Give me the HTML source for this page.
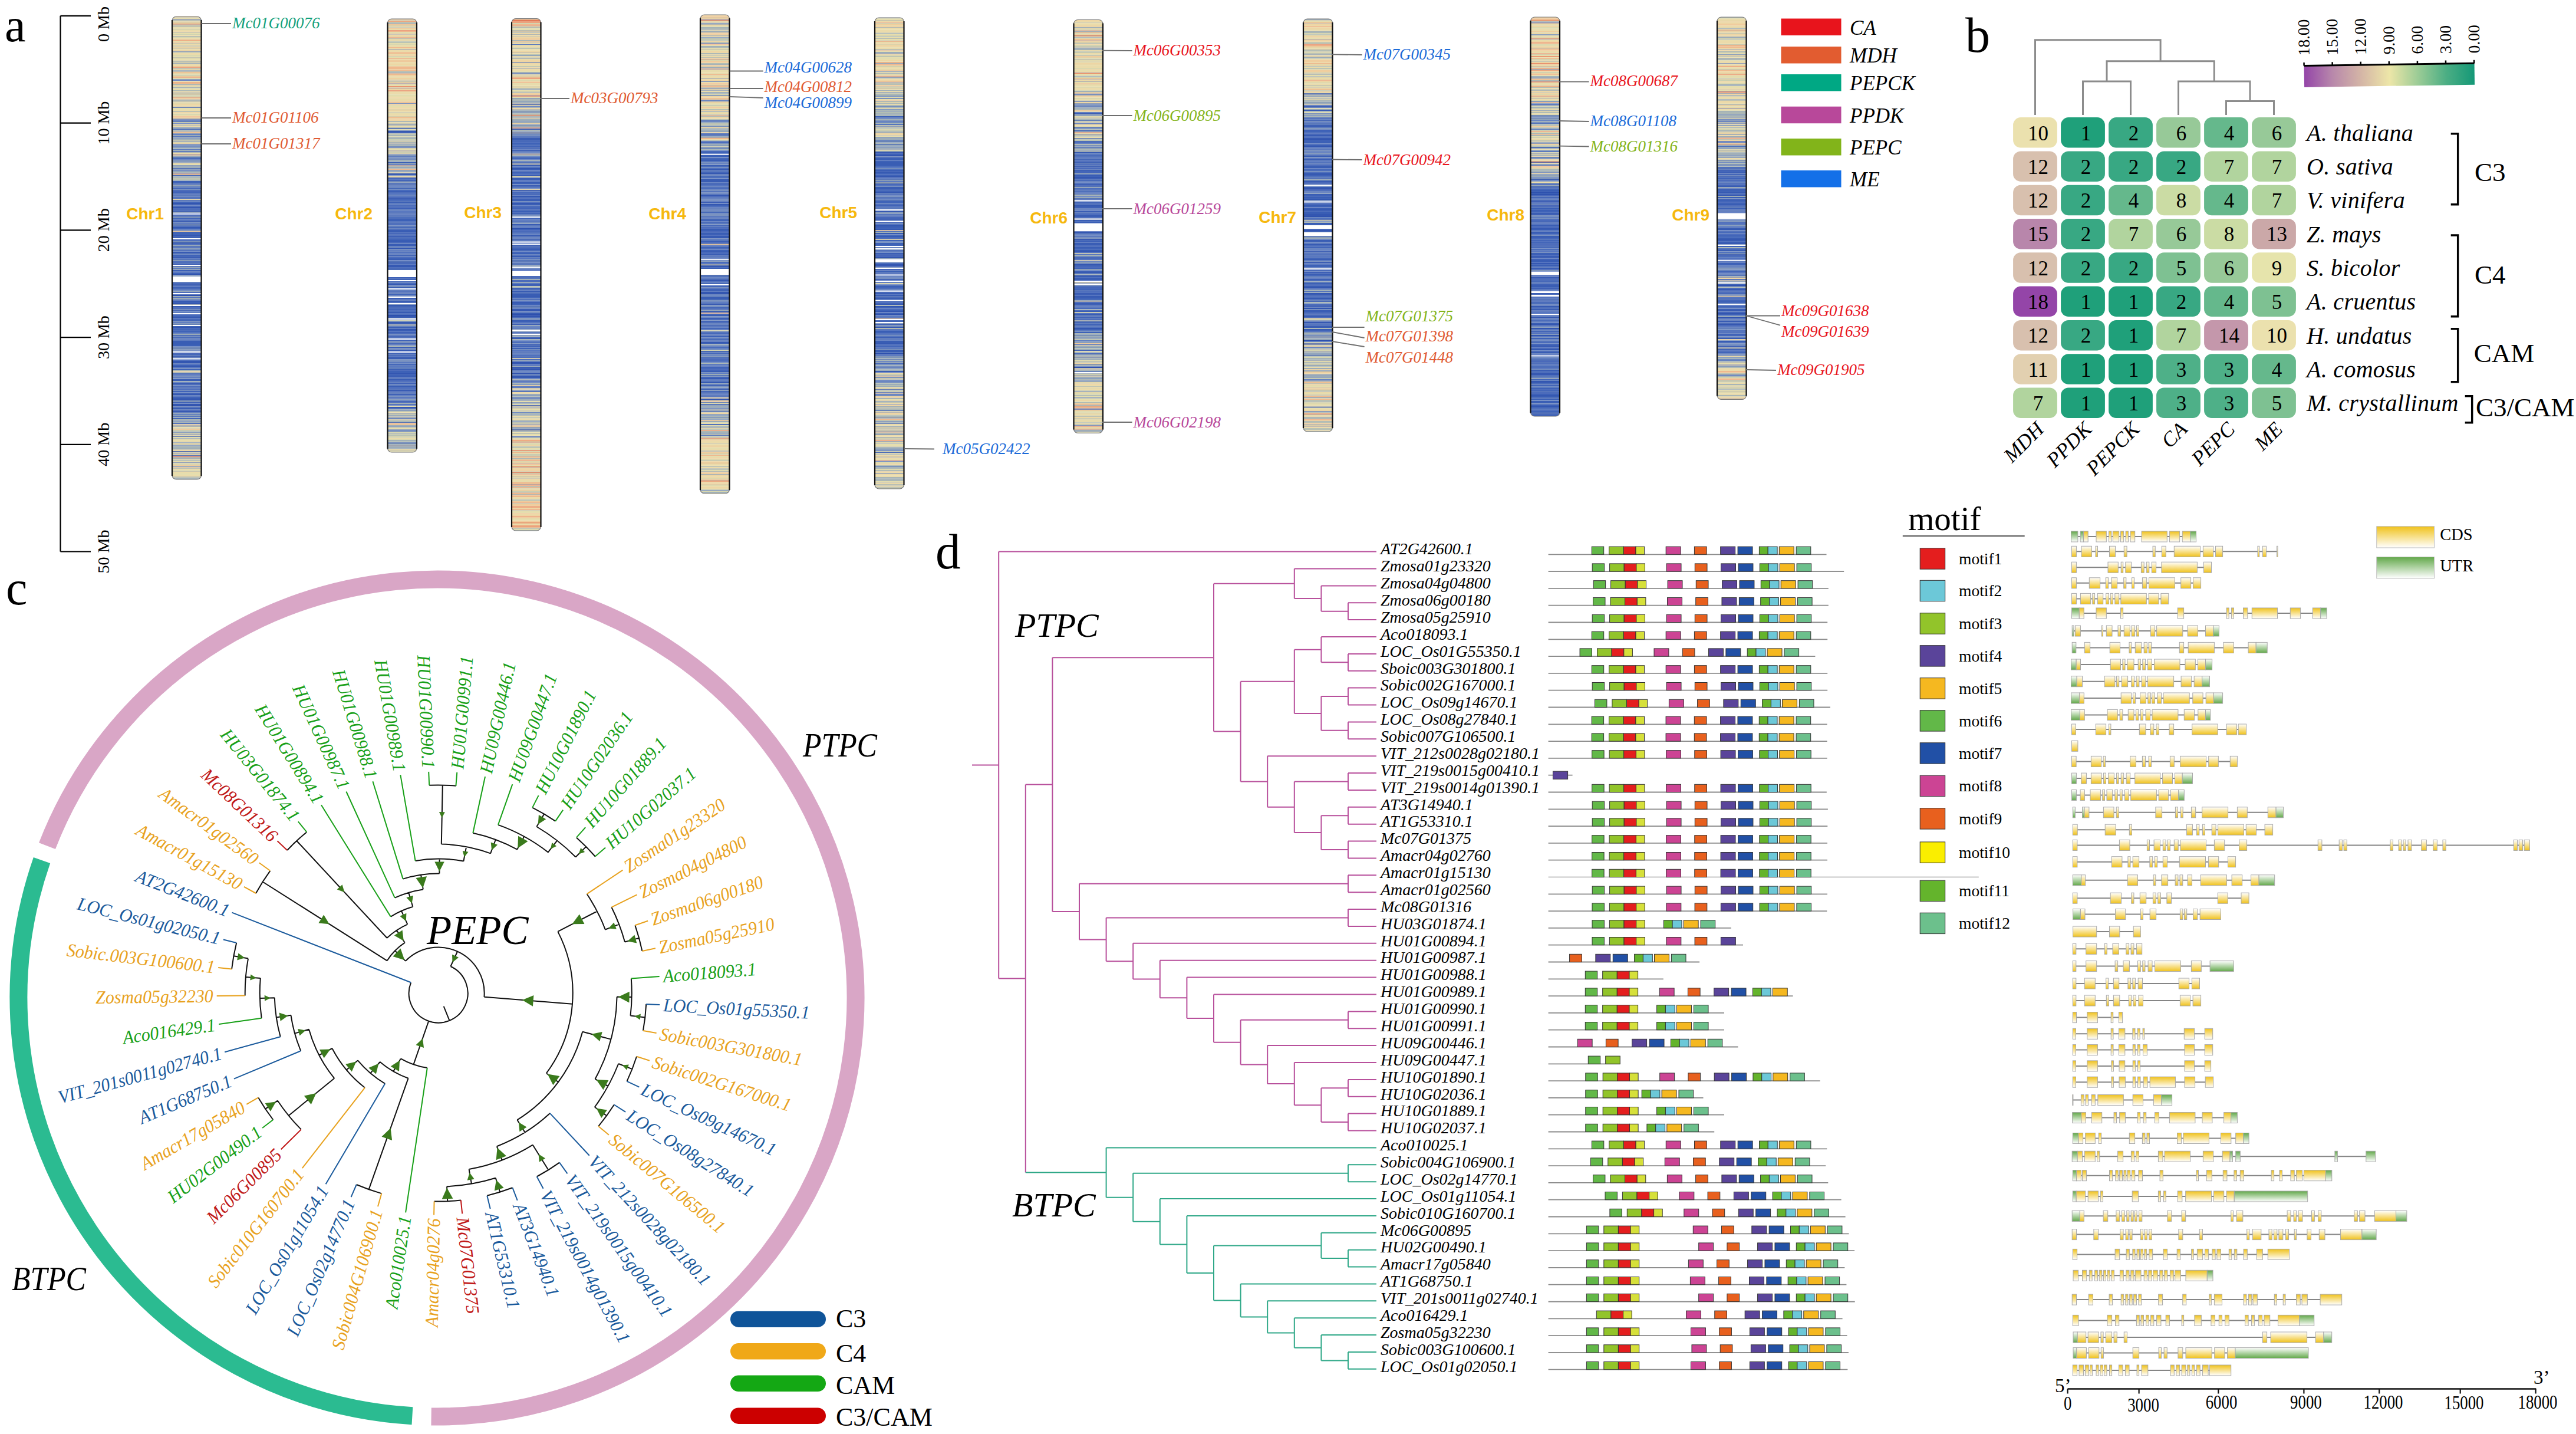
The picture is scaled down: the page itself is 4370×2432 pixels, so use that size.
<!DOCTYPE html>
<html><head><meta charset="utf-8"><title>figure</title>
<style>html,body{margin:0;padding:0;background:#fff;overflow:hidden} svg{display:block}</style></head>
<body><svg width="4370" height="2432" viewBox="0 0 4370 2432">
<defs><clipPath id="chrclip0"><rect x="0" y="0" width="49.5" height="785.0" rx="7"/></clipPath>
<clipPath id="chrclip1"><rect x="0" y="0" width="49.5" height="735.0" rx="7"/></clipPath>
<clipPath id="chrclip2"><rect x="0" y="0" width="49.5" height="868.5" rx="7"/></clipPath>
<clipPath id="chrclip3"><rect x="0" y="0" width="49.5" height="812.0" rx="7"/></clipPath>
<clipPath id="chrclip4"><rect x="0" y="0" width="49.5" height="799.0" rx="7"/></clipPath>
<clipPath id="chrclip5"><rect x="0" y="0" width="49.5" height="701.0" rx="7"/></clipPath>
<clipPath id="chrclip6"><rect x="0" y="0" width="49.5" height="700.0" rx="7"/></clipPath>
<clipPath id="chrclip7"><rect x="0" y="0" width="49.5" height="677.0" rx="7"/></clipPath>
<clipPath id="chrclip8"><rect x="0" y="0" width="49.5" height="648.5" rx="7"/></clipPath></defs>
<rect width="4370" height="2432" fill="#fff"/>
<text x="8" y="70" font-family="'Liberation Serif', serif" font-size="80">a</text>
<g stroke="#000" stroke-width="2.2" fill="none">
<path d="M102.5,26.8 V935.5"/>
<path d="M102.5,26.8 H154"/>
<path d="M102.5,208.6 H154"/>
<path d="M102.5,390.3 H154"/>
<path d="M102.5,572.1 H154"/>
<path d="M102.5,753.8 H154"/>
<path d="M102.5,935.5 H154"/>
</g>
<text transform="translate(184.5,41.0) rotate(-90)" text-anchor="middle" font-family="'Liberation Serif', serif" font-size="28">0 Mb</text>
<text transform="translate(184.5,208.6) rotate(-90)" text-anchor="middle" font-family="'Liberation Serif', serif" font-size="28">10 Mb</text>
<text transform="translate(184.5,390.3) rotate(-90)" text-anchor="middle" font-family="'Liberation Serif', serif" font-size="28">20 Mb</text>
<text transform="translate(184.5,572.1) rotate(-90)" text-anchor="middle" font-family="'Liberation Serif', serif" font-size="28">30 Mb</text>
<text transform="translate(184.5,753.8) rotate(-90)" text-anchor="middle" font-family="'Liberation Serif', serif" font-size="28">40 Mb</text>
<text transform="translate(184.5,935.5) rotate(-90)" text-anchor="middle" font-family="'Liberation Serif', serif" font-size="28">50 Mb</text>
<g transform="translate(292,28)"><g clip-path="url(#chrclip0)">
<path d="M0 296.4h49.5v1.5H0zM0 316.8h49.5v1.5H0zM0 330.0h49.5v1.5H0zM0 332.4h49.5v2.7H0zM0 356.4h49.5v1.5H0zM0 382.8h49.5v1.5H0zM0 385.2h49.5v1.5H0zM0 390.0h49.5v1.5H0zM0 408.0h49.5v1.5H0zM0 436.8h49.5v1.5H0zM0 452.4h49.5v1.5H0zM0 459.6h49.5v1.5H0zM0 471.6h49.5v2.7H0zM0 492.0h49.5v1.5H0zM0 510.0h49.5v1.5H0zM0 570.0h49.5v1.5H0zM0 576.0h49.5v1.5H0zM0 660.0h49.5v1.5H0zM0 667.2h49.5v1.5H0z" fill="#2d50ae"/>
<path d="M0 177.6h49.5v1.5H0zM0 284.4h49.5v1.5H0zM0 286.8h49.5v1.5H0zM0 295.2h49.5v1.5H0zM0 322.8h49.5v2.7H0zM0 336.0h49.5v1.5H0zM0 346.8h49.5v1.5H0zM0 351.6h49.5v1.5H0zM0 370.8h49.5v2.7H0zM0 376.8h49.5v2.7H0zM0 399.6h49.5v1.5H0zM0 414.0h49.5v1.5H0zM0 416.4h49.5v1.5H0zM0 420.0h49.5v1.5H0zM0 423.6h49.5v1.5H0zM0 442.8h49.5v1.5H0zM0 453.6h49.5v1.5H0zM0 456.0h49.5v1.5H0zM0 481.2h49.5v2.7H0zM0 486.0h49.5v2.7H0zM0 494.4h49.5v1.5H0zM0 498.0h49.5v1.5H0zM0 505.2h49.5v1.5H0zM0 517.2h49.5v1.5H0zM0 525.6h49.5v3.9H0zM0 540.0h49.5v1.5H0zM0 571.2h49.5v1.5H0zM0 577.2h49.5v1.5H0zM0 583.2h49.5v5.1H0zM0 589.2h49.5v1.5H0zM0 592.8h49.5v1.5H0zM0 606.0h49.5v1.5H0zM0 621.6h49.5v1.5H0zM0 632.4h49.5v1.5H0zM0 640.8h49.5v1.5H0zM0 648.0h49.5v2.7H0zM0 656.4h49.5v3.9H0zM0 668.4h49.5v2.7H0zM0 736.8h49.5v1.5H0zM0 746.4h49.5v1.5H0z" fill="#3356b1"/>
<path d="M0 153.6h49.5v1.5H0zM0 199.2h49.5v1.5H0zM0 211.2h49.5v1.5H0zM0 229.2h49.5v1.5H0zM0 238.8h49.5v2.7H0zM0 256.8h49.5v1.5H0zM0 279.6h49.5v1.5H0zM0 290.4h49.5v1.5H0zM0 294.0h49.5v1.5H0zM0 298.8h49.5v1.5H0zM0 302.4h49.5v1.5H0zM0 310.8h49.5v1.5H0zM0 313.2h49.5v1.5H0zM0 315.6h49.5v1.5H0zM0 318.0h49.5v1.5H0zM0 325.2h49.5v2.7H0zM0 328.8h49.5v1.5H0zM0 337.2h49.5v1.5H0zM0 340.8h49.5v1.5H0zM0 355.2h49.5v1.5H0zM0 357.6h49.5v1.5H0zM0 360.0h49.5v1.5H0zM0 373.2h49.5v2.7H0zM0 379.2h49.5v1.5H0zM0 384.0h49.5v1.5H0zM0 396.0h49.5v1.5H0zM0 400.8h49.5v1.5H0zM0 405.6h49.5v1.5H0zM0 411.6h49.5v1.5H0zM0 415.2h49.5v1.5H0zM0 418.8h49.5v1.5H0zM0 427.2h49.5v1.5H0zM0 429.6h49.5v1.5H0zM0 433.2h49.5v1.5H0zM0 435.6h49.5v1.5H0zM0 440.4h49.5v1.5H0zM0 447.6h49.5v1.5H0zM0 464.4h49.5v1.5H0zM0 468.0h49.5v1.5H0zM0 475.2h49.5v1.5H0zM0 484.8h49.5v1.5H0zM0 490.8h49.5v1.5H0zM0 493.2h49.5v1.5H0zM0 507.6h49.5v1.5H0zM0 513.6h49.5v1.5H0zM0 523.2h49.5v1.5H0zM0 537.6h49.5v1.5H0zM0 541.2h49.5v1.5H0zM0 543.6h49.5v1.5H0zM0 549.6h49.5v7.5H0zM0 558.0h49.5v1.5H0zM0 560.4h49.5v1.5H0zM0 562.8h49.5v1.5H0zM0 573.6h49.5v1.5H0zM0 580.8h49.5v1.5H0zM0 591.6h49.5v1.5H0zM0 608.4h49.5v1.5H0zM0 614.4h49.5v1.5H0zM0 616.8h49.5v1.5H0zM0 622.8h49.5v1.5H0zM0 627.6h49.5v1.5H0zM0 631.2h49.5v1.5H0zM0 638.4h49.5v2.7H0zM0 643.2h49.5v1.5H0zM0 645.6h49.5v2.7H0zM0 650.4h49.5v1.5H0zM0 652.8h49.5v2.7H0zM0 662.4h49.5v3.9H0zM0 680.4h49.5v1.5H0zM0 711.6h49.5v1.5H0z" fill="#395db4"/>
<path d="M0 208.8h49.5v1.5H0zM0 224.4h49.5v1.5H0zM0 242.4h49.5v1.5H0zM0 259.2h49.5v1.5H0zM0 268.8h49.5v1.5H0zM0 278.4h49.5v1.5H0zM0 280.8h49.5v1.5H0zM0 289.2h49.5v1.5H0zM0 297.6h49.5v1.5H0zM0 301.2h49.5v1.5H0zM0 306.0h49.5v1.5H0zM0 314.4h49.5v1.5H0zM0 321.6h49.5v1.5H0zM0 338.4h49.5v1.5H0zM0 342.0h49.5v1.5H0zM0 349.2h49.5v1.5H0zM0 354.0h49.5v1.5H0zM0 358.8h49.5v1.5H0zM0 362.4h49.5v1.5H0zM0 364.8h49.5v6.3H0zM0 380.4h49.5v1.5H0zM0 386.4h49.5v1.5H0zM0 391.2h49.5v1.5H0zM0 398.4h49.5v1.5H0zM0 403.2h49.5v2.7H0zM0 409.2h49.5v1.5H0zM0 421.2h49.5v1.5H0zM0 430.8h49.5v1.5H0zM0 434.4h49.5v1.5H0zM0 445.2h49.5v2.7H0zM0 451.2h49.5v1.5H0zM0 458.4h49.5v1.5H0zM0 462.0h49.5v1.5H0zM0 476.4h49.5v1.5H0zM0 483.6h49.5v1.5H0zM0 500.4h49.5v1.5H0zM0 502.8h49.5v2.7H0zM0 506.4h49.5v1.5H0zM0 511.2h49.5v1.5H0zM0 514.8h49.5v1.5H0zM0 522.0h49.5v1.5H0zM0 524.4h49.5v1.5H0zM0 529.2h49.5v2.7H0zM0 532.8h49.5v3.9H0zM0 547.2h49.5v1.5H0zM0 556.8h49.5v1.5H0zM0 568.8h49.5v1.5H0zM0 572.4h49.5v1.5H0zM0 579.6h49.5v1.5H0zM0 582.0h49.5v1.5H0zM0 590.4h49.5v1.5H0zM0 594.0h49.5v1.5H0zM0 597.6h49.5v2.7H0zM0 615.6h49.5v1.5H0zM0 634.8h49.5v2.7H0zM0 673.2h49.5v1.5H0zM0 676.8h49.5v1.5H0zM0 681.6h49.5v1.5H0zM0 744.0h49.5v1.5H0z" fill="#3f63b8"/>
<path d="M0 190.8h49.5v1.5H0zM0 206.4h49.5v1.5H0zM0 228.0h49.5v1.5H0zM0 291.6h49.5v1.5H0zM0 307.2h49.5v2.7H0zM0 319.2h49.5v1.5H0zM0 334.8h49.5v1.5H0zM0 343.2h49.5v1.5H0zM0 345.6h49.5v1.5H0zM0 406.8h49.5v1.5H0zM0 426.0h49.5v1.5H0zM0 441.6h49.5v1.5H0zM0 450.0h49.5v1.5H0zM0 457.2h49.5v1.5H0zM0 460.8h49.5v1.5H0zM0 508.8h49.5v1.5H0zM0 512.4h49.5v1.5H0zM0 531.6h49.5v1.5H0zM0 565.2h49.5v1.5H0zM0 567.6h49.5v1.5H0zM0 595.2h49.5v1.5H0zM0 604.8h49.5v1.5H0zM0 610.8h49.5v1.5H0zM0 626.4h49.5v1.5H0zM0 644.4h49.5v1.5H0zM0 674.4h49.5v1.5H0zM0 690.0h49.5v1.5H0z" fill="#4d6ebb"/>
<path d="M0 33.6h49.5v1.5H0zM0 174.0h49.5v1.5H0zM0 181.2h49.5v1.5H0zM0 187.2h49.5v1.5H0zM0 189.6h49.5v1.5H0zM0 200.4h49.5v1.5H0zM0 202.8h49.5v1.5H0zM0 241.2h49.5v1.5H0zM0 247.2h49.5v1.5H0zM0 265.2h49.5v1.5H0zM0 282.0h49.5v2.7H0zM0 344.4h49.5v1.5H0zM0 350.4h49.5v1.5H0zM0 375.6h49.5v1.5H0zM0 394.8h49.5v1.5H0zM0 410.4h49.5v1.5H0zM0 444.0h49.5v1.5H0zM0 466.8h49.5v1.5H0zM0 470.4h49.5v1.5H0zM0 518.4h49.5v1.5H0zM0 548.4h49.5v1.5H0zM0 624.0h49.5v1.5H0zM0 630.0h49.5v1.5H0zM0 670.8h49.5v1.5H0zM0 678.0h49.5v1.5H0zM0 685.2h49.5v1.5H0zM0 688.8h49.5v1.5H0zM0 715.2h49.5v1.5H0z" fill="#5c7abe"/>
<path d="M0 4.8h49.5v1.5H0zM0 106.8h49.5v2.7H0zM0 135.6h49.5v1.5H0zM0 175.2h49.5v2.7H0zM0 180.0h49.5v1.5H0zM0 198.0h49.5v1.5H0zM0 218.4h49.5v2.7H0zM0 244.8h49.5v1.5H0zM0 252.0h49.5v1.5H0zM0 260.4h49.5v1.5H0zM0 300.0h49.5v1.5H0zM0 304.8h49.5v1.5H0zM0 320.4h49.5v1.5H0zM0 327.6h49.5v1.5H0zM0 361.2h49.5v1.5H0zM0 397.2h49.5v1.5H0zM0 417.6h49.5v1.5H0zM0 422.4h49.5v1.5H0zM0 432.0h49.5v1.5H0zM0 454.8h49.5v1.5H0zM0 463.2h49.5v1.5H0zM0 469.2h49.5v1.5H0zM0 480.0h49.5v1.5H0zM0 495.6h49.5v1.5H0zM0 499.2h49.5v1.5H0zM0 501.6h49.5v1.5H0zM0 519.6h49.5v1.5H0zM0 536.4h49.5v1.5H0zM0 544.8h49.5v2.7H0zM0 559.2h49.5v1.5H0zM0 588.0h49.5v1.5H0zM0 602.4h49.5v1.5H0zM0 607.2h49.5v1.5H0zM0 612.0h49.5v1.5H0zM0 619.2h49.5v2.7H0zM0 625.2h49.5v1.5H0zM0 628.8h49.5v1.5H0zM0 637.2h49.5v1.5H0zM0 642.0h49.5v1.5H0zM0 655.2h49.5v1.5H0zM0 666.0h49.5v1.5H0zM0 692.4h49.5v1.5H0zM0 705.6h49.5v1.5H0zM0 708.0h49.5v1.5H0zM0 756.0h49.5v1.5H0z" fill="#6b86c1"/>
<path d="M0 91.2h49.5v1.5H0zM0 184.8h49.5v1.5H0zM0 204.0h49.5v1.5H0zM0 216.0h49.5v2.7H0zM0 222.0h49.5v1.5H0zM0 225.6h49.5v1.5H0zM0 288.0h49.5v1.5H0zM0 292.8h49.5v1.5H0zM0 303.6h49.5v1.5H0zM0 312.0h49.5v1.5H0zM0 348.0h49.5v1.5H0zM0 388.8h49.5v1.5H0zM0 392.4h49.5v1.5H0zM0 402.0h49.5v1.5H0zM0 438.0h49.5v1.5H0zM0 478.8h49.5v1.5H0zM0 489.6h49.5v1.5H0zM0 496.8h49.5v1.5H0zM0 542.4h49.5v1.5H0zM0 566.4h49.5v1.5H0zM0 574.8h49.5v1.5H0zM0 578.4h49.5v1.5H0zM0 596.4h49.5v1.5H0zM0 609.6h49.5v1.5H0zM0 613.2h49.5v1.5H0zM0 633.6h49.5v1.5H0zM0 661.2h49.5v1.5H0zM0 722.4h49.5v1.5H0zM0 727.2h49.5v1.5H0zM0 762.0h49.5v1.5H0z" fill="#7b93c0"/>
<path d="M0 16.8h49.5v1.5H0zM0 52.8h49.5v1.5H0zM0 58.8h49.5v1.5H0zM0 120.0h49.5v1.5H0zM0 140.4h49.5v1.5H0zM0 171.6h49.5v1.5H0zM0 232.8h49.5v1.5H0zM0 236.4h49.5v1.5H0zM0 243.6h49.5v1.5H0zM0 261.6h49.5v1.5H0zM0 270.0h49.5v1.5H0zM0 439.2h49.5v1.5H0zM0 516.0h49.5v1.5H0zM0 564.0h49.5v1.5H0zM0 686.4h49.5v1.5H0zM0 704.4h49.5v1.5H0zM0 726.0h49.5v1.5H0zM0 740.4h49.5v1.5H0z" fill="#8ca0bd"/>
<path d="M0 8.4h49.5v1.5H0zM0 26.4h49.5v1.5H0zM0 44.4h49.5v1.5H0zM0 50.4h49.5v1.5H0zM0 68.4h49.5v1.5H0zM0 78.0h49.5v2.7H0zM0 87.6h49.5v1.5H0zM0 92.4h49.5v1.5H0zM0 105.6h49.5v1.5H0zM0 128.4h49.5v1.5H0zM0 141.6h49.5v1.5H0zM0 144.0h49.5v1.5H0zM0 160.8h49.5v1.5H0zM0 192.0h49.5v1.5H0zM0 194.4h49.5v1.5H0zM0 205.2h49.5v1.5H0zM0 213.6h49.5v1.5H0zM0 220.8h49.5v1.5H0zM0 237.6h49.5v1.5H0zM0 253.2h49.5v3.9H0zM0 262.8h49.5v1.5H0zM0 272.4h49.5v1.5H0zM0 277.2h49.5v1.5H0zM0 285.6h49.5v1.5H0zM0 331.2h49.5v1.5H0zM0 339.6h49.5v1.5H0zM0 387.6h49.5v1.5H0zM0 393.6h49.5v1.5H0zM0 412.8h49.5v1.5H0zM0 424.8h49.5v1.5H0zM0 428.4h49.5v1.5H0zM0 465.6h49.5v1.5H0zM0 675.6h49.5v1.5H0zM0 679.2h49.5v1.5H0zM0 694.8h49.5v1.5H0zM0 698.4h49.5v1.5H0zM0 703.2h49.5v1.5H0zM0 721.2h49.5v1.5H0zM0 729.6h49.5v1.5H0zM0 732.0h49.5v2.7H0zM0 739.2h49.5v1.5H0zM0 748.8h49.5v1.5H0zM0 752.4h49.5v1.5H0zM0 763.2h49.5v1.5H0zM0 770.4h49.5v1.5H0zM0 781.2h49.5v2.7H0z" fill="#9cacb9"/>
<path d="M0 1.2h49.5v1.5H0zM0 6.0h49.5v1.5H0zM0 13.2h49.5v2.7H0zM0 20.4h49.5v1.5H0zM0 48.0h49.5v1.5H0zM0 60.0h49.5v1.5H0zM0 74.4h49.5v2.7H0zM0 98.4h49.5v1.5H0zM0 114.0h49.5v2.7H0zM0 124.8h49.5v1.5H0zM0 152.4h49.5v1.5H0zM0 188.4h49.5v1.5H0zM0 193.2h49.5v1.5H0zM0 207.6h49.5v1.5H0zM0 223.2h49.5v1.5H0zM0 226.8h49.5v1.5H0zM0 235.2h49.5v1.5H0zM0 246.0h49.5v1.5H0zM0 258.0h49.5v1.5H0zM0 264.0h49.5v1.5H0zM0 271.2h49.5v1.5H0zM0 273.6h49.5v1.5H0zM0 276.0h49.5v1.5H0zM0 352.8h49.5v1.5H0zM0 381.6h49.5v1.5H0zM0 474.0h49.5v1.5H0zM0 477.6h49.5v1.5H0zM0 520.8h49.5v1.5H0zM0 538.8h49.5v1.5H0zM0 561.6h49.5v1.5H0zM0 618.0h49.5v1.5H0zM0 651.6h49.5v1.5H0zM0 672.0h49.5v1.5H0zM0 682.8h49.5v2.7H0zM0 687.6h49.5v1.5H0zM0 700.8h49.5v1.5H0zM0 710.4h49.5v1.5H0zM0 728.4h49.5v1.5H0zM0 730.8h49.5v1.5H0zM0 742.8h49.5v1.5H0zM0 751.2h49.5v1.5H0zM0 759.6h49.5v1.5H0zM0 765.6h49.5v1.5H0zM0 778.8h49.5v1.5H0zM0 783.6h49.5v2.7H0z" fill="#acb8b6"/>
<path d="M0 90.0h49.5v1.5H0zM0 129.6h49.5v1.5H0zM0 132.0h49.5v1.5H0zM0 201.6h49.5v1.5H0zM0 267.6h49.5v1.5H0zM0 448.8h49.5v1.5H0zM0 600.0h49.5v1.5H0z" fill="#bbc4b3"/>
<path d="M0 30.0h49.5v1.5H0zM0 64.8h49.5v1.5H0zM0 126.0h49.5v1.5H0zM0 133.2h49.5v1.5H0zM0 164.4h49.5v1.5H0z" fill="#cad0b1"/>
<path d="M0 34.8h49.5v1.5H0zM0 38.4h49.5v1.5H0zM0 70.8h49.5v1.5H0zM0 99.6h49.5v1.5H0zM0 104.4h49.5v1.5H0zM0 117.6h49.5v1.5H0zM0 121.2h49.5v1.5H0zM0 146.4h49.5v1.5H0zM0 165.6h49.5v1.5H0zM0 178.8h49.5v1.5H0zM0 274.8h49.5v1.5H0zM0 702.0h49.5v1.5H0zM0 714.0h49.5v1.5H0zM0 757.2h49.5v1.5H0zM0 769.2h49.5v1.5H0z" fill="#d8d7af"/>
<path d="M0 2.4h49.5v1.5H0zM0 10.8h49.5v1.5H0zM0 18.0h49.5v1.5H0zM0 21.6h49.5v1.5H0zM0 24.0h49.5v1.5H0zM0 27.6h49.5v2.7H0zM0 32.4h49.5v1.5H0zM0 36.0h49.5v1.5H0zM0 42.0h49.5v1.5H0zM0 56.4h49.5v1.5H0zM0 66.0h49.5v2.7H0zM0 72.0h49.5v1.5H0zM0 86.4h49.5v1.5H0zM0 96.0h49.5v2.7H0zM0 122.4h49.5v1.5H0zM0 134.4h49.5v1.5H0zM0 150.0h49.5v1.5H0zM0 154.8h49.5v3.9H0zM0 159.6h49.5v1.5H0zM0 168.0h49.5v1.5H0zM0 210.0h49.5v1.5H0zM0 212.4h49.5v1.5H0zM0 230.4h49.5v1.5H0zM0 249.6h49.5v2.7H0zM0 488.4h49.5v1.5H0zM0 603.6h49.5v1.5H0zM0 696.0h49.5v1.5H0zM0 706.8h49.5v1.5H0zM0 712.8h49.5v1.5H0zM0 716.4h49.5v1.5H0zM0 718.8h49.5v1.5H0zM0 753.6h49.5v1.5H0zM0 758.4h49.5v1.5H0zM0 766.8h49.5v1.5H0zM0 774.0h49.5v3.9H0z" fill="#e5deae"/>
<path d="M0 3.6h49.5v1.5H0zM0 7.2h49.5v1.5H0zM0 15.6h49.5v1.5H0zM0 19.2h49.5v1.5H0zM0 22.8h49.5v1.5H0zM0 31.2h49.5v1.5H0zM0 40.8h49.5v1.5H0zM0 45.6h49.5v2.7H0zM0 49.2h49.5v1.5H0zM0 54.0h49.5v2.7H0zM0 61.2h49.5v3.9H0zM0 69.6h49.5v1.5H0zM0 73.2h49.5v1.5H0zM0 76.8h49.5v1.5H0zM0 80.4h49.5v3.9H0zM0 88.8h49.5v1.5H0zM0 100.8h49.5v1.5H0zM0 103.2h49.5v1.5H0zM0 109.2h49.5v1.5H0zM0 118.8h49.5v1.5H0zM0 123.6h49.5v1.5H0zM0 142.8h49.5v1.5H0zM0 145.2h49.5v1.5H0zM0 147.6h49.5v1.5H0zM0 158.4h49.5v1.5H0zM0 163.2h49.5v1.5H0zM0 166.8h49.5v1.5H0zM0 182.4h49.5v2.7H0zM0 186.0h49.5v1.5H0zM0 196.8h49.5v1.5H0zM0 231.6h49.5v1.5H0zM0 248.4h49.5v1.5H0zM0 309.6h49.5v1.5H0zM0 697.2h49.5v1.5H0zM0 709.2h49.5v1.5H0zM0 717.6h49.5v1.5H0zM0 720.0h49.5v1.5H0zM0 723.6h49.5v2.7H0zM0 735.6h49.5v1.5H0zM0 738.0h49.5v1.5H0zM0 747.6h49.5v1.5H0zM0 750.0h49.5v1.5H0zM0 754.8h49.5v1.5H0zM0 768.0h49.5v1.5H0zM0 771.6h49.5v2.7H0zM0 777.6h49.5v1.5H0zM0 780.0h49.5v1.5H0z" fill="#ebdbaa"/>
<path d="M0 0.0h49.5v1.5H0zM0 9.6h49.5v1.5H0zM0 25.2h49.5v1.5H0zM0 37.2h49.5v1.5H0zM0 51.6h49.5v1.5H0zM0 84.0h49.5v1.5H0zM0 93.6h49.5v1.5H0zM0 110.4h49.5v1.5H0zM0 116.4h49.5v1.5H0zM0 127.2h49.5v1.5H0zM0 139.2h49.5v1.5H0zM0 148.8h49.5v1.5H0zM0 151.2h49.5v1.5H0zM0 162.0h49.5v1.5H0zM0 170.4h49.5v1.5H0zM0 214.8h49.5v1.5H0zM0 601.2h49.5v1.5H0zM0 691.2h49.5v1.5H0zM0 693.6h49.5v1.5H0zM0 734.4h49.5v1.5H0zM0 741.6h49.5v1.5H0z" fill="#eed5a4"/>
<path d="M0 43.2h49.5v1.5H0zM0 57.6h49.5v1.5H0zM0 130.8h49.5v1.5H0zM0 138.0h49.5v1.5H0zM0 172.8h49.5v1.5H0zM0 363.6h49.5v1.5H0zM0 699.6h49.5v1.5H0zM0 760.8h49.5v1.5H0zM0 764.4h49.5v1.5H0z" fill="#f0cc9d"/>
<path d="M0 94.8h49.5v1.5H0zM0 112.8h49.5v1.5H0zM0 136.8h49.5v1.5H0zM0 169.2h49.5v1.5H0zM0 195.6h49.5v1.5H0zM0 234.0h49.5v1.5H0z" fill="#efb98e"/>
<path d="M0 39.6h49.5v1.5H0zM0 111.6h49.5v1.5H0zM0 266.4h49.5v1.5H0z" fill="#eda57e"/>
<path d="M0 12.0h49.5v1.5H0zM0 85.2h49.5v1.5H0zM0 102.0h49.5v1.5H0zM0 745.2h49.5v1.5H0z" fill="#e78b67"/>
<rect x="0" y="441.0" width="49.5" height="9" fill="#fff"/>
<rect x="0" y="333.8" width="49.5" height="2" fill="#fff"/>
<rect x="0" y="376.0" width="49.5" height="2" fill="#fff"/>
<rect x="0" y="421.0" width="49.5" height="2" fill="#fff"/>
<rect x="0" y="469.0" width="49.5" height="2" fill="#fff"/>
<rect x="0" y="489.0" width="49.5" height="2" fill="#fff"/>
<rect x="0" y="503.0" width="49.5" height="2" fill="#fff"/>
<rect x="0" y="523.0" width="49.5" height="2" fill="#fff"/>
<rect x="0" y="568.0" width="49.5" height="2" fill="#fff"/>
<rect x="0" y="579.6" width="49.5" height="2" fill="#fff"/>
</g>
<rect x="0" y="0" width="49.5" height="785.0" rx="7" fill="none" stroke="#777" stroke-width="1.2"/>
<path d="M0,6 V779.0 M49.5,6 V779.0" stroke="#111" stroke-width="2.2"/></g>
<text x="278" y="372" text-anchor="end" font-family="'Liberation Sans', sans-serif" font-weight="bold" font-size="28" fill="#f6b80e">Chr1</text>
<g transform="translate(657.5,32)"><g clip-path="url(#chrclip1)">
<path d="M0 338.4h49.5v1.5H0zM0 367.2h49.5v1.5H0zM0 378.0h49.5v1.5H0zM0 410.4h49.5v1.5H0zM0 418.8h49.5v1.5H0zM0 430.8h49.5v1.5H0zM0 460.8h49.5v1.5H0zM0 463.2h49.5v1.5H0zM0 471.6h49.5v1.5H0zM0 484.8h49.5v1.5H0zM0 488.4h49.5v1.5H0zM0 501.6h49.5v3.9H0z" fill="#2d50ae"/>
<path d="M0 184.8h49.5v1.5H0zM0 190.8h49.5v2.7H0zM0 280.8h49.5v1.5H0zM0 302.4h49.5v2.7H0zM0 319.2h49.5v1.5H0zM0 358.8h49.5v1.5H0zM0 368.4h49.5v1.5H0zM0 382.8h49.5v1.5H0zM0 387.6h49.5v2.7H0zM0 404.4h49.5v1.5H0zM0 412.8h49.5v1.5H0zM0 417.6h49.5v1.5H0zM0 428.4h49.5v1.5H0zM0 435.6h49.5v1.5H0zM0 450.0h49.5v1.5H0zM0 458.4h49.5v1.5H0zM0 470.4h49.5v1.5H0zM0 474.0h49.5v1.5H0zM0 477.6h49.5v1.5H0zM0 493.2h49.5v1.5H0zM0 498.0h49.5v1.5H0zM0 508.8h49.5v1.5H0zM0 514.8h49.5v1.5H0zM0 517.2h49.5v1.5H0zM0 525.6h49.5v2.7H0zM0 543.6h49.5v1.5H0zM0 561.6h49.5v1.5H0zM0 595.2h49.5v1.5H0zM0 600.0h49.5v2.7H0zM0 607.2h49.5v1.5H0zM0 613.2h49.5v1.5H0zM0 628.8h49.5v1.5H0zM0 631.2h49.5v1.5H0zM0 633.6h49.5v1.5H0zM0 643.2h49.5v1.5H0zM0 648.0h49.5v1.5H0zM0 650.4h49.5v1.5H0zM0 657.6h49.5v2.7H0z" fill="#3356b1"/>
<path d="M0 189.6h49.5v1.5H0zM0 217.2h49.5v1.5H0zM0 242.4h49.5v2.7H0zM0 247.2h49.5v1.5H0zM0 261.6h49.5v3.9H0zM0 271.2h49.5v1.5H0zM0 273.6h49.5v1.5H0zM0 278.4h49.5v1.5H0zM0 286.8h49.5v1.5H0zM0 289.2h49.5v1.5H0zM0 291.6h49.5v1.5H0zM0 295.2h49.5v1.5H0zM0 300.0h49.5v1.5H0zM0 308.4h49.5v1.5H0zM0 310.8h49.5v2.7H0zM0 320.4h49.5v1.5H0zM0 325.2h49.5v1.5H0zM0 333.6h49.5v1.5H0zM0 337.2h49.5v1.5H0zM0 342.0h49.5v1.5H0zM0 345.6h49.5v1.5H0zM0 352.8h49.5v1.5H0zM0 360.0h49.5v2.7H0zM0 363.6h49.5v1.5H0zM0 369.6h49.5v1.5H0zM0 373.2h49.5v5.1H0zM0 379.2h49.5v1.5H0zM0 381.6h49.5v1.5H0zM0 384.0h49.5v1.5H0zM0 391.2h49.5v1.5H0zM0 400.8h49.5v1.5H0zM0 403.2h49.5v1.5H0zM0 406.8h49.5v2.7H0zM0 414.0h49.5v1.5H0zM0 421.2h49.5v2.7H0zM0 424.8h49.5v2.7H0zM0 432.0h49.5v2.7H0zM0 436.8h49.5v2.7H0zM0 440.4h49.5v2.7H0zM0 454.8h49.5v1.5H0zM0 465.6h49.5v1.5H0zM0 468.0h49.5v1.5H0zM0 475.2h49.5v1.5H0zM0 478.8h49.5v1.5H0zM0 486.0h49.5v2.7H0zM0 492.0h49.5v1.5H0zM0 496.8h49.5v1.5H0zM0 505.2h49.5v2.7H0zM0 513.6h49.5v1.5H0zM0 516.0h49.5v1.5H0zM0 522.0h49.5v2.7H0zM0 528.0h49.5v1.5H0zM0 530.4h49.5v1.5H0zM0 536.4h49.5v2.7H0zM0 541.2h49.5v1.5H0zM0 548.4h49.5v2.7H0zM0 556.8h49.5v1.5H0zM0 560.4h49.5v1.5H0zM0 570.0h49.5v1.5H0zM0 573.6h49.5v3.9H0zM0 584.4h49.5v1.5H0zM0 589.2h49.5v1.5H0zM0 594.0h49.5v1.5H0zM0 596.4h49.5v1.5H0zM0 602.4h49.5v1.5H0zM0 604.8h49.5v2.7H0zM0 610.8h49.5v2.7H0zM0 618.0h49.5v1.5H0zM0 621.6h49.5v2.7H0zM0 625.2h49.5v1.5H0zM0 630.0h49.5v1.5H0zM0 636.0h49.5v2.7H0zM0 649.2h49.5v1.5H0zM0 678.0h49.5v1.5H0zM0 684.0h49.5v1.5H0zM0 697.2h49.5v1.5H0zM0 720.0h49.5v1.5H0z" fill="#395db4"/>
<path d="M0 236.4h49.5v1.5H0zM0 268.8h49.5v2.7H0zM0 277.2h49.5v1.5H0zM0 284.4h49.5v1.5H0zM0 290.4h49.5v1.5H0zM0 292.8h49.5v1.5H0zM0 296.4h49.5v1.5H0zM0 306.0h49.5v2.7H0zM0 314.4h49.5v2.7H0zM0 318.0h49.5v1.5H0zM0 321.6h49.5v1.5H0zM0 331.2h49.5v1.5H0zM0 336.0h49.5v1.5H0zM0 339.6h49.5v2.7H0zM0 343.2h49.5v1.5H0zM0 348.0h49.5v1.5H0zM0 356.4h49.5v2.7H0zM0 372.0h49.5v1.5H0zM0 385.2h49.5v1.5H0zM0 396.0h49.5v1.5H0zM0 405.6h49.5v1.5H0zM0 416.4h49.5v1.5H0zM0 420.0h49.5v1.5H0zM0 427.2h49.5v1.5H0zM0 429.6h49.5v1.5H0zM0 439.2h49.5v1.5H0zM0 444.0h49.5v2.7H0zM0 448.8h49.5v1.5H0zM0 452.4h49.5v1.5H0zM0 456.0h49.5v2.7H0zM0 466.8h49.5v1.5H0zM0 472.8h49.5v1.5H0zM0 480.0h49.5v1.5H0zM0 482.4h49.5v1.5H0zM0 490.8h49.5v1.5H0zM0 494.4h49.5v1.5H0zM0 499.2h49.5v1.5H0zM0 519.6h49.5v1.5H0zM0 529.2h49.5v1.5H0zM0 531.6h49.5v1.5H0zM0 534.0h49.5v1.5H0zM0 544.8h49.5v2.7H0zM0 555.6h49.5v1.5H0zM0 562.8h49.5v1.5H0zM0 565.2h49.5v3.9H0zM0 571.2h49.5v1.5H0zM0 582.0h49.5v1.5H0zM0 585.6h49.5v1.5H0zM0 592.8h49.5v1.5H0zM0 597.6h49.5v2.7H0zM0 603.6h49.5v1.5H0zM0 614.4h49.5v1.5H0zM0 624.0h49.5v1.5H0zM0 626.4h49.5v1.5H0zM0 640.8h49.5v1.5H0zM0 652.8h49.5v1.5H0zM0 660.0h49.5v1.5H0zM0 691.2h49.5v1.5H0z" fill="#3f63b8"/>
<path d="M0 230.4h49.5v1.5H0zM0 272.4h49.5v1.5H0zM0 274.8h49.5v1.5H0zM0 294.0h49.5v1.5H0zM0 301.2h49.5v1.5H0zM0 304.8h49.5v1.5H0zM0 326.4h49.5v1.5H0zM0 351.6h49.5v1.5H0zM0 362.4h49.5v1.5H0zM0 366.0h49.5v1.5H0zM0 397.2h49.5v1.5H0zM0 415.2h49.5v1.5H0zM0 447.6h49.5v1.5H0zM0 481.2h49.5v1.5H0zM0 495.6h49.5v1.5H0zM0 500.4h49.5v1.5H0zM0 532.8h49.5v1.5H0zM0 540.0h49.5v1.5H0zM0 572.4h49.5v1.5H0zM0 588.0h49.5v1.5H0zM0 590.4h49.5v1.5H0zM0 609.6h49.5v1.5H0zM0 616.8h49.5v1.5H0zM0 722.4h49.5v1.5H0z" fill="#4d6ebb"/>
<path d="M0 51.6h49.5v1.5H0zM0 116.4h49.5v1.5H0zM0 211.2h49.5v1.5H0zM0 216.0h49.5v1.5H0zM0 223.2h49.5v1.5H0zM0 232.8h49.5v1.5H0zM0 237.6h49.5v1.5H0zM0 246.0h49.5v1.5H0zM0 283.2h49.5v1.5H0zM0 327.6h49.5v2.7H0zM0 332.4h49.5v1.5H0zM0 344.4h49.5v1.5H0zM0 346.8h49.5v1.5H0zM0 349.2h49.5v1.5H0zM0 364.8h49.5v1.5H0zM0 392.4h49.5v1.5H0zM0 423.6h49.5v1.5H0zM0 434.4h49.5v1.5H0zM0 462.0h49.5v1.5H0zM0 510.0h49.5v1.5H0zM0 512.4h49.5v1.5H0zM0 524.4h49.5v1.5H0zM0 538.8h49.5v1.5H0zM0 552.0h49.5v1.5H0zM0 564.0h49.5v1.5H0zM0 627.6h49.5v1.5H0zM0 638.4h49.5v1.5H0zM0 655.2h49.5v1.5H0zM0 668.4h49.5v1.5H0zM0 699.6h49.5v1.5H0z" fill="#5c7abe"/>
<path d="M0 109.2h49.5v1.5H0zM0 193.2h49.5v1.5H0zM0 229.2h49.5v1.5H0zM0 234.0h49.5v1.5H0zM0 256.8h49.5v1.5H0zM0 282.0h49.5v1.5H0zM0 297.6h49.5v2.7H0zM0 309.6h49.5v1.5H0zM0 313.2h49.5v1.5H0zM0 316.8h49.5v1.5H0zM0 322.8h49.5v2.7H0zM0 330.0h49.5v1.5H0zM0 334.8h49.5v1.5H0zM0 354.0h49.5v2.7H0zM0 370.8h49.5v1.5H0zM0 380.4h49.5v1.5H0zM0 393.6h49.5v2.7H0zM0 398.4h49.5v2.7H0zM0 402.0h49.5v1.5H0zM0 409.2h49.5v1.5H0zM0 442.8h49.5v1.5H0zM0 446.4h49.5v1.5H0zM0 451.2h49.5v1.5H0zM0 459.6h49.5v1.5H0zM0 476.4h49.5v1.5H0zM0 489.6h49.5v1.5H0zM0 520.8h49.5v1.5H0zM0 542.4h49.5v1.5H0zM0 550.8h49.5v1.5H0zM0 553.2h49.5v1.5H0zM0 558.0h49.5v1.5H0zM0 568.8h49.5v1.5H0zM0 579.6h49.5v1.5H0zM0 583.2h49.5v1.5H0zM0 586.8h49.5v1.5H0zM0 608.4h49.5v1.5H0zM0 615.6h49.5v1.5H0zM0 619.2h49.5v2.7H0zM0 632.4h49.5v1.5H0zM0 634.8h49.5v1.5H0zM0 642.0h49.5v1.5H0zM0 646.8h49.5v1.5H0zM0 654.0h49.5v1.5H0zM0 663.6h49.5v1.5H0zM0 675.6h49.5v1.5H0zM0 702.0h49.5v1.5H0zM0 717.6h49.5v1.5H0zM0 734.4h49.5v1.5H0z" fill="#6b86c1"/>
<path d="M0 142.8h49.5v1.5H0zM0 178.8h49.5v1.5H0zM0 188.4h49.5v1.5H0zM0 226.8h49.5v1.5H0zM0 252.0h49.5v1.5H0zM0 265.2h49.5v1.5H0zM0 279.6h49.5v1.5H0zM0 285.6h49.5v1.5H0zM0 288.0h49.5v1.5H0zM0 350.4h49.5v1.5H0zM0 386.4h49.5v1.5H0zM0 390.0h49.5v1.5H0zM0 411.6h49.5v1.5H0zM0 464.4h49.5v1.5H0zM0 469.2h49.5v1.5H0zM0 483.6h49.5v1.5H0zM0 535.2h49.5v1.5H0zM0 559.2h49.5v1.5H0zM0 577.2h49.5v2.7H0zM0 580.8h49.5v1.5H0zM0 591.6h49.5v1.5H0zM0 639.6h49.5v1.5H0zM0 645.6h49.5v1.5H0zM0 661.2h49.5v1.5H0zM0 676.8h49.5v1.5H0zM0 696.0h49.5v1.5H0z" fill="#7b93c0"/>
<path d="M0 25.2h49.5v1.5H0zM0 158.4h49.5v1.5H0zM0 235.2h49.5v1.5H0zM0 240.0h49.5v1.5H0zM0 258.0h49.5v1.5H0zM0 453.6h49.5v1.5H0zM0 644.4h49.5v1.5H0zM0 673.2h49.5v1.5H0zM0 698.4h49.5v1.5H0zM0 724.8h49.5v1.5H0zM0 728.4h49.5v1.5H0z" fill="#8ca0bd"/>
<path d="M0 6.0h49.5v2.7H0zM0 13.2h49.5v1.5H0zM0 32.4h49.5v1.5H0zM0 39.6h49.5v1.5H0zM0 91.2h49.5v1.5H0zM0 186.0h49.5v1.5H0zM0 198.0h49.5v1.5H0zM0 200.4h49.5v2.7H0zM0 205.2h49.5v1.5H0zM0 208.8h49.5v1.5H0zM0 213.6h49.5v1.5H0zM0 231.6h49.5v1.5H0zM0 241.2h49.5v1.5H0zM0 244.8h49.5v1.5H0zM0 547.2h49.5v1.5H0zM0 670.8h49.5v2.7H0zM0 688.8h49.5v1.5H0zM0 706.8h49.5v1.5H0zM0 714.0h49.5v2.7H0zM0 726.0h49.5v2.7H0z" fill="#9cacb9"/>
<path d="M0 1.2h49.5v1.5H0zM0 37.2h49.5v1.5H0zM0 63.6h49.5v1.5H0zM0 88.8h49.5v2.7H0zM0 103.2h49.5v1.5H0zM0 105.6h49.5v1.5H0zM0 153.6h49.5v1.5H0zM0 172.8h49.5v2.7H0zM0 176.4h49.5v1.5H0zM0 180.0h49.5v1.5H0zM0 183.6h49.5v1.5H0zM0 195.6h49.5v2.7H0zM0 202.8h49.5v1.5H0zM0 207.6h49.5v1.5H0zM0 212.4h49.5v1.5H0zM0 218.4h49.5v1.5H0zM0 249.6h49.5v2.7H0zM0 253.2h49.5v1.5H0zM0 259.2h49.5v1.5H0zM0 507.6h49.5v1.5H0zM0 651.6h49.5v1.5H0zM0 662.4h49.5v1.5H0zM0 664.8h49.5v1.5H0zM0 680.4h49.5v3.9H0zM0 690.0h49.5v1.5H0zM0 704.4h49.5v1.5H0zM0 718.8h49.5v1.5H0zM0 721.2h49.5v1.5H0zM0 732.0h49.5v1.5H0z" fill="#acb8b6"/>
<path d="M0 164.4h49.5v1.5H0zM0 214.8h49.5v1.5H0zM0 238.8h49.5v1.5H0zM0 276.0h49.5v1.5H0zM0 554.4h49.5v1.5H0zM0 705.6h49.5v1.5H0zM0 709.2h49.5v1.5H0zM0 716.4h49.5v1.5H0z" fill="#bbc4b3"/>
<path d="M0 38.4h49.5v1.5H0zM0 146.4h49.5v1.5H0zM0 204.0h49.5v1.5H0z" fill="#cad0b1"/>
<path d="M0 4.8h49.5v1.5H0zM0 10.8h49.5v1.5H0zM0 21.6h49.5v1.5H0zM0 30.0h49.5v1.5H0zM0 33.6h49.5v1.5H0zM0 42.0h49.5v2.7H0zM0 106.8h49.5v1.5H0zM0 128.4h49.5v1.5H0zM0 225.6h49.5v1.5H0zM0 255.6h49.5v1.5H0zM0 511.2h49.5v1.5H0zM0 700.8h49.5v1.5H0zM0 703.2h49.5v1.5H0zM0 712.8h49.5v1.5H0z" fill="#d8d7af"/>
<path d="M0 14.4h49.5v1.5H0zM0 22.8h49.5v1.5H0zM0 40.8h49.5v1.5H0zM0 45.6h49.5v1.5H0zM0 62.4h49.5v1.5H0zM0 64.8h49.5v1.5H0zM0 67.2h49.5v1.5H0zM0 78.0h49.5v2.7H0zM0 98.4h49.5v1.5H0zM0 110.4h49.5v1.5H0zM0 112.8h49.5v1.5H0zM0 124.8h49.5v1.5H0zM0 127.2h49.5v1.5H0zM0 129.6h49.5v2.7H0zM0 134.4h49.5v2.7H0zM0 139.2h49.5v1.5H0zM0 147.6h49.5v2.7H0zM0 156.0h49.5v1.5H0zM0 159.6h49.5v1.5H0zM0 170.4h49.5v1.5H0zM0 187.2h49.5v1.5H0zM0 194.4h49.5v1.5H0zM0 199.2h49.5v1.5H0zM0 220.8h49.5v1.5H0zM0 266.4h49.5v1.5H0zM0 518.4h49.5v1.5H0zM0 656.4h49.5v1.5H0zM0 666.0h49.5v1.5H0zM0 669.6h49.5v1.5H0zM0 686.4h49.5v1.5H0zM0 692.4h49.5v2.7H0zM0 708.0h49.5v1.5H0zM0 711.6h49.5v1.5H0zM0 733.2h49.5v1.5H0z" fill="#e5deae"/>
<path d="M0 2.4h49.5v1.5H0zM0 12.0h49.5v1.5H0zM0 16.8h49.5v2.7H0zM0 24.0h49.5v1.5H0zM0 27.6h49.5v1.5H0zM0 34.8h49.5v2.7H0zM0 44.4h49.5v1.5H0zM0 46.8h49.5v1.5H0zM0 49.2h49.5v2.7H0zM0 52.8h49.5v3.9H0zM0 58.8h49.5v2.7H0zM0 73.2h49.5v3.9H0zM0 85.2h49.5v1.5H0zM0 87.6h49.5v1.5H0zM0 94.8h49.5v1.5H0zM0 97.2h49.5v1.5H0zM0 99.6h49.5v1.5H0zM0 102.0h49.5v1.5H0zM0 111.6h49.5v1.5H0zM0 115.2h49.5v1.5H0zM0 120.0h49.5v1.5H0zM0 122.4h49.5v2.7H0zM0 126.0h49.5v1.5H0zM0 132.0h49.5v1.5H0zM0 138.0h49.5v1.5H0zM0 141.6h49.5v1.5H0zM0 145.2h49.5v1.5H0zM0 150.0h49.5v1.5H0zM0 152.4h49.5v1.5H0zM0 157.2h49.5v1.5H0zM0 160.8h49.5v3.9H0zM0 168.0h49.5v1.5H0zM0 175.2h49.5v1.5H0zM0 177.6h49.5v1.5H0zM0 181.2h49.5v2.7H0zM0 206.4h49.5v1.5H0zM0 210.0h49.5v1.5H0zM0 219.6h49.5v1.5H0zM0 224.4h49.5v1.5H0zM0 228.0h49.5v1.5H0zM0 260.4h49.5v1.5H0zM0 667.2h49.5v1.5H0zM0 674.4h49.5v1.5H0zM0 679.2h49.5v1.5H0zM0 694.8h49.5v1.5H0zM0 710.4h49.5v1.5H0zM0 729.6h49.5v2.7H0z" fill="#ebdbaa"/>
<path d="M0 8.4h49.5v1.5H0zM0 26.4h49.5v1.5H0zM0 28.8h49.5v1.5H0zM0 68.4h49.5v2.7H0zM0 72.0h49.5v1.5H0zM0 76.8h49.5v1.5H0zM0 104.4h49.5v1.5H0zM0 118.8h49.5v1.5H0zM0 133.2h49.5v1.5H0zM0 136.8h49.5v1.5H0zM0 151.2h49.5v1.5H0zM0 154.8h49.5v1.5H0zM0 165.6h49.5v1.5H0zM0 171.6h49.5v1.5H0zM0 222.0h49.5v1.5H0zM0 267.6h49.5v1.5H0zM0 723.6h49.5v1.5H0z" fill="#eed5a4"/>
<path d="M0 0.0h49.5v1.5H0zM0 15.6h49.5v1.5H0zM0 61.2h49.5v1.5H0zM0 96.0h49.5v1.5H0zM0 100.8h49.5v1.5H0zM0 117.6h49.5v1.5H0zM0 144.0h49.5v1.5H0zM0 169.2h49.5v1.5H0z" fill="#f0cc9d"/>
<path d="M0 9.6h49.5v1.5H0zM0 20.4h49.5v1.5H0zM0 48.0h49.5v1.5H0zM0 56.4h49.5v2.7H0zM0 70.8h49.5v1.5H0zM0 80.4h49.5v5.1H0zM0 86.4h49.5v1.5H0zM0 92.4h49.5v2.7H0zM0 108.0h49.5v1.5H0zM0 140.4h49.5v1.5H0zM0 166.8h49.5v1.5H0zM0 248.4h49.5v1.5H0zM0 254.4h49.5v1.5H0zM0 685.2h49.5v1.5H0zM0 687.6h49.5v1.5H0z" fill="#efb98e"/>
<path d="M0 3.6h49.5v1.5H0zM0 31.2h49.5v1.5H0zM0 66.0h49.5v1.5H0z" fill="#eda57e"/>
<path d="M0 19.2h49.5v1.5H0zM0 114.0h49.5v1.5H0zM0 121.2h49.5v1.5H0z" fill="#e78b67"/>
<rect x="0" y="426.0" width="49.5" height="12" fill="#fff"/>
<rect x="0" y="443.0" width="49.5" height="2" fill="#fff"/>
<rect x="0" y="457.0" width="49.5" height="2" fill="#fff"/>
<rect x="0" y="471.0" width="49.5" height="2" fill="#fff"/>
<rect x="0" y="482.0" width="49.5" height="2" fill="#fff"/>
<rect x="0" y="508.0" width="49.5" height="2" fill="#fff"/>
<rect x="0" y="542.0" width="49.5" height="2" fill="#fff"/>
<rect x="0" y="564.0" width="49.5" height="2" fill="#fff"/>
</g>
<rect x="0" y="0" width="49.5" height="735.0" rx="7" fill="none" stroke="#777" stroke-width="1.2"/>
<path d="M0,6 V729.0 M49.5,6 V729.0" stroke="#111" stroke-width="2.2"/></g>
<text x="632" y="372" text-anchor="end" font-family="'Liberation Sans', sans-serif" font-weight="bold" font-size="28" fill="#f6b80e">Chr2</text>
<g transform="translate(868,31.5)"><g clip-path="url(#chrclip2)">
<path d="M0 217.2h49.5v1.5H0zM0 254.4h49.5v1.5H0zM0 282.0h49.5v1.5H0zM0 304.8h49.5v1.5H0zM0 313.2h49.5v1.5H0zM0 322.8h49.5v1.5H0zM0 336.0h49.5v1.5H0zM0 355.2h49.5v1.5H0zM0 374.4h49.5v1.5H0zM0 387.6h49.5v1.5H0zM0 402.0h49.5v1.5H0zM0 436.8h49.5v1.5H0zM0 500.4h49.5v3.9H0zM0 505.2h49.5v1.5H0zM0 518.4h49.5v1.5H0zM0 532.8h49.5v1.5H0zM0 552.0h49.5v1.5H0zM0 573.6h49.5v1.5H0zM0 583.2h49.5v1.5H0zM0 594.0h49.5v1.5H0zM0 601.2h49.5v1.5H0z" fill="#2d50ae"/>
<path d="M0 207.6h49.5v1.5H0zM0 219.6h49.5v1.5H0zM0 223.2h49.5v1.5H0zM0 253.2h49.5v1.5H0zM0 261.6h49.5v1.5H0zM0 266.4h49.5v1.5H0zM0 270.0h49.5v1.5H0zM0 290.4h49.5v2.7H0zM0 297.6h49.5v1.5H0zM0 301.2h49.5v1.5H0zM0 308.4h49.5v1.5H0zM0 310.8h49.5v1.5H0zM0 349.2h49.5v1.5H0zM0 358.8h49.5v1.5H0zM0 391.2h49.5v1.5H0zM0 405.6h49.5v1.5H0zM0 411.6h49.5v1.5H0zM0 414.0h49.5v1.5H0zM0 426.0h49.5v1.5H0zM0 444.0h49.5v1.5H0zM0 452.4h49.5v1.5H0zM0 458.4h49.5v1.5H0zM0 462.0h49.5v1.5H0zM0 470.4h49.5v1.5H0zM0 480.0h49.5v1.5H0zM0 493.2h49.5v2.7H0zM0 504.0h49.5v1.5H0zM0 512.4h49.5v1.5H0zM0 541.2h49.5v1.5H0zM0 582.0h49.5v1.5H0zM0 584.4h49.5v1.5H0zM0 588.0h49.5v1.5H0zM0 590.4h49.5v3.9H0zM0 604.8h49.5v2.7H0zM0 608.4h49.5v1.5H0zM0 696.0h49.5v1.5H0z" fill="#3356b1"/>
<path d="M0 145.2h49.5v1.5H0zM0 156.0h49.5v1.5H0zM0 181.2h49.5v1.5H0zM0 187.2h49.5v1.5H0zM0 195.6h49.5v1.5H0zM0 198.0h49.5v1.5H0zM0 201.6h49.5v5.1H0zM0 208.8h49.5v1.5H0zM0 214.8h49.5v1.5H0zM0 243.6h49.5v2.7H0zM0 247.2h49.5v3.9H0zM0 252.0h49.5v1.5H0zM0 255.6h49.5v1.5H0zM0 259.2h49.5v1.5H0zM0 262.8h49.5v1.5H0zM0 265.2h49.5v1.5H0zM0 272.4h49.5v1.5H0zM0 277.2h49.5v2.7H0zM0 285.6h49.5v1.5H0zM0 300.0h49.5v1.5H0zM0 306.0h49.5v1.5H0zM0 314.4h49.5v1.5H0zM0 318.0h49.5v1.5H0zM0 320.4h49.5v1.5H0zM0 326.4h49.5v1.5H0zM0 328.8h49.5v2.7H0zM0 339.6h49.5v1.5H0zM0 348.0h49.5v1.5H0zM0 354.0h49.5v1.5H0zM0 363.6h49.5v1.5H0zM0 366.0h49.5v3.9H0zM0 380.4h49.5v2.7H0zM0 384.0h49.5v2.7H0zM0 392.4h49.5v1.5H0zM0 396.0h49.5v1.5H0zM0 398.4h49.5v1.5H0zM0 400.8h49.5v1.5H0zM0 420.0h49.5v1.5H0zM0 427.2h49.5v1.5H0zM0 433.2h49.5v3.9H0zM0 438.0h49.5v1.5H0zM0 442.8h49.5v1.5H0zM0 448.8h49.5v2.7H0zM0 457.2h49.5v1.5H0zM0 460.8h49.5v1.5H0zM0 465.6h49.5v5.1H0zM0 476.4h49.5v1.5H0zM0 481.2h49.5v2.7H0zM0 487.2h49.5v1.5H0zM0 489.6h49.5v1.5H0zM0 492.0h49.5v1.5H0zM0 499.2h49.5v1.5H0zM0 511.2h49.5v1.5H0zM0 522.0h49.5v1.5H0zM0 542.4h49.5v1.5H0zM0 554.4h49.5v2.7H0zM0 559.2h49.5v1.5H0zM0 561.6h49.5v1.5H0zM0 566.4h49.5v1.5H0zM0 568.8h49.5v1.5H0zM0 574.8h49.5v1.5H0zM0 580.8h49.5v1.5H0zM0 595.2h49.5v1.5H0zM0 607.2h49.5v1.5H0zM0 631.2h49.5v1.5H0zM0 655.2h49.5v1.5H0zM0 693.6h49.5v1.5H0zM0 698.4h49.5v1.5H0z" fill="#395db4"/>
<path d="M0 192.0h49.5v1.5H0zM0 210.0h49.5v2.7H0zM0 213.6h49.5v1.5H0zM0 216.0h49.5v1.5H0zM0 220.8h49.5v1.5H0zM0 225.6h49.5v1.5H0zM0 230.4h49.5v1.5H0zM0 232.8h49.5v1.5H0zM0 235.2h49.5v2.7H0zM0 260.4h49.5v1.5H0zM0 271.2h49.5v1.5H0zM0 276.0h49.5v1.5H0zM0 279.6h49.5v1.5H0zM0 284.4h49.5v1.5H0zM0 294.0h49.5v1.5H0zM0 296.4h49.5v1.5H0zM0 307.2h49.5v1.5H0zM0 312.0h49.5v1.5H0zM0 315.6h49.5v1.5H0zM0 321.6h49.5v1.5H0zM0 325.2h49.5v1.5H0zM0 327.6h49.5v1.5H0zM0 332.4h49.5v1.5H0zM0 337.2h49.5v2.7H0zM0 342.0h49.5v1.5H0zM0 344.4h49.5v1.5H0zM0 351.6h49.5v1.5H0zM0 356.4h49.5v2.7H0zM0 360.0h49.5v1.5H0zM0 378.0h49.5v2.7H0zM0 388.8h49.5v2.7H0zM0 397.2h49.5v1.5H0zM0 403.2h49.5v1.5H0zM0 406.8h49.5v1.5H0zM0 409.2h49.5v1.5H0zM0 424.8h49.5v1.5H0zM0 428.4h49.5v1.5H0zM0 440.4h49.5v1.5H0zM0 463.2h49.5v1.5H0zM0 471.6h49.5v2.7H0zM0 478.8h49.5v1.5H0zM0 483.6h49.5v2.7H0zM0 495.6h49.5v1.5H0zM0 498.0h49.5v1.5H0zM0 507.6h49.5v1.5H0zM0 510.0h49.5v1.5H0zM0 513.6h49.5v2.7H0zM0 540.0h49.5v1.5H0zM0 549.6h49.5v1.5H0zM0 558.0h49.5v1.5H0zM0 562.8h49.5v1.5H0zM0 571.2h49.5v1.5H0zM0 578.4h49.5v1.5H0zM0 610.8h49.5v1.5H0zM0 616.8h49.5v1.5H0zM0 624.0h49.5v1.5H0z" fill="#3f63b8"/>
<path d="M0 73.2h49.5v1.5H0zM0 134.4h49.5v1.5H0zM0 148.8h49.5v1.5H0zM0 176.4h49.5v1.5H0zM0 186.0h49.5v1.5H0zM0 194.4h49.5v1.5H0zM0 206.4h49.5v1.5H0zM0 212.4h49.5v1.5H0zM0 237.6h49.5v1.5H0zM0 256.8h49.5v1.5H0zM0 264.0h49.5v1.5H0zM0 273.6h49.5v1.5H0zM0 302.4h49.5v2.7H0zM0 319.2h49.5v1.5H0zM0 362.4h49.5v1.5H0zM0 375.6h49.5v1.5H0zM0 382.8h49.5v1.5H0zM0 394.8h49.5v1.5H0zM0 416.4h49.5v2.7H0zM0 430.8h49.5v1.5H0zM0 445.2h49.5v1.5H0zM0 451.2h49.5v1.5H0zM0 456.0h49.5v1.5H0zM0 506.4h49.5v1.5H0zM0 525.6h49.5v1.5H0zM0 531.6h49.5v1.5H0zM0 548.4h49.5v1.5H0zM0 577.2h49.5v1.5H0zM0 585.6h49.5v1.5H0zM0 602.4h49.5v1.5H0zM0 614.4h49.5v1.5H0zM0 622.8h49.5v1.5H0zM0 646.8h49.5v1.5H0z" fill="#4d6ebb"/>
<path d="M0 43.2h49.5v1.5H0zM0 91.2h49.5v1.5H0zM0 142.8h49.5v1.5H0zM0 147.6h49.5v1.5H0zM0 183.6h49.5v1.5H0zM0 199.2h49.5v1.5H0zM0 226.8h49.5v1.5H0zM0 238.8h49.5v1.5H0zM0 274.8h49.5v1.5H0zM0 283.2h49.5v1.5H0zM0 288.0h49.5v1.5H0zM0 292.8h49.5v1.5H0zM0 295.2h49.5v1.5H0zM0 298.8h49.5v1.5H0zM0 316.8h49.5v1.5H0zM0 324.0h49.5v1.5H0zM0 343.2h49.5v1.5H0zM0 350.4h49.5v1.5H0zM0 361.2h49.5v1.5H0zM0 421.2h49.5v1.5H0zM0 429.6h49.5v1.5H0zM0 475.2h49.5v1.5H0zM0 490.8h49.5v1.5H0zM0 517.2h49.5v1.5H0zM0 535.2h49.5v2.7H0zM0 546.0h49.5v2.7H0zM0 553.2h49.5v1.5H0zM0 556.8h49.5v1.5H0zM0 564.0h49.5v1.5H0zM0 570.0h49.5v1.5H0zM0 572.4h49.5v1.5H0zM0 586.8h49.5v1.5H0zM0 597.6h49.5v1.5H0zM0 613.2h49.5v1.5H0zM0 642.0h49.5v1.5H0zM0 644.4h49.5v1.5H0zM0 708.0h49.5v1.5H0z" fill="#5c7abe"/>
<path d="M0 92.4h49.5v1.5H0zM0 129.6h49.5v1.5H0zM0 159.6h49.5v1.5H0zM0 166.8h49.5v1.5H0zM0 178.8h49.5v1.5H0zM0 200.4h49.5v1.5H0zM0 218.4h49.5v1.5H0zM0 222.0h49.5v1.5H0zM0 224.4h49.5v1.5H0zM0 234.0h49.5v1.5H0zM0 241.2h49.5v1.5H0zM0 250.8h49.5v1.5H0zM0 258.0h49.5v1.5H0zM0 268.8h49.5v1.5H0zM0 280.8h49.5v1.5H0zM0 286.8h49.5v1.5H0zM0 331.2h49.5v1.5H0zM0 340.8h49.5v1.5H0zM0 352.8h49.5v1.5H0zM0 364.8h49.5v1.5H0zM0 369.6h49.5v5.1H0zM0 376.8h49.5v1.5H0zM0 386.4h49.5v1.5H0zM0 393.6h49.5v1.5H0zM0 399.6h49.5v1.5H0zM0 404.4h49.5v1.5H0zM0 412.8h49.5v1.5H0zM0 422.4h49.5v2.7H0zM0 447.6h49.5v1.5H0zM0 459.6h49.5v1.5H0zM0 464.4h49.5v1.5H0zM0 474.0h49.5v1.5H0zM0 486.0h49.5v1.5H0zM0 516.0h49.5v1.5H0zM0 520.8h49.5v1.5H0zM0 523.2h49.5v2.7H0zM0 530.4h49.5v1.5H0zM0 544.8h49.5v1.5H0zM0 565.2h49.5v1.5H0zM0 567.6h49.5v1.5H0zM0 596.4h49.5v1.5H0zM0 598.8h49.5v2.7H0zM0 609.6h49.5v1.5H0zM0 615.6h49.5v1.5H0zM0 620.4h49.5v1.5H0zM0 625.2h49.5v1.5H0zM0 627.6h49.5v1.5H0zM0 650.4h49.5v1.5H0zM0 667.2h49.5v1.5H0zM0 681.6h49.5v1.5H0zM0 687.6h49.5v1.5H0zM0 709.2h49.5v1.5H0z" fill="#6b86c1"/>
<path d="M0 120.0h49.5v1.5H0zM0 140.4h49.5v1.5H0zM0 174.0h49.5v1.5H0zM0 228.0h49.5v1.5H0zM0 242.4h49.5v1.5H0zM0 309.6h49.5v1.5H0zM0 333.6h49.5v2.7H0zM0 345.6h49.5v1.5H0zM0 408.0h49.5v1.5H0zM0 415.2h49.5v1.5H0zM0 432.0h49.5v1.5H0zM0 439.2h49.5v1.5H0zM0 477.6h49.5v1.5H0zM0 496.8h49.5v1.5H0zM0 528.0h49.5v1.5H0zM0 534.0h49.5v1.5H0zM0 538.8h49.5v1.5H0zM0 550.8h49.5v1.5H0zM0 560.4h49.5v1.5H0zM0 603.6h49.5v1.5H0zM0 630.0h49.5v1.5H0zM0 632.4h49.5v1.5H0zM0 638.4h49.5v1.5H0zM0 643.2h49.5v1.5H0zM0 817.2h49.5v1.5H0z" fill="#7b93c0"/>
<path d="M0 62.4h49.5v1.5H0zM0 153.6h49.5v1.5H0zM0 158.4h49.5v1.5H0zM0 190.8h49.5v1.5H0zM0 196.8h49.5v1.5H0zM0 346.8h49.5v1.5H0zM0 410.4h49.5v1.5H0zM0 526.8h49.5v1.5H0zM0 637.2h49.5v1.5H0zM0 658.8h49.5v1.5H0zM0 664.8h49.5v1.5H0zM0 670.8h49.5v1.5H0zM0 682.8h49.5v1.5H0zM0 739.2h49.5v1.5H0zM0 789.6h49.5v1.5H0z" fill="#8ca0bd"/>
<path d="M0 14.4h49.5v1.5H0zM0 22.8h49.5v1.5H0zM0 26.4h49.5v1.5H0zM0 37.2h49.5v1.5H0zM0 39.6h49.5v1.5H0zM0 50.4h49.5v1.5H0zM0 56.4h49.5v1.5H0zM0 61.2h49.5v1.5H0zM0 67.2h49.5v1.5H0zM0 84.0h49.5v1.5H0zM0 94.8h49.5v1.5H0zM0 98.4h49.5v1.5H0zM0 124.8h49.5v1.5H0zM0 150.0h49.5v1.5H0zM0 170.4h49.5v3.9H0zM0 182.4h49.5v1.5H0zM0 488.4h49.5v1.5H0zM0 508.8h49.5v1.5H0zM0 519.6h49.5v1.5H0zM0 579.6h49.5v1.5H0zM0 589.2h49.5v1.5H0zM0 619.2h49.5v1.5H0zM0 640.8h49.5v1.5H0zM0 645.6h49.5v1.5H0zM0 652.8h49.5v1.5H0zM0 657.6h49.5v1.5H0zM0 661.2h49.5v1.5H0zM0 672.0h49.5v1.5H0zM0 675.6h49.5v1.5H0zM0 690.0h49.5v1.5H0zM0 694.8h49.5v1.5H0zM0 699.6h49.5v1.5H0zM0 724.8h49.5v1.5H0zM0 727.2h49.5v1.5H0zM0 734.4h49.5v1.5H0zM0 753.6h49.5v1.5H0zM0 768.0h49.5v1.5H0zM0 771.6h49.5v1.5H0zM0 778.8h49.5v1.5H0zM0 793.2h49.5v1.5H0zM0 795.6h49.5v1.5H0zM0 806.4h49.5v1.5H0zM0 814.8h49.5v1.5H0zM0 834.0h49.5v1.5H0zM0 867.6h49.5v1.5H0z" fill="#9cacb9"/>
<path d="M0 12.0h49.5v1.5H0zM0 19.2h49.5v1.5H0zM0 21.6h49.5v1.5H0zM0 30.0h49.5v1.5H0zM0 36.0h49.5v1.5H0zM0 64.8h49.5v1.5H0zM0 80.4h49.5v1.5H0zM0 115.2h49.5v1.5H0zM0 117.6h49.5v2.7H0zM0 123.6h49.5v1.5H0zM0 132.0h49.5v1.5H0zM0 135.6h49.5v5.1H0zM0 141.6h49.5v1.5H0zM0 154.8h49.5v1.5H0zM0 157.2h49.5v1.5H0zM0 162.0h49.5v1.5H0zM0 164.4h49.5v2.7H0zM0 169.2h49.5v1.5H0zM0 175.2h49.5v1.5H0zM0 180.0h49.5v1.5H0zM0 188.4h49.5v2.7H0zM0 231.6h49.5v1.5H0zM0 240.0h49.5v1.5H0zM0 418.8h49.5v1.5H0zM0 446.4h49.5v1.5H0zM0 454.8h49.5v1.5H0zM0 543.6h49.5v1.5H0zM0 618.0h49.5v1.5H0zM0 636.0h49.5v1.5H0zM0 651.6h49.5v1.5H0zM0 668.4h49.5v2.7H0zM0 684.0h49.5v1.5H0zM0 686.4h49.5v1.5H0zM0 692.4h49.5v1.5H0zM0 703.2h49.5v1.5H0zM0 718.8h49.5v1.5H0zM0 741.6h49.5v1.5H0zM0 745.2h49.5v2.7H0zM0 751.2h49.5v1.5H0zM0 760.8h49.5v1.5H0zM0 775.2h49.5v1.5H0zM0 802.8h49.5v1.5H0zM0 822.0h49.5v1.5H0zM0 864.0h49.5v1.5H0z" fill="#acb8b6"/>
<path d="M0 60.0h49.5v1.5H0zM0 160.8h49.5v1.5H0zM0 441.6h49.5v1.5H0zM0 453.6h49.5v1.5H0zM0 529.2h49.5v1.5H0zM0 537.6h49.5v1.5H0zM0 639.6h49.5v1.5H0zM0 801.6h49.5v1.5H0z" fill="#bbc4b3"/>
<path d="M0 0.0h49.5v1.5H0zM0 7.2h49.5v1.5H0zM0 676.8h49.5v1.5H0zM0 716.4h49.5v1.5H0zM0 730.8h49.5v1.5H0zM0 740.4h49.5v1.5H0zM0 866.4h49.5v1.5H0z" fill="#cad0b1"/>
<path d="M0 16.8h49.5v1.5H0zM0 45.6h49.5v1.5H0zM0 48.0h49.5v1.5H0zM0 81.6h49.5v1.5H0zM0 104.4h49.5v1.5H0zM0 110.4h49.5v1.5H0zM0 680.4h49.5v1.5H0zM0 711.6h49.5v1.5H0zM0 721.2h49.5v1.5H0zM0 726.0h49.5v1.5H0zM0 758.4h49.5v1.5H0zM0 800.4h49.5v1.5H0z" fill="#d8d7af"/>
<path d="M0 8.4h49.5v1.5H0zM0 15.6h49.5v1.5H0zM0 18.0h49.5v1.5H0zM0 27.6h49.5v1.5H0zM0 32.4h49.5v1.5H0zM0 44.4h49.5v1.5H0zM0 49.2h49.5v1.5H0zM0 51.6h49.5v1.5H0zM0 54.0h49.5v1.5H0zM0 68.4h49.5v1.5H0zM0 79.2h49.5v1.5H0zM0 88.8h49.5v2.7H0zM0 105.6h49.5v1.5H0zM0 109.2h49.5v1.5H0zM0 112.8h49.5v1.5H0zM0 121.2h49.5v2.7H0zM0 133.2h49.5v1.5H0zM0 267.6h49.5v1.5H0zM0 612.0h49.5v1.5H0zM0 648.0h49.5v2.7H0zM0 654.0h49.5v1.5H0zM0 662.4h49.5v1.5H0zM0 666.0h49.5v1.5H0zM0 673.2h49.5v1.5H0zM0 700.8h49.5v1.5H0zM0 704.4h49.5v2.7H0zM0 710.4h49.5v1.5H0zM0 712.8h49.5v1.5H0zM0 720.0h49.5v1.5H0zM0 728.4h49.5v2.7H0zM0 733.2h49.5v1.5H0zM0 736.8h49.5v2.7H0zM0 744.0h49.5v1.5H0zM0 750.0h49.5v1.5H0zM0 757.2h49.5v1.5H0zM0 770.4h49.5v1.5H0zM0 777.6h49.5v1.5H0zM0 783.6h49.5v2.7H0zM0 798.0h49.5v1.5H0zM0 812.4h49.5v1.5H0zM0 816.0h49.5v1.5H0zM0 835.2h49.5v3.9H0zM0 847.2h49.5v3.9H0zM0 862.8h49.5v1.5H0zM0 865.2h49.5v1.5H0z" fill="#e5deae"/>
<path d="M0 24.0h49.5v1.5H0zM0 40.8h49.5v2.7H0zM0 52.8h49.5v1.5H0zM0 58.8h49.5v1.5H0zM0 63.6h49.5v1.5H0zM0 66.0h49.5v1.5H0zM0 74.4h49.5v1.5H0zM0 76.8h49.5v2.7H0zM0 85.2h49.5v3.9H0zM0 93.6h49.5v1.5H0zM0 96.0h49.5v1.5H0zM0 102.0h49.5v2.7H0zM0 111.6h49.5v1.5H0zM0 114.0h49.5v1.5H0zM0 116.4h49.5v1.5H0zM0 146.4h49.5v1.5H0zM0 151.2h49.5v1.5H0zM0 246.0h49.5v1.5H0zM0 289.2h49.5v1.5H0zM0 576.0h49.5v1.5H0zM0 626.4h49.5v1.5H0zM0 628.8h49.5v1.5H0zM0 633.6h49.5v2.7H0zM0 660.0h49.5v1.5H0zM0 663.6h49.5v1.5H0zM0 674.4h49.5v1.5H0zM0 678.0h49.5v2.7H0zM0 685.2h49.5v1.5H0zM0 697.2h49.5v1.5H0zM0 702.0h49.5v1.5H0zM0 706.8h49.5v1.5H0zM0 722.4h49.5v1.5H0zM0 762.0h49.5v1.5H0zM0 764.4h49.5v1.5H0zM0 766.8h49.5v1.5H0zM0 774.0h49.5v1.5H0zM0 781.2h49.5v2.7H0zM0 787.2h49.5v1.5H0zM0 792.0h49.5v1.5H0zM0 796.8h49.5v1.5H0zM0 807.6h49.5v1.5H0zM0 811.2h49.5v1.5H0zM0 813.6h49.5v1.5H0zM0 829.2h49.5v1.5H0zM0 832.8h49.5v1.5H0zM0 840.0h49.5v1.5H0zM0 844.8h49.5v1.5H0zM0 850.8h49.5v1.5H0zM0 855.6h49.5v3.9H0z" fill="#ebdbaa"/>
<path d="M0 13.2h49.5v1.5H0zM0 25.2h49.5v1.5H0zM0 28.8h49.5v1.5H0zM0 31.2h49.5v1.5H0zM0 46.8h49.5v1.5H0zM0 55.2h49.5v1.5H0zM0 57.6h49.5v1.5H0zM0 69.6h49.5v3.9H0zM0 75.6h49.5v1.5H0zM0 82.8h49.5v1.5H0zM0 97.2h49.5v1.5H0zM0 126.0h49.5v1.5H0zM0 144.0h49.5v1.5H0zM0 152.4h49.5v1.5H0zM0 168.0h49.5v1.5H0zM0 177.6h49.5v1.5H0zM0 193.2h49.5v1.5H0zM0 621.6h49.5v1.5H0zM0 656.4h49.5v1.5H0zM0 723.6h49.5v1.5H0zM0 752.4h49.5v1.5H0zM0 776.4h49.5v1.5H0zM0 780.0h49.5v1.5H0zM0 820.8h49.5v1.5H0zM0 825.6h49.5v1.5H0zM0 830.4h49.5v1.5H0zM0 841.2h49.5v2.7H0zM0 853.2h49.5v1.5H0z" fill="#eed5a4"/>
<path d="M0 20.4h49.5v1.5H0zM0 33.6h49.5v2.7H0zM0 38.4h49.5v1.5H0zM0 106.8h49.5v1.5H0zM0 127.2h49.5v2.7H0zM0 229.2h49.5v1.5H0zM0 688.8h49.5v1.5H0zM0 691.2h49.5v1.5H0zM0 747.6h49.5v1.5H0zM0 756.0h49.5v1.5H0zM0 763.2h49.5v1.5H0zM0 765.6h49.5v1.5H0zM0 799.2h49.5v1.5H0zM0 818.4h49.5v1.5H0zM0 823.2h49.5v2.7H0zM0 838.8h49.5v1.5H0zM0 852.0h49.5v1.5H0z" fill="#f0cc9d"/>
<path d="M0 3.6h49.5v1.5H0zM0 9.6h49.5v1.5H0zM0 99.6h49.5v1.5H0zM0 108.0h49.5v1.5H0zM0 714.0h49.5v1.5H0zM0 735.6h49.5v1.5H0zM0 754.8h49.5v1.5H0zM0 772.8h49.5v1.5H0zM0 786.0h49.5v1.5H0zM0 794.4h49.5v1.5H0zM0 804.0h49.5v2.7H0zM0 808.8h49.5v2.7H0zM0 846.0h49.5v1.5H0zM0 860.4h49.5v1.5H0z" fill="#efb98e"/>
<path d="M0 1.2h49.5v1.5H0zM0 6.0h49.5v1.5H0zM0 10.8h49.5v1.5H0zM0 184.8h49.5v1.5H0zM0 715.2h49.5v1.5H0zM0 717.6h49.5v1.5H0zM0 742.8h49.5v1.5H0zM0 748.8h49.5v1.5H0zM0 788.4h49.5v1.5H0zM0 790.8h49.5v1.5H0zM0 819.6h49.5v1.5H0zM0 826.8h49.5v2.7H0zM0 831.6h49.5v1.5H0zM0 843.6h49.5v1.5H0zM0 859.2h49.5v1.5H0z" fill="#eda57e"/>
<path d="M0 4.8h49.5v1.5H0zM0 100.8h49.5v1.5H0zM0 130.8h49.5v1.5H0zM0 163.2h49.5v1.5H0zM0 732.0h49.5v1.5H0zM0 759.6h49.5v1.5H0zM0 769.2h49.5v1.5H0zM0 854.4h49.5v1.5H0zM0 861.6h49.5v1.5H0z" fill="#e78b67"/>
<path d="M0 2.4h49.5v1.5H0z" fill="#e07050"/>
<rect x="0" y="427.5" width="49.5" height="9" fill="#fff"/>
<rect x="0" y="335.9" width="49.5" height="2" fill="#fff"/>
<rect x="0" y="378.1" width="49.5" height="2" fill="#fff"/>
<rect x="0" y="381.5" width="49.5" height="2" fill="#fff"/>
<rect x="0" y="420.9" width="49.5" height="2" fill="#fff"/>
<rect x="0" y="528.2" width="49.5" height="2" fill="#fff"/>
<rect x="0" y="534.5" width="49.5" height="2" fill="#fff"/>
</g>
<rect x="0" y="0" width="49.5" height="868.5" rx="7" fill="none" stroke="#777" stroke-width="1.2"/>
<path d="M0,6 V862.5 M49.5,6 V862.5" stroke="#111" stroke-width="2.2"/></g>
<text x="851" y="370" text-anchor="end" font-family="'Liberation Sans', sans-serif" font-weight="bold" font-size="28" fill="#f6b80e">Chr3</text>
<g transform="translate(1188,25)"><g clip-path="url(#chrclip3)">
<path d="M0 201.6h49.5v1.5H0zM0 268.8h49.5v1.5H0zM0 271.2h49.5v1.5H0zM0 282.0h49.5v1.5H0zM0 307.2h49.5v1.5H0zM0 367.2h49.5v1.5H0zM0 375.6h49.5v1.5H0zM0 378.0h49.5v1.5H0zM0 448.8h49.5v2.7H0zM0 513.6h49.5v1.5H0zM0 516.0h49.5v1.5H0zM0 554.4h49.5v1.5H0zM0 616.8h49.5v1.5H0z" fill="#2d50ae"/>
<path d="M0 127.2h49.5v1.5H0zM0 261.6h49.5v1.5H0zM0 278.4h49.5v1.5H0zM0 306.0h49.5v1.5H0zM0 318.0h49.5v1.5H0zM0 320.4h49.5v2.7H0zM0 343.2h49.5v1.5H0zM0 361.2h49.5v1.5H0zM0 363.6h49.5v1.5H0zM0 366.0h49.5v1.5H0zM0 373.2h49.5v1.5H0zM0 385.2h49.5v1.5H0zM0 390.0h49.5v1.5H0zM0 402.0h49.5v1.5H0zM0 409.2h49.5v1.5H0zM0 412.8h49.5v1.5H0zM0 422.4h49.5v1.5H0zM0 426.0h49.5v2.7H0zM0 432.0h49.5v1.5H0zM0 441.6h49.5v1.5H0zM0 457.2h49.5v1.5H0zM0 469.2h49.5v5.1H0zM0 490.8h49.5v1.5H0zM0 499.2h49.5v1.5H0zM0 525.6h49.5v1.5H0zM0 546.0h49.5v1.5H0zM0 583.2h49.5v1.5H0zM0 591.6h49.5v1.5H0zM0 596.4h49.5v1.5H0zM0 601.2h49.5v1.5H0zM0 604.8h49.5v1.5H0zM0 622.8h49.5v1.5H0zM0 645.6h49.5v1.5H0zM0 651.6h49.5v2.7H0zM0 656.4h49.5v1.5H0zM0 672.0h49.5v1.5H0zM0 693.6h49.5v1.5H0z" fill="#3356b1"/>
<path d="M0 206.4h49.5v1.5H0zM0 217.2h49.5v1.5H0zM0 224.4h49.5v1.5H0zM0 230.4h49.5v1.5H0zM0 237.6h49.5v1.5H0zM0 240.0h49.5v1.5H0zM0 242.4h49.5v1.5H0zM0 246.0h49.5v2.7H0zM0 254.4h49.5v2.7H0zM0 259.2h49.5v1.5H0zM0 265.2h49.5v2.7H0zM0 279.6h49.5v2.7H0zM0 283.2h49.5v1.5H0zM0 285.6h49.5v1.5H0zM0 289.2h49.5v1.5H0zM0 292.8h49.5v1.5H0zM0 300.0h49.5v1.5H0zM0 304.8h49.5v1.5H0zM0 325.2h49.5v1.5H0zM0 340.8h49.5v1.5H0zM0 346.8h49.5v1.5H0zM0 351.6h49.5v1.5H0zM0 356.4h49.5v1.5H0zM0 369.6h49.5v3.9H0zM0 376.8h49.5v1.5H0zM0 380.4h49.5v1.5H0zM0 382.8h49.5v2.7H0zM0 386.4h49.5v1.5H0zM0 394.8h49.5v1.5H0zM0 399.6h49.5v2.7H0zM0 403.2h49.5v1.5H0zM0 405.6h49.5v2.7H0zM0 424.8h49.5v1.5H0zM0 429.6h49.5v1.5H0zM0 433.2h49.5v1.5H0zM0 451.2h49.5v1.5H0zM0 454.8h49.5v1.5H0zM0 459.6h49.5v1.5H0zM0 463.2h49.5v1.5H0zM0 466.8h49.5v1.5H0zM0 475.2h49.5v1.5H0zM0 477.6h49.5v6.3H0zM0 488.4h49.5v1.5H0zM0 495.6h49.5v1.5H0zM0 498.0h49.5v1.5H0zM0 502.8h49.5v2.7H0zM0 508.8h49.5v2.7H0zM0 519.6h49.5v2.7H0zM0 530.4h49.5v1.5H0zM0 537.6h49.5v1.5H0zM0 540.0h49.5v1.5H0zM0 555.6h49.5v2.7H0zM0 560.4h49.5v1.5H0zM0 565.2h49.5v1.5H0zM0 570.0h49.5v2.7H0zM0 573.6h49.5v1.5H0zM0 577.2h49.5v1.5H0zM0 584.4h49.5v1.5H0zM0 586.8h49.5v1.5H0zM0 600.0h49.5v1.5H0zM0 610.8h49.5v1.5H0zM0 614.4h49.5v1.5H0zM0 620.4h49.5v1.5H0zM0 627.6h49.5v1.5H0zM0 634.8h49.5v1.5H0zM0 640.8h49.5v1.5H0zM0 650.4h49.5v1.5H0zM0 660.0h49.5v1.5H0z" fill="#395db4"/>
<path d="M0 188.4h49.5v1.5H0zM0 204.0h49.5v1.5H0zM0 216.0h49.5v1.5H0zM0 222.0h49.5v1.5H0zM0 226.8h49.5v1.5H0zM0 232.8h49.5v5.1H0zM0 238.8h49.5v1.5H0zM0 244.8h49.5v1.5H0zM0 248.4h49.5v1.5H0zM0 260.4h49.5v1.5H0zM0 262.8h49.5v1.5H0zM0 273.6h49.5v2.7H0zM0 288.0h49.5v1.5H0zM0 294.0h49.5v1.5H0zM0 308.4h49.5v1.5H0zM0 312.0h49.5v1.5H0zM0 322.8h49.5v2.7H0zM0 334.8h49.5v1.5H0zM0 348.0h49.5v2.7H0zM0 354.0h49.5v1.5H0zM0 360.0h49.5v1.5H0zM0 362.4h49.5v1.5H0zM0 364.8h49.5v1.5H0zM0 374.4h49.5v1.5H0zM0 393.6h49.5v1.5H0zM0 398.4h49.5v1.5H0zM0 404.4h49.5v1.5H0zM0 410.4h49.5v1.5H0zM0 418.8h49.5v1.5H0zM0 421.2h49.5v1.5H0zM0 428.4h49.5v1.5H0zM0 430.8h49.5v1.5H0zM0 434.4h49.5v1.5H0zM0 436.8h49.5v2.7H0zM0 442.8h49.5v1.5H0zM0 452.4h49.5v1.5H0zM0 458.4h49.5v1.5H0zM0 464.4h49.5v2.7H0zM0 487.2h49.5v1.5H0zM0 494.4h49.5v1.5H0zM0 501.6h49.5v1.5H0zM0 507.6h49.5v1.5H0zM0 514.8h49.5v1.5H0zM0 531.6h49.5v1.5H0zM0 544.8h49.5v1.5H0zM0 548.4h49.5v1.5H0zM0 550.8h49.5v1.5H0zM0 564.0h49.5v1.5H0zM0 567.6h49.5v1.5H0zM0 580.8h49.5v1.5H0zM0 597.6h49.5v1.5H0zM0 602.4h49.5v2.7H0zM0 607.2h49.5v1.5H0zM0 613.2h49.5v1.5H0zM0 615.6h49.5v1.5H0zM0 624.0h49.5v1.5H0zM0 626.4h49.5v1.5H0zM0 637.2h49.5v2.7H0zM0 643.2h49.5v1.5H0zM0 661.2h49.5v1.5H0zM0 667.2h49.5v1.5H0zM0 710.4h49.5v1.5H0z" fill="#3f63b8"/>
<path d="M0 231.6h49.5v1.5H0zM0 243.6h49.5v1.5H0zM0 256.8h49.5v1.5H0zM0 267.6h49.5v1.5H0zM0 286.8h49.5v1.5H0zM0 316.8h49.5v1.5H0zM0 332.4h49.5v1.5H0zM0 357.6h49.5v1.5H0zM0 368.4h49.5v1.5H0zM0 396.0h49.5v1.5H0zM0 420.0h49.5v1.5H0zM0 439.2h49.5v1.5H0zM0 446.4h49.5v1.5H0zM0 460.8h49.5v1.5H0zM0 534.0h49.5v1.5H0zM0 541.2h49.5v1.5H0zM0 549.6h49.5v1.5H0zM0 553.2h49.5v1.5H0zM0 582.0h49.5v1.5H0zM0 585.6h49.5v1.5H0zM0 589.2h49.5v1.5H0zM0 598.8h49.5v1.5H0zM0 608.4h49.5v1.5H0zM0 619.2h49.5v1.5H0zM0 628.8h49.5v1.5H0z" fill="#4d6ebb"/>
<path d="M0 135.6h49.5v1.5H0zM0 178.8h49.5v1.5H0zM0 200.4h49.5v1.5H0zM0 213.6h49.5v1.5H0zM0 250.8h49.5v1.5H0zM0 276.0h49.5v1.5H0zM0 298.8h49.5v1.5H0zM0 327.6h49.5v1.5H0zM0 336.0h49.5v1.5H0zM0 387.6h49.5v1.5H0zM0 391.2h49.5v2.7H0zM0 397.2h49.5v1.5H0zM0 414.0h49.5v1.5H0zM0 416.4h49.5v1.5H0zM0 468.0h49.5v1.5H0zM0 518.4h49.5v1.5H0zM0 526.8h49.5v3.9H0zM0 536.4h49.5v1.5H0zM0 543.6h49.5v1.5H0zM0 562.8h49.5v1.5H0zM0 595.2h49.5v1.5H0zM0 618.0h49.5v1.5H0zM0 621.6h49.5v1.5H0zM0 632.4h49.5v1.5H0zM0 639.6h49.5v1.5H0zM0 646.8h49.5v1.5H0zM0 681.6h49.5v1.5H0zM0 697.2h49.5v1.5H0zM0 712.8h49.5v1.5H0zM0 806.4h49.5v1.5H0z" fill="#5c7abe"/>
<path d="M0 7.2h49.5v1.5H0zM0 14.4h49.5v1.5H0zM0 48.0h49.5v1.5H0zM0 92.4h49.5v1.5H0zM0 106.8h49.5v1.5H0zM0 112.8h49.5v1.5H0zM0 124.8h49.5v1.5H0zM0 144.0h49.5v2.7H0zM0 163.2h49.5v1.5H0zM0 180.0h49.5v2.7H0zM0 196.8h49.5v1.5H0zM0 202.8h49.5v1.5H0zM0 214.8h49.5v1.5H0zM0 229.2h49.5v1.5H0zM0 241.2h49.5v1.5H0zM0 252.0h49.5v1.5H0zM0 264.0h49.5v1.5H0zM0 270.0h49.5v1.5H0zM0 277.2h49.5v1.5H0zM0 284.4h49.5v1.5H0zM0 290.4h49.5v2.7H0zM0 295.2h49.5v2.7H0zM0 302.4h49.5v2.7H0zM0 309.6h49.5v2.7H0zM0 314.4h49.5v2.7H0zM0 319.2h49.5v1.5H0zM0 326.4h49.5v1.5H0zM0 330.0h49.5v2.7H0zM0 342.0h49.5v1.5H0zM0 344.4h49.5v2.7H0zM0 350.4h49.5v1.5H0zM0 352.8h49.5v1.5H0zM0 358.8h49.5v1.5H0zM0 381.6h49.5v1.5H0zM0 408.0h49.5v1.5H0zM0 415.2h49.5v1.5H0zM0 435.6h49.5v1.5H0zM0 444.0h49.5v2.7H0zM0 447.6h49.5v1.5H0zM0 453.6h49.5v1.5H0zM0 456.0h49.5v1.5H0zM0 474.0h49.5v1.5H0zM0 486.0h49.5v1.5H0zM0 489.6h49.5v1.5H0zM0 492.0h49.5v1.5H0zM0 496.8h49.5v1.5H0zM0 506.4h49.5v1.5H0zM0 512.4h49.5v1.5H0zM0 522.0h49.5v3.9H0zM0 532.8h49.5v1.5H0zM0 538.8h49.5v1.5H0zM0 542.4h49.5v1.5H0zM0 552.0h49.5v1.5H0zM0 561.6h49.5v1.5H0zM0 572.4h49.5v1.5H0zM0 574.8h49.5v1.5H0zM0 578.4h49.5v1.5H0zM0 588.0h49.5v1.5H0zM0 592.8h49.5v2.7H0zM0 633.6h49.5v1.5H0zM0 642.0h49.5v1.5H0zM0 644.4h49.5v1.5H0zM0 668.4h49.5v1.5H0zM0 679.2h49.5v1.5H0zM0 685.2h49.5v1.5H0zM0 690.0h49.5v1.5H0zM0 694.8h49.5v1.5H0zM0 699.6h49.5v1.5H0z" fill="#6b86c1"/>
<path d="M0 24.0h49.5v1.5H0zM0 38.4h49.5v1.5H0zM0 249.6h49.5v1.5H0zM0 253.2h49.5v1.5H0zM0 258.0h49.5v1.5H0zM0 272.4h49.5v1.5H0zM0 297.6h49.5v1.5H0zM0 301.2h49.5v1.5H0zM0 313.2h49.5v1.5H0zM0 328.8h49.5v1.5H0zM0 333.6h49.5v1.5H0zM0 337.2h49.5v3.9H0zM0 355.2h49.5v1.5H0zM0 379.2h49.5v1.5H0zM0 411.6h49.5v1.5H0zM0 462.0h49.5v1.5H0zM0 476.4h49.5v1.5H0zM0 483.6h49.5v2.7H0zM0 511.2h49.5v1.5H0zM0 517.2h49.5v1.5H0zM0 547.2h49.5v1.5H0zM0 558.0h49.5v1.5H0zM0 566.4h49.5v1.5H0zM0 576.0h49.5v1.5H0zM0 606.0h49.5v1.5H0zM0 630.0h49.5v1.5H0zM0 648.0h49.5v1.5H0zM0 670.8h49.5v1.5H0zM0 739.2h49.5v1.5H0z" fill="#7b93c0"/>
<path d="M0 9.6h49.5v1.5H0zM0 28.8h49.5v1.5H0zM0 37.2h49.5v1.5H0zM0 169.2h49.5v1.5H0zM0 193.2h49.5v1.5H0zM0 225.6h49.5v1.5H0zM0 417.6h49.5v1.5H0zM0 493.2h49.5v1.5H0zM0 631.2h49.5v1.5H0zM0 676.8h49.5v1.5H0zM0 769.2h49.5v1.5H0zM0 805.2h49.5v1.5H0zM0 810.0h49.5v1.5H0z" fill="#8ca0bd"/>
<path d="M0 13.2h49.5v1.5H0zM0 15.6h49.5v1.5H0zM0 20.4h49.5v1.5H0zM0 27.6h49.5v1.5H0zM0 42.0h49.5v1.5H0zM0 46.8h49.5v1.5H0zM0 52.8h49.5v1.5H0zM0 68.4h49.5v1.5H0zM0 75.6h49.5v1.5H0zM0 84.0h49.5v1.5H0zM0 88.8h49.5v2.7H0zM0 122.4h49.5v1.5H0zM0 130.8h49.5v1.5H0zM0 133.2h49.5v1.5H0zM0 146.4h49.5v1.5H0zM0 152.4h49.5v1.5H0zM0 160.8h49.5v1.5H0zM0 171.6h49.5v1.5H0zM0 177.6h49.5v1.5H0zM0 182.4h49.5v1.5H0zM0 186.0h49.5v1.5H0zM0 195.6h49.5v1.5H0zM0 205.2h49.5v1.5H0zM0 218.4h49.5v3.9H0zM0 500.4h49.5v1.5H0zM0 579.6h49.5v1.5H0zM0 612.0h49.5v1.5H0zM0 625.2h49.5v1.5H0zM0 636.0h49.5v1.5H0zM0 657.6h49.5v1.5H0zM0 663.6h49.5v3.9H0zM0 678.0h49.5v1.5H0zM0 682.8h49.5v1.5H0zM0 686.4h49.5v1.5H0zM0 702.0h49.5v1.5H0zM0 705.6h49.5v1.5H0zM0 708.0h49.5v2.7H0zM0 714.0h49.5v1.5H0zM0 716.4h49.5v1.5H0zM0 718.8h49.5v1.5H0zM0 765.6h49.5v1.5H0zM0 774.0h49.5v1.5H0zM0 778.8h49.5v1.5H0z" fill="#9cacb9"/>
<path d="M0 4.8h49.5v1.5H0zM0 21.6h49.5v2.7H0zM0 26.4h49.5v1.5H0zM0 34.8h49.5v1.5H0zM0 54.0h49.5v2.7H0zM0 58.8h49.5v1.5H0zM0 64.8h49.5v2.7H0zM0 72.0h49.5v1.5H0zM0 81.6h49.5v1.5H0zM0 87.6h49.5v1.5H0zM0 132.0h49.5v1.5H0zM0 136.8h49.5v1.5H0zM0 183.6h49.5v1.5H0zM0 187.2h49.5v1.5H0zM0 189.6h49.5v1.5H0zM0 192.0h49.5v1.5H0zM0 194.4h49.5v1.5H0zM0 207.6h49.5v1.5H0zM0 212.4h49.5v1.5H0zM0 228.0h49.5v1.5H0zM0 440.4h49.5v1.5H0zM0 559.2h49.5v1.5H0zM0 590.4h49.5v1.5H0zM0 609.6h49.5v1.5H0zM0 662.4h49.5v1.5H0zM0 673.2h49.5v1.5H0zM0 680.4h49.5v1.5H0zM0 684.0h49.5v1.5H0zM0 688.8h49.5v1.5H0zM0 726.0h49.5v1.5H0zM0 754.8h49.5v1.5H0zM0 770.4h49.5v1.5H0zM0 789.6h49.5v1.5H0zM0 796.8h49.5v1.5H0z" fill="#acb8b6"/>
<path d="M0 39.6h49.5v1.5H0zM0 43.2h49.5v1.5H0zM0 82.8h49.5v1.5H0zM0 118.8h49.5v1.5H0zM0 159.6h49.5v1.5H0zM0 176.4h49.5v1.5H0zM0 198.0h49.5v1.5H0zM0 703.2h49.5v1.5H0zM0 706.8h49.5v1.5H0zM0 808.8h49.5v1.5H0z" fill="#bbc4b3"/>
<path d="M0 744.0h49.5v1.5H0z" fill="#cad0b1"/>
<path d="M0 40.8h49.5v1.5H0zM0 76.8h49.5v1.5H0zM0 102.0h49.5v1.5H0zM0 134.4h49.5v1.5H0zM0 148.8h49.5v1.5H0zM0 153.6h49.5v1.5H0zM0 164.4h49.5v1.5H0zM0 568.8h49.5v1.5H0zM0 698.4h49.5v1.5H0zM0 715.2h49.5v1.5H0zM0 745.2h49.5v1.5H0zM0 753.6h49.5v1.5H0zM0 771.6h49.5v1.5H0zM0 786.0h49.5v1.5H0zM0 807.6h49.5v1.5H0z" fill="#d8d7af"/>
<path d="M0 0.0h49.5v1.5H0zM0 18.0h49.5v2.7H0zM0 45.6h49.5v1.5H0zM0 51.6h49.5v1.5H0zM0 56.4h49.5v1.5H0zM0 60.0h49.5v1.5H0zM0 93.6h49.5v1.5H0zM0 96.0h49.5v1.5H0zM0 98.4h49.5v2.7H0zM0 111.6h49.5v1.5H0zM0 114.0h49.5v1.5H0zM0 128.4h49.5v1.5H0zM0 140.4h49.5v1.5H0zM0 150.0h49.5v2.7H0zM0 154.8h49.5v1.5H0zM0 168.0h49.5v1.5H0zM0 184.8h49.5v1.5H0zM0 223.2h49.5v1.5H0zM0 535.2h49.5v1.5H0zM0 658.8h49.5v1.5H0zM0 691.2h49.5v2.7H0zM0 696.0h49.5v1.5H0zM0 711.6h49.5v1.5H0zM0 728.4h49.5v1.5H0zM0 734.4h49.5v2.7H0zM0 747.6h49.5v2.7H0zM0 756.0h49.5v1.5H0zM0 758.4h49.5v1.5H0zM0 760.8h49.5v1.5H0zM0 764.4h49.5v1.5H0zM0 772.8h49.5v1.5H0zM0 782.4h49.5v1.5H0zM0 787.2h49.5v1.5H0zM0 792.0h49.5v1.5H0zM0 798.0h49.5v1.5H0zM0 804.0h49.5v1.5H0zM0 811.2h49.5v1.5H0z" fill="#e5deae"/>
<path d="M0 10.8h49.5v2.7H0zM0 25.2h49.5v1.5H0zM0 36.0h49.5v1.5H0zM0 50.4h49.5v1.5H0zM0 57.6h49.5v1.5H0zM0 63.6h49.5v1.5H0zM0 67.2h49.5v1.5H0zM0 69.6h49.5v2.7H0zM0 73.2h49.5v1.5H0zM0 94.8h49.5v1.5H0zM0 97.2h49.5v1.5H0zM0 103.2h49.5v3.9H0zM0 108.0h49.5v2.7H0zM0 117.6h49.5v1.5H0zM0 123.6h49.5v1.5H0zM0 126.0h49.5v1.5H0zM0 129.6h49.5v1.5H0zM0 157.2h49.5v2.7H0zM0 165.6h49.5v2.7H0zM0 172.8h49.5v1.5H0zM0 175.2h49.5v1.5H0zM0 210.0h49.5v2.7H0zM0 423.6h49.5v1.5H0zM0 669.6h49.5v1.5H0zM0 674.4h49.5v1.5H0zM0 700.8h49.5v1.5H0zM0 722.4h49.5v3.9H0zM0 727.2h49.5v1.5H0zM0 729.6h49.5v1.5H0zM0 732.0h49.5v2.7H0zM0 736.8h49.5v2.7H0zM0 740.4h49.5v1.5H0zM0 751.2h49.5v1.5H0zM0 762.0h49.5v2.7H0zM0 766.8h49.5v2.7H0zM0 776.4h49.5v1.5H0zM0 783.6h49.5v1.5H0zM0 794.4h49.5v1.5H0zM0 799.2h49.5v2.7H0zM0 802.8h49.5v1.5H0z" fill="#ebdbaa"/>
<path d="M0 2.4h49.5v1.5H0zM0 6.0h49.5v1.5H0zM0 30.0h49.5v1.5H0zM0 32.4h49.5v1.5H0zM0 44.4h49.5v1.5H0zM0 61.2h49.5v2.7H0zM0 80.4h49.5v1.5H0zM0 86.4h49.5v1.5H0zM0 110.4h49.5v1.5H0zM0 115.2h49.5v1.5H0zM0 138.0h49.5v2.7H0zM0 162.0h49.5v1.5H0zM0 174.0h49.5v1.5H0zM0 190.8h49.5v1.5H0zM0 199.2h49.5v1.5H0zM0 649.2h49.5v1.5H0zM0 654.0h49.5v1.5H0zM0 675.6h49.5v1.5H0zM0 720.0h49.5v2.7H0zM0 750.0h49.5v1.5H0zM0 752.4h49.5v1.5H0zM0 757.2h49.5v1.5H0zM0 780.0h49.5v2.7H0zM0 784.8h49.5v1.5H0zM0 793.2h49.5v1.5H0zM0 795.6h49.5v1.5H0zM0 801.6h49.5v1.5H0z" fill="#eed5a4"/>
<path d="M0 1.2h49.5v1.5H0zM0 3.6h49.5v1.5H0zM0 16.8h49.5v1.5H0zM0 31.2h49.5v1.5H0zM0 33.6h49.5v1.5H0zM0 78.0h49.5v2.7H0zM0 85.2h49.5v1.5H0zM0 142.8h49.5v1.5H0zM0 147.6h49.5v1.5H0zM0 388.8h49.5v1.5H0zM0 655.2h49.5v1.5H0zM0 687.6h49.5v1.5H0zM0 730.8h49.5v1.5H0zM0 741.6h49.5v2.7H0zM0 775.2h49.5v1.5H0zM0 777.6h49.5v1.5H0z" fill="#f0cc9d"/>
<path d="M0 49.2h49.5v1.5H0zM0 74.4h49.5v1.5H0zM0 91.2h49.5v1.5H0zM0 100.8h49.5v1.5H0zM0 116.4h49.5v1.5H0zM0 120.0h49.5v2.7H0zM0 141.6h49.5v1.5H0zM0 156.0h49.5v1.5H0zM0 170.4h49.5v1.5H0zM0 505.2h49.5v1.5H0zM0 746.4h49.5v1.5H0zM0 759.6h49.5v1.5H0z" fill="#efb98e"/>
<path d="M0 208.8h49.5v1.5H0zM0 704.4h49.5v1.5H0zM0 717.6h49.5v1.5H0zM0 788.4h49.5v1.5H0zM0 790.8h49.5v1.5H0z" fill="#eda57e"/>
<path d="M0 8.4h49.5v1.5H0z" fill="#e78b67"/>
<rect x="0" y="431.0" width="49.5" height="10" fill="#fff"/>
<rect x="0" y="235.7" width="49.5" height="2" fill="#fff"/>
<rect x="0" y="413.7" width="49.5" height="2" fill="#fff"/>
<rect x="0" y="457.0" width="49.5" height="2" fill="#fff"/>
</g>
<rect x="0" y="0" width="49.5" height="812.0" rx="7" fill="none" stroke="#777" stroke-width="1.2"/>
<path d="M0,6 V806.0 M49.5,6 V806.0" stroke="#111" stroke-width="2.2"/></g>
<text x="1164" y="372" text-anchor="end" font-family="'Liberation Sans', sans-serif" font-weight="bold" font-size="28" fill="#f6b80e">Chr4</text>
<g transform="translate(1484,30)"><g clip-path="url(#chrclip4)">
<path d="M0 168.0h49.5v1.5H0zM0 175.2h49.5v1.5H0zM0 229.2h49.5v1.5H0zM0 234.0h49.5v1.5H0zM0 272.4h49.5v1.5H0zM0 300.0h49.5v1.5H0zM0 304.8h49.5v1.5H0zM0 309.6h49.5v1.5H0zM0 342.0h49.5v1.5H0zM0 351.6h49.5v1.5H0zM0 402.0h49.5v1.5H0zM0 406.8h49.5v1.5H0zM0 421.2h49.5v1.5H0zM0 433.2h49.5v1.5H0zM0 458.4h49.5v1.5H0zM0 486.0h49.5v1.5H0zM0 488.4h49.5v1.5H0zM0 493.2h49.5v1.5H0zM0 496.8h49.5v1.5H0zM0 502.8h49.5v1.5H0zM0 508.8h49.5v1.5H0zM0 568.8h49.5v1.5H0z" fill="#2d50ae"/>
<path d="M0 228.0h49.5v1.5H0zM0 232.8h49.5v1.5H0zM0 236.4h49.5v1.5H0zM0 260.4h49.5v2.7H0zM0 268.8h49.5v2.7H0zM0 278.4h49.5v1.5H0zM0 280.8h49.5v1.5H0zM0 295.2h49.5v2.7H0zM0 327.6h49.5v1.5H0zM0 337.2h49.5v1.5H0zM0 344.4h49.5v1.5H0zM0 346.8h49.5v1.5H0zM0 349.2h49.5v1.5H0zM0 354.0h49.5v2.7H0zM0 358.8h49.5v1.5H0zM0 362.4h49.5v1.5H0zM0 366.0h49.5v1.5H0zM0 369.6h49.5v1.5H0zM0 373.2h49.5v1.5H0zM0 403.2h49.5v1.5H0zM0 405.6h49.5v1.5H0zM0 409.2h49.5v1.5H0zM0 417.6h49.5v1.5H0zM0 420.0h49.5v1.5H0zM0 427.2h49.5v1.5H0zM0 434.4h49.5v1.5H0zM0 444.0h49.5v1.5H0zM0 446.4h49.5v1.5H0zM0 452.4h49.5v1.5H0zM0 466.8h49.5v1.5H0zM0 489.6h49.5v1.5H0zM0 498.0h49.5v1.5H0zM0 519.6h49.5v1.5H0zM0 523.2h49.5v2.7H0zM0 552.0h49.5v1.5H0zM0 559.2h49.5v1.5H0zM0 583.2h49.5v1.5H0zM0 676.8h49.5v1.5H0z" fill="#3356b1"/>
<path d="M0 128.4h49.5v1.5H0zM0 133.2h49.5v1.5H0zM0 177.6h49.5v1.5H0zM0 181.2h49.5v1.5H0zM0 208.8h49.5v1.5H0zM0 214.8h49.5v1.5H0zM0 226.8h49.5v1.5H0zM0 231.6h49.5v1.5H0zM0 237.6h49.5v1.5H0zM0 240.0h49.5v1.5H0zM0 243.6h49.5v7.5H0zM0 253.2h49.5v1.5H0zM0 258.0h49.5v2.7H0zM0 265.2h49.5v1.5H0zM0 267.6h49.5v1.5H0zM0 283.2h49.5v1.5H0zM0 286.8h49.5v5.1H0zM0 294.0h49.5v1.5H0zM0 307.2h49.5v1.5H0zM0 318.0h49.5v1.5H0zM0 320.4h49.5v1.5H0zM0 324.0h49.5v1.5H0zM0 328.8h49.5v1.5H0zM0 332.4h49.5v1.5H0zM0 338.4h49.5v2.7H0zM0 357.6h49.5v1.5H0zM0 361.2h49.5v1.5H0zM0 364.8h49.5v1.5H0zM0 370.8h49.5v1.5H0zM0 374.4h49.5v1.5H0zM0 381.6h49.5v1.5H0zM0 384.0h49.5v1.5H0zM0 387.6h49.5v1.5H0zM0 391.2h49.5v1.5H0zM0 393.6h49.5v1.5H0zM0 398.4h49.5v2.7H0zM0 410.4h49.5v1.5H0zM0 412.8h49.5v1.5H0zM0 416.4h49.5v1.5H0zM0 418.8h49.5v1.5H0zM0 426.0h49.5v1.5H0zM0 429.6h49.5v1.5H0zM0 435.6h49.5v1.5H0zM0 454.8h49.5v1.5H0zM0 469.2h49.5v3.9H0zM0 474.0h49.5v3.9H0zM0 478.8h49.5v3.9H0zM0 483.6h49.5v1.5H0zM0 500.4h49.5v1.5H0zM0 506.4h49.5v1.5H0zM0 512.4h49.5v1.5H0zM0 514.8h49.5v1.5H0zM0 525.6h49.5v1.5H0zM0 530.4h49.5v2.7H0zM0 535.2h49.5v1.5H0zM0 541.2h49.5v2.7H0zM0 547.2h49.5v5.1H0zM0 553.2h49.5v1.5H0zM0 562.8h49.5v5.1H0zM0 570.0h49.5v1.5H0zM0 572.4h49.5v1.5H0zM0 578.4h49.5v1.5H0zM0 598.8h49.5v2.7H0zM0 608.4h49.5v1.5H0zM0 630.0h49.5v1.5H0zM0 666.0h49.5v1.5H0zM0 733.2h49.5v1.5H0z" fill="#395db4"/>
<path d="M0 166.8h49.5v1.5H0zM0 170.4h49.5v1.5H0zM0 180.0h49.5v1.5H0zM0 223.2h49.5v1.5H0zM0 230.4h49.5v1.5H0zM0 238.8h49.5v1.5H0zM0 242.4h49.5v1.5H0zM0 250.8h49.5v1.5H0zM0 262.8h49.5v2.7H0zM0 266.4h49.5v1.5H0zM0 273.6h49.5v1.5H0zM0 277.2h49.5v1.5H0zM0 282.0h49.5v1.5H0zM0 284.4h49.5v1.5H0zM0 292.8h49.5v1.5H0zM0 310.8h49.5v3.9H0zM0 315.6h49.5v1.5H0zM0 319.2h49.5v1.5H0zM0 325.2h49.5v1.5H0zM0 352.8h49.5v1.5H0zM0 356.4h49.5v1.5H0zM0 368.4h49.5v1.5H0zM0 372.0h49.5v1.5H0zM0 376.8h49.5v2.7H0zM0 382.8h49.5v1.5H0zM0 385.2h49.5v2.7H0zM0 404.4h49.5v1.5H0zM0 415.2h49.5v1.5H0zM0 424.8h49.5v1.5H0zM0 430.8h49.5v1.5H0zM0 436.8h49.5v1.5H0zM0 440.4h49.5v1.5H0zM0 445.2h49.5v1.5H0zM0 456.0h49.5v2.7H0zM0 463.2h49.5v1.5H0zM0 465.6h49.5v1.5H0zM0 490.8h49.5v1.5H0zM0 494.4h49.5v2.7H0zM0 501.6h49.5v1.5H0zM0 528.0h49.5v2.7H0zM0 532.8h49.5v2.7H0zM0 536.4h49.5v1.5H0zM0 554.4h49.5v1.5H0zM0 556.8h49.5v1.5H0zM0 560.4h49.5v1.5H0zM0 585.6h49.5v1.5H0zM0 661.2h49.5v1.5H0zM0 687.6h49.5v1.5H0zM0 705.6h49.5v1.5H0zM0 736.8h49.5v1.5H0z" fill="#3f63b8"/>
<path d="M0 241.2h49.5v1.5H0zM0 252.0h49.5v1.5H0zM0 254.4h49.5v1.5H0zM0 256.8h49.5v1.5H0zM0 276.0h49.5v1.5H0zM0 345.6h49.5v1.5H0zM0 350.4h49.5v1.5H0zM0 400.8h49.5v1.5H0zM0 442.8h49.5v1.5H0zM0 464.4h49.5v1.5H0zM0 468.0h49.5v1.5H0zM0 482.4h49.5v1.5H0zM0 484.8h49.5v1.5H0zM0 505.2h49.5v1.5H0zM0 518.4h49.5v1.5H0zM0 540.0h49.5v1.5H0zM0 576.0h49.5v1.5H0z" fill="#4d6ebb"/>
<path d="M0 136.8h49.5v1.5H0zM0 150.0h49.5v1.5H0zM0 207.6h49.5v1.5H0zM0 291.6h49.5v1.5H0zM0 306.0h49.5v1.5H0zM0 316.8h49.5v1.5H0zM0 322.8h49.5v1.5H0zM0 336.0h49.5v1.5H0zM0 340.8h49.5v1.5H0zM0 343.2h49.5v1.5H0zM0 396.0h49.5v1.5H0zM0 422.4h49.5v1.5H0zM0 448.8h49.5v1.5H0zM0 453.6h49.5v1.5H0zM0 477.6h49.5v1.5H0zM0 499.2h49.5v1.5H0zM0 507.6h49.5v1.5H0zM0 513.6h49.5v1.5H0zM0 544.8h49.5v1.5H0zM0 555.6h49.5v1.5H0zM0 558.0h49.5v1.5H0zM0 571.2h49.5v1.5H0zM0 573.6h49.5v1.5H0zM0 586.8h49.5v1.5H0zM0 590.4h49.5v1.5H0zM0 592.8h49.5v1.5H0zM0 601.2h49.5v1.5H0zM0 634.8h49.5v1.5H0zM0 655.2h49.5v1.5H0zM0 681.6h49.5v1.5H0zM0 684.0h49.5v1.5H0zM0 711.6h49.5v1.5H0zM0 714.0h49.5v1.5H0zM0 751.2h49.5v1.5H0zM0 760.8h49.5v1.5H0z" fill="#5c7abe"/>
<path d="M0 54.0h49.5v1.5H0zM0 90.0h49.5v1.5H0zM0 116.4h49.5v1.5H0zM0 122.4h49.5v1.5H0zM0 126.0h49.5v1.5H0zM0 169.2h49.5v1.5H0zM0 174.0h49.5v1.5H0zM0 183.6h49.5v1.5H0zM0 189.6h49.5v1.5H0zM0 201.6h49.5v1.5H0zM0 217.2h49.5v1.5H0zM0 271.2h49.5v1.5H0zM0 297.6h49.5v2.7H0zM0 301.2h49.5v1.5H0zM0 314.4h49.5v1.5H0zM0 321.6h49.5v1.5H0zM0 326.4h49.5v1.5H0zM0 333.6h49.5v2.7H0zM0 367.2h49.5v1.5H0zM0 379.2h49.5v1.5H0zM0 388.8h49.5v2.7H0zM0 394.8h49.5v1.5H0zM0 397.2h49.5v1.5H0zM0 411.6h49.5v1.5H0zM0 428.4h49.5v1.5H0zM0 432.0h49.5v1.5H0zM0 438.0h49.5v2.7H0zM0 447.6h49.5v1.5H0zM0 459.6h49.5v3.9H0zM0 492.0h49.5v1.5H0zM0 504.0h49.5v1.5H0zM0 511.2h49.5v1.5H0zM0 516.0h49.5v1.5H0zM0 520.8h49.5v1.5H0zM0 538.8h49.5v1.5H0zM0 543.6h49.5v1.5H0zM0 546.0h49.5v1.5H0zM0 567.6h49.5v1.5H0zM0 582.0h49.5v1.5H0zM0 594.0h49.5v1.5H0zM0 614.4h49.5v5.1H0zM0 637.2h49.5v3.9H0zM0 644.4h49.5v1.5H0zM0 650.4h49.5v1.5H0zM0 679.2h49.5v1.5H0zM0 717.6h49.5v1.5H0zM0 752.4h49.5v1.5H0zM0 772.8h49.5v1.5H0z" fill="#6b86c1"/>
<path d="M0 154.8h49.5v1.5H0zM0 158.4h49.5v1.5H0zM0 176.4h49.5v1.5H0zM0 211.2h49.5v1.5H0zM0 219.6h49.5v2.7H0zM0 235.2h49.5v1.5H0zM0 285.6h49.5v1.5H0zM0 302.4h49.5v2.7H0zM0 308.4h49.5v1.5H0zM0 348.0h49.5v1.5H0zM0 380.4h49.5v1.5H0zM0 392.4h49.5v1.5H0zM0 414.0h49.5v1.5H0zM0 441.6h49.5v1.5H0zM0 451.2h49.5v1.5H0zM0 472.8h49.5v1.5H0zM0 537.6h49.5v1.5H0zM0 609.6h49.5v1.5H0zM0 640.8h49.5v1.5H0zM0 668.4h49.5v1.5H0z" fill="#7b93c0"/>
<path d="M0 60.0h49.5v1.5H0zM0 76.8h49.5v1.5H0zM0 100.8h49.5v1.5H0zM0 110.4h49.5v1.5H0zM0 255.6h49.5v1.5H0zM0 330.0h49.5v2.7H0zM0 517.2h49.5v1.5H0zM0 561.6h49.5v1.5H0zM0 588.0h49.5v1.5H0zM0 591.6h49.5v1.5H0zM0 613.2h49.5v1.5H0zM0 620.4h49.5v1.5H0zM0 721.2h49.5v1.5H0zM0 730.8h49.5v2.7H0z" fill="#8ca0bd"/>
<path d="M0 0.0h49.5v1.5H0zM0 15.6h49.5v1.5H0zM0 26.4h49.5v1.5H0zM0 31.2h49.5v1.5H0zM0 38.4h49.5v1.5H0zM0 57.6h49.5v2.7H0zM0 109.2h49.5v1.5H0zM0 130.8h49.5v2.7H0zM0 135.6h49.5v1.5H0zM0 141.6h49.5v1.5H0zM0 162.0h49.5v2.7H0zM0 171.6h49.5v1.5H0zM0 186.0h49.5v1.5H0zM0 193.2h49.5v2.7H0zM0 202.8h49.5v5.1H0zM0 210.0h49.5v1.5H0zM0 213.6h49.5v1.5H0zM0 216.0h49.5v1.5H0zM0 408.0h49.5v1.5H0zM0 423.6h49.5v1.5H0zM0 522.0h49.5v1.5H0zM0 579.6h49.5v1.5H0zM0 589.2h49.5v1.5H0zM0 596.4h49.5v2.7H0zM0 606.0h49.5v1.5H0zM0 621.6h49.5v1.5H0zM0 624.0h49.5v2.7H0zM0 631.2h49.5v1.5H0zM0 658.8h49.5v1.5H0zM0 664.8h49.5v1.5H0zM0 686.4h49.5v1.5H0zM0 692.4h49.5v2.7H0zM0 700.8h49.5v1.5H0zM0 728.4h49.5v2.7H0zM0 734.4h49.5v1.5H0zM0 739.2h49.5v1.5H0zM0 742.8h49.5v1.5H0zM0 745.2h49.5v1.5H0zM0 762.0h49.5v1.5H0zM0 768.0h49.5v1.5H0zM0 780.0h49.5v1.5H0zM0 782.4h49.5v1.5H0zM0 793.2h49.5v1.5H0zM0 795.6h49.5v1.5H0z" fill="#9cacb9"/>
<path d="M0 3.6h49.5v1.5H0zM0 8.4h49.5v1.5H0zM0 25.2h49.5v1.5H0zM0 34.8h49.5v1.5H0zM0 62.4h49.5v1.5H0zM0 64.8h49.5v1.5H0zM0 91.2h49.5v1.5H0zM0 93.6h49.5v1.5H0zM0 98.4h49.5v1.5H0zM0 102.0h49.5v1.5H0zM0 112.8h49.5v1.5H0zM0 118.8h49.5v1.5H0zM0 140.4h49.5v1.5H0zM0 144.0h49.5v2.7H0zM0 147.6h49.5v2.7H0zM0 151.2h49.5v2.7H0zM0 156.0h49.5v2.7H0zM0 159.6h49.5v1.5H0zM0 164.4h49.5v2.7H0zM0 172.8h49.5v1.5H0zM0 178.8h49.5v1.5H0zM0 187.2h49.5v1.5H0zM0 192.0h49.5v1.5H0zM0 199.2h49.5v1.5H0zM0 212.4h49.5v1.5H0zM0 218.4h49.5v1.5H0zM0 363.6h49.5v1.5H0zM0 577.2h49.5v1.5H0zM0 580.8h49.5v1.5H0zM0 584.4h49.5v1.5H0zM0 595.2h49.5v1.5H0zM0 610.8h49.5v1.5H0zM0 633.6h49.5v1.5H0zM0 651.6h49.5v1.5H0zM0 663.6h49.5v1.5H0zM0 674.4h49.5v2.7H0zM0 685.2h49.5v1.5H0zM0 697.2h49.5v1.5H0zM0 699.6h49.5v1.5H0zM0 703.2h49.5v2.7H0zM0 727.2h49.5v1.5H0zM0 758.4h49.5v1.5H0zM0 763.2h49.5v2.7H0zM0 778.8h49.5v1.5H0zM0 781.2h49.5v1.5H0zM0 783.6h49.5v2.7H0zM0 787.2h49.5v1.5H0zM0 790.8h49.5v1.5H0zM0 798.0h49.5v1.5H0z" fill="#acb8b6"/>
<path d="M0 81.6h49.5v1.5H0zM0 94.8h49.5v1.5H0zM0 129.6h49.5v1.5H0zM0 160.8h49.5v1.5H0zM0 225.6h49.5v1.5H0zM0 274.8h49.5v1.5H0zM0 487.2h49.5v1.5H0zM0 604.8h49.5v1.5H0zM0 619.2h49.5v1.5H0zM0 622.8h49.5v1.5H0zM0 627.6h49.5v1.5H0zM0 645.6h49.5v1.5H0zM0 649.2h49.5v1.5H0zM0 673.2h49.5v1.5H0zM0 696.0h49.5v1.5H0zM0 740.4h49.5v1.5H0zM0 759.6h49.5v1.5H0zM0 766.8h49.5v1.5H0z" fill="#bbc4b3"/>
<path d="M0 30.0h49.5v1.5H0zM0 44.4h49.5v1.5H0zM0 574.8h49.5v1.5H0z" fill="#cad0b1"/>
<path d="M0 68.4h49.5v1.5H0zM0 86.4h49.5v1.5H0zM0 117.6h49.5v1.5H0zM0 123.6h49.5v1.5H0zM0 190.8h49.5v1.5H0zM0 706.8h49.5v1.5H0zM0 720.0h49.5v1.5H0zM0 754.8h49.5v1.5H0z" fill="#d8d7af"/>
<path d="M0 1.2h49.5v2.7H0zM0 9.6h49.5v1.5H0zM0 19.2h49.5v1.5H0zM0 27.6h49.5v1.5H0zM0 32.4h49.5v1.5H0zM0 36.0h49.5v2.7H0zM0 42.0h49.5v1.5H0zM0 49.2h49.5v1.5H0zM0 52.8h49.5v1.5H0zM0 56.4h49.5v1.5H0zM0 63.6h49.5v1.5H0zM0 66.0h49.5v2.7H0zM0 69.6h49.5v1.5H0zM0 74.4h49.5v1.5H0zM0 80.4h49.5v1.5H0zM0 96.0h49.5v1.5H0zM0 103.2h49.5v1.5H0zM0 106.8h49.5v1.5H0zM0 111.6h49.5v1.5H0zM0 121.2h49.5v1.5H0zM0 127.2h49.5v1.5H0zM0 134.4h49.5v1.5H0zM0 138.0h49.5v1.5H0zM0 182.4h49.5v1.5H0zM0 188.4h49.5v1.5H0zM0 200.4h49.5v1.5H0zM0 222.0h49.5v1.5H0zM0 224.4h49.5v1.5H0zM0 279.6h49.5v1.5H0zM0 450.0h49.5v1.5H0zM0 526.8h49.5v1.5H0zM0 603.6h49.5v1.5H0zM0 632.4h49.5v1.5H0zM0 646.8h49.5v1.5H0zM0 660.0h49.5v1.5H0zM0 662.4h49.5v1.5H0zM0 682.8h49.5v1.5H0zM0 691.2h49.5v1.5H0zM0 710.4h49.5v1.5H0zM0 712.8h49.5v1.5H0zM0 722.4h49.5v3.9H0zM0 735.6h49.5v1.5H0zM0 748.8h49.5v1.5H0zM0 753.6h49.5v1.5H0zM0 765.6h49.5v1.5H0zM0 776.4h49.5v1.5H0zM0 786.0h49.5v1.5H0zM0 789.6h49.5v1.5H0zM0 796.8h49.5v1.5H0z" fill="#e5deae"/>
<path d="M0 6.0h49.5v1.5H0zM0 12.0h49.5v2.7H0zM0 16.8h49.5v2.7H0zM0 20.4h49.5v5.1H0zM0 28.8h49.5v1.5H0zM0 33.6h49.5v1.5H0zM0 40.8h49.5v1.5H0zM0 50.4h49.5v2.7H0zM0 70.8h49.5v1.5H0zM0 73.2h49.5v1.5H0zM0 82.8h49.5v3.9H0zM0 87.6h49.5v1.5H0zM0 92.4h49.5v1.5H0zM0 124.8h49.5v1.5H0zM0 142.8h49.5v1.5H0zM0 146.4h49.5v1.5H0zM0 153.6h49.5v1.5H0zM0 184.8h49.5v1.5H0zM0 196.8h49.5v1.5H0zM0 375.6h49.5v1.5H0zM0 602.4h49.5v1.5H0zM0 612.0h49.5v1.5H0zM0 626.4h49.5v1.5H0zM0 652.8h49.5v2.7H0zM0 667.2h49.5v1.5H0zM0 678.0h49.5v1.5H0zM0 688.8h49.5v2.7H0zM0 708.0h49.5v2.7H0zM0 718.8h49.5v1.5H0zM0 726.0h49.5v1.5H0zM0 738.0h49.5v1.5H0zM0 741.6h49.5v1.5H0zM0 746.4h49.5v2.7H0zM0 756.0h49.5v1.5H0zM0 770.4h49.5v2.7H0zM0 774.0h49.5v2.7H0zM0 777.6h49.5v1.5H0zM0 792.0h49.5v1.5H0zM0 794.4h49.5v1.5H0z" fill="#ebdbaa"/>
<path d="M0 4.8h49.5v1.5H0zM0 43.2h49.5v1.5H0zM0 45.6h49.5v3.9H0zM0 61.2h49.5v1.5H0zM0 72.0h49.5v1.5H0zM0 104.4h49.5v2.7H0zM0 115.2h49.5v1.5H0zM0 120.0h49.5v1.5H0zM0 195.6h49.5v1.5H0zM0 198.0h49.5v1.5H0zM0 628.8h49.5v1.5H0zM0 642.0h49.5v2.7H0zM0 648.0h49.5v1.5H0zM0 656.4h49.5v2.7H0zM0 669.6h49.5v3.9H0zM0 694.8h49.5v1.5H0zM0 698.4h49.5v1.5H0zM0 715.2h49.5v1.5H0zM0 744.0h49.5v1.5H0zM0 757.2h49.5v1.5H0zM0 769.2h49.5v1.5H0zM0 788.4h49.5v1.5H0z" fill="#eed5a4"/>
<path d="M0 10.8h49.5v1.5H0zM0 14.4h49.5v1.5H0zM0 55.2h49.5v1.5H0zM0 78.0h49.5v1.5H0zM0 88.8h49.5v1.5H0zM0 97.2h49.5v1.5H0zM0 114.0h49.5v1.5H0zM0 139.2h49.5v1.5H0zM0 360.0h49.5v1.5H0zM0 510.0h49.5v1.5H0zM0 607.2h49.5v1.5H0zM0 636.0h49.5v1.5H0z" fill="#f0cc9d"/>
<path d="M0 7.2h49.5v1.5H0zM0 39.6h49.5v1.5H0zM0 108.0h49.5v1.5H0zM0 680.4h49.5v1.5H0zM0 702.0h49.5v1.5H0zM0 750.0h49.5v1.5H0z" fill="#efb98e"/>
<path d="M0 75.6h49.5v1.5H0zM0 79.2h49.5v1.5H0zM0 99.6h49.5v1.5H0zM0 716.4h49.5v1.5H0z" fill="#eda57e"/>
<rect x="0" y="409.4" width="49.5" height="5" fill="#fff"/>
<rect x="0" y="325.0" width="49.5" height="2" fill="#fff"/>
<rect x="0" y="344.8" width="49.5" height="2" fill="#fff"/>
<rect x="0" y="387.0" width="49.5" height="2" fill="#fff"/>
<rect x="0" y="391.0" width="49.5" height="2" fill="#fff"/>
<rect x="0" y="424.0" width="49.5" height="2" fill="#fff"/>
<rect x="0" y="435.4" width="49.5" height="2" fill="#fff"/>
<rect x="0" y="446.0" width="49.5" height="2" fill="#fff"/>
<rect x="0" y="462.7" width="49.5" height="2" fill="#fff"/>
<rect x="0" y="478.8" width="49.5" height="2" fill="#fff"/>
<rect x="0" y="511.0" width="49.5" height="2" fill="#fff"/>
<rect x="0" y="516.0" width="49.5" height="2" fill="#fff"/>
</g>
<rect x="0" y="0" width="49.5" height="799.0" rx="7" fill="none" stroke="#777" stroke-width="1.2"/>
<path d="M0,6 V793.0 M49.5,6 V793.0" stroke="#111" stroke-width="2.2"/></g>
<text x="1454" y="370" text-anchor="end" font-family="'Liberation Sans', sans-serif" font-weight="bold" font-size="28" fill="#f6b80e">Chr5</text>
<g transform="translate(1821.5,33.5)"><g clip-path="url(#chrclip5)">
<path d="M0 158.4h49.5v1.5H0zM0 181.2h49.5v1.5H0zM0 240.0h49.5v1.5H0zM0 244.8h49.5v1.5H0zM0 248.4h49.5v1.5H0zM0 250.8h49.5v1.5H0zM0 303.6h49.5v1.5H0zM0 355.2h49.5v1.5H0zM0 394.8h49.5v1.5H0zM0 433.2h49.5v1.5H0zM0 465.6h49.5v1.5H0zM0 480.0h49.5v1.5H0zM0 508.8h49.5v1.5H0zM0 584.4h49.5v1.5H0zM0 589.2h49.5v1.5H0z" fill="#2d50ae"/>
<path d="M0 205.2h49.5v1.5H0zM0 224.4h49.5v1.5H0zM0 243.6h49.5v1.5H0zM0 266.4h49.5v3.9H0zM0 278.4h49.5v1.5H0zM0 280.8h49.5v1.5H0zM0 292.8h49.5v1.5H0zM0 314.4h49.5v1.5H0zM0 333.6h49.5v1.5H0zM0 336.0h49.5v1.5H0zM0 346.8h49.5v1.5H0zM0 350.4h49.5v1.5H0zM0 358.8h49.5v2.7H0zM0 370.8h49.5v2.7H0zM0 379.2h49.5v1.5H0zM0 382.8h49.5v1.5H0zM0 391.2h49.5v2.7H0zM0 402.0h49.5v1.5H0zM0 405.6h49.5v1.5H0zM0 414.0h49.5v1.5H0zM0 418.8h49.5v1.5H0zM0 428.4h49.5v1.5H0zM0 434.4h49.5v1.5H0zM0 439.2h49.5v1.5H0zM0 447.6h49.5v1.5H0zM0 459.6h49.5v1.5H0zM0 463.2h49.5v1.5H0zM0 469.2h49.5v1.5H0zM0 483.6h49.5v1.5H0zM0 500.4h49.5v1.5H0zM0 512.4h49.5v1.5H0zM0 522.0h49.5v2.7H0zM0 538.8h49.5v1.5H0zM0 560.4h49.5v1.5H0zM0 588.0h49.5v1.5H0z" fill="#3356b1"/>
<path d="M0 159.6h49.5v1.5H0zM0 170.4h49.5v1.5H0zM0 200.4h49.5v1.5H0zM0 216.0h49.5v1.5H0zM0 218.4h49.5v1.5H0zM0 231.6h49.5v1.5H0zM0 236.4h49.5v2.7H0zM0 241.2h49.5v1.5H0zM0 252.0h49.5v1.5H0zM0 254.4h49.5v3.9H0zM0 262.8h49.5v2.7H0zM0 276.0h49.5v1.5H0zM0 282.0h49.5v1.5H0zM0 285.6h49.5v2.7H0zM0 290.4h49.5v1.5H0zM0 309.6h49.5v2.7H0zM0 315.6h49.5v3.9H0zM0 324.0h49.5v2.7H0zM0 328.8h49.5v1.5H0zM0 331.2h49.5v1.5H0zM0 334.8h49.5v1.5H0zM0 338.4h49.5v3.9H0zM0 343.2h49.5v1.5H0zM0 345.6h49.5v1.5H0zM0 351.6h49.5v1.5H0zM0 356.4h49.5v2.7H0zM0 361.2h49.5v1.5H0zM0 366.0h49.5v1.5H0zM0 375.6h49.5v1.5H0zM0 380.4h49.5v1.5H0zM0 385.2h49.5v1.5H0zM0 390.0h49.5v1.5H0zM0 398.4h49.5v1.5H0zM0 400.8h49.5v1.5H0zM0 404.4h49.5v1.5H0zM0 412.8h49.5v1.5H0zM0 415.2h49.5v1.5H0zM0 417.6h49.5v1.5H0zM0 420.0h49.5v1.5H0zM0 423.6h49.5v1.5H0zM0 426.0h49.5v2.7H0zM0 436.8h49.5v2.7H0zM0 441.6h49.5v1.5H0zM0 453.6h49.5v1.5H0zM0 460.8h49.5v1.5H0zM0 468.0h49.5v1.5H0zM0 470.4h49.5v1.5H0zM0 478.8h49.5v1.5H0zM0 482.4h49.5v1.5H0zM0 486.0h49.5v1.5H0zM0 493.2h49.5v2.7H0zM0 498.0h49.5v2.7H0zM0 502.8h49.5v2.7H0zM0 511.2h49.5v1.5H0zM0 516.0h49.5v2.7H0zM0 520.8h49.5v1.5H0zM0 524.4h49.5v1.5H0zM0 526.8h49.5v1.5H0zM0 530.4h49.5v1.5H0zM0 535.2h49.5v1.5H0zM0 550.8h49.5v1.5H0zM0 567.6h49.5v1.5H0z" fill="#395db4"/>
<path d="M0 141.6h49.5v1.5H0zM0 162.0h49.5v1.5H0zM0 187.2h49.5v1.5H0zM0 189.6h49.5v1.5H0zM0 207.6h49.5v2.7H0zM0 220.8h49.5v1.5H0zM0 223.2h49.5v1.5H0zM0 225.6h49.5v1.5H0zM0 228.0h49.5v2.7H0zM0 232.8h49.5v1.5H0zM0 258.0h49.5v1.5H0zM0 261.6h49.5v1.5H0zM0 265.2h49.5v1.5H0zM0 271.2h49.5v1.5H0zM0 279.6h49.5v1.5H0zM0 295.2h49.5v1.5H0zM0 302.4h49.5v1.5H0zM0 313.2h49.5v1.5H0zM0 327.6h49.5v1.5H0zM0 330.0h49.5v1.5H0zM0 332.4h49.5v1.5H0zM0 342.0h49.5v1.5H0zM0 344.4h49.5v1.5H0zM0 348.0h49.5v2.7H0zM0 354.0h49.5v1.5H0zM0 374.4h49.5v1.5H0zM0 378.0h49.5v1.5H0zM0 381.6h49.5v1.5H0zM0 386.4h49.5v3.9H0zM0 416.4h49.5v1.5H0zM0 421.2h49.5v1.5H0zM0 429.6h49.5v1.5H0zM0 435.6h49.5v1.5H0zM0 440.4h49.5v1.5H0zM0 444.0h49.5v1.5H0zM0 454.8h49.5v3.9H0zM0 466.8h49.5v1.5H0zM0 471.6h49.5v3.9H0zM0 477.6h49.5v1.5H0zM0 489.6h49.5v1.5H0zM0 496.8h49.5v1.5H0zM0 507.6h49.5v1.5H0zM0 529.2h49.5v1.5H0zM0 595.2h49.5v1.5H0zM0 598.8h49.5v1.5H0z" fill="#3f63b8"/>
<path d="M0 138.0h49.5v1.5H0zM0 212.4h49.5v1.5H0zM0 259.2h49.5v1.5H0zM0 272.4h49.5v1.5H0zM0 288.0h49.5v1.5H0zM0 298.8h49.5v1.5H0zM0 308.4h49.5v1.5H0zM0 352.8h49.5v1.5H0zM0 373.2h49.5v1.5H0zM0 376.8h49.5v1.5H0zM0 384.0h49.5v1.5H0zM0 393.6h49.5v1.5H0zM0 410.4h49.5v1.5H0zM0 451.2h49.5v2.7H0zM0 462.0h49.5v1.5H0zM0 464.4h49.5v1.5H0zM0 481.2h49.5v1.5H0zM0 488.4h49.5v1.5H0zM0 492.0h49.5v1.5H0zM0 525.6h49.5v1.5H0zM0 565.2h49.5v1.5H0zM0 572.4h49.5v1.5H0z" fill="#4d6ebb"/>
<path d="M0 126.0h49.5v1.5H0zM0 146.4h49.5v1.5H0zM0 156.0h49.5v1.5H0zM0 183.6h49.5v1.5H0zM0 194.4h49.5v1.5H0zM0 234.0h49.5v1.5H0zM0 238.8h49.5v1.5H0zM0 246.0h49.5v1.5H0zM0 249.6h49.5v1.5H0zM0 270.0h49.5v1.5H0zM0 277.2h49.5v1.5H0zM0 304.8h49.5v3.9H0zM0 312.0h49.5v1.5H0zM0 320.4h49.5v1.5H0zM0 322.8h49.5v1.5H0zM0 397.2h49.5v1.5H0zM0 406.8h49.5v1.5H0zM0 458.4h49.5v1.5H0zM0 487.2h49.5v1.5H0zM0 505.2h49.5v2.7H0zM0 513.6h49.5v2.7H0zM0 519.6h49.5v1.5H0zM0 532.8h49.5v1.5H0zM0 543.6h49.5v1.5H0zM0 549.6h49.5v1.5H0zM0 555.6h49.5v1.5H0zM0 660.0h49.5v1.5H0z" fill="#5c7abe"/>
<path d="M0 144.0h49.5v1.5H0zM0 157.2h49.5v1.5H0zM0 164.4h49.5v1.5H0zM0 175.2h49.5v1.5H0zM0 206.4h49.5v1.5H0zM0 210.0h49.5v1.5H0zM0 226.8h49.5v1.5H0zM0 230.4h49.5v1.5H0zM0 235.2h49.5v1.5H0zM0 247.2h49.5v1.5H0zM0 253.2h49.5v1.5H0zM0 273.6h49.5v2.7H0zM0 284.4h49.5v1.5H0zM0 289.2h49.5v1.5H0zM0 291.6h49.5v1.5H0zM0 294.0h49.5v1.5H0zM0 300.0h49.5v1.5H0zM0 319.2h49.5v1.5H0zM0 321.6h49.5v1.5H0zM0 326.4h49.5v1.5H0zM0 362.4h49.5v3.9H0zM0 367.2h49.5v2.7H0zM0 403.2h49.5v1.5H0zM0 409.2h49.5v1.5H0zM0 424.8h49.5v1.5H0zM0 442.8h49.5v1.5H0zM0 446.4h49.5v1.5H0zM0 484.8h49.5v1.5H0zM0 518.4h49.5v1.5H0zM0 542.4h49.5v1.5H0zM0 544.8h49.5v1.5H0zM0 547.2h49.5v1.5H0zM0 559.2h49.5v1.5H0zM0 578.4h49.5v1.5H0zM0 612.0h49.5v1.5H0zM0 640.8h49.5v1.5H0zM0 687.6h49.5v1.5H0z" fill="#6b86c1"/>
<path d="M0 142.8h49.5v1.5H0zM0 182.4h49.5v1.5H0zM0 214.8h49.5v1.5H0zM0 242.4h49.5v1.5H0zM0 297.6h49.5v1.5H0zM0 448.8h49.5v2.7H0zM0 501.6h49.5v1.5H0zM0 528.0h49.5v1.5H0zM0 586.8h49.5v1.5H0zM0 592.8h49.5v1.5H0zM0 602.4h49.5v1.5H0zM0 658.8h49.5v1.5H0z" fill="#7b93c0"/>
<path d="M0 46.8h49.5v1.5H0zM0 50.4h49.5v1.5H0zM0 104.4h49.5v1.5H0zM0 145.2h49.5v1.5H0zM0 148.8h49.5v1.5H0zM0 174.0h49.5v1.5H0zM0 430.8h49.5v1.5H0zM0 475.2h49.5v1.5H0zM0 570.0h49.5v1.5H0zM0 596.4h49.5v1.5H0zM0 607.2h49.5v2.7H0zM0 610.8h49.5v1.5H0zM0 630.0h49.5v1.5H0zM0 686.4h49.5v1.5H0zM0 697.2h49.5v1.5H0z" fill="#8ca0bd"/>
<path d="M0 3.6h49.5v1.5H0zM0 12.0h49.5v1.5H0zM0 16.8h49.5v1.5H0zM0 19.2h49.5v1.5H0zM0 28.8h49.5v1.5H0zM0 48.0h49.5v1.5H0zM0 52.8h49.5v1.5H0zM0 66.0h49.5v1.5H0zM0 96.0h49.5v1.5H0zM0 100.8h49.5v1.5H0zM0 121.2h49.5v1.5H0zM0 124.8h49.5v1.5H0zM0 127.2h49.5v1.5H0zM0 147.6h49.5v1.5H0zM0 150.0h49.5v1.5H0zM0 168.0h49.5v1.5H0zM0 176.4h49.5v1.5H0zM0 184.8h49.5v1.5H0zM0 188.4h49.5v1.5H0zM0 196.8h49.5v1.5H0zM0 201.6h49.5v1.5H0zM0 213.6h49.5v1.5H0zM0 260.4h49.5v1.5H0zM0 369.6h49.5v1.5H0zM0 411.6h49.5v1.5H0zM0 536.4h49.5v1.5H0zM0 540.0h49.5v1.5H0zM0 546.0h49.5v1.5H0zM0 553.2h49.5v1.5H0zM0 564.0h49.5v1.5H0zM0 574.8h49.5v2.7H0zM0 580.8h49.5v1.5H0zM0 590.4h49.5v1.5H0zM0 604.8h49.5v2.7H0zM0 621.6h49.5v1.5H0zM0 628.8h49.5v1.5H0zM0 636.0h49.5v1.5H0zM0 639.6h49.5v1.5H0zM0 648.0h49.5v1.5H0zM0 682.8h49.5v1.5H0zM0 694.8h49.5v2.7H0z" fill="#9cacb9"/>
<path d="M0 13.2h49.5v1.5H0zM0 25.2h49.5v1.5H0zM0 30.0h49.5v1.5H0zM0 34.8h49.5v1.5H0zM0 39.6h49.5v1.5H0zM0 44.4h49.5v1.5H0zM0 49.2h49.5v1.5H0zM0 55.2h49.5v1.5H0zM0 60.0h49.5v1.5H0zM0 69.6h49.5v1.5H0zM0 88.8h49.5v1.5H0zM0 94.8h49.5v1.5H0zM0 120.0h49.5v1.5H0zM0 136.8h49.5v1.5H0zM0 151.2h49.5v2.7H0zM0 160.8h49.5v1.5H0zM0 166.8h49.5v1.5H0zM0 171.6h49.5v1.5H0zM0 217.2h49.5v1.5H0zM0 219.6h49.5v1.5H0zM0 283.2h49.5v1.5H0zM0 422.4h49.5v1.5H0zM0 432.0h49.5v1.5H0zM0 490.8h49.5v1.5H0zM0 531.6h49.5v1.5H0zM0 537.6h49.5v1.5H0zM0 554.4h49.5v1.5H0zM0 558.0h49.5v1.5H0zM0 562.8h49.5v1.5H0zM0 566.4h49.5v1.5H0zM0 568.8h49.5v1.5H0zM0 573.6h49.5v1.5H0zM0 585.6h49.5v1.5H0zM0 594.0h49.5v1.5H0zM0 609.6h49.5v1.5H0zM0 613.2h49.5v1.5H0zM0 615.6h49.5v1.5H0zM0 632.4h49.5v1.5H0zM0 652.8h49.5v2.7H0zM0 672.0h49.5v1.5H0zM0 675.6h49.5v1.5H0zM0 699.6h49.5v1.5H0z" fill="#acb8b6"/>
<path d="M0 21.6h49.5v1.5H0zM0 38.4h49.5v1.5H0zM0 169.2h49.5v1.5H0zM0 186.0h49.5v1.5H0zM0 195.6h49.5v1.5H0zM0 202.8h49.5v2.7H0zM0 301.2h49.5v1.5H0zM0 399.6h49.5v1.5H0zM0 534.0h49.5v1.5H0zM0 556.8h49.5v1.5H0zM0 601.2h49.5v1.5H0zM0 666.0h49.5v1.5H0z" fill="#bbc4b3"/>
<path d="M0 43.2h49.5v1.5H0zM0 133.2h49.5v1.5H0zM0 670.8h49.5v1.5H0zM0 676.8h49.5v1.5H0z" fill="#cad0b1"/>
<path d="M0 22.8h49.5v1.5H0zM0 58.8h49.5v1.5H0zM0 63.6h49.5v1.5H0zM0 72.0h49.5v1.5H0zM0 81.6h49.5v2.7H0zM0 97.2h49.5v2.7H0zM0 114.0h49.5v1.5H0zM0 118.8h49.5v1.5H0zM0 122.4h49.5v1.5H0zM0 211.2h49.5v1.5H0zM0 296.4h49.5v1.5H0zM0 541.2h49.5v1.5H0zM0 597.6h49.5v1.5H0zM0 625.2h49.5v1.5H0zM0 634.8h49.5v1.5H0zM0 637.2h49.5v1.5H0zM0 649.2h49.5v1.5H0zM0 663.6h49.5v1.5H0zM0 681.6h49.5v1.5H0zM0 690.0h49.5v1.5H0z" fill="#d8d7af"/>
<path d="M0 6.0h49.5v1.5H0zM0 8.4h49.5v1.5H0zM0 15.6h49.5v1.5H0zM0 27.6h49.5v1.5H0zM0 42.0h49.5v1.5H0zM0 54.0h49.5v1.5H0zM0 64.8h49.5v1.5H0zM0 68.4h49.5v1.5H0zM0 75.6h49.5v1.5H0zM0 79.2h49.5v1.5H0zM0 85.2h49.5v1.5H0zM0 92.4h49.5v2.7H0zM0 105.6h49.5v2.7H0zM0 109.2h49.5v2.7H0zM0 112.8h49.5v1.5H0zM0 130.8h49.5v1.5H0zM0 134.4h49.5v1.5H0zM0 163.2h49.5v1.5H0zM0 180.0h49.5v1.5H0zM0 192.0h49.5v1.5H0zM0 198.0h49.5v1.5H0zM0 222.0h49.5v1.5H0zM0 396.0h49.5v1.5H0zM0 495.6h49.5v1.5H0zM0 510.0h49.5v1.5H0zM0 561.6h49.5v1.5H0zM0 577.2h49.5v1.5H0zM0 579.6h49.5v1.5H0zM0 583.2h49.5v1.5H0zM0 600.0h49.5v1.5H0zM0 620.4h49.5v1.5H0zM0 627.6h49.5v1.5H0zM0 633.6h49.5v1.5H0zM0 638.4h49.5v1.5H0zM0 642.0h49.5v2.7H0zM0 646.8h49.5v1.5H0zM0 656.4h49.5v1.5H0zM0 662.4h49.5v1.5H0zM0 664.8h49.5v1.5H0zM0 679.2h49.5v1.5H0zM0 685.2h49.5v1.5H0zM0 692.4h49.5v1.5H0zM0 700.8h49.5v1.5H0z" fill="#e5deae"/>
<path d="M0 2.4h49.5v1.5H0zM0 4.8h49.5v1.5H0zM0 7.2h49.5v1.5H0zM0 14.4h49.5v1.5H0zM0 31.2h49.5v2.7H0zM0 45.6h49.5v1.5H0zM0 51.6h49.5v1.5H0zM0 56.4h49.5v2.7H0zM0 67.2h49.5v1.5H0zM0 70.8h49.5v1.5H0zM0 76.8h49.5v2.7H0zM0 80.4h49.5v1.5H0zM0 86.4h49.5v2.7H0zM0 91.2h49.5v1.5H0zM0 102.0h49.5v1.5H0zM0 111.6h49.5v1.5H0zM0 115.2h49.5v3.9H0zM0 132.0h49.5v1.5H0zM0 135.6h49.5v1.5H0zM0 140.4h49.5v1.5H0zM0 154.8h49.5v1.5H0zM0 165.6h49.5v1.5H0zM0 172.8h49.5v1.5H0zM0 178.8h49.5v1.5H0zM0 199.2h49.5v1.5H0zM0 337.2h49.5v1.5H0zM0 408.0h49.5v1.5H0zM0 445.2h49.5v1.5H0zM0 552.0h49.5v1.5H0zM0 571.2h49.5v1.5H0zM0 614.4h49.5v1.5H0zM0 616.8h49.5v1.5H0zM0 619.2h49.5v1.5H0zM0 622.8h49.5v2.7H0zM0 626.4h49.5v1.5H0zM0 631.2h49.5v1.5H0zM0 645.6h49.5v1.5H0zM0 667.2h49.5v3.9H0zM0 674.4h49.5v1.5H0zM0 680.4h49.5v1.5H0zM0 684.0h49.5v1.5H0zM0 698.4h49.5v1.5H0z" fill="#ebdbaa"/>
<path d="M0 0.0h49.5v2.7H0zM0 9.6h49.5v2.7H0zM0 24.0h49.5v1.5H0zM0 36.0h49.5v2.7H0zM0 40.8h49.5v1.5H0zM0 73.2h49.5v2.7H0zM0 84.0h49.5v1.5H0zM0 103.2h49.5v1.5H0zM0 129.6h49.5v1.5H0zM0 139.2h49.5v1.5H0zM0 177.6h49.5v1.5H0zM0 193.2h49.5v1.5H0zM0 476.4h49.5v1.5H0zM0 582.0h49.5v1.5H0zM0 591.6h49.5v1.5H0zM0 603.6h49.5v1.5H0zM0 618.0h49.5v1.5H0zM0 644.4h49.5v1.5H0zM0 673.2h49.5v1.5H0zM0 678.0h49.5v1.5H0zM0 691.2h49.5v1.5H0z" fill="#eed5a4"/>
<path d="M0 61.2h49.5v2.7H0zM0 128.4h49.5v1.5H0zM0 153.6h49.5v1.5H0zM0 548.4h49.5v1.5H0zM0 650.4h49.5v1.5H0z" fill="#f0cc9d"/>
<path d="M0 18.0h49.5v1.5H0zM0 20.4h49.5v1.5H0zM0 99.6h49.5v1.5H0zM0 108.0h49.5v1.5H0zM0 123.6h49.5v1.5H0zM0 651.6h49.5v1.5H0zM0 661.2h49.5v1.5H0z" fill="#efb98e"/>
<path d="M0 33.6h49.5v1.5H0zM0 190.8h49.5v1.5H0zM0 655.2h49.5v1.5H0zM0 657.6h49.5v1.5H0zM0 688.8h49.5v1.5H0zM0 693.6h49.5v1.5H0z" fill="#eda57e"/>
<path d="M0 26.4h49.5v1.5H0zM0 90.0h49.5v1.5H0z" fill="#e78b67"/>
<rect x="0" y="345.1" width="49.5" height="13.6" fill="#fff"/>
<rect x="0" y="306.0" width="49.5" height="2" fill="#fff"/>
<rect x="0" y="337.0" width="49.5" height="2" fill="#fff"/>
<rect x="0" y="442.5" width="49.5" height="2" fill="#fff"/>
<rect x="0" y="447.5" width="49.5" height="2" fill="#fff"/>
<rect x="0" y="597.5" width="49.5" height="2" fill="#fff"/>
</g>
<rect x="0" y="0" width="49.5" height="701.0" rx="7" fill="none" stroke="#777" stroke-width="1.2"/>
<path d="M0,6 V695.0 M49.5,6 V695.0" stroke="#111" stroke-width="2.2"/></g>
<text x="1811" y="379" text-anchor="end" font-family="'Liberation Sans', sans-serif" font-weight="bold" font-size="28" fill="#f6b80e">Chr6</text>
<g transform="translate(2211,32)"><g clip-path="url(#chrclip6)">
<path d="M0 127.2h49.5v1.5H0zM0 204.0h49.5v1.5H0zM0 247.2h49.5v1.5H0zM0 277.2h49.5v1.5H0zM0 288.0h49.5v1.5H0zM0 306.0h49.5v1.5H0zM0 324.0h49.5v1.5H0zM0 334.8h49.5v1.5H0zM0 412.8h49.5v1.5H0zM0 456.0h49.5v1.5H0zM0 468.0h49.5v1.5H0zM0 489.6h49.5v1.5H0zM0 514.8h49.5v1.5H0zM0 544.8h49.5v1.5H0zM0 570.0h49.5v1.5H0z" fill="#2d50ae"/>
<path d="M0 147.6h49.5v1.5H0zM0 153.6h49.5v1.5H0zM0 168.0h49.5v1.5H0zM0 187.2h49.5v1.5H0zM0 193.2h49.5v1.5H0zM0 196.8h49.5v1.5H0zM0 201.6h49.5v1.5H0zM0 212.4h49.5v1.5H0zM0 214.8h49.5v2.7H0zM0 231.6h49.5v1.5H0zM0 236.4h49.5v1.5H0zM0 260.4h49.5v1.5H0zM0 262.8h49.5v1.5H0zM0 270.0h49.5v1.5H0zM0 276.0h49.5v1.5H0zM0 285.6h49.5v2.7H0zM0 289.2h49.5v1.5H0zM0 300.0h49.5v1.5H0zM0 308.4h49.5v1.5H0zM0 313.2h49.5v1.5H0zM0 320.4h49.5v1.5H0zM0 322.8h49.5v1.5H0zM0 326.4h49.5v1.5H0zM0 330.0h49.5v5.1H0zM0 338.4h49.5v1.5H0zM0 346.8h49.5v1.5H0zM0 349.2h49.5v1.5H0zM0 357.6h49.5v2.7H0zM0 363.6h49.5v1.5H0zM0 381.6h49.5v1.5H0zM0 393.6h49.5v1.5H0zM0 397.2h49.5v1.5H0zM0 428.4h49.5v1.5H0zM0 440.4h49.5v1.5H0zM0 451.2h49.5v1.5H0zM0 454.8h49.5v1.5H0zM0 464.4h49.5v2.7H0zM0 474.0h49.5v1.5H0zM0 486.0h49.5v2.7H0zM0 490.8h49.5v1.5H0zM0 506.4h49.5v1.5H0zM0 511.2h49.5v1.5H0zM0 526.8h49.5v1.5H0zM0 534.0h49.5v1.5H0zM0 552.0h49.5v1.5H0zM0 596.4h49.5v1.5H0zM0 607.2h49.5v1.5H0zM0 612.0h49.5v1.5H0zM0 690.0h49.5v1.5H0z" fill="#3356b1"/>
<path d="M0 126.0h49.5v1.5H0zM0 154.8h49.5v1.5H0zM0 170.4h49.5v2.7H0zM0 176.4h49.5v1.5H0zM0 180.0h49.5v3.9H0zM0 188.4h49.5v1.5H0zM0 195.6h49.5v1.5H0zM0 199.2h49.5v1.5H0zM0 202.8h49.5v1.5H0zM0 205.2h49.5v2.7H0zM0 208.8h49.5v1.5H0zM0 217.2h49.5v1.5H0zM0 229.2h49.5v1.5H0zM0 232.8h49.5v1.5H0zM0 237.6h49.5v2.7H0zM0 242.4h49.5v1.5H0zM0 249.6h49.5v3.9H0zM0 259.2h49.5v1.5H0zM0 261.6h49.5v1.5H0zM0 264.0h49.5v2.7H0zM0 274.8h49.5v1.5H0zM0 279.6h49.5v1.5H0zM0 284.4h49.5v1.5H0zM0 290.4h49.5v1.5H0zM0 296.4h49.5v2.7H0zM0 301.2h49.5v2.7H0zM0 314.4h49.5v3.9H0zM0 325.2h49.5v1.5H0zM0 327.6h49.5v1.5H0zM0 337.2h49.5v1.5H0zM0 348.0h49.5v1.5H0zM0 350.4h49.5v1.5H0zM0 355.2h49.5v1.5H0zM0 360.0h49.5v1.5H0zM0 368.4h49.5v1.5H0zM0 374.4h49.5v3.9H0zM0 385.2h49.5v1.5H0zM0 398.4h49.5v1.5H0zM0 406.8h49.5v2.7H0zM0 417.6h49.5v1.5H0zM0 422.4h49.5v1.5H0zM0 424.8h49.5v2.7H0zM0 429.6h49.5v1.5H0zM0 432.0h49.5v2.7H0zM0 446.4h49.5v2.7H0zM0 452.4h49.5v2.7H0zM0 466.8h49.5v1.5H0zM0 470.4h49.5v1.5H0zM0 472.8h49.5v1.5H0zM0 475.2h49.5v1.5H0zM0 478.8h49.5v1.5H0zM0 493.2h49.5v3.9H0zM0 502.8h49.5v3.9H0zM0 513.6h49.5v1.5H0zM0 517.2h49.5v1.5H0zM0 520.8h49.5v3.9H0zM0 525.6h49.5v1.5H0zM0 529.2h49.5v1.5H0zM0 549.6h49.5v1.5H0zM0 584.4h49.5v1.5H0z" fill="#395db4"/>
<path d="M0 141.6h49.5v1.5H0zM0 175.2h49.5v1.5H0zM0 189.6h49.5v2.7H0zM0 198.0h49.5v1.5H0zM0 207.6h49.5v1.5H0zM0 213.6h49.5v1.5H0zM0 224.4h49.5v1.5H0zM0 241.2h49.5v1.5H0zM0 248.4h49.5v1.5H0zM0 254.4h49.5v1.5H0zM0 273.6h49.5v1.5H0zM0 298.8h49.5v1.5H0zM0 303.6h49.5v2.7H0zM0 318.0h49.5v1.5H0zM0 321.6h49.5v1.5H0zM0 328.8h49.5v1.5H0zM0 339.6h49.5v1.5H0zM0 345.6h49.5v1.5H0zM0 354.0h49.5v1.5H0zM0 356.4h49.5v1.5H0zM0 367.2h49.5v1.5H0zM0 370.8h49.5v1.5H0zM0 382.8h49.5v1.5H0zM0 386.4h49.5v2.7H0zM0 390.0h49.5v1.5H0zM0 402.0h49.5v1.5H0zM0 405.6h49.5v1.5H0zM0 409.2h49.5v1.5H0zM0 415.2h49.5v1.5H0zM0 418.8h49.5v2.7H0zM0 434.4h49.5v2.7H0zM0 441.6h49.5v2.7H0zM0 448.8h49.5v1.5H0zM0 458.4h49.5v1.5H0zM0 462.0h49.5v1.5H0zM0 476.4h49.5v1.5H0zM0 483.6h49.5v1.5H0zM0 496.8h49.5v1.5H0zM0 518.4h49.5v1.5H0zM0 528.0h49.5v1.5H0zM0 530.4h49.5v1.5H0zM0 536.4h49.5v1.5H0zM0 546.0h49.5v1.5H0z" fill="#3f63b8"/>
<path d="M0 163.2h49.5v1.5H0zM0 178.8h49.5v1.5H0zM0 192.0h49.5v1.5H0zM0 200.4h49.5v1.5H0zM0 210.0h49.5v1.5H0zM0 255.6h49.5v2.7H0zM0 266.4h49.5v2.7H0zM0 278.4h49.5v1.5H0zM0 312.0h49.5v1.5H0zM0 351.6h49.5v1.5H0zM0 366.0h49.5v1.5H0zM0 373.2h49.5v1.5H0zM0 384.0h49.5v1.5H0zM0 416.4h49.5v1.5H0zM0 439.2h49.5v1.5H0zM0 450.0h49.5v1.5H0zM0 469.2h49.5v1.5H0zM0 471.6h49.5v1.5H0zM0 498.0h49.5v2.7H0zM0 537.6h49.5v1.5H0zM0 543.6h49.5v1.5H0zM0 658.8h49.5v1.5H0z" fill="#4d6ebb"/>
<path d="M0 148.8h49.5v1.5H0zM0 166.8h49.5v1.5H0zM0 183.6h49.5v1.5H0zM0 194.4h49.5v1.5H0zM0 220.8h49.5v1.5H0zM0 226.8h49.5v1.5H0zM0 230.4h49.5v1.5H0zM0 235.2h49.5v1.5H0zM0 246.0h49.5v1.5H0zM0 253.2h49.5v1.5H0zM0 319.2h49.5v1.5H0zM0 342.0h49.5v1.5H0zM0 379.2h49.5v2.7H0zM0 392.4h49.5v1.5H0zM0 400.8h49.5v1.5H0zM0 403.2h49.5v2.7H0zM0 411.6h49.5v1.5H0zM0 421.2h49.5v1.5H0zM0 430.8h49.5v1.5H0zM0 457.2h49.5v1.5H0zM0 484.8h49.5v1.5H0zM0 500.4h49.5v2.7H0zM0 516.0h49.5v1.5H0zM0 519.6h49.5v1.5H0zM0 540.0h49.5v1.5H0zM0 628.8h49.5v1.5H0zM0 642.0h49.5v1.5H0z" fill="#5c7abe"/>
<path d="M0 129.6h49.5v1.5H0zM0 145.2h49.5v2.7H0zM0 150.0h49.5v1.5H0zM0 159.6h49.5v1.5H0zM0 169.2h49.5v1.5H0zM0 174.0h49.5v1.5H0zM0 211.2h49.5v1.5H0zM0 218.4h49.5v2.7H0zM0 225.6h49.5v1.5H0zM0 240.0h49.5v1.5H0zM0 243.6h49.5v2.7H0zM0 268.8h49.5v1.5H0zM0 283.2h49.5v1.5H0zM0 291.6h49.5v3.9H0zM0 309.6h49.5v2.7H0zM0 336.0h49.5v1.5H0zM0 352.8h49.5v1.5H0zM0 361.2h49.5v2.7H0zM0 378.0h49.5v1.5H0zM0 388.8h49.5v1.5H0zM0 391.2h49.5v1.5H0zM0 394.8h49.5v2.7H0zM0 399.6h49.5v1.5H0zM0 414.0h49.5v1.5H0zM0 427.2h49.5v1.5H0zM0 438.0h49.5v1.5H0zM0 481.2h49.5v1.5H0zM0 488.4h49.5v1.5H0zM0 512.4h49.5v1.5H0zM0 547.2h49.5v1.5H0zM0 555.6h49.5v2.7H0zM0 559.2h49.5v1.5H0zM0 564.0h49.5v1.5H0zM0 578.4h49.5v1.5H0zM0 588.0h49.5v1.5H0zM0 610.8h49.5v1.5H0zM0 664.8h49.5v1.5H0zM0 687.6h49.5v1.5H0z" fill="#6b86c1"/>
<path d="M0 97.2h49.5v1.5H0zM0 172.8h49.5v1.5H0zM0 177.6h49.5v1.5H0zM0 184.8h49.5v1.5H0zM0 222.0h49.5v2.7H0zM0 234.0h49.5v1.5H0zM0 258.0h49.5v1.5H0zM0 280.8h49.5v2.7H0zM0 307.2h49.5v1.5H0zM0 343.2h49.5v1.5H0zM0 364.8h49.5v1.5H0zM0 410.4h49.5v1.5H0zM0 436.8h49.5v1.5H0zM0 444.0h49.5v1.5H0zM0 460.8h49.5v1.5H0zM0 492.0h49.5v1.5H0zM0 602.4h49.5v1.5H0zM0 656.4h49.5v1.5H0z" fill="#7b93c0"/>
<path d="M0 33.6h49.5v1.5H0zM0 60.0h49.5v1.5H0zM0 130.8h49.5v1.5H0zM0 186.0h49.5v1.5H0zM0 228.0h49.5v1.5H0zM0 295.2h49.5v1.5H0zM0 477.6h49.5v1.5H0zM0 482.4h49.5v1.5H0zM0 566.4h49.5v1.5H0zM0 568.8h49.5v1.5H0zM0 574.8h49.5v1.5H0zM0 582.0h49.5v1.5H0zM0 604.8h49.5v1.5H0zM0 631.2h49.5v1.5H0zM0 650.4h49.5v1.5H0zM0 681.6h49.5v1.5H0z" fill="#8ca0bd"/>
<path d="M0 0.0h49.5v2.7H0zM0 20.4h49.5v1.5H0zM0 55.2h49.5v1.5H0zM0 57.6h49.5v1.5H0zM0 64.8h49.5v2.7H0zM0 82.8h49.5v1.5H0zM0 91.2h49.5v1.5H0zM0 93.6h49.5v1.5H0zM0 121.2h49.5v1.5H0zM0 134.4h49.5v1.5H0zM0 136.8h49.5v1.5H0zM0 139.2h49.5v1.5H0zM0 142.8h49.5v1.5H0zM0 156.0h49.5v1.5H0zM0 162.0h49.5v1.5H0zM0 271.2h49.5v2.7H0zM0 372.0h49.5v1.5H0zM0 445.2h49.5v1.5H0zM0 463.2h49.5v1.5H0zM0 531.6h49.5v1.5H0zM0 541.2h49.5v1.5H0zM0 567.6h49.5v1.5H0zM0 577.2h49.5v1.5H0zM0 591.6h49.5v2.7H0zM0 595.2h49.5v1.5H0zM0 603.6h49.5v1.5H0zM0 606.0h49.5v1.5H0zM0 613.2h49.5v1.5H0zM0 637.2h49.5v1.5H0zM0 648.0h49.5v1.5H0zM0 667.2h49.5v1.5H0zM0 676.8h49.5v1.5H0zM0 698.4h49.5v1.5H0z" fill="#9cacb9"/>
<path d="M0 7.2h49.5v1.5H0zM0 21.6h49.5v2.7H0zM0 26.4h49.5v1.5H0zM0 39.6h49.5v2.7H0zM0 51.6h49.5v2.7H0zM0 62.4h49.5v1.5H0zM0 80.4h49.5v1.5H0zM0 112.8h49.5v1.5H0zM0 115.2h49.5v1.5H0zM0 133.2h49.5v1.5H0zM0 138.0h49.5v1.5H0zM0 140.4h49.5v1.5H0zM0 152.4h49.5v1.5H0zM0 160.8h49.5v1.5H0zM0 164.4h49.5v2.7H0zM0 344.4h49.5v1.5H0zM0 369.6h49.5v1.5H0zM0 459.6h49.5v1.5H0zM0 532.8h49.5v1.5H0zM0 535.2h49.5v1.5H0zM0 542.4h49.5v1.5H0zM0 565.2h49.5v1.5H0zM0 571.2h49.5v1.5H0zM0 586.8h49.5v1.5H0zM0 609.6h49.5v1.5H0zM0 614.4h49.5v1.5H0zM0 618.0h49.5v1.5H0zM0 646.8h49.5v1.5H0zM0 670.8h49.5v1.5H0zM0 674.4h49.5v2.7H0zM0 684.0h49.5v1.5H0zM0 693.6h49.5v1.5H0zM0 696.0h49.5v1.5H0z" fill="#acb8b6"/>
<path d="M0 25.2h49.5v1.5H0zM0 79.2h49.5v1.5H0zM0 157.2h49.5v1.5H0zM0 480.0h49.5v1.5H0zM0 510.0h49.5v1.5H0zM0 524.4h49.5v1.5H0zM0 558.0h49.5v1.5H0zM0 572.4h49.5v1.5H0zM0 576.0h49.5v1.5H0zM0 589.2h49.5v1.5H0zM0 624.0h49.5v1.5H0zM0 666.0h49.5v1.5H0z" fill="#bbc4b3"/>
<path d="M0 84.0h49.5v1.5H0zM0 561.6h49.5v1.5H0zM0 694.8h49.5v1.5H0zM0 699.6h49.5v1.5H0z" fill="#cad0b1"/>
<path d="M0 24.0h49.5v1.5H0zM0 85.2h49.5v1.5H0zM0 98.4h49.5v1.5H0zM0 106.8h49.5v1.5H0zM0 109.2h49.5v1.5H0zM0 508.8h49.5v1.5H0zM0 553.2h49.5v1.5H0zM0 573.6h49.5v1.5H0zM0 580.8h49.5v1.5H0zM0 608.4h49.5v1.5H0zM0 620.4h49.5v1.5H0zM0 682.8h49.5v1.5H0z" fill="#d8d7af"/>
<path d="M0 3.6h49.5v2.7H0zM0 14.4h49.5v1.5H0zM0 16.8h49.5v1.5H0zM0 19.2h49.5v1.5H0zM0 31.2h49.5v2.7H0zM0 38.4h49.5v1.5H0zM0 48.0h49.5v2.7H0zM0 54.0h49.5v1.5H0zM0 56.4h49.5v1.5H0zM0 58.8h49.5v1.5H0zM0 67.2h49.5v1.5H0zM0 76.8h49.5v1.5H0zM0 94.8h49.5v2.7H0zM0 100.8h49.5v2.7H0zM0 104.4h49.5v1.5H0zM0 114.0h49.5v1.5H0zM0 117.6h49.5v1.5H0zM0 120.0h49.5v1.5H0zM0 124.8h49.5v1.5H0zM0 128.4h49.5v1.5H0zM0 151.2h49.5v1.5H0zM0 158.4h49.5v1.5H0zM0 423.6h49.5v1.5H0zM0 548.4h49.5v1.5H0zM0 583.2h49.5v1.5H0zM0 585.6h49.5v1.5H0zM0 600.0h49.5v1.5H0zM0 622.8h49.5v1.5H0zM0 626.4h49.5v1.5H0zM0 630.0h49.5v1.5H0zM0 632.4h49.5v1.5H0zM0 634.8h49.5v1.5H0zM0 638.4h49.5v1.5H0zM0 643.2h49.5v1.5H0zM0 645.6h49.5v1.5H0zM0 649.2h49.5v1.5H0zM0 651.6h49.5v3.9H0zM0 660.0h49.5v1.5H0zM0 672.0h49.5v1.5H0z" fill="#e5deae"/>
<path d="M0 2.4h49.5v1.5H0zM0 10.8h49.5v1.5H0zM0 27.6h49.5v2.7H0zM0 45.6h49.5v1.5H0zM0 61.2h49.5v1.5H0zM0 68.4h49.5v1.5H0zM0 73.2h49.5v2.7H0zM0 81.6h49.5v1.5H0zM0 87.6h49.5v1.5H0zM0 90.0h49.5v1.5H0zM0 92.4h49.5v1.5H0zM0 108.0h49.5v1.5H0zM0 110.4h49.5v2.7H0zM0 132.0h49.5v1.5H0zM0 135.6h49.5v1.5H0zM0 144.0h49.5v1.5H0zM0 340.8h49.5v1.5H0zM0 507.6h49.5v1.5H0zM0 538.8h49.5v1.5H0zM0 560.4h49.5v1.5H0zM0 562.8h49.5v1.5H0zM0 579.6h49.5v1.5H0zM0 590.4h49.5v1.5H0zM0 597.6h49.5v1.5H0zM0 621.6h49.5v1.5H0zM0 636.0h49.5v1.5H0zM0 640.8h49.5v1.5H0zM0 655.2h49.5v1.5H0zM0 657.6h49.5v1.5H0zM0 661.2h49.5v2.7H0zM0 678.0h49.5v1.5H0zM0 680.4h49.5v1.5H0zM0 688.8h49.5v1.5H0zM0 692.4h49.5v1.5H0zM0 697.2h49.5v1.5H0z" fill="#ebdbaa"/>
<path d="M0 8.4h49.5v2.7H0zM0 13.2h49.5v1.5H0zM0 15.6h49.5v1.5H0zM0 18.0h49.5v1.5H0zM0 36.0h49.5v2.7H0zM0 42.0h49.5v1.5H0zM0 50.4h49.5v1.5H0zM0 63.6h49.5v1.5H0zM0 70.8h49.5v1.5H0zM0 78.0h49.5v1.5H0zM0 99.6h49.5v1.5H0zM0 105.6h49.5v1.5H0zM0 116.4h49.5v1.5H0zM0 122.4h49.5v2.7H0zM0 550.8h49.5v1.5H0zM0 554.4h49.5v1.5H0zM0 594.0h49.5v1.5H0zM0 601.2h49.5v1.5H0zM0 616.8h49.5v1.5H0zM0 619.2h49.5v1.5H0zM0 627.6h49.5v1.5H0zM0 633.6h49.5v1.5H0zM0 663.6h49.5v1.5H0zM0 673.2h49.5v1.5H0zM0 686.4h49.5v1.5H0zM0 691.2h49.5v1.5H0z" fill="#eed5a4"/>
<path d="M0 30.0h49.5v1.5H0zM0 34.8h49.5v1.5H0zM0 69.6h49.5v1.5H0zM0 72.0h49.5v1.5H0zM0 86.4h49.5v1.5H0zM0 88.8h49.5v1.5H0zM0 598.8h49.5v1.5H0zM0 625.2h49.5v1.5H0zM0 685.2h49.5v1.5H0z" fill="#f0cc9d"/>
<path d="M0 6.0h49.5v1.5H0zM0 12.0h49.5v1.5H0zM0 44.4h49.5v1.5H0zM0 46.8h49.5v1.5H0zM0 118.8h49.5v1.5H0zM0 615.6h49.5v1.5H0zM0 639.6h49.5v1.5H0zM0 644.4h49.5v1.5H0zM0 668.4h49.5v1.5H0z" fill="#efb98e"/>
<path d="M0 75.6h49.5v1.5H0zM0 103.2h49.5v1.5H0zM0 669.6h49.5v1.5H0zM0 679.2h49.5v1.5H0z" fill="#eda57e"/>
<path d="M0 43.2h49.5v1.5H0z" fill="#e78b67"/>
<rect x="0" y="350.0" width="49.5" height="6" fill="#fff"/>
<rect x="0" y="362.0" width="49.5" height="6" fill="#fff"/>
<rect x="0" y="281.3" width="49.5" height="2" fill="#fff"/>
<rect x="0" y="309.4" width="49.5" height="2" fill="#fff"/>
<rect x="0" y="423.2" width="49.5" height="2" fill="#fff"/>
</g>
<rect x="0" y="0" width="49.5" height="700.0" rx="7" fill="none" stroke="#777" stroke-width="1.2"/>
<path d="M0,6 V694.0 M49.5,6 V694.0" stroke="#111" stroke-width="2.2"/></g>
<text x="2199" y="378" text-anchor="end" font-family="'Liberation Sans', sans-serif" font-weight="bold" font-size="28" fill="#f6b80e">Chr7</text>
<g transform="translate(2596.5,29)"><g clip-path="url(#chrclip7)">
<path d="M0 283.2h49.5v1.5H0zM0 296.4h49.5v2.7H0zM0 300.0h49.5v2.7H0zM0 309.6h49.5v1.5H0zM0 313.2h49.5v1.5H0zM0 319.2h49.5v1.5H0zM0 410.4h49.5v1.5H0zM0 440.4h49.5v1.5H0zM0 470.4h49.5v2.7H0zM0 494.4h49.5v1.5H0zM0 498.0h49.5v1.5H0zM0 526.8h49.5v1.5H0zM0 540.0h49.5v1.5H0zM0 554.4h49.5v1.5H0zM0 566.4h49.5v1.5H0zM0 573.6h49.5v1.5H0zM0 583.2h49.5v1.5H0zM0 637.2h49.5v1.5H0zM0 656.4h49.5v1.5H0z" fill="#2d50ae"/>
<path d="M0 220.8h49.5v1.5H0zM0 246.0h49.5v1.5H0zM0 302.4h49.5v1.5H0zM0 304.8h49.5v1.5H0zM0 312.0h49.5v1.5H0zM0 318.0h49.5v1.5H0zM0 320.4h49.5v1.5H0zM0 326.4h49.5v1.5H0zM0 333.6h49.5v1.5H0zM0 343.2h49.5v1.5H0zM0 345.6h49.5v1.5H0zM0 356.4h49.5v2.7H0zM0 360.0h49.5v1.5H0zM0 372.0h49.5v2.7H0zM0 385.2h49.5v1.5H0zM0 397.2h49.5v1.5H0zM0 403.2h49.5v1.5H0zM0 405.6h49.5v2.7H0zM0 416.4h49.5v2.7H0zM0 424.8h49.5v1.5H0zM0 427.2h49.5v1.5H0zM0 452.4h49.5v1.5H0zM0 454.8h49.5v1.5H0zM0 458.4h49.5v2.7H0zM0 468.0h49.5v1.5H0zM0 481.2h49.5v1.5H0zM0 489.6h49.5v1.5H0zM0 508.8h49.5v1.5H0zM0 520.8h49.5v2.7H0zM0 528.0h49.5v1.5H0zM0 535.2h49.5v1.5H0zM0 538.8h49.5v1.5H0zM0 558.0h49.5v1.5H0zM0 562.8h49.5v1.5H0zM0 584.4h49.5v1.5H0zM0 595.2h49.5v1.5H0zM0 603.6h49.5v1.5H0zM0 606.0h49.5v1.5H0zM0 608.4h49.5v1.5H0zM0 616.8h49.5v3.9H0zM0 631.2h49.5v1.5H0zM0 640.8h49.5v1.5H0zM0 644.4h49.5v1.5H0zM0 651.6h49.5v1.5H0zM0 658.8h49.5v2.7H0zM0 672.0h49.5v1.5H0z" fill="#3356b1"/>
<path d="M0 165.6h49.5v1.5H0zM0 171.6h49.5v1.5H0zM0 237.6h49.5v1.5H0zM0 274.8h49.5v1.5H0zM0 286.8h49.5v2.7H0zM0 292.8h49.5v3.9H0zM0 307.2h49.5v1.5H0zM0 324.0h49.5v2.7H0zM0 331.2h49.5v2.7H0zM0 349.2h49.5v1.5H0zM0 352.8h49.5v2.7H0zM0 361.2h49.5v1.5H0zM0 363.6h49.5v2.7H0zM0 380.4h49.5v1.5H0zM0 384.0h49.5v1.5H0zM0 386.4h49.5v1.5H0zM0 390.0h49.5v1.5H0zM0 399.6h49.5v1.5H0zM0 402.0h49.5v1.5H0zM0 411.6h49.5v3.9H0zM0 420.0h49.5v2.7H0zM0 426.0h49.5v1.5H0zM0 434.4h49.5v1.5H0zM0 438.0h49.5v1.5H0zM0 444.0h49.5v1.5H0zM0 447.6h49.5v1.5H0zM0 456.0h49.5v2.7H0zM0 462.0h49.5v1.5H0zM0 464.4h49.5v1.5H0zM0 466.8h49.5v1.5H0zM0 469.2h49.5v1.5H0zM0 475.2h49.5v1.5H0zM0 478.8h49.5v1.5H0zM0 483.6h49.5v1.5H0zM0 490.8h49.5v1.5H0zM0 493.2h49.5v1.5H0zM0 495.6h49.5v1.5H0zM0 502.8h49.5v1.5H0zM0 512.4h49.5v1.5H0zM0 518.4h49.5v2.7H0zM0 529.2h49.5v1.5H0zM0 532.8h49.5v1.5H0zM0 543.6h49.5v1.5H0zM0 556.8h49.5v1.5H0zM0 561.6h49.5v1.5H0zM0 564.0h49.5v1.5H0zM0 567.6h49.5v2.7H0zM0 572.4h49.5v1.5H0zM0 577.2h49.5v1.5H0zM0 579.6h49.5v1.5H0zM0 582.0h49.5v1.5H0zM0 588.0h49.5v1.5H0zM0 590.4h49.5v1.5H0zM0 594.0h49.5v1.5H0zM0 597.6h49.5v3.9H0zM0 604.8h49.5v1.5H0zM0 607.2h49.5v1.5H0zM0 620.4h49.5v1.5H0zM0 624.0h49.5v2.7H0zM0 630.0h49.5v1.5H0zM0 633.6h49.5v1.5H0zM0 638.4h49.5v1.5H0zM0 642.0h49.5v2.7H0zM0 648.0h49.5v1.5H0zM0 652.8h49.5v1.5H0zM0 661.2h49.5v2.7H0zM0 666.0h49.5v1.5H0zM0 669.6h49.5v1.5H0zM0 673.2h49.5v2.7H0z" fill="#395db4"/>
<path d="M0 174.0h49.5v1.5H0zM0 180.0h49.5v1.5H0zM0 200.4h49.5v1.5H0zM0 282.0h49.5v1.5H0zM0 291.6h49.5v1.5H0zM0 298.8h49.5v1.5H0zM0 322.8h49.5v1.5H0zM0 327.6h49.5v3.9H0zM0 339.6h49.5v1.5H0zM0 342.0h49.5v1.5H0zM0 344.4h49.5v1.5H0zM0 351.6h49.5v1.5H0zM0 355.2h49.5v1.5H0zM0 358.8h49.5v1.5H0zM0 366.0h49.5v2.7H0zM0 370.8h49.5v1.5H0zM0 374.4h49.5v1.5H0zM0 378.0h49.5v2.7H0zM0 381.6h49.5v1.5H0zM0 388.8h49.5v1.5H0zM0 393.6h49.5v1.5H0zM0 400.8h49.5v1.5H0zM0 404.4h49.5v1.5H0zM0 409.2h49.5v1.5H0zM0 415.2h49.5v1.5H0zM0 422.4h49.5v1.5H0zM0 430.8h49.5v1.5H0zM0 433.2h49.5v1.5H0zM0 441.6h49.5v1.5H0zM0 472.8h49.5v2.7H0zM0 484.8h49.5v1.5H0zM0 487.2h49.5v1.5H0zM0 500.4h49.5v2.7H0zM0 504.0h49.5v1.5H0zM0 507.6h49.5v1.5H0zM0 514.8h49.5v1.5H0zM0 536.4h49.5v1.5H0zM0 541.2h49.5v1.5H0zM0 544.8h49.5v1.5H0zM0 547.2h49.5v1.5H0zM0 549.6h49.5v2.7H0zM0 555.6h49.5v1.5H0zM0 559.2h49.5v1.5H0zM0 574.8h49.5v1.5H0zM0 591.6h49.5v1.5H0zM0 613.2h49.5v2.7H0zM0 628.8h49.5v1.5H0zM0 632.4h49.5v1.5H0zM0 636.0h49.5v1.5H0zM0 639.6h49.5v1.5H0zM0 646.8h49.5v1.5H0zM0 650.4h49.5v1.5H0zM0 657.6h49.5v1.5H0zM0 667.2h49.5v2.7H0zM0 675.6h49.5v2.7H0z" fill="#3f63b8"/>
<path d="M0 268.8h49.5v1.5H0zM0 272.4h49.5v1.5H0zM0 334.8h49.5v1.5H0zM0 368.4h49.5v1.5H0zM0 375.6h49.5v1.5H0zM0 392.4h49.5v1.5H0zM0 396.0h49.5v1.5H0zM0 418.8h49.5v1.5H0zM0 428.4h49.5v1.5H0zM0 435.6h49.5v1.5H0zM0 442.8h49.5v1.5H0zM0 445.2h49.5v2.7H0zM0 453.6h49.5v1.5H0zM0 465.6h49.5v1.5H0zM0 492.0h49.5v1.5H0zM0 505.2h49.5v1.5H0zM0 513.6h49.5v1.5H0zM0 571.2h49.5v1.5H0zM0 586.8h49.5v1.5H0zM0 601.2h49.5v2.7H0zM0 627.6h49.5v1.5H0zM0 654.0h49.5v1.5H0z" fill="#4d6ebb"/>
<path d="M0 7.2h49.5v1.5H0zM0 87.6h49.5v1.5H0zM0 146.4h49.5v2.7H0zM0 175.2h49.5v1.5H0zM0 226.8h49.5v2.7H0zM0 230.4h49.5v1.5H0zM0 250.8h49.5v1.5H0zM0 266.4h49.5v1.5H0zM0 271.2h49.5v1.5H0zM0 277.2h49.5v1.5H0zM0 289.2h49.5v2.7H0zM0 306.0h49.5v1.5H0zM0 310.8h49.5v1.5H0zM0 314.4h49.5v2.7H0zM0 348.0h49.5v1.5H0zM0 350.4h49.5v1.5H0zM0 376.8h49.5v1.5H0zM0 382.8h49.5v1.5H0zM0 432.0h49.5v1.5H0zM0 436.8h49.5v1.5H0zM0 439.2h49.5v1.5H0zM0 450.0h49.5v2.7H0zM0 463.2h49.5v1.5H0zM0 476.4h49.5v1.5H0zM0 480.0h49.5v1.5H0zM0 482.4h49.5v1.5H0zM0 499.2h49.5v1.5H0zM0 517.2h49.5v1.5H0zM0 531.6h49.5v1.5H0zM0 534.0h49.5v1.5H0zM0 552.0h49.5v1.5H0zM0 560.4h49.5v1.5H0zM0 578.4h49.5v1.5H0zM0 610.8h49.5v1.5H0zM0 621.6h49.5v1.5H0zM0 663.6h49.5v2.7H0z" fill="#5c7abe"/>
<path d="M0 8.4h49.5v1.5H0zM0 51.6h49.5v1.5H0zM0 148.8h49.5v1.5H0zM0 168.0h49.5v2.7H0zM0 177.6h49.5v1.5H0zM0 183.6h49.5v1.5H0zM0 189.6h49.5v2.7H0zM0 211.2h49.5v1.5H0zM0 213.6h49.5v1.5H0zM0 249.6h49.5v1.5H0zM0 276.0h49.5v1.5H0zM0 284.4h49.5v1.5H0zM0 303.6h49.5v1.5H0zM0 308.4h49.5v1.5H0zM0 321.6h49.5v1.5H0zM0 337.2h49.5v2.7H0zM0 346.8h49.5v1.5H0zM0 362.4h49.5v1.5H0zM0 387.6h49.5v1.5H0zM0 391.2h49.5v1.5H0zM0 394.8h49.5v1.5H0zM0 408.0h49.5v1.5H0zM0 423.6h49.5v1.5H0zM0 448.8h49.5v1.5H0zM0 460.8h49.5v1.5H0zM0 477.6h49.5v1.5H0zM0 488.4h49.5v1.5H0zM0 496.8h49.5v1.5H0zM0 506.4h49.5v1.5H0zM0 510.0h49.5v2.7H0zM0 516.0h49.5v1.5H0zM0 523.2h49.5v2.7H0zM0 530.4h49.5v1.5H0zM0 546.0h49.5v1.5H0zM0 553.2h49.5v1.5H0zM0 565.2h49.5v1.5H0zM0 570.0h49.5v1.5H0zM0 585.6h49.5v1.5H0zM0 589.2h49.5v1.5H0zM0 592.8h49.5v1.5H0zM0 615.6h49.5v1.5H0zM0 622.8h49.5v1.5H0zM0 634.8h49.5v1.5H0zM0 645.6h49.5v1.5H0zM0 649.2h49.5v1.5H0z" fill="#6b86c1"/>
<path d="M0 84.0h49.5v1.5H0zM0 142.8h49.5v1.5H0zM0 225.6h49.5v1.5H0zM0 238.8h49.5v1.5H0zM0 260.4h49.5v1.5H0zM0 262.8h49.5v1.5H0zM0 316.8h49.5v1.5H0zM0 336.0h49.5v1.5H0zM0 340.8h49.5v1.5H0zM0 369.6h49.5v1.5H0zM0 398.4h49.5v1.5H0zM0 486.0h49.5v1.5H0zM0 542.4h49.5v1.5H0zM0 548.4h49.5v1.5H0zM0 576.0h49.5v1.5H0zM0 580.8h49.5v1.5H0zM0 596.4h49.5v1.5H0zM0 609.6h49.5v1.5H0zM0 626.4h49.5v1.5H0zM0 655.2h49.5v1.5H0zM0 670.8h49.5v1.5H0z" fill="#7b93c0"/>
<path d="M0 10.8h49.5v1.5H0zM0 28.8h49.5v1.5H0zM0 100.8h49.5v1.5H0zM0 108.0h49.5v1.5H0zM0 122.4h49.5v1.5H0zM0 145.2h49.5v1.5H0zM0 178.8h49.5v1.5H0zM0 187.2h49.5v1.5H0zM0 219.6h49.5v1.5H0zM0 222.0h49.5v1.5H0zM0 525.6h49.5v1.5H0zM0 537.6h49.5v1.5H0z" fill="#8ca0bd"/>
<path d="M0 30.0h49.5v1.5H0zM0 34.8h49.5v1.5H0zM0 37.2h49.5v1.5H0zM0 74.4h49.5v1.5H0zM0 102.0h49.5v2.7H0zM0 123.6h49.5v1.5H0zM0 134.4h49.5v1.5H0zM0 136.8h49.5v1.5H0zM0 141.6h49.5v1.5H0zM0 152.4h49.5v2.7H0zM0 157.2h49.5v2.7H0zM0 170.4h49.5v1.5H0zM0 172.8h49.5v1.5H0zM0 181.2h49.5v1.5H0zM0 188.4h49.5v1.5H0zM0 234.0h49.5v1.5H0zM0 236.4h49.5v1.5H0zM0 240.0h49.5v1.5H0zM0 243.6h49.5v1.5H0zM0 267.6h49.5v1.5H0zM0 273.6h49.5v1.5H0zM0 429.6h49.5v1.5H0zM0 612.0h49.5v1.5H0z" fill="#9cacb9"/>
<path d="M0 72.0h49.5v1.5H0zM0 93.6h49.5v1.5H0zM0 99.6h49.5v1.5H0zM0 106.8h49.5v1.5H0zM0 118.8h49.5v1.5H0zM0 127.2h49.5v1.5H0zM0 160.8h49.5v1.5H0zM0 166.8h49.5v1.5H0zM0 176.4h49.5v1.5H0zM0 195.6h49.5v2.7H0zM0 212.4h49.5v1.5H0zM0 217.2h49.5v1.5H0zM0 232.8h49.5v1.5H0zM0 248.4h49.5v1.5H0zM0 256.8h49.5v3.9H0zM0 265.2h49.5v1.5H0zM0 270.0h49.5v1.5H0zM0 278.4h49.5v1.5H0zM0 280.8h49.5v1.5H0z" fill="#acb8b6"/>
<path d="M0 62.4h49.5v1.5H0zM0 151.2h49.5v1.5H0zM0 162.0h49.5v1.5H0zM0 199.2h49.5v1.5H0zM0 204.0h49.5v1.5H0zM0 208.8h49.5v1.5H0zM0 218.4h49.5v1.5H0zM0 261.6h49.5v1.5H0zM0 285.6h49.5v1.5H0z" fill="#bbc4b3"/>
<path d="M0 13.2h49.5v1.5H0zM0 16.8h49.5v1.5H0zM0 19.2h49.5v1.5H0zM0 25.2h49.5v1.5H0zM0 32.4h49.5v1.5H0zM0 45.6h49.5v1.5H0zM0 48.0h49.5v1.5H0zM0 115.2h49.5v1.5H0zM0 130.8h49.5v1.5H0zM0 140.4h49.5v1.5H0zM0 164.4h49.5v1.5H0zM0 182.4h49.5v1.5H0zM0 186.0h49.5v1.5H0zM0 224.4h49.5v1.5H0zM0 254.4h49.5v1.5H0z" fill="#d8d7af"/>
<path d="M0 6.0h49.5v1.5H0zM0 18.0h49.5v1.5H0zM0 22.8h49.5v1.5H0zM0 26.4h49.5v1.5H0zM0 38.4h49.5v1.5H0zM0 46.8h49.5v1.5H0zM0 58.8h49.5v2.7H0zM0 64.8h49.5v1.5H0zM0 67.2h49.5v1.5H0zM0 70.8h49.5v1.5H0zM0 75.6h49.5v1.5H0zM0 81.6h49.5v1.5H0zM0 85.2h49.5v1.5H0zM0 92.4h49.5v1.5H0zM0 98.4h49.5v1.5H0zM0 110.4h49.5v3.9H0zM0 117.6h49.5v1.5H0zM0 121.2h49.5v1.5H0zM0 150.0h49.5v1.5H0zM0 154.8h49.5v1.5H0zM0 192.0h49.5v1.5H0zM0 194.4h49.5v1.5H0zM0 201.6h49.5v2.7H0zM0 206.4h49.5v1.5H0zM0 216.0h49.5v1.5H0zM0 229.2h49.5v1.5H0z" fill="#e5deae"/>
<path d="M0 1.2h49.5v1.5H0zM0 12.0h49.5v1.5H0zM0 20.4h49.5v2.7H0zM0 31.2h49.5v1.5H0zM0 33.6h49.5v1.5H0zM0 39.6h49.5v1.5H0zM0 57.6h49.5v1.5H0zM0 63.6h49.5v1.5H0zM0 68.4h49.5v1.5H0zM0 73.2h49.5v1.5H0zM0 80.4h49.5v1.5H0zM0 91.2h49.5v1.5H0zM0 94.8h49.5v1.5H0zM0 97.2h49.5v1.5H0zM0 105.6h49.5v1.5H0zM0 114.0h49.5v1.5H0zM0 120.0h49.5v1.5H0zM0 124.8h49.5v1.5H0zM0 132.0h49.5v1.5H0zM0 135.6h49.5v1.5H0zM0 138.0h49.5v2.7H0zM0 156.0h49.5v1.5H0zM0 159.6h49.5v1.5H0zM0 163.2h49.5v1.5H0zM0 205.2h49.5v1.5H0zM0 210.0h49.5v1.5H0zM0 223.2h49.5v1.5H0zM0 231.6h49.5v1.5H0zM0 242.4h49.5v1.5H0zM0 247.2h49.5v1.5H0zM0 255.6h49.5v1.5H0zM0 279.6h49.5v1.5H0z" fill="#ebdbaa"/>
<path d="M0 14.4h49.5v2.7H0zM0 27.6h49.5v1.5H0zM0 40.8h49.5v1.5H0zM0 44.4h49.5v1.5H0zM0 49.2h49.5v2.7H0zM0 55.2h49.5v1.5H0zM0 126.0h49.5v1.5H0zM0 128.4h49.5v2.7H0zM0 207.6h49.5v1.5H0zM0 235.2h49.5v1.5H0zM0 241.2h49.5v1.5H0zM0 252.0h49.5v1.5H0zM0 264.0h49.5v1.5H0z" fill="#eed5a4"/>
<path d="M0 0.0h49.5v1.5H0zM0 3.6h49.5v1.5H0zM0 9.6h49.5v1.5H0zM0 24.0h49.5v1.5H0zM0 52.8h49.5v1.5H0zM0 56.4h49.5v1.5H0zM0 76.8h49.5v1.5H0zM0 79.2h49.5v1.5H0zM0 82.8h49.5v1.5H0zM0 88.8h49.5v1.5H0zM0 184.8h49.5v1.5H0zM0 214.8h49.5v1.5H0z" fill="#f0cc9d"/>
<path d="M0 2.4h49.5v1.5H0zM0 42.0h49.5v1.5H0zM0 54.0h49.5v1.5H0zM0 69.6h49.5v1.5H0zM0 104.4h49.5v1.5H0zM0 144.0h49.5v1.5H0zM0 198.0h49.5v1.5H0zM0 253.2h49.5v1.5H0z" fill="#efb98e"/>
<path d="M0 36.0h49.5v1.5H0zM0 43.2h49.5v1.5H0zM0 61.2h49.5v1.5H0zM0 86.4h49.5v1.5H0zM0 90.0h49.5v1.5H0zM0 96.0h49.5v1.5H0zM0 116.4h49.5v1.5H0zM0 133.2h49.5v1.5H0zM0 193.2h49.5v1.5H0z" fill="#eda57e"/>
<path d="M0 4.8h49.5v1.5H0zM0 66.0h49.5v1.5H0zM0 78.0h49.5v1.5H0zM0 109.2h49.5v1.5H0zM0 244.8h49.5v1.5H0z" fill="#e78b67"/>
<rect x="0" y="431.6" width="49.5" height="6" fill="#fff"/>
<rect x="0" y="465.0" width="49.5" height="3" fill="#fff"/>
<rect x="0" y="471.0" width="49.5" height="3" fill="#fff"/>
<rect x="0" y="503.0" width="49.5" height="2" fill="#fff"/>
<rect x="0" y="573.5" width="49.5" height="2" fill="#fff"/>
</g>
<rect x="0" y="0" width="49.5" height="677.0" rx="7" fill="none" stroke="#777" stroke-width="1.2"/>
<path d="M0,6 V671.0 M49.5,6 V671.0" stroke="#111" stroke-width="2.2"/></g>
<text x="2586" y="374" text-anchor="end" font-family="'Liberation Sans', sans-serif" font-weight="bold" font-size="28" fill="#f6b80e">Chr8</text>
<g transform="translate(2913,29)"><g clip-path="url(#chrclip8)">
<path d="M0 242.4h49.5v1.5H0zM0 289.2h49.5v1.5H0zM0 386.4h49.5v1.5H0zM0 454.8h49.5v1.5H0zM0 502.8h49.5v1.5H0zM0 508.8h49.5v1.5H0zM0 520.8h49.5v1.5H0zM0 543.6h49.5v1.5H0z" fill="#2d50ae"/>
<path d="M0 175.2h49.5v1.5H0zM0 255.6h49.5v1.5H0zM0 259.2h49.5v2.7H0zM0 270.0h49.5v1.5H0zM0 276.0h49.5v1.5H0zM0 283.2h49.5v1.5H0zM0 286.8h49.5v1.5H0zM0 291.6h49.5v1.5H0zM0 296.4h49.5v1.5H0zM0 301.2h49.5v2.7H0zM0 308.4h49.5v1.5H0zM0 313.2h49.5v1.5H0zM0 319.2h49.5v1.5H0zM0 322.8h49.5v1.5H0zM0 349.2h49.5v1.5H0zM0 356.4h49.5v1.5H0zM0 360.0h49.5v1.5H0zM0 367.2h49.5v1.5H0zM0 376.8h49.5v1.5H0zM0 382.8h49.5v1.5H0zM0 402.0h49.5v2.7H0zM0 422.4h49.5v1.5H0zM0 432.0h49.5v1.5H0zM0 453.6h49.5v1.5H0zM0 460.8h49.5v1.5H0zM0 463.2h49.5v1.5H0zM0 465.6h49.5v1.5H0zM0 494.4h49.5v1.5H0zM0 496.8h49.5v1.5H0zM0 500.4h49.5v2.7H0zM0 514.8h49.5v1.5H0zM0 518.4h49.5v1.5H0zM0 523.2h49.5v1.5H0zM0 536.4h49.5v1.5H0zM0 549.6h49.5v1.5H0zM0 558.0h49.5v1.5H0zM0 565.2h49.5v1.5H0z" fill="#3356b1"/>
<path d="M0 198.0h49.5v1.5H0zM0 248.4h49.5v1.5H0zM0 254.4h49.5v1.5H0zM0 262.8h49.5v1.5H0zM0 265.2h49.5v2.7H0zM0 271.2h49.5v1.5H0zM0 273.6h49.5v1.5H0zM0 284.4h49.5v1.5H0zM0 294.0h49.5v2.7H0zM0 297.6h49.5v1.5H0zM0 304.8h49.5v2.7H0zM0 310.8h49.5v1.5H0zM0 314.4h49.5v1.5H0zM0 316.8h49.5v2.7H0zM0 320.4h49.5v1.5H0zM0 324.0h49.5v1.5H0zM0 330.0h49.5v1.5H0zM0 336.0h49.5v1.5H0zM0 339.6h49.5v1.5H0zM0 354.0h49.5v1.5H0zM0 357.6h49.5v2.7H0zM0 362.4h49.5v1.5H0zM0 373.2h49.5v3.9H0zM0 378.0h49.5v2.7H0zM0 381.6h49.5v1.5H0zM0 384.0h49.5v1.5H0zM0 387.6h49.5v1.5H0zM0 392.4h49.5v1.5H0zM0 394.8h49.5v2.7H0zM0 404.4h49.5v1.5H0zM0 409.2h49.5v2.7H0zM0 416.4h49.5v1.5H0zM0 420.0h49.5v1.5H0zM0 438.0h49.5v1.5H0zM0 440.4h49.5v1.5H0zM0 444.0h49.5v1.5H0zM0 456.0h49.5v1.5H0zM0 458.4h49.5v1.5H0zM0 462.0h49.5v1.5H0zM0 468.0h49.5v1.5H0zM0 474.0h49.5v1.5H0zM0 476.4h49.5v1.5H0zM0 478.8h49.5v1.5H0zM0 481.2h49.5v2.7H0zM0 489.6h49.5v1.5H0zM0 505.2h49.5v1.5H0zM0 510.0h49.5v1.5H0zM0 516.0h49.5v1.5H0zM0 526.8h49.5v1.5H0zM0 534.0h49.5v1.5H0zM0 540.0h49.5v1.5H0zM0 544.8h49.5v1.5H0zM0 559.2h49.5v1.5H0zM0 561.6h49.5v2.7H0zM0 567.6h49.5v1.5H0z" fill="#395db4"/>
<path d="M0 169.2h49.5v1.5H0zM0 211.2h49.5v1.5H0zM0 218.4h49.5v1.5H0zM0 272.4h49.5v1.5H0zM0 277.2h49.5v1.5H0zM0 280.8h49.5v1.5H0zM0 292.8h49.5v1.5H0zM0 300.0h49.5v1.5H0zM0 309.6h49.5v1.5H0zM0 312.0h49.5v1.5H0zM0 315.6h49.5v1.5H0zM0 325.2h49.5v1.5H0zM0 333.6h49.5v1.5H0zM0 338.4h49.5v1.5H0zM0 340.8h49.5v1.5H0zM0 350.4h49.5v1.5H0zM0 364.8h49.5v1.5H0zM0 368.4h49.5v2.7H0zM0 372.0h49.5v1.5H0zM0 380.4h49.5v1.5H0zM0 388.8h49.5v1.5H0zM0 391.2h49.5v1.5H0zM0 398.4h49.5v2.7H0zM0 408.0h49.5v1.5H0zM0 411.6h49.5v1.5H0zM0 417.6h49.5v2.7H0zM0 424.8h49.5v1.5H0zM0 428.4h49.5v1.5H0zM0 430.8h49.5v1.5H0zM0 445.2h49.5v1.5H0zM0 450.0h49.5v1.5H0zM0 452.4h49.5v1.5H0zM0 469.2h49.5v1.5H0zM0 475.2h49.5v1.5H0zM0 480.0h49.5v1.5H0zM0 483.6h49.5v1.5H0zM0 486.0h49.5v3.9H0zM0 495.6h49.5v1.5H0zM0 499.2h49.5v1.5H0zM0 504.0h49.5v1.5H0zM0 522.0h49.5v1.5H0zM0 530.4h49.5v1.5H0zM0 537.6h49.5v1.5H0zM0 548.4h49.5v1.5H0zM0 550.8h49.5v1.5H0zM0 577.2h49.5v1.5H0zM0 580.8h49.5v1.5H0zM0 606.0h49.5v1.5H0z" fill="#3f63b8"/>
<path d="M0 261.6h49.5v1.5H0zM0 278.4h49.5v1.5H0zM0 285.6h49.5v1.5H0zM0 332.4h49.5v1.5H0zM0 334.8h49.5v1.5H0zM0 344.4h49.5v1.5H0zM0 348.0h49.5v1.5H0zM0 370.8h49.5v1.5H0zM0 393.6h49.5v1.5H0zM0 405.6h49.5v1.5H0zM0 412.8h49.5v1.5H0zM0 459.6h49.5v1.5H0zM0 490.8h49.5v2.7H0zM0 524.4h49.5v1.5H0zM0 532.8h49.5v1.5H0zM0 538.8h49.5v1.5H0zM0 566.4h49.5v1.5H0zM0 568.8h49.5v1.5H0zM0 607.2h49.5v1.5H0z" fill="#4d6ebb"/>
<path d="M0 128.4h49.5v1.5H0zM0 176.4h49.5v1.5H0zM0 202.8h49.5v1.5H0zM0 210.0h49.5v1.5H0zM0 219.6h49.5v1.5H0zM0 253.2h49.5v1.5H0zM0 258.0h49.5v1.5H0zM0 274.8h49.5v1.5H0zM0 282.0h49.5v1.5H0zM0 298.8h49.5v1.5H0zM0 326.4h49.5v1.5H0zM0 331.2h49.5v1.5H0zM0 337.2h49.5v1.5H0zM0 342.0h49.5v1.5H0zM0 346.8h49.5v1.5H0zM0 414.0h49.5v2.7H0zM0 433.2h49.5v1.5H0zM0 464.4h49.5v1.5H0zM0 466.8h49.5v1.5H0zM0 511.2h49.5v1.5H0zM0 517.2h49.5v1.5H0zM0 519.6h49.5v1.5H0zM0 542.4h49.5v1.5H0zM0 556.8h49.5v1.5H0zM0 564.0h49.5v1.5H0zM0 571.2h49.5v1.5H0zM0 588.0h49.5v1.5H0zM0 590.4h49.5v1.5H0z" fill="#5c7abe"/>
<path d="M0 62.4h49.5v1.5H0zM0 78.0h49.5v1.5H0zM0 115.2h49.5v1.5H0zM0 124.8h49.5v1.5H0zM0 139.2h49.5v1.5H0zM0 164.4h49.5v1.5H0zM0 172.8h49.5v1.5H0zM0 180.0h49.5v1.5H0zM0 182.4h49.5v1.5H0zM0 212.4h49.5v1.5H0zM0 222.0h49.5v1.5H0zM0 236.4h49.5v1.5H0zM0 246.0h49.5v1.5H0zM0 250.8h49.5v1.5H0zM0 264.0h49.5v1.5H0zM0 267.6h49.5v1.5H0zM0 279.6h49.5v1.5H0zM0 327.6h49.5v2.7H0zM0 351.6h49.5v1.5H0zM0 355.2h49.5v1.5H0zM0 361.2h49.5v1.5H0zM0 363.6h49.5v1.5H0zM0 366.0h49.5v1.5H0zM0 406.8h49.5v1.5H0zM0 421.2h49.5v1.5H0zM0 434.4h49.5v2.7H0zM0 471.6h49.5v1.5H0zM0 477.6h49.5v1.5H0zM0 484.8h49.5v1.5H0zM0 493.2h49.5v1.5H0zM0 498.0h49.5v1.5H0zM0 512.4h49.5v2.7H0zM0 525.6h49.5v1.5H0zM0 529.2h49.5v1.5H0zM0 531.6h49.5v1.5H0zM0 535.2h49.5v1.5H0zM0 552.0h49.5v1.5H0zM0 554.4h49.5v1.5H0zM0 570.0h49.5v1.5H0zM0 573.6h49.5v1.5H0zM0 582.0h49.5v1.5H0zM0 591.6h49.5v1.5H0z" fill="#6b86c1"/>
<path d="M0 154.8h49.5v1.5H0zM0 234.0h49.5v1.5H0zM0 244.8h49.5v1.5H0zM0 256.8h49.5v1.5H0zM0 268.8h49.5v1.5H0zM0 290.4h49.5v1.5H0zM0 307.2h49.5v1.5H0zM0 321.6h49.5v1.5H0zM0 343.2h49.5v1.5H0zM0 385.2h49.5v1.5H0zM0 397.2h49.5v1.5H0zM0 423.6h49.5v1.5H0zM0 427.2h49.5v1.5H0zM0 429.6h49.5v1.5H0zM0 436.8h49.5v1.5H0zM0 448.8h49.5v1.5H0zM0 528.0h49.5v1.5H0zM0 541.2h49.5v1.5H0zM0 553.2h49.5v1.5H0zM0 555.6h49.5v1.5H0zM0 579.6h49.5v1.5H0zM0 584.4h49.5v1.5H0zM0 626.4h49.5v1.5H0z" fill="#7b93c0"/>
<path d="M0 54.0h49.5v1.5H0zM0 69.6h49.5v1.5H0zM0 166.8h49.5v1.5H0zM0 177.6h49.5v1.5H0zM0 231.6h49.5v1.5H0zM0 237.6h49.5v1.5H0zM0 345.6h49.5v1.5H0zM0 352.8h49.5v1.5H0zM0 426.0h49.5v1.5H0zM0 447.6h49.5v1.5H0zM0 470.4h49.5v1.5H0zM0 506.4h49.5v1.5H0zM0 547.2h49.5v1.5H0zM0 572.4h49.5v1.5H0zM0 630.0h49.5v1.5H0z" fill="#8ca0bd"/>
<path d="M0 19.2h49.5v1.5H0zM0 26.4h49.5v1.5H0zM0 33.6h49.5v2.7H0zM0 37.2h49.5v1.5H0zM0 112.8h49.5v1.5H0zM0 132.0h49.5v1.5H0zM0 140.4h49.5v1.5H0zM0 147.6h49.5v1.5H0zM0 159.6h49.5v1.5H0zM0 171.6h49.5v1.5H0zM0 183.6h49.5v1.5H0zM0 186.0h49.5v1.5H0zM0 195.6h49.5v1.5H0zM0 201.6h49.5v1.5H0zM0 206.4h49.5v1.5H0zM0 216.0h49.5v2.7H0zM0 225.6h49.5v1.5H0zM0 228.0h49.5v1.5H0zM0 230.4h49.5v1.5H0zM0 249.6h49.5v1.5H0zM0 400.8h49.5v1.5H0zM0 451.2h49.5v1.5H0zM0 507.6h49.5v1.5H0zM0 576.0h49.5v1.5H0zM0 594.0h49.5v1.5H0zM0 618.0h49.5v1.5H0zM0 621.6h49.5v1.5H0zM0 642.0h49.5v1.5H0zM0 646.8h49.5v2.7H0z" fill="#9cacb9"/>
<path d="M0 0.0h49.5v1.5H0zM0 18.0h49.5v1.5H0zM0 22.8h49.5v1.5H0zM0 32.4h49.5v1.5H0zM0 57.6h49.5v2.7H0zM0 63.6h49.5v1.5H0zM0 66.0h49.5v1.5H0zM0 70.8h49.5v2.7H0zM0 87.6h49.5v1.5H0zM0 103.2h49.5v1.5H0zM0 105.6h49.5v1.5H0zM0 114.0h49.5v1.5H0zM0 122.4h49.5v1.5H0zM0 133.2h49.5v1.5H0zM0 158.4h49.5v1.5H0zM0 160.8h49.5v3.9H0zM0 165.6h49.5v1.5H0zM0 168.0h49.5v1.5H0zM0 174.0h49.5v1.5H0zM0 187.2h49.5v1.5H0zM0 190.8h49.5v3.9H0zM0 220.8h49.5v1.5H0zM0 229.2h49.5v1.5H0zM0 232.8h49.5v1.5H0zM0 235.2h49.5v1.5H0zM0 241.2h49.5v1.5H0zM0 288.0h49.5v1.5H0zM0 303.6h49.5v1.5H0zM0 439.2h49.5v1.5H0zM0 583.2h49.5v1.5H0zM0 603.6h49.5v1.5H0zM0 608.4h49.5v2.7H0zM0 615.6h49.5v1.5H0zM0 622.8h49.5v1.5H0zM0 631.2h49.5v1.5H0zM0 633.6h49.5v1.5H0zM0 640.8h49.5v1.5H0z" fill="#acb8b6"/>
<path d="M0 45.6h49.5v1.5H0zM0 223.2h49.5v1.5H0zM0 243.6h49.5v1.5H0zM0 247.2h49.5v1.5H0zM0 390.0h49.5v1.5H0zM0 578.4h49.5v1.5H0z" fill="#bbc4b3"/>
<path d="M0 106.8h49.5v1.5H0zM0 457.2h49.5v1.5H0zM0 592.8h49.5v1.5H0z" fill="#cad0b1"/>
<path d="M0 1.2h49.5v1.5H0zM0 36.0h49.5v1.5H0zM0 100.8h49.5v1.5H0zM0 146.4h49.5v1.5H0zM0 150.0h49.5v1.5H0zM0 189.6h49.5v1.5H0zM0 207.6h49.5v1.5H0zM0 252.0h49.5v1.5H0zM0 610.8h49.5v1.5H0zM0 624.0h49.5v1.5H0zM0 636.0h49.5v1.5H0zM0 638.4h49.5v1.5H0z" fill="#d8d7af"/>
<path d="M0 2.4h49.5v1.5H0zM0 4.8h49.5v1.5H0zM0 7.2h49.5v1.5H0zM0 27.6h49.5v1.5H0zM0 30.0h49.5v1.5H0zM0 38.4h49.5v1.5H0zM0 44.4h49.5v1.5H0zM0 51.6h49.5v1.5H0zM0 56.4h49.5v1.5H0zM0 60.0h49.5v2.7H0zM0 67.2h49.5v1.5H0zM0 73.2h49.5v1.5H0zM0 80.4h49.5v1.5H0zM0 85.2h49.5v2.7H0zM0 94.8h49.5v1.5H0zM0 98.4h49.5v2.7H0zM0 102.0h49.5v1.5H0zM0 109.2h49.5v1.5H0zM0 111.6h49.5v1.5H0zM0 116.4h49.5v5.1H0zM0 123.6h49.5v1.5H0zM0 138.0h49.5v1.5H0zM0 141.6h49.5v1.5H0zM0 151.2h49.5v2.7H0zM0 157.2h49.5v1.5H0zM0 188.4h49.5v1.5H0zM0 199.2h49.5v1.5H0zM0 586.8h49.5v1.5H0zM0 604.8h49.5v1.5H0zM0 616.8h49.5v1.5H0zM0 619.2h49.5v1.5H0zM0 627.6h49.5v2.7H0zM0 632.4h49.5v1.5H0zM0 644.4h49.5v1.5H0z" fill="#e5deae"/>
<path d="M0 3.6h49.5v1.5H0zM0 8.4h49.5v1.5H0zM0 14.4h49.5v3.9H0zM0 20.4h49.5v1.5H0zM0 25.2h49.5v1.5H0zM0 39.6h49.5v5.1H0zM0 68.4h49.5v1.5H0zM0 74.4h49.5v3.9H0zM0 79.2h49.5v1.5H0zM0 81.6h49.5v1.5H0zM0 91.2h49.5v1.5H0zM0 93.6h49.5v1.5H0zM0 104.4h49.5v1.5H0zM0 110.4h49.5v1.5H0zM0 129.6h49.5v1.5H0zM0 134.4h49.5v3.9H0zM0 144.0h49.5v2.7H0zM0 156.0h49.5v1.5H0zM0 170.4h49.5v1.5H0zM0 178.8h49.5v1.5H0zM0 181.2h49.5v1.5H0zM0 184.8h49.5v1.5H0zM0 194.4h49.5v1.5H0zM0 213.6h49.5v1.5H0zM0 224.4h49.5v1.5H0zM0 226.8h49.5v1.5H0zM0 238.8h49.5v2.7H0zM0 560.4h49.5v1.5H0zM0 574.8h49.5v1.5H0zM0 585.6h49.5v1.5H0zM0 595.2h49.5v5.1H0zM0 602.4h49.5v1.5H0zM0 612.0h49.5v1.5H0zM0 620.4h49.5v1.5H0zM0 625.2h49.5v1.5H0zM0 634.8h49.5v1.5H0zM0 637.2h49.5v1.5H0zM0 639.6h49.5v1.5H0zM0 643.2h49.5v1.5H0z" fill="#ebdbaa"/>
<path d="M0 9.6h49.5v2.7H0zM0 13.2h49.5v1.5H0zM0 24.0h49.5v1.5H0zM0 28.8h49.5v1.5H0zM0 31.2h49.5v1.5H0zM0 46.8h49.5v1.5H0zM0 49.2h49.5v1.5H0zM0 52.8h49.5v1.5H0zM0 55.2h49.5v1.5H0zM0 64.8h49.5v1.5H0zM0 84.0h49.5v1.5H0zM0 88.8h49.5v1.5H0zM0 92.4h49.5v1.5H0zM0 108.0h49.5v1.5H0zM0 121.2h49.5v1.5H0zM0 130.8h49.5v1.5H0zM0 142.8h49.5v1.5H0zM0 196.8h49.5v1.5H0zM0 200.4h49.5v1.5H0zM0 208.8h49.5v1.5H0zM0 441.6h49.5v2.7H0zM0 446.4h49.5v1.5H0zM0 472.8h49.5v1.5H0zM0 546.0h49.5v1.5H0zM0 589.2h49.5v1.5H0zM0 614.4h49.5v1.5H0z" fill="#eed5a4"/>
<path d="M0 6.0h49.5v1.5H0zM0 12.0h49.5v1.5H0zM0 97.2h49.5v1.5H0zM0 148.8h49.5v1.5H0zM0 153.6h49.5v1.5H0zM0 204.0h49.5v1.5H0zM0 645.6h49.5v1.5H0z" fill="#f0cc9d"/>
<path d="M0 21.6h49.5v1.5H0zM0 50.4h49.5v1.5H0zM0 90.0h49.5v1.5H0zM0 600.0h49.5v2.7H0z" fill="#efb98e"/>
<path d="M0 48.0h49.5v1.5H0zM0 82.8h49.5v1.5H0zM0 126.0h49.5v2.7H0zM0 205.2h49.5v1.5H0zM0 214.8h49.5v1.5H0zM0 613.2h49.5v1.5H0z" fill="#eda57e"/>
<path d="M0 96.0h49.5v1.5H0z" fill="#e78b67"/>
<rect x="0" y="332.5" width="49.5" height="10" fill="#fff"/>
<rect x="0" y="386.0" width="49.5" height="2" fill="#fff"/>
<rect x="0" y="411.5" width="49.5" height="2" fill="#fff"/>
<rect x="0" y="449.6" width="49.5" height="2" fill="#fff"/>
<rect x="0" y="486.5" width="49.5" height="2" fill="#fff"/>
</g>
<rect x="0" y="0" width="49.5" height="648.5" rx="7" fill="none" stroke="#777" stroke-width="1.2"/>
<path d="M0,6 V642.5 M49.5,6 V642.5" stroke="#111" stroke-width="2.2"/></g>
<text x="2900" y="374" text-anchor="end" font-family="'Liberation Sans', sans-serif" font-weight="bold" font-size="28" fill="#f6b80e">Chr9</text>
<path d="M341.5,40 L392,40" stroke="#6e6e6e" stroke-width="1.8" fill="none"/>
<text x="394" y="48.0" font-family="'Liberation Serif', serif" font-style="italic" font-size="27" fill="#12a07c">Mc01G00076</text>
<path d="M341.5,200 L392,200" stroke="#6e6e6e" stroke-width="1.8" fill="none"/>
<text x="394" y="208.0" font-family="'Liberation Serif', serif" font-style="italic" font-size="27" fill="#e05a32">Mc01G01106</text>
<path d="M341.5,244 L392,244" stroke="#6e6e6e" stroke-width="1.8" fill="none"/>
<text x="394" y="252.0" font-family="'Liberation Serif', serif" font-style="italic" font-size="27" fill="#e05a32">Mc01G01317</text>
<path d="M916,167 L966,167" stroke="#6e6e6e" stroke-width="1.8" fill="none"/>
<text x="968" y="175.0" font-family="'Liberation Serif', serif" font-style="italic" font-size="27" fill="#e05a32">Mc03G00793</text>
<path d="M1237.7,120.5 L1294.6,120.5" stroke="#6e6e6e" stroke-width="1.8" fill="none"/>
<text x="1296.6" y="123.0" font-family="'Liberation Serif', serif" font-style="italic" font-size="27" fill="#1a6ad8">Mc04G00628</text>
<path d="M1237.7,150 L1294.6,150" stroke="#6e6e6e" stroke-width="1.8" fill="none"/>
<text x="1296.6" y="156.0" font-family="'Liberation Serif', serif" font-style="italic" font-size="27" fill="#e05a32">Mc04G00812</text>
<path d="M1237.7,164 L1294.6,166" stroke="#6e6e6e" stroke-width="1.8" fill="none"/>
<text x="1296.6" y="183.0" font-family="'Liberation Serif', serif" font-style="italic" font-size="27" fill="#1a6ad8">Mc04G00899</text>
<path d="M1533.6,761 L1585,761.5" stroke="#6e6e6e" stroke-width="1.8" fill="none"/>
<text x="1599" y="770.0" font-family="'Liberation Serif', serif" font-style="italic" font-size="27" fill="#1a6ad8">Mc05G02422</text>
<path d="M1870,85.7 L1920.6,86" stroke="#6e6e6e" stroke-width="1.8" fill="none"/>
<text x="1922.6" y="94.0" font-family="'Liberation Serif', serif" font-style="italic" font-size="27" fill="#e8141c">Mc06G00353</text>
<path d="M1870,196 L1920.6,196" stroke="#6e6e6e" stroke-width="1.8" fill="none"/>
<text x="1922.6" y="204.5" font-family="'Liberation Serif', serif" font-style="italic" font-size="27" fill="#84b41a">Mc06G00895</text>
<path d="M1870,354 L1920.6,354" stroke="#6e6e6e" stroke-width="1.8" fill="none"/>
<text x="1922.6" y="363.0" font-family="'Liberation Serif', serif" font-style="italic" font-size="27" fill="#b8489a">Mc06G01259</text>
<path d="M1870,716 L1920.6,716" stroke="#6e6e6e" stroke-width="1.8" fill="none"/>
<text x="1922.6" y="725.0" font-family="'Liberation Serif', serif" font-style="italic" font-size="27" fill="#b8489a">Mc06G02198</text>
<path d="M2260,92.4 L2310.6,93" stroke="#6e6e6e" stroke-width="1.8" fill="none"/>
<text x="2312.6" y="101.4" font-family="'Liberation Serif', serif" font-style="italic" font-size="27" fill="#1a6ad8">Mc07G00345</text>
<path d="M2260,270.5 L2310.6,271" stroke="#6e6e6e" stroke-width="1.8" fill="none"/>
<text x="2312.6" y="279.5" font-family="'Liberation Serif', serif" font-style="italic" font-size="27" fill="#e8141c">Mc07G00942</text>
<path d="M2260,555 L2314.6,555" stroke="#6e6e6e" stroke-width="1.8" fill="none"/>
<text x="2316.6" y="544.6" font-family="'Liberation Serif', serif" font-style="italic" font-size="27" fill="#84b41a">Mc07G01375</text>
<path d="M2260,563 L2314.6,573" stroke="#6e6e6e" stroke-width="1.8" fill="none"/>
<text x="2316.6" y="579.0" font-family="'Liberation Serif', serif" font-style="italic" font-size="27" fill="#e05a32">Mc07G01398</text>
<path d="M2260,579 L2314.6,588" stroke="#6e6e6e" stroke-width="1.8" fill="none"/>
<text x="2316.6" y="615.0" font-family="'Liberation Serif', serif" font-style="italic" font-size="27" fill="#e05a32">Mc07G01448</text>
<path d="M2645,138.6 L2695.6,138.6" stroke="#6e6e6e" stroke-width="1.8" fill="none"/>
<text x="2697.6" y="146.0" font-family="'Liberation Serif', serif" font-style="italic" font-size="27" fill="#e8141c">Mc08G00687</text>
<path d="M2645,205 L2695.6,206" stroke="#6e6e6e" stroke-width="1.8" fill="none"/>
<text x="2697.6" y="214.0" font-family="'Liberation Serif', serif" font-style="italic" font-size="27" fill="#1a6ad8">Mc08G01108</text>
<path d="M2645,247.7 L2695.6,248.5" stroke="#6e6e6e" stroke-width="1.8" fill="none"/>
<text x="2697.6" y="256.7" font-family="'Liberation Serif', serif" font-style="italic" font-size="27" fill="#84b41a">Mc08G01316</text>
<path d="M2962,535.5 L3020,535.5" stroke="#6e6e6e" stroke-width="1.8" fill="none"/>
<text x="3022" y="536.0" font-family="'Liberation Serif', serif" font-style="italic" font-size="27" fill="#e8141c">Mc09G01638</text>
<path d="M2962,535.5 L3020,551.6" stroke="#6e6e6e" stroke-width="1.8" fill="none"/>
<text x="3022" y="571.0" font-family="'Liberation Serif', serif" font-style="italic" font-size="27" fill="#e8141c">Mc09G01639</text>
<path d="M2962,627 L3013,628" stroke="#6e6e6e" stroke-width="1.8" fill="none"/>
<text x="3015" y="636.0" font-family="'Liberation Serif', serif" font-style="italic" font-size="27" fill="#e8141c">Mc09G01905</text>
<rect x="3021.5" y="31.5" width="102" height="28.5" fill="#e8141c"/>
<text x="3138" y="58.5" font-family="'Liberation Serif', serif" font-style="italic" font-size="35">CA</text>
<rect x="3021.5" y="79" width="102" height="28.5" fill="#e25c30"/>
<text x="3138" y="106.0" font-family="'Liberation Serif', serif" font-style="italic" font-size="35">MDH</text>
<rect x="3021.5" y="126" width="102" height="28.5" fill="#00a884"/>
<text x="3138" y="153.0" font-family="'Liberation Serif', serif" font-style="italic" font-size="35">PEPCK</text>
<rect x="3021.5" y="180.7" width="102" height="28.5" fill="#b8489a"/>
<text x="3138" y="207.7" font-family="'Liberation Serif', serif" font-style="italic" font-size="35">PPDK</text>
<rect x="3021.5" y="235" width="102" height="28.5" fill="#82b41a"/>
<text x="3138" y="262.0" font-family="'Liberation Serif', serif" font-style="italic" font-size="35">PEPC</text>
<rect x="3021.5" y="289" width="102" height="28.5" fill="#1470e8"/>
<text x="3138" y="316.0" font-family="'Liberation Serif', serif" font-style="italic" font-size="35">ME</text>
<text x="3334" y="88" font-family="'Liberation Serif', serif" font-size="84">b</text>
<g stroke="#8c8c8c" stroke-width="3" fill="none">
<path d="M3776.5,195 V171.5 H3857.5 V195"/>
<path d="M3695.5,195 V138 H3817.0 V171.5"/>
<path d="M3533.5,195 V138 H3614.5 V195"/>
<path d="M3574.0,138 V103.8 H3756.25 V138"/>
<path d="M3452.5,195 V67.8 H3665.125 V103.8"/>
</g>
<rect x="3415.1" y="199.1" width="74.8" height="51.5" rx="13" fill="#ebe1ae"/>
<text x="3457.5" y="237.5" text-anchor="middle" font-family="'Liberation Serif', serif" font-size="35">10</text>
<rect x="3496.1" y="199.1" width="74.8" height="51.5" rx="13" fill="#1fa07a"/>
<text x="3538.5" y="237.5" text-anchor="middle" font-family="'Liberation Serif', serif" font-size="35">1</text>
<rect x="3577.1" y="199.1" width="74.8" height="51.5" rx="13" fill="#38a883"/>
<text x="3619.5" y="237.5" text-anchor="middle" font-family="'Liberation Serif', serif" font-size="35">2</text>
<rect x="3658.1" y="199.1" width="74.8" height="51.5" rx="13" fill="#97c998"/>
<text x="3700.5" y="237.5" text-anchor="middle" font-family="'Liberation Serif', serif" font-size="35">6</text>
<rect x="3739.1" y="199.1" width="74.8" height="51.5" rx="13" fill="#65b88c"/>
<text x="3781.5" y="237.5" text-anchor="middle" font-family="'Liberation Serif', serif" font-size="35">4</text>
<rect x="3820.1" y="199.1" width="74.8" height="51.5" rx="13" fill="#97c998"/>
<text x="3862.5" y="237.5" text-anchor="middle" font-family="'Liberation Serif', serif" font-size="35">6</text>
<rect x="3415.1" y="256.4" width="74.8" height="51.5" rx="13" fill="#d8c0ae"/>
<text x="3457.5" y="294.8" text-anchor="middle" font-family="'Liberation Serif', serif" font-size="35">12</text>
<rect x="3496.1" y="256.4" width="74.8" height="51.5" rx="13" fill="#38a883"/>
<text x="3538.5" y="294.8" text-anchor="middle" font-family="'Liberation Serif', serif" font-size="35">2</text>
<rect x="3577.1" y="256.4" width="74.8" height="51.5" rx="13" fill="#38a883"/>
<text x="3619.5" y="294.8" text-anchor="middle" font-family="'Liberation Serif', serif" font-size="35">2</text>
<rect x="3658.1" y="256.4" width="74.8" height="51.5" rx="13" fill="#38a883"/>
<text x="3700.5" y="294.8" text-anchor="middle" font-family="'Liberation Serif', serif" font-size="35">2</text>
<rect x="3739.1" y="256.4" width="74.8" height="51.5" rx="13" fill="#b1d49e"/>
<text x="3781.5" y="294.8" text-anchor="middle" font-family="'Liberation Serif', serif" font-size="35">7</text>
<rect x="3820.1" y="256.4" width="74.8" height="51.5" rx="13" fill="#b1d49e"/>
<text x="3862.5" y="294.8" text-anchor="middle" font-family="'Liberation Serif', serif" font-size="35">7</text>
<rect x="3415.1" y="313.7" width="74.8" height="51.5" rx="13" fill="#d8c0ae"/>
<text x="3457.5" y="352.1" text-anchor="middle" font-family="'Liberation Serif', serif" font-size="35">12</text>
<rect x="3496.1" y="313.7" width="74.8" height="51.5" rx="13" fill="#38a883"/>
<text x="3538.5" y="352.1" text-anchor="middle" font-family="'Liberation Serif', serif" font-size="35">2</text>
<rect x="3577.1" y="313.7" width="74.8" height="51.5" rx="13" fill="#65b88c"/>
<text x="3619.5" y="352.1" text-anchor="middle" font-family="'Liberation Serif', serif" font-size="35">4</text>
<rect x="3658.1" y="313.7" width="74.8" height="51.5" rx="13" fill="#cbdca4"/>
<text x="3700.5" y="352.1" text-anchor="middle" font-family="'Liberation Serif', serif" font-size="35">8</text>
<rect x="3739.1" y="313.7" width="74.8" height="51.5" rx="13" fill="#65b88c"/>
<text x="3781.5" y="352.1" text-anchor="middle" font-family="'Liberation Serif', serif" font-size="35">4</text>
<rect x="3820.1" y="313.7" width="74.8" height="51.5" rx="13" fill="#b1d49e"/>
<text x="3862.5" y="352.1" text-anchor="middle" font-family="'Liberation Serif', serif" font-size="35">7</text>
<rect x="3415.1" y="371.0" width="74.8" height="51.5" rx="13" fill="#b886ab"/>
<text x="3457.5" y="409.4" text-anchor="middle" font-family="'Liberation Serif', serif" font-size="35">15</text>
<rect x="3496.1" y="371.0" width="74.8" height="51.5" rx="13" fill="#38a883"/>
<text x="3538.5" y="409.4" text-anchor="middle" font-family="'Liberation Serif', serif" font-size="35">2</text>
<rect x="3577.1" y="371.0" width="74.8" height="51.5" rx="13" fill="#b1d49e"/>
<text x="3619.5" y="409.4" text-anchor="middle" font-family="'Liberation Serif', serif" font-size="35">7</text>
<rect x="3658.1" y="371.0" width="74.8" height="51.5" rx="13" fill="#97c998"/>
<text x="3700.5" y="409.4" text-anchor="middle" font-family="'Liberation Serif', serif" font-size="35">6</text>
<rect x="3739.1" y="371.0" width="74.8" height="51.5" rx="13" fill="#cbdca4"/>
<text x="3781.5" y="409.4" text-anchor="middle" font-family="'Liberation Serif', serif" font-size="35">8</text>
<rect x="3820.1" y="371.0" width="74.8" height="51.5" rx="13" fill="#cba8a8"/>
<text x="3862.5" y="409.4" text-anchor="middle" font-family="'Liberation Serif', serif" font-size="35">13</text>
<rect x="3415.1" y="428.3" width="74.8" height="51.5" rx="13" fill="#d8c0ae"/>
<text x="3457.5" y="466.7" text-anchor="middle" font-family="'Liberation Serif', serif" font-size="35">12</text>
<rect x="3496.1" y="428.3" width="74.8" height="51.5" rx="13" fill="#38a883"/>
<text x="3538.5" y="466.7" text-anchor="middle" font-family="'Liberation Serif', serif" font-size="35">2</text>
<rect x="3577.1" y="428.3" width="74.8" height="51.5" rx="13" fill="#38a883"/>
<text x="3619.5" y="466.7" text-anchor="middle" font-family="'Liberation Serif', serif" font-size="35">2</text>
<rect x="3658.1" y="428.3" width="74.8" height="51.5" rx="13" fill="#7ec192"/>
<text x="3700.5" y="466.7" text-anchor="middle" font-family="'Liberation Serif', serif" font-size="35">5</text>
<rect x="3739.1" y="428.3" width="74.8" height="51.5" rx="13" fill="#97c998"/>
<text x="3781.5" y="466.7" text-anchor="middle" font-family="'Liberation Serif', serif" font-size="35">6</text>
<rect x="3820.1" y="428.3" width="74.8" height="51.5" rx="13" fill="#e6e4ac"/>
<text x="3862.5" y="466.7" text-anchor="middle" font-family="'Liberation Serif', serif" font-size="35">9</text>
<rect x="3415.1" y="485.6" width="74.8" height="51.5" rx="13" fill="#9445a8"/>
<text x="3457.5" y="524.1" text-anchor="middle" font-family="'Liberation Serif', serif" font-size="35">18</text>
<rect x="3496.1" y="485.6" width="74.8" height="51.5" rx="13" fill="#1fa07a"/>
<text x="3538.5" y="524.1" text-anchor="middle" font-family="'Liberation Serif', serif" font-size="35">1</text>
<rect x="3577.1" y="485.6" width="74.8" height="51.5" rx="13" fill="#1fa07a"/>
<text x="3619.5" y="524.1" text-anchor="middle" font-family="'Liberation Serif', serif" font-size="35">1</text>
<rect x="3658.1" y="485.6" width="74.8" height="51.5" rx="13" fill="#38a883"/>
<text x="3700.5" y="524.1" text-anchor="middle" font-family="'Liberation Serif', serif" font-size="35">2</text>
<rect x="3739.1" y="485.6" width="74.8" height="51.5" rx="13" fill="#65b88c"/>
<text x="3781.5" y="524.1" text-anchor="middle" font-family="'Liberation Serif', serif" font-size="35">4</text>
<rect x="3820.1" y="485.6" width="74.8" height="51.5" rx="13" fill="#7ec192"/>
<text x="3862.5" y="524.1" text-anchor="middle" font-family="'Liberation Serif', serif" font-size="35">5</text>
<rect x="3415.1" y="542.9" width="74.8" height="51.5" rx="13" fill="#d8c0ae"/>
<text x="3457.5" y="581.4" text-anchor="middle" font-family="'Liberation Serif', serif" font-size="35">12</text>
<rect x="3496.1" y="542.9" width="74.8" height="51.5" rx="13" fill="#38a883"/>
<text x="3538.5" y="581.4" text-anchor="middle" font-family="'Liberation Serif', serif" font-size="35">2</text>
<rect x="3577.1" y="542.9" width="74.8" height="51.5" rx="13" fill="#1fa07a"/>
<text x="3619.5" y="581.4" text-anchor="middle" font-family="'Liberation Serif', serif" font-size="35">1</text>
<rect x="3658.1" y="542.9" width="74.8" height="51.5" rx="13" fill="#b1d49e"/>
<text x="3700.5" y="581.4" text-anchor="middle" font-family="'Liberation Serif', serif" font-size="35">7</text>
<rect x="3739.1" y="542.9" width="74.8" height="51.5" rx="13" fill="#c497ab"/>
<text x="3781.5" y="581.4" text-anchor="middle" font-family="'Liberation Serif', serif" font-size="35">14</text>
<rect x="3820.1" y="542.9" width="74.8" height="51.5" rx="13" fill="#ebe1ae"/>
<text x="3862.5" y="581.4" text-anchor="middle" font-family="'Liberation Serif', serif" font-size="35">10</text>
<rect x="3415.1" y="600.2" width="74.8" height="51.5" rx="13" fill="#e2d0b0"/>
<text x="3457.5" y="638.6" text-anchor="middle" font-family="'Liberation Serif', serif" font-size="35">11</text>
<rect x="3496.1" y="600.2" width="74.8" height="51.5" rx="13" fill="#1fa07a"/>
<text x="3538.5" y="638.6" text-anchor="middle" font-family="'Liberation Serif', serif" font-size="35">1</text>
<rect x="3577.1" y="600.2" width="74.8" height="51.5" rx="13" fill="#1fa07a"/>
<text x="3619.5" y="638.6" text-anchor="middle" font-family="'Liberation Serif', serif" font-size="35">1</text>
<rect x="3658.1" y="600.2" width="74.8" height="51.5" rx="13" fill="#4eb088"/>
<text x="3700.5" y="638.6" text-anchor="middle" font-family="'Liberation Serif', serif" font-size="35">3</text>
<rect x="3739.1" y="600.2" width="74.8" height="51.5" rx="13" fill="#4eb088"/>
<text x="3781.5" y="638.6" text-anchor="middle" font-family="'Liberation Serif', serif" font-size="35">3</text>
<rect x="3820.1" y="600.2" width="74.8" height="51.5" rx="13" fill="#65b88c"/>
<text x="3862.5" y="638.6" text-anchor="middle" font-family="'Liberation Serif', serif" font-size="35">4</text>
<rect x="3415.1" y="657.5" width="74.8" height="51.5" rx="13" fill="#b1d49e"/>
<text x="3457.5" y="696.0" text-anchor="middle" font-family="'Liberation Serif', serif" font-size="35">7</text>
<rect x="3496.1" y="657.5" width="74.8" height="51.5" rx="13" fill="#1fa07a"/>
<text x="3538.5" y="696.0" text-anchor="middle" font-family="'Liberation Serif', serif" font-size="35">1</text>
<rect x="3577.1" y="657.5" width="74.8" height="51.5" rx="13" fill="#1fa07a"/>
<text x="3619.5" y="696.0" text-anchor="middle" font-family="'Liberation Serif', serif" font-size="35">1</text>
<rect x="3658.1" y="657.5" width="74.8" height="51.5" rx="13" fill="#4eb088"/>
<text x="3700.5" y="696.0" text-anchor="middle" font-family="'Liberation Serif', serif" font-size="35">3</text>
<rect x="3739.1" y="657.5" width="74.8" height="51.5" rx="13" fill="#4eb088"/>
<text x="3781.5" y="696.0" text-anchor="middle" font-family="'Liberation Serif', serif" font-size="35">3</text>
<rect x="3820.1" y="657.5" width="74.8" height="51.5" rx="13" fill="#7ec192"/>
<text x="3862.5" y="696.0" text-anchor="middle" font-family="'Liberation Serif', serif" font-size="35">5</text>
<text x="3913" y="238.8" font-family="'Liberation Serif', serif" font-style="italic" font-size="40" letter-spacing="0.3">A. thaliana</text>
<text x="3913" y="296.1" font-family="'Liberation Serif', serif" font-style="italic" font-size="40" letter-spacing="0.3">O. sativa</text>
<text x="3913" y="353.4" font-family="'Liberation Serif', serif" font-style="italic" font-size="40" letter-spacing="0.3">V. vinifera</text>
<text x="3913" y="410.8" font-family="'Liberation Serif', serif" font-style="italic" font-size="40" letter-spacing="0.3">Z. mays</text>
<text x="3913" y="468.0" font-family="'Liberation Serif', serif" font-style="italic" font-size="40" letter-spacing="0.3">S. bicolor</text>
<text x="3913" y="525.4" font-family="'Liberation Serif', serif" font-style="italic" font-size="40" letter-spacing="0.3">A. cruentus</text>
<text x="3913" y="582.6" font-family="'Liberation Serif', serif" font-style="italic" font-size="40" letter-spacing="0.3">H. undatus</text>
<text x="3913" y="639.9" font-family="'Liberation Serif', serif" font-style="italic" font-size="40" letter-spacing="0.3">A. comosus</text>
<text x="3913" y="697.2" font-family="'Liberation Serif', serif" font-style="italic" font-size="40" letter-spacing="0.3">M. crystallinum</text>
<g stroke="#000" stroke-width="3.5" fill="none">
<path d="M4157.7,226.7 H4169.7 V346.7 H4157.7"/>
<path d="M4157.7,398.9 H4169.7 V536.8 H4157.7"/>
<path d="M4157.7,557.8 H4169.7 V647.8 H4157.7"/>
<path d="M4181.7,671.7 H4193.7 V716.7 H4181.7"/>
</g>
<text x="4198" y="307" font-family="'Liberation Serif', serif" font-size="45">C3</text>
<text x="4198" y="481" font-family="'Liberation Serif', serif" font-size="45">C4</text>
<text x="4196.7" y="614" font-family="'Liberation Serif', serif" font-size="45">CAM</text>
<text x="4200" y="706" font-family="'Liberation Serif', serif" font-size="45">C3/CAM</text>
<text transform="translate(3469.5,730) rotate(-45)" text-anchor="end" font-family="'Liberation Serif', serif" font-style="italic" font-size="35">MDH</text>
<text transform="translate(3550.5,730) rotate(-45)" text-anchor="end" font-family="'Liberation Serif', serif" font-style="italic" font-size="35">PPDK</text>
<text transform="translate(3631.5,730) rotate(-45)" text-anchor="end" font-family="'Liberation Serif', serif" font-style="italic" font-size="35">PEPCK</text>
<text transform="translate(3712.5,730) rotate(-45)" text-anchor="end" font-family="'Liberation Serif', serif" font-style="italic" font-size="35">CA</text>
<text transform="translate(3793.5,730) rotate(-45)" text-anchor="end" font-family="'Liberation Serif', serif" font-style="italic" font-size="35">PEPC</text>
<text transform="translate(3874.5,730) rotate(-45)" text-anchor="end" font-family="'Liberation Serif', serif" font-style="italic" font-size="35">ME</text>
<defs><linearGradient id="cbar" x1="0" x2="1" y1="0" y2="0"><stop offset="0" stop-color="#9445a8"/><stop offset="0.1667" stop-color="#b888ab"/><stop offset="0.3333" stop-color="#d4b5a6"/><stop offset="0.5" stop-color="#ede6a8"/><stop offset="0.6667" stop-color="#9ccc96"/><stop offset="0.8333" stop-color="#4cae84"/><stop offset="1" stop-color="#149877"/></linearGradient></defs>
<g transform="rotate(-0.83 3908.6 111.5)">
<rect x="3908.6" y="111.5" width="289" height="36.4" fill="url(#cbar)"/>
<path d="M3908.6,111.5 H4197.6" stroke="#000" stroke-width="3"/>
<path d="M3908.6,111.5 V106" stroke="#000" stroke-width="2.5"/>
<text transform="translate(3918.1,94.5) rotate(-90)" font-family="'Liberation Serif', serif" font-size="27.5">18.00</text>
<path d="M3956.7,111.5 V106" stroke="#000" stroke-width="2.5"/>
<text transform="translate(3966.2,94.5) rotate(-90)" font-family="'Liberation Serif', serif" font-size="27.5">15.00</text>
<path d="M4004.8,111.5 V106" stroke="#000" stroke-width="2.5"/>
<text transform="translate(4014.3,94.5) rotate(-90)" font-family="'Liberation Serif', serif" font-size="27.5">12.00</text>
<path d="M4052.9,111.5 V106" stroke="#000" stroke-width="2.5"/>
<text transform="translate(4062.4,94.5) rotate(-90)" font-family="'Liberation Serif', serif" font-size="27.5">9.00</text>
<path d="M4101.0,111.5 V106" stroke="#000" stroke-width="2.5"/>
<text transform="translate(4110.5,94.5) rotate(-90)" font-family="'Liberation Serif', serif" font-size="27.5">6.00</text>
<path d="M4149.1,111.5 V106" stroke="#000" stroke-width="2.5"/>
<text transform="translate(4158.6,94.5) rotate(-90)" font-family="'Liberation Serif', serif" font-size="27.5">3.00</text>
<path d="M4197.2,111.5 V106" stroke="#000" stroke-width="2.5"/>
<text transform="translate(4206.7,94.5) rotate(-90)" font-family="'Liberation Serif', serif" font-size="27.5">0.00</text>
</g>
<text x="10" y="1025" font-family="'Liberation Serif', serif" font-size="82">c</text>
<path d="M80.0,1434.6 A710,710 0 1 1 731.6,2402.4" stroke="#d9a6c6" stroke-width="30" fill="none"/>
<path d="M699.4,2401.3 A710,710 0 0 1 71.0,1459.0" stroke="#2bbb91" stroke-width="30" fill="none"/>
<text x="1362" y="1283" font-family="'Liberation Serif', serif" font-style="italic" font-size="56" textLength="126" lengthAdjust="spacingAndGlyphs">PTPC</text>
<text x="20" y="2188" font-family="'Liberation Serif', serif" font-style="italic" font-size="56" textLength="126" lengthAdjust="spacingAndGlyphs">BTPC</text>
<text x="724" y="1601" font-family="'Liberation Serif', serif" font-style="italic" font-size="69">PEPC</text>
<g stroke="#111" stroke-width="2" fill="none"><path d="M764.4,1639.0 A50,50 0 1 1 697.1,1666.3 M752.7,1706.7 L762.5,1730.8 M764.4,1639.0 L776.1,1613.5 M688.0,1629.9 A78,78 0 0 1 821.4,1690.8 M821.4,1690.8 L971.0,1702.8 M946.3,1579.9 A228,228 0 0 1 926.9,1820.2 M946.3,1579.9 L1012.9,1545.5 M995.7,1516.2 A303,303 0 0 1 1026.8,1576.5 M1026.8,1576.5 L1050.1,1567.6 M1037.5,1538.7 A328,328 0 0 1 1060.0,1597.5 M1060.0,1597.5 L1084.1,1590.9 M1077.4,1569.3 A353,353 0 0 1 1089.4,1612.9 M926.9,1820.2 L947.0,1835.0 M988.2,1749.7 A253,253 0 0 1 877.4,1899.3 M988.2,1749.7 L1036.5,1762.6 M1046.6,1690.6 A303,303 0 0 1 1009.5,1830.0 M1046.6,1690.6 L1071.6,1691.1 M1070.8,1659.6 A328,328 0 0 1 1069.5,1722.6 M1069.5,1722.6 L1094.3,1725.5 M1096.2,1702.9 A353,353 0 0 1 1091.0,1747.9 M1009.5,1830.0 L1031.4,1842.0 M1049.2,1804.0 A328,328 0 0 1 1008.9,1877.5 M1049.2,1804.0 L1072.5,1813.1 M1080.0,1791.7 A353,353 0 0 1 1063.5,1833.9 M1008.9,1877.5 L1029.1,1892.3 M1041.8,1873.5 A353,353 0 0 1 1015.2,1910.1 M877.4,1899.3 L890.6,1920.5 M933.0,1888.1 A278,278 0 0 1 842.8,1944.2 M842.8,1944.2 L851.7,1967.6 M903.8,1941.7 A303,303 0 0 1 795.6,1983.0 M903.8,1941.7 L930.3,1984.2 M949.1,1971.6 A353,353 0 0 1 910.7,1995.5 M795.6,1983.0 L799.9,2007.7 M840.8,1997.8 A328,328 0 0 1 758.1,2012.2 M840.8,1997.8 L848.2,2021.7 M869.5,2014.3 A353,353 0 0 1 826.3,2027.7 M758.1,2012.2 L759.2,2037.2 M781.8,2035.4 A353,353 0 0 1 736.6,2037.4 M688.0,1629.9 L670.1,1612.4 M656.7,1629.3 A103,103 0 0 1 686.8,1598.7 M656.7,1629.3 L445.6,1495.5 M434.1,1515.0 A353,353 0 0 1 458.3,1476.8 M686.8,1598.7 L672.9,1577.8 M656.5,1590.8 A128,128 0 0 1 691.3,1567.7 M656.5,1590.8 L503.3,1426.0 M487.2,1442.0 A353,353 0 0 1 520.3,1411.2 M691.3,1567.7 L681.0,1544.9 M662.8,1554.6 A153,153 0 0 1 700.3,1537.8 M700.3,1537.8 L693.2,1513.8 M669.7,1522.6 A178,178 0 0 1 717.8,1508.4 M717.8,1508.4 L714.1,1483.7 M683.6,1490.6 A203,203 0 0 1 745.4,1481.5 M745.4,1481.5 L745.6,1456.5 M704.6,1459.9 A228,228 0 0 1 786.4,1460.5 M786.4,1460.5 L791.1,1436.0 M748.8,1431.6 A253,253 0 0 1 832.1,1447.4 M748.8,1431.6 L750.8,1331.6 M728.2,1331.8 A353,353 0 0 1 773.4,1332.8 M832.1,1447.4 L840.8,1424.0 M802.3,1412.8 A278,278 0 0 1 877.2,1440.7 M877.2,1440.7 L889.2,1418.7 M845.0,1398.9 A303,303 0 0 1 929.8,1445.4 M929.8,1445.4 L945.1,1425.6 M910.4,1402.0 A328,328 0 0 1 976.6,1453.5 M910.4,1402.0 L923.1,1380.5 M903.2,1369.6 A353,353 0 0 1 942.2,1392.6 M976.6,1453.5 L994.3,1435.9 M977.9,1420.4 A353,353 0 0 1 1009.7,1452.5 M727.2,1731.7 L701.5,1805.4 M724.8,1811.1 A128,128 0 0 1 679.8,1795.4 M679.8,1795.4 L667.3,1817.1 M692.6,1828.7 A153,153 0 0 1 644.6,1801.0 M692.6,1828.7 L625.7,2017.2 M647.3,2024.1 A353,353 0 0 1 604.7,2009.0 M644.6,1801.0 L628.4,1820.1 M653.2,1837.8 A178,178 0 0 1 606.9,1798.4 M606.9,1798.4 L587.7,1814.4 M619.0,1844.7 A203,203 0 0 1 563.5,1778.0 M563.5,1778.0 L541.3,1789.5 M567.2,1828.8 A228,228 0 0 1 524.1,1745.8 M567.2,1828.8 L489.7,1892.0 M510.8,1915.5 A328,328 0 0 1 471.0,1866.7 M471.0,1866.7 L450.2,1880.6 M463.3,1899.0 A353,353 0 0 1 438.2,1861.4 M524.1,1745.8 L500.0,1752.6 M510.3,1782.2 A253,253 0 0 1 493.5,1721.8 M493.5,1721.8 L468.7,1725.5 M475.7,1758.2 A278,278 0 0 1 465.8,1692.3 M465.8,1692.3 L440.8,1693.0 M443.7,1726.8 A303,303 0 0 1 441.8,1659.0 M441.8,1659.0 L416.9,1656.9 M415.7,1688.4 A328,328 0 0 1 421.0,1625.6 M421.0,1625.6 L396.4,1621.2 M393.1,1643.5 A353,353 0 0 1 401.2,1599.0"/></g>
<g stroke-width="2" fill="none"><path d="M995.7,1516.2 L1056.4,1475.6" stroke="#e8a21e"/><path d="M1037.5,1538.7 L1080.5,1517.3" stroke="#e8a21e"/><path d="M1077.4,1569.3 L1099.1,1561.8" stroke="#e8a21e"/><path d="M1089.4,1612.9 L1111.9,1608.2" stroke="#e8a21e"/><path d="M1070.8,1659.6 L1118.6,1655.9" stroke="#18a018"/><path d="M1096.2,1702.9 L1119.2,1704.1" stroke="#1a5a9c"/><path d="M1091.0,1747.9 L1113.6,1752.0" stroke="#e8a21e"/><path d="M1080.0,1791.7 L1101.9,1798.7" stroke="#e8a21e"/><path d="M1063.5,1833.9 L1084.4,1843.6" stroke="#1a5a9c"/><path d="M1041.8,1873.5 L1061.2,1885.9" stroke="#1a5a9c"/><path d="M1015.2,1910.1 L1032.9,1924.8" stroke="#e8a21e"/><path d="M933.0,1888.1 L999.8,1959.8" stroke="#1a5a9c"/><path d="M949.1,1971.6 L962.5,1990.3" stroke="#1a5a9c"/><path d="M910.7,1995.5 L921.6,2015.8" stroke="#1a5a9c"/><path d="M869.5,2014.3 L877.7,2035.8" stroke="#1a5a9c"/><path d="M826.3,2027.7 L831.7,2050.1" stroke="#1a5a9c"/><path d="M781.8,2035.4 L784.2,2058.3" stroke="#c01818"/><path d="M736.6,2037.4 L736.1,2060.4" stroke="#e8a21e"/><path d="M434.1,1515.0 L413.9,1503.9" stroke="#e8a21e"/><path d="M458.3,1476.8 L439.7,1463.2" stroke="#e8a21e"/><path d="M487.2,1442.0 L470.5,1426.2" stroke="#c01818"/><path d="M520.3,1411.2 L505.8,1393.3" stroke="#18a018"/><path d="M662.8,1554.6 L545.0,1365.3" stroke="#18a018"/><path d="M669.7,1522.6 L587.4,1342.5" stroke="#18a018"/><path d="M683.6,1490.6 L632.4,1325.3" stroke="#18a018"/><path d="M704.6,1459.9 L679.3,1314.1" stroke="#18a018"/><path d="M728.2,1331.8 L727.2,1308.9" stroke="#18a018"/><path d="M773.4,1332.8 L775.3,1309.8" stroke="#18a018"/><path d="M802.3,1412.8 L823.0,1317.0" stroke="#18a018"/><path d="M845.0,1398.9 L869.3,1330.1" stroke="#18a018"/><path d="M903.2,1369.6 L913.6,1349.1" stroke="#18a018"/><path d="M942.2,1392.6 L955.1,1373.6" stroke="#18a018"/><path d="M977.9,1420.4 L993.2,1403.2" stroke="#18a018"/><path d="M1009.7,1452.5 L1027.1,1437.4" stroke="#18a018"/><path d="M724.8,1811.1 L688.1,2056.4" stroke="#18a018"/><path d="M647.3,2024.1 L641.0,2046.2" stroke="#e8a21e"/><path d="M604.7,2009.0 L595.6,2030.1" stroke="#1a5a9c"/><path d="M653.2,1837.8 L552.6,2008.3" stroke="#1a5a9c"/><path d="M619.0,1844.7 L512.8,1981.2" stroke="#e8a21e"/><path d="M510.8,1915.5 L476.7,1949.3" stroke="#c01818"/><path d="M463.3,1899.0 L445.1,1913.0" stroke="#18a018"/><path d="M438.2,1861.4 L418.3,1872.9" stroke="#e8a21e"/><path d="M510.3,1782.2 L396.9,1829.7" stroke="#1a5a9c"/><path d="M475.7,1758.2 L381.2,1784.2" stroke="#1a5a9c"/><path d="M443.7,1726.8 L371.4,1737.0" stroke="#18a018"/><path d="M415.7,1688.4 L367.7,1689.0" stroke="#e8a21e"/><path d="M393.1,1643.5 L370.2,1640.9" stroke="#e8a21e"/><path d="M401.2,1599.0 L378.9,1593.5" stroke="#1a5a9c"/><path d="M697.1,1666.3 L393.5,1547.6" stroke="#1a5a9c"/></g>
<path d="M767.5,1632.3 L767.0,1618.8 L778.0,1623.8Z" fill="#3a7a1c"/>
<path d="M886.0,1696.0 L905.4,1688.1 L903.9,1706.8Z" fill="#3a7a1c"/>
<path d="M970.5,1567.3 L982.9,1550.5 L991.4,1567.1Z" fill="#3a7a1c"/>
<path d="M1032.3,1574.4 L1041.5,1564.4 L1045.8,1575.7Z" fill="#3a7a1c"/>
<path d="M1064.5,1596.3 L1076.4,1585.6 L1080.2,1599.4Z" fill="#3a7a1c"/>
<path d="M928.8,1821.5 L949.4,1825.1 L938.3,1840.2Z" fill="#3a7a1c"/>
<path d="M1003.6,1753.8 L1021.7,1750.1 L1017.4,1766.0Z" fill="#3a7a1c"/>
<path d="M1048.9,1690.7 L1067.8,1681.7 L1067.4,1700.4Z" fill="#3a7a1c"/>
<path d="M1076.5,1723.4 L1086.9,1719.6 L1085.8,1729.5Z" fill="#3a7a1c"/>
<path d="M1011.5,1831.1 L1032.4,1831.9 L1023.4,1848.3Z" fill="#3a7a1c"/>
<path d="M1055.8,1806.5 L1066.8,1805.5 L1063.2,1814.8Z" fill="#3a7a1c"/>
<path d="M1011.7,1879.6 L1029.9,1882.6 L1020.2,1896.0Z" fill="#3a7a1c"/>
<path d="M879.9,1903.3 L893.5,1911.6 L881.4,1919.2Z" fill="#3a7a1c"/>
<path d="M843.6,1946.4 L859.0,1960.5 L841.6,1967.2Z" fill="#3a7a1c"/>
<path d="M913.6,1957.3 L925.1,1964.4 L914.8,1970.8Z" fill="#3a7a1c"/>
<path d="M796.6,1988.8 L804.7,1999.7 L792.7,2001.8Z" fill="#3a7a1c"/>
<path d="M841.8,2001.2 L854.6,2014.5 L838.8,2019.4Z" fill="#3a7a1c"/>
<path d="M758.2,2014.5 L768.4,2032.8 L749.7,2033.6Z" fill="#3a7a1c"/>
<path d="M686.3,1628.3 L666.4,1621.9 L679.5,1608.5Z" fill="#3a7a1c"/>
<path d="M558.7,1567.2 L540.4,1565.4 L549.2,1551.4Z" fill="#3a7a1c"/>
<path d="M684.8,1595.7 L668.8,1586.6 L682.6,1577.4Z" fill="#3a7a1c"/>
<path d="M584.4,1513.2 L571.7,1508.5 L580.6,1500.3Z" fill="#3a7a1c"/>
<path d="M688.8,1562.4 L678.4,1553.8 L689.4,1548.8Z" fill="#3a7a1c"/>
<path d="M698.7,1532.1 L689.4,1522.2 L701.0,1518.8Z" fill="#3a7a1c"/>
<path d="M717.4,1506.1 L705.5,1489.0 L724.0,1486.3Z" fill="#3a7a1c"/>
<path d="M745.4,1478.0 L737.3,1461.4 L753.8,1461.6Z" fill="#3a7a1c"/>
<path d="M787.7,1453.6 L784.7,1442.9 L794.5,1444.8Z" fill="#3a7a1c"/>
<path d="M749.7,1387.0 L744.9,1377.0 L754.8,1377.2Z" fill="#3a7a1c"/>
<path d="M834.1,1441.9 L832.7,1428.5 L844.0,1432.7Z" fill="#3a7a1c"/>
<path d="M878.3,1438.6 L879.1,1417.8 L895.5,1426.7Z" fill="#3a7a1c"/>
<path d="M934.1,1439.8 L936.3,1428.9 L944.1,1435.0Z" fill="#3a7a1c"/>
<path d="M912.8,1398.0 L913.9,1382.0 L926.2,1389.3Z" fill="#3a7a1c"/>
<path d="M981.6,1448.5 L985.2,1438.0 L992.1,1445.1Z" fill="#3a7a1c"/>
<path d="M717.0,1761.2 L719.0,1777.0 L705.5,1772.3Z" fill="#3a7a1c"/>
<path d="M678.0,1798.4 L677.0,1816.9 L662.7,1808.6Z" fill="#3a7a1c"/>
<path d="M662.6,1913.3 L665.1,1934.1 L647.5,1927.8Z" fill="#3a7a1c"/>
<path d="M642.3,1803.7 L637.9,1821.6 L625.3,1810.9Z" fill="#3a7a1c"/>
<path d="M604.2,1800.6 L596.8,1817.5 L586.2,1804.8Z" fill="#3a7a1c"/>
<path d="M560.4,1779.6 L549.6,1794.6 L542.0,1779.9Z" fill="#3a7a1c"/>
<path d="M536.3,1854.0 L527.8,1873.0 L515.9,1858.5Z" fill="#3a7a1c"/>
<path d="M468.1,1868.6 L458.9,1884.7 L449.7,1871.0Z" fill="#3a7a1c"/>
<path d="M518.4,1747.4 L508.4,1756.5 L505.1,1744.9Z" fill="#3a7a1c"/>
<path d="M488.8,1722.5 L475.7,1731.7 L473.6,1717.6Z" fill="#3a7a1c"/>
<path d="M458.7,1692.5 L449.0,1697.7 L448.7,1687.8Z" fill="#3a7a1c"/>
<path d="M434.7,1658.4 L424.4,1662.5 L425.3,1652.6Z" fill="#3a7a1c"/>
<path d="M415.2,1624.6 L402.2,1628.4 L404.4,1616.5Z" fill="#3a7a1c"/>
<text transform="translate(387.9,1545.4) rotate(381.36) scale(0.95,1)" dy="10.5" text-anchor="end" font-family="'Liberation Serif', serif" font-style="italic" font-size="31.5" fill="#1a5a9c">AT2G42600.1</text>
<text transform="translate(1061.3,1472.3) rotate(326.26) scale(0.95,1)" dy="10.5" text-anchor="start" font-family="'Liberation Serif', serif" font-style="italic" font-size="31.5" fill="#e8a21e">Zosma01g23320</text>
<text transform="translate(1085.9,1514.7) rotate(333.60) scale(0.95,1)" dy="10.5" text-anchor="start" font-family="'Liberation Serif', serif" font-style="italic" font-size="31.5" fill="#e8a21e">Zosma04g04800</text>
<text transform="translate(1104.8,1559.8) rotate(340.95) scale(0.95,1)" dy="10.5" text-anchor="start" font-family="'Liberation Serif', serif" font-style="italic" font-size="31.5" fill="#e8a21e">Zosma06g00180</text>
<text transform="translate(1117.8,1607.0) rotate(348.30) scale(0.95,1)" dy="10.5" text-anchor="start" font-family="'Liberation Serif', serif" font-style="italic" font-size="31.5" fill="#e8a21e">Zosma05g25910</text>
<text transform="translate(1124.6,1655.5) rotate(355.65) scale(0.95,1)" dy="10.5" text-anchor="start" font-family="'Liberation Serif', serif" font-style="italic" font-size="31.5" fill="#18a018">Aco018093.1</text>
<text transform="translate(1125.2,1704.4) rotate(2.99) scale(0.95,1)" dy="10.5" text-anchor="start" font-family="'Liberation Serif', serif" font-style="italic" font-size="31.5" fill="#1a5a9c">LOC_Os01g55350.1</text>
<text transform="translate(1119.5,1753.1) rotate(10.34) scale(0.95,1)" dy="10.5" text-anchor="start" font-family="'Liberation Serif', serif" font-style="italic" font-size="31.5" fill="#e8a21e">Sobic003G301800.1</text>
<text transform="translate(1107.6,1800.6) rotate(17.69) scale(0.95,1)" dy="10.5" text-anchor="start" font-family="'Liberation Serif', serif" font-style="italic" font-size="31.5" fill="#e8a21e">Sobic002G167000.1</text>
<text transform="translate(1089.8,1846.1) rotate(25.03) scale(0.95,1)" dy="10.5" text-anchor="start" font-family="'Liberation Serif', serif" font-style="italic" font-size="31.5" fill="#1a5a9c">LOC_Os09g14670.1</text>
<text transform="translate(1066.3,1889.1) rotate(32.38) scale(0.95,1)" dy="10.5" text-anchor="start" font-family="'Liberation Serif', serif" font-style="italic" font-size="31.5" fill="#1a5a9c">LOC_Os08g27840.1</text>
<text transform="translate(1037.5,1928.6) rotate(39.73) scale(0.95,1)" dy="10.5" text-anchor="start" font-family="'Liberation Serif', serif" font-style="italic" font-size="31.5" fill="#e8a21e">Sobic007G106500.1</text>
<text transform="translate(1003.9,1964.2) rotate(47.07) scale(0.95,1)" dy="10.5" text-anchor="start" font-family="'Liberation Serif', serif" font-style="italic" font-size="31.5" fill="#1a5a9c">VIT_212s0028g02180.1</text>
<text transform="translate(966.0,1995.2) rotate(54.42) scale(0.95,1)" dy="10.5" text-anchor="start" font-family="'Liberation Serif', serif" font-style="italic" font-size="31.5" fill="#1a5a9c">VIT_219s0015g00410.1</text>
<text transform="translate(924.4,2021.1) rotate(61.77) scale(0.95,1)" dy="10.5" text-anchor="start" font-family="'Liberation Serif', serif" font-style="italic" font-size="31.5" fill="#1a5a9c">VIT_219s0014g01390.1</text>
<text transform="translate(879.9,2041.4) rotate(69.12) scale(0.95,1)" dy="10.5" text-anchor="start" font-family="'Liberation Serif', serif" font-style="italic" font-size="31.5" fill="#1a5a9c">AT3G14940.1</text>
<text transform="translate(833.1,2055.9) rotate(76.46) scale(0.95,1)" dy="10.5" text-anchor="start" font-family="'Liberation Serif', serif" font-style="italic" font-size="31.5" fill="#1a5a9c">AT1G53310.1</text>
<text transform="translate(784.9,2064.3) rotate(83.81) scale(0.95,1)" dy="10.5" text-anchor="start" font-family="'Liberation Serif', serif" font-style="italic" font-size="31.5" fill="#c01818">Mc07G01375</text>
<text transform="translate(736.0,2066.4) rotate(271.16) scale(0.95,1)" dy="10.5" text-anchor="end" font-family="'Liberation Serif', serif" font-style="italic" font-size="31.5" fill="#e8a21e">Amacr04g0276</text>
<text transform="translate(408.6,1501.0) rotate(388.71) scale(0.95,1)" dy="10.5" text-anchor="end" font-family="'Liberation Serif', serif" font-style="italic" font-size="31.5" fill="#e8a21e">Amacr01g15130</text>
<text transform="translate(434.9,1459.7) rotate(396.05) scale(0.95,1)" dy="10.5" text-anchor="end" font-family="'Liberation Serif', serif" font-style="italic" font-size="31.5" fill="#e8a21e">Amacr01g02560</text>
<text transform="translate(466.1,1422.0) rotate(403.40) scale(0.95,1)" dy="10.5" text-anchor="end" font-family="'Liberation Serif', serif" font-style="italic" font-size="31.5" fill="#c01818">Mc08G01316</text>
<text transform="translate(502.0,1388.7) rotate(410.75) scale(0.95,1)" dy="10.5" text-anchor="end" font-family="'Liberation Serif', serif" font-style="italic" font-size="31.5" fill="#18a018">HU03G01874.1</text>
<text transform="translate(541.8,1360.2) rotate(418.09) scale(0.95,1)" dy="10.5" text-anchor="end" font-family="'Liberation Serif', serif" font-style="italic" font-size="31.5" fill="#18a018">HU01G00894.1</text>
<text transform="translate(584.9,1337.1) rotate(425.44) scale(0.95,1)" dy="10.5" text-anchor="end" font-family="'Liberation Serif', serif" font-style="italic" font-size="31.5" fill="#18a018">HU01G00987.1</text>
<text transform="translate(630.7,1319.6) rotate(432.79) scale(0.95,1)" dy="10.5" text-anchor="end" font-family="'Liberation Serif', serif" font-style="italic" font-size="31.5" fill="#18a018">HU01G00988.1</text>
<text transform="translate(678.2,1308.1) rotate(440.13) scale(0.95,1)" dy="10.5" text-anchor="end" font-family="'Liberation Serif', serif" font-style="italic" font-size="31.5" fill="#18a018">HU01G00989.1</text>
<text transform="translate(726.9,1302.9) rotate(447.48) scale(0.95,1)" dy="10.5" text-anchor="end" font-family="'Liberation Serif', serif" font-style="italic" font-size="31.5" fill="#18a018">HU01G00990.1</text>
<text transform="translate(775.9,1303.9) rotate(274.83) scale(0.95,1)" dy="10.5" text-anchor="start" font-family="'Liberation Serif', serif" font-style="italic" font-size="31.5" fill="#18a018">HU01G00991.1</text>
<text transform="translate(824.3,1311.1) rotate(282.18) scale(0.95,1)" dy="10.5" text-anchor="start" font-family="'Liberation Serif', serif" font-style="italic" font-size="31.5" fill="#18a018">HU09G00446.1</text>
<text transform="translate(871.4,1324.5) rotate(289.52) scale(0.95,1)" dy="10.5" text-anchor="start" font-family="'Liberation Serif', serif" font-style="italic" font-size="31.5" fill="#18a018">HU09G00447.1</text>
<text transform="translate(916.3,1343.7) rotate(296.87) scale(0.95,1)" dy="10.5" text-anchor="start" font-family="'Liberation Serif', serif" font-style="italic" font-size="31.5" fill="#18a018">HU10G01890.1</text>
<text transform="translate(958.5,1368.6) rotate(304.22) scale(0.95,1)" dy="10.5" text-anchor="start" font-family="'Liberation Serif', serif" font-style="italic" font-size="31.5" fill="#18a018">HU10G02036.1</text>
<text transform="translate(997.1,1398.7) rotate(311.56) scale(0.95,1)" dy="10.5" text-anchor="start" font-family="'Liberation Serif', serif" font-style="italic" font-size="31.5" fill="#18a018">HU10G01889.1</text>
<text transform="translate(1031.6,1433.4) rotate(318.91) scale(0.95,1)" dy="10.5" text-anchor="start" font-family="'Liberation Serif', serif" font-style="italic" font-size="31.5" fill="#18a018">HU10G02037.1</text>
<text transform="translate(687.2,2062.3) rotate(278.50) scale(0.95,1)" dy="10.5" text-anchor="end" font-family="'Liberation Serif', serif" font-style="italic" font-size="31.5" fill="#18a018">Aco010025.1</text>
<text transform="translate(639.4,2052.0) rotate(285.85) scale(0.95,1)" dy="10.5" text-anchor="end" font-family="'Liberation Serif', serif" font-style="italic" font-size="31.5" fill="#e8a21e">Sobic004G106900.1</text>
<text transform="translate(593.3,2035.6) rotate(293.19) scale(0.95,1)" dy="10.5" text-anchor="end" font-family="'Liberation Serif', serif" font-style="italic" font-size="31.5" fill="#1a5a9c">LOC_Os02g14770.1</text>
<text transform="translate(549.6,2013.5) rotate(300.54) scale(0.95,1)" dy="10.5" text-anchor="end" font-family="'Liberation Serif', serif" font-style="italic" font-size="31.5" fill="#1a5a9c">LOC_Os01g11054.1</text>
<text transform="translate(509.1,1986.0) rotate(307.89) scale(0.95,1)" dy="10.5" text-anchor="end" font-family="'Liberation Serif', serif" font-style="italic" font-size="31.5" fill="#e8a21e">Sobic010G160700.1</text>
<text transform="translate(472.5,1953.5) rotate(315.24) scale(0.95,1)" dy="10.5" text-anchor="end" font-family="'Liberation Serif', serif" font-style="italic" font-size="31.5" fill="#c01818">Mc06G00895</text>
<text transform="translate(440.3,1916.6) rotate(322.58) scale(0.95,1)" dy="10.5" text-anchor="end" font-family="'Liberation Serif', serif" font-style="italic" font-size="31.5" fill="#18a018">HU02G00490.1</text>
<text transform="translate(413.1,1875.9) rotate(329.93) scale(0.95,1)" dy="10.5" text-anchor="end" font-family="'Liberation Serif', serif" font-style="italic" font-size="31.5" fill="#e8a21e">Amacr17g05840</text>
<text transform="translate(391.4,1832.1) rotate(337.28) scale(0.95,1)" dy="10.5" text-anchor="end" font-family="'Liberation Serif', serif" font-style="italic" font-size="31.5" fill="#1a5a9c">AT1G68750.1</text>
<text transform="translate(375.4,1785.8) rotate(344.62) scale(0.95,1)" dy="10.5" text-anchor="end" font-family="'Liberation Serif', serif" font-style="italic" font-size="31.5" fill="#1a5a9c">VIT_201s0011g02740.1</text>
<text transform="translate(365.4,1737.9) rotate(351.97) scale(0.95,1)" dy="10.5" text-anchor="end" font-family="'Liberation Serif', serif" font-style="italic" font-size="31.5" fill="#18a018">Aco016429.1</text>
<text transform="translate(361.7,1689.1) rotate(359.32) scale(0.95,1)" dy="10.5" text-anchor="end" font-family="'Liberation Serif', serif" font-style="italic" font-size="31.5" fill="#e8a21e">Zosma05g32230</text>
<text transform="translate(364.3,1640.2) rotate(366.66) scale(0.95,1)" dy="10.5" text-anchor="end" font-family="'Liberation Serif', serif" font-style="italic" font-size="31.5" fill="#e8a21e">Sobic.003G100600.1</text>
<text transform="translate(373.1,1592.0) rotate(374.01) scale(0.95,1)" dy="10.5" text-anchor="end" font-family="'Liberation Serif', serif" font-style="italic" font-size="31.5" fill="#1a5a9c">LOC_Os01g02050.1</text>
<rect x="1239" y="2223.4" width="162" height="27.5" rx="13.75" fill="#0f5499"/>
<text x="1418" y="2251.2" font-family="'Liberation Serif', serif" font-size="44">C3</text>
<rect x="1239" y="2278" width="162" height="27.5" rx="13.75" fill="#f0a818"/>
<text x="1418" y="2310" font-family="'Liberation Serif', serif" font-size="44">C4</text>
<rect x="1239" y="2332.5" width="162" height="27.5" rx="13.75" fill="#14a814"/>
<text x="1418" y="2363.7" font-family="'Liberation Serif', serif" font-size="44">CAM</text>
<rect x="1239" y="2387.4" width="162" height="27.5" rx="13.75" fill="#cc0000"/>
<text x="1418" y="2418" font-family="'Liberation Serif', serif" font-size="44">C3/CAM</text>
<text x="1587" y="964" font-family="'Liberation Serif', serif" font-size="85">d</text>
<text x="1722" y="1080" font-family="'Liberation Serif', serif" font-style="italic" font-size="58">PTPC</text>
<text x="1717" y="2063" font-family="'Liberation Serif', serif" font-style="italic" font-size="58">BTPC</text>
<path d="M1649,1297.6 H1694.2 M1694.2,935.6 V1659.6 M1694.2,935.6 H2335 M1694.2,1659.6 H1739.8 M1739.8,1330.6 V1988.6 M1739.8,1330.6 H1785.4 M1785.4,1115.2 V1546.1 M1785.4,1115.2 H2059.0 M2059.0,989.8 V1240.6 M2059.0,989.8 H2195.8 M2195.8,964.5 V1015.0 M2195.8,964.5 H2335 M2195.8,1015.0 H2241.4 M2241.4,993.4 V1036.7 M2241.4,993.4 H2335 M2241.4,1036.7 H2287.0 M2287.0,1022.2 V1051.1 M2287.0,1022.2 H2335 M2287.0,1051.1 H2335 M2059.0,1240.6 H2104.6 M2104.6,1155.8 V1325.5 M2104.6,1155.8 H2195.8 M2195.8,1101.7 V1210.0 M2195.8,1101.7 H2241.4 M2241.4,1080.0 V1123.3 M2241.4,1080.0 H2335 M2241.4,1123.3 H2287.0 M2287.0,1108.9 V1137.8 M2287.0,1108.9 H2335 M2287.0,1137.8 H2335 M2195.8,1210.0 H2241.4 M2241.4,1181.1 V1238.8 M2241.4,1181.1 H2287.0 M2287.0,1166.6 V1195.5 M2287.0,1166.6 H2335 M2287.0,1195.5 H2335 M2241.4,1238.8 H2287.0 M2287.0,1224.4 V1253.3 M2287.0,1224.4 H2335 M2287.0,1253.3 H2335 M2104.6,1325.5 H2150.2 M2150.2,1282.2 V1368.8 M2150.2,1282.2 H2335 M2150.2,1368.8 H2195.8 M2195.8,1325.5 V1412.1 M2195.8,1325.5 H2287.0 M2287.0,1311.0 V1339.9 M2287.0,1311.0 H2335 M2287.0,1339.9 H2335 M2195.8,1412.1 H2241.4 M2241.4,1383.2 V1441.0 M2241.4,1383.2 H2287.0 M2287.0,1368.8 V1397.7 M2287.0,1368.8 H2335 M2287.0,1397.7 H2335 M2241.4,1441.0 H2287.0 M2287.0,1426.6 V1455.4 M2287.0,1426.6 H2335 M2287.0,1455.4 H2335 M1785.4,1546.1 H1831.0 M1831.0,1498.8 V1593.4 M1831.0,1498.8 H2287.0 M2287.0,1484.3 V1513.2 M2287.0,1484.3 H2335 M2287.0,1513.2 H2335 M1831.0,1593.4 H1876.6 M1876.6,1556.5 V1630.2 M1876.6,1556.5 H2287.0 M2287.0,1542.1 V1571.0 M2287.0,1542.1 H2335 M2287.0,1571.0 H2335 M1876.6,1630.2 H1922.2 M1922.2,1599.8 V1660.5 M1922.2,1599.8 H2335 M1922.2,1660.5 H1967.8 M1967.8,1628.7 V1692.3 M1967.8,1628.7 H2335 M1967.8,1692.3 H2013.4 M2013.4,1657.6 V1727.1 M2013.4,1657.6 H2335 M2013.4,1727.1 H2059.0 M2059.0,1686.5 V1767.7 M2059.0,1686.5 H2335 M2059.0,1767.7 H2104.6 M2104.6,1729.8 V1805.6 M2104.6,1729.8 H2287.0 M2287.0,1715.4 V1744.2 M2287.0,1715.4 H2335 M2287.0,1744.2 H2335 M2104.6,1805.6 H2150.2 M2150.2,1773.1 V1838.1 M2150.2,1773.1 H2335 M2150.2,1838.1 H2195.8 M2195.8,1802.0 V1874.2 M2195.8,1802.0 H2335 M2195.8,1874.2 H2241.4 M2241.4,1845.3 V1903.1 M2241.4,1845.3 H2287.0 M2287.0,1830.9 V1859.8 M2287.0,1830.9 H2335 M2287.0,1859.8 H2335 M2241.4,1903.1 H2287.0 M2287.0,1888.6 V1917.5 M2287.0,1888.6 H2335 M2287.0,1917.5 H2335" stroke="#b8509c" stroke-width="2" fill="none"/>
<path d="M1739.8,1988.6 H1876.6 M1876.6,1946.4 V2030.7 M1876.6,1946.4 H2335 M1876.6,2030.7 H1922.2 M1922.2,1989.7 V2071.7 M1922.2,1989.7 H2287.0 M2287.0,1975.3 V2004.2 M2287.0,1975.3 H2335 M2287.0,2004.2 H2335 M1922.2,2071.7 H1967.8 M1967.8,2033.0 V2110.4 M1967.8,2033.0 H2335 M1967.8,2110.4 H2013.4 M2013.4,2061.9 V2158.9 M2013.4,2061.9 H2335 M2013.4,2158.9 H2059.0 M2059.0,2112.5 V2205.4 M2059.0,2112.5 H2241.4 M2241.4,2090.8 V2134.1 M2241.4,2090.8 H2335 M2241.4,2134.1 H2287.0 M2287.0,2119.7 V2148.6 M2287.0,2119.7 H2335 M2287.0,2148.6 H2335 M2059.0,2205.4 H2104.6 M2104.6,2177.4 V2233.4 M2104.6,2177.4 H2335 M2104.6,2233.4 H2150.2 M2150.2,2206.3 V2260.5 M2150.2,2206.3 H2335 M2150.2,2260.5 H2195.8 M2195.8,2235.2 V2285.7 M2195.8,2235.2 H2335 M2195.8,2285.7 H2241.4 M2241.4,2264.1 V2307.4 M2241.4,2264.1 H2335 M2241.4,2307.4 H2287.0 M2287.0,2293.0 V2321.8 M2287.0,2293.0 H2335 M2287.0,2321.8 H2335" stroke="#2fa888" stroke-width="2" fill="none"/>
<text x="2342" y="940.3" font-family="'Liberation Serif', serif" font-style="italic" font-size="28">AT2G42600.1</text>
<text x="2342" y="969.2" font-family="'Liberation Serif', serif" font-style="italic" font-size="28">Zmosa01g23320</text>
<text x="2342" y="998.1" font-family="'Liberation Serif', serif" font-style="italic" font-size="28">Zmosa04g04800</text>
<text x="2342" y="1026.9" font-family="'Liberation Serif', serif" font-style="italic" font-size="28">Zmosa06g00180</text>
<text x="2342" y="1055.8" font-family="'Liberation Serif', serif" font-style="italic" font-size="28">Zmosa05g25910</text>
<text x="2342" y="1084.7" font-family="'Liberation Serif', serif" font-style="italic" font-size="28">Aco018093.1</text>
<text x="2342" y="1113.6" font-family="'Liberation Serif', serif" font-style="italic" font-size="28">LOC_Os01G55350.1</text>
<text x="2342" y="1142.5" font-family="'Liberation Serif', serif" font-style="italic" font-size="28">Sboic003G301800.1</text>
<text x="2342" y="1171.3" font-family="'Liberation Serif', serif" font-style="italic" font-size="28">Sobic002G167000.1</text>
<text x="2342" y="1200.2" font-family="'Liberation Serif', serif" font-style="italic" font-size="28">LOC_Os09g14670.1</text>
<text x="2342" y="1229.1" font-family="'Liberation Serif', serif" font-style="italic" font-size="28">LOC_Os08g27840.1</text>
<text x="2342" y="1258.0" font-family="'Liberation Serif', serif" font-style="italic" font-size="28">Sobic007G106500.1</text>
<text x="2342" y="1286.9" font-family="'Liberation Serif', serif" font-style="italic" font-size="28">VIT_212s0028g02180.1</text>
<text x="2342" y="1315.7" font-family="'Liberation Serif', serif" font-style="italic" font-size="28">VIT_219s0015g00410.1</text>
<text x="2342" y="1344.6" font-family="'Liberation Serif', serif" font-style="italic" font-size="28">VIT_219s0014g01390.1</text>
<text x="2342" y="1373.5" font-family="'Liberation Serif', serif" font-style="italic" font-size="28">AT3G14940.1</text>
<text x="2342" y="1402.4" font-family="'Liberation Serif', serif" font-style="italic" font-size="28">AT1G53310.1</text>
<text x="2342" y="1431.3" font-family="'Liberation Serif', serif" font-style="italic" font-size="28">Mc07G01375</text>
<text x="2342" y="1460.1" font-family="'Liberation Serif', serif" font-style="italic" font-size="28">Amacr04g02760</text>
<text x="2342" y="1489.0" font-family="'Liberation Serif', serif" font-style="italic" font-size="28">Amacr01g15130</text>
<text x="2342" y="1517.9" font-family="'Liberation Serif', serif" font-style="italic" font-size="28">Amacr01g02560</text>
<text x="2342" y="1546.8" font-family="'Liberation Serif', serif" font-style="italic" font-size="28">Mc08G01316</text>
<text x="2342" y="1575.7" font-family="'Liberation Serif', serif" font-style="italic" font-size="28">HU03G01874.1</text>
<text x="2342" y="1604.5" font-family="'Liberation Serif', serif" font-style="italic" font-size="28">HU01G00894.1</text>
<text x="2342" y="1633.4" font-family="'Liberation Serif', serif" font-style="italic" font-size="28">HU01G00987.1</text>
<text x="2342" y="1662.3" font-family="'Liberation Serif', serif" font-style="italic" font-size="28">HU01G00988.1</text>
<text x="2342" y="1691.2" font-family="'Liberation Serif', serif" font-style="italic" font-size="28">HU01G00989.1</text>
<text x="2342" y="1720.1" font-family="'Liberation Serif', serif" font-style="italic" font-size="28">HU01G00990.1</text>
<text x="2342" y="1748.9" font-family="'Liberation Serif', serif" font-style="italic" font-size="28">HU01G00991.1</text>
<text x="2342" y="1777.8" font-family="'Liberation Serif', serif" font-style="italic" font-size="28">HU09G00446.1</text>
<text x="2342" y="1806.7" font-family="'Liberation Serif', serif" font-style="italic" font-size="28">HU09G00447.1</text>
<text x="2342" y="1835.6" font-family="'Liberation Serif', serif" font-style="italic" font-size="28">HU10G01890.1</text>
<text x="2342" y="1864.5" font-family="'Liberation Serif', serif" font-style="italic" font-size="28">HU10G02036.1</text>
<text x="2342" y="1893.3" font-family="'Liberation Serif', serif" font-style="italic" font-size="28">HU10G01889.1</text>
<text x="2342" y="1922.2" font-family="'Liberation Serif', serif" font-style="italic" font-size="28">HU10G02037.1</text>
<text x="2342" y="1951.1" font-family="'Liberation Serif', serif" font-style="italic" font-size="28">Aco010025.1</text>
<text x="2342" y="1980.0" font-family="'Liberation Serif', serif" font-style="italic" font-size="28">Sobic004G106900.1</text>
<text x="2342" y="2008.9" font-family="'Liberation Serif', serif" font-style="italic" font-size="28">LOC_Os02g14770.1</text>
<text x="2342" y="2037.7" font-family="'Liberation Serif', serif" font-style="italic" font-size="28">LOC_Os01g11054.1</text>
<text x="2342" y="2066.6" font-family="'Liberation Serif', serif" font-style="italic" font-size="28">Sobic010G160700.1</text>
<text x="2342" y="2095.5" font-family="'Liberation Serif', serif" font-style="italic" font-size="28">Mc06G00895</text>
<text x="2342" y="2124.4" font-family="'Liberation Serif', serif" font-style="italic" font-size="28">HU02G00490.1</text>
<text x="2342" y="2153.3" font-family="'Liberation Serif', serif" font-style="italic" font-size="28">Amacr17g05840</text>
<text x="2342" y="2182.1" font-family="'Liberation Serif', serif" font-style="italic" font-size="28">AT1G68750.1</text>
<text x="2342" y="2211.0" font-family="'Liberation Serif', serif" font-style="italic" font-size="28">VIT_201s0011g02740.1</text>
<text x="2342" y="2239.9" font-family="'Liberation Serif', serif" font-style="italic" font-size="28">Aco016429.1</text>
<text x="2342" y="2268.8" font-family="'Liberation Serif', serif" font-style="italic" font-size="28">Zosma05g32230</text>
<text x="2342" y="2297.7" font-family="'Liberation Serif', serif" font-style="italic" font-size="28">Sobic003G100600.1</text>
<text x="2342" y="2326.5" font-family="'Liberation Serif', serif" font-style="italic" font-size="28">LOC_Os01g02050.1</text>
<path d="M2626.6,1487.5 H3356.8" stroke="#c8c8c8" stroke-width="1.8"/>
<path d="M2626.6,940.3 H3098.5 M2626.6,969.1 H3128.2 M2626.6,997.9 H3101.8 M2626.6,1026.7 H3101.8 M2626.6,1055.5 H3100.2 M2626.6,1084.3 H3100.2 M2626.6,1113.1 H3079.4 M2626.6,1141.9 H3100.2 M2626.6,1170.7 H3100.2 M2626.6,1199.5 H3104.9 M2626.6,1228.3 H3099.6 M2626.6,1257.1 H3099.6 M2626.6,1285.9 H3099.6 M2626.5,1314.7 H2667.6 M2626.6,1343.5 H3098.8 M2626.6,1372.3 H3100.9 M2626.6,1401.1 H3100.3 M2626.6,1429.9 H3100 M2626.6,1458.7 H3100 M2626.6,1516.3 H3100 M2626.6,1545.1 H3099.3 M2626.6,1573.9 H2936.7 M2626.6,1602.7 H2957 M2626.6,1631.5 H2883.1 M2626.6,1660.3 H2821.8 M2626.6,1689.1 H3041.6 M2626.6,1717.9 H2925 M2626.6,1746.7 H2925 M2626.6,1775.5 H2948.4 M2626.6,1804.3 H2748.7 M2626.6,1833.1 H3087.6 M2626.6,1861.9 H2889.5 M2626.6,1890.7 H2925 M2626.6,1919.5 H2908.2 M2626.6,1948.3 H3099.3 M2626.6,1977.1 H3097.2 M2626.6,2005.9 H3101.3 M2626.6,2034.7 H3123.6 M2626.6,2063.5 H3130.6 M2626.6,2092.3 H3136.5 M2626.6,2121.1 H3146.1 M2626.6,2149.9 H3129.4 M2626.6,2178.7 H3132.4 M2626.6,2207.5 H3146.7 M2626.6,2236.3 H3125.6 M2626.6,2265.1 H3133.5 M2626.6,2293.9 H3135.9 M2626.6,2322.7 H3134.4" stroke="#8a8a8a" stroke-width="1.8" fill="none"/>
<rect x="2700.3" y="927.1" width="20.4" height="13.2" fill="#62b848" stroke="#333" stroke-width="1"/>
<rect x="2729.7" y="927.1" width="24.6" height="13.2" fill="#92c42a" stroke="#333" stroke-width="1"/>
<rect x="2754.3" y="927.1" width="20.7" height="13.2" fill="#e41e1e" stroke="#333" stroke-width="1"/>
<rect x="2775.0" y="927.1" width="14.6" height="13.2" fill="#d6e03a" stroke="#333" stroke-width="1"/>
<rect x="2826.2" y="927.1" width="24.9" height="13.2" fill="#cc4494" stroke="#333" stroke-width="1"/>
<rect x="2874.4" y="927.1" width="20.7" height="13.2" fill="#e8601e" stroke="#333" stroke-width="1"/>
<rect x="2918.7" y="927.1" width="24.9" height="13.2" fill="#5a449a" stroke="#333" stroke-width="1"/>
<rect x="2948.1" y="927.1" width="24.9" height="13.2" fill="#2150a6" stroke="#333" stroke-width="1"/>
<rect x="2984.4" y="927.1" width="14.8" height="13.2" fill="#64b42c" stroke="#333" stroke-width="1"/>
<rect x="2999.2" y="927.1" width="15.9" height="13.2" fill="#6cc8d8" stroke="#333" stroke-width="1"/>
<rect x="3018.3" y="927.1" width="24.9" height="13.2" fill="#f5b820" stroke="#333" stroke-width="1"/>
<rect x="3047.2" y="927.1" width="24.6" height="13.2" fill="#6cc08c" stroke="#333" stroke-width="1"/>
<rect x="2701.2" y="955.9" width="20.4" height="13.2" fill="#62b848" stroke="#333" stroke-width="1"/>
<rect x="2730.6" y="955.9" width="24.6" height="13.2" fill="#92c42a" stroke="#333" stroke-width="1"/>
<rect x="2755.2" y="955.9" width="20.7" height="13.2" fill="#e41e1e" stroke="#333" stroke-width="1"/>
<rect x="2775.9" y="955.9" width="14.6" height="13.2" fill="#d6e03a" stroke="#333" stroke-width="1"/>
<rect x="2827.1" y="955.9" width="24.9" height="13.2" fill="#cc4494" stroke="#333" stroke-width="1"/>
<rect x="2875.3" y="955.9" width="20.7" height="13.2" fill="#e8601e" stroke="#333" stroke-width="1"/>
<rect x="2919.6" y="955.9" width="24.9" height="13.2" fill="#5a449a" stroke="#333" stroke-width="1"/>
<rect x="2949.0" y="955.9" width="24.9" height="13.2" fill="#2150a6" stroke="#333" stroke-width="1"/>
<rect x="2985.3" y="955.9" width="14.8" height="13.2" fill="#64b42c" stroke="#333" stroke-width="1"/>
<rect x="3000.1" y="955.9" width="15.9" height="13.2" fill="#6cc8d8" stroke="#333" stroke-width="1"/>
<rect x="3019.2" y="955.9" width="24.9" height="13.2" fill="#f5b820" stroke="#333" stroke-width="1"/>
<rect x="3048.1" y="955.9" width="24.6" height="13.2" fill="#6cc08c" stroke="#333" stroke-width="1"/>
<rect x="2703.2" y="984.7" width="20.4" height="13.2" fill="#62b848" stroke="#333" stroke-width="1"/>
<rect x="2732.6" y="984.7" width="24.6" height="13.2" fill="#92c42a" stroke="#333" stroke-width="1"/>
<rect x="2757.2" y="984.7" width="20.7" height="13.2" fill="#e41e1e" stroke="#333" stroke-width="1"/>
<rect x="2777.9" y="984.7" width="14.6" height="13.2" fill="#d6e03a" stroke="#333" stroke-width="1"/>
<rect x="2829.1" y="984.7" width="24.9" height="13.2" fill="#cc4494" stroke="#333" stroke-width="1"/>
<rect x="2877.3" y="984.7" width="20.7" height="13.2" fill="#e8601e" stroke="#333" stroke-width="1"/>
<rect x="2921.6" y="984.7" width="24.9" height="13.2" fill="#5a449a" stroke="#333" stroke-width="1"/>
<rect x="2951.0" y="984.7" width="24.9" height="13.2" fill="#2150a6" stroke="#333" stroke-width="1"/>
<rect x="2987.3" y="984.7" width="14.8" height="13.2" fill="#64b42c" stroke="#333" stroke-width="1"/>
<rect x="3002.1" y="984.7" width="15.9" height="13.2" fill="#6cc8d8" stroke="#333" stroke-width="1"/>
<rect x="3021.2" y="984.7" width="24.9" height="13.2" fill="#f5b820" stroke="#333" stroke-width="1"/>
<rect x="3050.1" y="984.7" width="24.6" height="13.2" fill="#6cc08c" stroke="#333" stroke-width="1"/>
<rect x="2702.6" y="1013.5" width="20.4" height="13.2" fill="#62b848" stroke="#333" stroke-width="1"/>
<rect x="2732.0" y="1013.5" width="24.6" height="13.2" fill="#92c42a" stroke="#333" stroke-width="1"/>
<rect x="2756.6" y="1013.5" width="20.7" height="13.2" fill="#e41e1e" stroke="#333" stroke-width="1"/>
<rect x="2777.3" y="1013.5" width="14.6" height="13.2" fill="#d6e03a" stroke="#333" stroke-width="1"/>
<rect x="2828.5" y="1013.5" width="24.9" height="13.2" fill="#cc4494" stroke="#333" stroke-width="1"/>
<rect x="2876.7" y="1013.5" width="20.7" height="13.2" fill="#e8601e" stroke="#333" stroke-width="1"/>
<rect x="2921.0" y="1013.5" width="24.9" height="13.2" fill="#5a449a" stroke="#333" stroke-width="1"/>
<rect x="2950.4" y="1013.5" width="24.9" height="13.2" fill="#2150a6" stroke="#333" stroke-width="1"/>
<rect x="2986.7" y="1013.5" width="14.8" height="13.2" fill="#64b42c" stroke="#333" stroke-width="1"/>
<rect x="3001.5" y="1013.5" width="15.9" height="13.2" fill="#6cc8d8" stroke="#333" stroke-width="1"/>
<rect x="3020.6" y="1013.5" width="24.9" height="13.2" fill="#f5b820" stroke="#333" stroke-width="1"/>
<rect x="3049.5" y="1013.5" width="24.6" height="13.2" fill="#6cc08c" stroke="#333" stroke-width="1"/>
<rect x="2701.2" y="1042.3" width="20.4" height="13.2" fill="#62b848" stroke="#333" stroke-width="1"/>
<rect x="2730.6" y="1042.3" width="24.6" height="13.2" fill="#92c42a" stroke="#333" stroke-width="1"/>
<rect x="2755.2" y="1042.3" width="20.7" height="13.2" fill="#e41e1e" stroke="#333" stroke-width="1"/>
<rect x="2775.9" y="1042.3" width="14.6" height="13.2" fill="#d6e03a" stroke="#333" stroke-width="1"/>
<rect x="2827.1" y="1042.3" width="24.9" height="13.2" fill="#cc4494" stroke="#333" stroke-width="1"/>
<rect x="2875.3" y="1042.3" width="20.7" height="13.2" fill="#e8601e" stroke="#333" stroke-width="1"/>
<rect x="2919.6" y="1042.3" width="24.9" height="13.2" fill="#5a449a" stroke="#333" stroke-width="1"/>
<rect x="2949.0" y="1042.3" width="24.9" height="13.2" fill="#2150a6" stroke="#333" stroke-width="1"/>
<rect x="2985.3" y="1042.3" width="14.8" height="13.2" fill="#64b42c" stroke="#333" stroke-width="1"/>
<rect x="3000.1" y="1042.3" width="15.9" height="13.2" fill="#6cc8d8" stroke="#333" stroke-width="1"/>
<rect x="3019.2" y="1042.3" width="24.9" height="13.2" fill="#f5b820" stroke="#333" stroke-width="1"/>
<rect x="3048.1" y="1042.3" width="24.6" height="13.2" fill="#6cc08c" stroke="#333" stroke-width="1"/>
<rect x="2700.3" y="1071.1" width="20.4" height="13.2" fill="#62b848" stroke="#333" stroke-width="1"/>
<rect x="2729.7" y="1071.1" width="24.6" height="13.2" fill="#92c42a" stroke="#333" stroke-width="1"/>
<rect x="2754.3" y="1071.1" width="20.7" height="13.2" fill="#e41e1e" stroke="#333" stroke-width="1"/>
<rect x="2775.0" y="1071.1" width="14.6" height="13.2" fill="#d6e03a" stroke="#333" stroke-width="1"/>
<rect x="2826.2" y="1071.1" width="24.9" height="13.2" fill="#cc4494" stroke="#333" stroke-width="1"/>
<rect x="2874.4" y="1071.1" width="20.7" height="13.2" fill="#e8601e" stroke="#333" stroke-width="1"/>
<rect x="2918.7" y="1071.1" width="24.9" height="13.2" fill="#5a449a" stroke="#333" stroke-width="1"/>
<rect x="2948.1" y="1071.1" width="24.9" height="13.2" fill="#2150a6" stroke="#333" stroke-width="1"/>
<rect x="2984.4" y="1071.1" width="14.8" height="13.2" fill="#64b42c" stroke="#333" stroke-width="1"/>
<rect x="2999.2" y="1071.1" width="15.9" height="13.2" fill="#6cc8d8" stroke="#333" stroke-width="1"/>
<rect x="3018.3" y="1071.1" width="24.9" height="13.2" fill="#f5b820" stroke="#333" stroke-width="1"/>
<rect x="3047.2" y="1071.1" width="24.6" height="13.2" fill="#6cc08c" stroke="#333" stroke-width="1"/>
<rect x="2680.1" y="1099.9" width="20.4" height="13.2" fill="#62b848" stroke="#333" stroke-width="1"/>
<rect x="2709.5" y="1099.9" width="24.6" height="13.2" fill="#92c42a" stroke="#333" stroke-width="1"/>
<rect x="2734.1" y="1099.9" width="20.7" height="13.2" fill="#e41e1e" stroke="#333" stroke-width="1"/>
<rect x="2754.8" y="1099.9" width="14.6" height="13.2" fill="#d6e03a" stroke="#333" stroke-width="1"/>
<rect x="2806.0" y="1099.9" width="24.9" height="13.2" fill="#cc4494" stroke="#333" stroke-width="1"/>
<rect x="2854.2" y="1099.9" width="20.7" height="13.2" fill="#e8601e" stroke="#333" stroke-width="1"/>
<rect x="2898.5" y="1099.9" width="24.9" height="13.2" fill="#5a449a" stroke="#333" stroke-width="1"/>
<rect x="2927.9" y="1099.9" width="24.9" height="13.2" fill="#2150a6" stroke="#333" stroke-width="1"/>
<rect x="2964.2" y="1099.9" width="14.8" height="13.2" fill="#64b42c" stroke="#333" stroke-width="1"/>
<rect x="2979.0" y="1099.9" width="15.9" height="13.2" fill="#6cc8d8" stroke="#333" stroke-width="1"/>
<rect x="2998.1" y="1099.9" width="24.9" height="13.2" fill="#f5b820" stroke="#333" stroke-width="1"/>
<rect x="3027.0" y="1099.9" width="24.6" height="13.2" fill="#6cc08c" stroke="#333" stroke-width="1"/>
<rect x="2700.3" y="1128.7" width="20.4" height="13.2" fill="#62b848" stroke="#333" stroke-width="1"/>
<rect x="2729.7" y="1128.7" width="24.6" height="13.2" fill="#92c42a" stroke="#333" stroke-width="1"/>
<rect x="2754.3" y="1128.7" width="20.7" height="13.2" fill="#e41e1e" stroke="#333" stroke-width="1"/>
<rect x="2775.0" y="1128.7" width="14.6" height="13.2" fill="#d6e03a" stroke="#333" stroke-width="1"/>
<rect x="2826.2" y="1128.7" width="24.9" height="13.2" fill="#cc4494" stroke="#333" stroke-width="1"/>
<rect x="2874.4" y="1128.7" width="20.7" height="13.2" fill="#e8601e" stroke="#333" stroke-width="1"/>
<rect x="2918.7" y="1128.7" width="24.9" height="13.2" fill="#5a449a" stroke="#333" stroke-width="1"/>
<rect x="2948.1" y="1128.7" width="24.9" height="13.2" fill="#2150a6" stroke="#333" stroke-width="1"/>
<rect x="2984.4" y="1128.7" width="14.8" height="13.2" fill="#64b42c" stroke="#333" stroke-width="1"/>
<rect x="2999.2" y="1128.7" width="15.9" height="13.2" fill="#6cc8d8" stroke="#333" stroke-width="1"/>
<rect x="3018.3" y="1128.7" width="24.9" height="13.2" fill="#f5b820" stroke="#333" stroke-width="1"/>
<rect x="3047.2" y="1128.7" width="24.6" height="13.2" fill="#6cc08c" stroke="#333" stroke-width="1"/>
<rect x="2701.2" y="1157.5" width="20.4" height="13.2" fill="#62b848" stroke="#333" stroke-width="1"/>
<rect x="2730.6" y="1157.5" width="24.6" height="13.2" fill="#92c42a" stroke="#333" stroke-width="1"/>
<rect x="2755.2" y="1157.5" width="20.7" height="13.2" fill="#e41e1e" stroke="#333" stroke-width="1"/>
<rect x="2775.9" y="1157.5" width="14.6" height="13.2" fill="#d6e03a" stroke="#333" stroke-width="1"/>
<rect x="2827.1" y="1157.5" width="24.9" height="13.2" fill="#cc4494" stroke="#333" stroke-width="1"/>
<rect x="2875.3" y="1157.5" width="20.7" height="13.2" fill="#e8601e" stroke="#333" stroke-width="1"/>
<rect x="2919.6" y="1157.5" width="24.9" height="13.2" fill="#5a449a" stroke="#333" stroke-width="1"/>
<rect x="2949.0" y="1157.5" width="24.9" height="13.2" fill="#2150a6" stroke="#333" stroke-width="1"/>
<rect x="2985.3" y="1157.5" width="14.8" height="13.2" fill="#64b42c" stroke="#333" stroke-width="1"/>
<rect x="3000.1" y="1157.5" width="15.9" height="13.2" fill="#6cc8d8" stroke="#333" stroke-width="1"/>
<rect x="3019.2" y="1157.5" width="24.9" height="13.2" fill="#f5b820" stroke="#333" stroke-width="1"/>
<rect x="3048.1" y="1157.5" width="24.6" height="13.2" fill="#6cc08c" stroke="#333" stroke-width="1"/>
<rect x="2705.5" y="1186.3" width="20.4" height="13.2" fill="#62b848" stroke="#333" stroke-width="1"/>
<rect x="2734.9" y="1186.3" width="24.6" height="13.2" fill="#92c42a" stroke="#333" stroke-width="1"/>
<rect x="2759.5" y="1186.3" width="20.7" height="13.2" fill="#e41e1e" stroke="#333" stroke-width="1"/>
<rect x="2780.2" y="1186.3" width="14.6" height="13.2" fill="#d6e03a" stroke="#333" stroke-width="1"/>
<rect x="2831.4" y="1186.3" width="24.9" height="13.2" fill="#cc4494" stroke="#333" stroke-width="1"/>
<rect x="2879.6" y="1186.3" width="20.7" height="13.2" fill="#e8601e" stroke="#333" stroke-width="1"/>
<rect x="2923.9" y="1186.3" width="24.9" height="13.2" fill="#5a449a" stroke="#333" stroke-width="1"/>
<rect x="2953.3" y="1186.3" width="24.9" height="13.2" fill="#2150a6" stroke="#333" stroke-width="1"/>
<rect x="2989.6" y="1186.3" width="14.8" height="13.2" fill="#64b42c" stroke="#333" stroke-width="1"/>
<rect x="3004.4" y="1186.3" width="15.9" height="13.2" fill="#6cc8d8" stroke="#333" stroke-width="1"/>
<rect x="3023.5" y="1186.3" width="24.9" height="13.2" fill="#f5b820" stroke="#333" stroke-width="1"/>
<rect x="3052.4" y="1186.3" width="24.6" height="13.2" fill="#6cc08c" stroke="#333" stroke-width="1"/>
<rect x="2700.2" y="1215.1" width="20.4" height="13.2" fill="#62b848" stroke="#333" stroke-width="1"/>
<rect x="2729.6" y="1215.1" width="24.6" height="13.2" fill="#92c42a" stroke="#333" stroke-width="1"/>
<rect x="2754.2" y="1215.1" width="20.7" height="13.2" fill="#e41e1e" stroke="#333" stroke-width="1"/>
<rect x="2774.9" y="1215.1" width="14.6" height="13.2" fill="#d6e03a" stroke="#333" stroke-width="1"/>
<rect x="2826.1" y="1215.1" width="24.9" height="13.2" fill="#cc4494" stroke="#333" stroke-width="1"/>
<rect x="2874.3" y="1215.1" width="20.7" height="13.2" fill="#e8601e" stroke="#333" stroke-width="1"/>
<rect x="2918.6" y="1215.1" width="24.9" height="13.2" fill="#5a449a" stroke="#333" stroke-width="1"/>
<rect x="2948.0" y="1215.1" width="24.9" height="13.2" fill="#2150a6" stroke="#333" stroke-width="1"/>
<rect x="2984.3" y="1215.1" width="14.8" height="13.2" fill="#64b42c" stroke="#333" stroke-width="1"/>
<rect x="2999.1" y="1215.1" width="15.9" height="13.2" fill="#6cc8d8" stroke="#333" stroke-width="1"/>
<rect x="3018.2" y="1215.1" width="24.9" height="13.2" fill="#f5b820" stroke="#333" stroke-width="1"/>
<rect x="3047.1" y="1215.1" width="24.6" height="13.2" fill="#6cc08c" stroke="#333" stroke-width="1"/>
<rect x="2700.2" y="1243.9" width="20.4" height="13.2" fill="#62b848" stroke="#333" stroke-width="1"/>
<rect x="2729.6" y="1243.9" width="24.6" height="13.2" fill="#92c42a" stroke="#333" stroke-width="1"/>
<rect x="2754.2" y="1243.9" width="20.7" height="13.2" fill="#e41e1e" stroke="#333" stroke-width="1"/>
<rect x="2774.9" y="1243.9" width="14.6" height="13.2" fill="#d6e03a" stroke="#333" stroke-width="1"/>
<rect x="2826.1" y="1243.9" width="24.9" height="13.2" fill="#cc4494" stroke="#333" stroke-width="1"/>
<rect x="2874.3" y="1243.9" width="20.7" height="13.2" fill="#e8601e" stroke="#333" stroke-width="1"/>
<rect x="2918.6" y="1243.9" width="24.9" height="13.2" fill="#5a449a" stroke="#333" stroke-width="1"/>
<rect x="2948.0" y="1243.9" width="24.9" height="13.2" fill="#2150a6" stroke="#333" stroke-width="1"/>
<rect x="2984.3" y="1243.9" width="14.8" height="13.2" fill="#64b42c" stroke="#333" stroke-width="1"/>
<rect x="2999.1" y="1243.9" width="15.9" height="13.2" fill="#6cc8d8" stroke="#333" stroke-width="1"/>
<rect x="3018.2" y="1243.9" width="24.9" height="13.2" fill="#f5b820" stroke="#333" stroke-width="1"/>
<rect x="3047.1" y="1243.9" width="24.6" height="13.2" fill="#6cc08c" stroke="#333" stroke-width="1"/>
<rect x="2700.7" y="1272.7" width="20.4" height="13.2" fill="#62b848" stroke="#333" stroke-width="1"/>
<rect x="2730.1" y="1272.7" width="24.6" height="13.2" fill="#92c42a" stroke="#333" stroke-width="1"/>
<rect x="2754.7" y="1272.7" width="20.7" height="13.2" fill="#e41e1e" stroke="#333" stroke-width="1"/>
<rect x="2775.4" y="1272.7" width="14.6" height="13.2" fill="#d6e03a" stroke="#333" stroke-width="1"/>
<rect x="2826.6" y="1272.7" width="24.9" height="13.2" fill="#cc4494" stroke="#333" stroke-width="1"/>
<rect x="2874.8" y="1272.7" width="20.7" height="13.2" fill="#e8601e" stroke="#333" stroke-width="1"/>
<rect x="2919.1" y="1272.7" width="24.9" height="13.2" fill="#5a449a" stroke="#333" stroke-width="1"/>
<rect x="2948.5" y="1272.7" width="24.9" height="13.2" fill="#2150a6" stroke="#333" stroke-width="1"/>
<rect x="2984.8" y="1272.7" width="14.8" height="13.2" fill="#64b42c" stroke="#333" stroke-width="1"/>
<rect x="2999.6" y="1272.7" width="15.9" height="13.2" fill="#6cc8d8" stroke="#333" stroke-width="1"/>
<rect x="3018.7" y="1272.7" width="24.9" height="13.2" fill="#f5b820" stroke="#333" stroke-width="1"/>
<rect x="3047.6" y="1272.7" width="24.6" height="13.2" fill="#6cc08c" stroke="#333" stroke-width="1"/>
<rect x="2634.5" y="1308.1" width="25.1" height="13.2" fill="#5a449a" stroke="#333" stroke-width="1"/>
<rect x="2700.7" y="1330.3" width="20.4" height="13.2" fill="#62b848" stroke="#333" stroke-width="1"/>
<rect x="2730.1" y="1330.3" width="24.6" height="13.2" fill="#92c42a" stroke="#333" stroke-width="1"/>
<rect x="2754.7" y="1330.3" width="20.7" height="13.2" fill="#e41e1e" stroke="#333" stroke-width="1"/>
<rect x="2775.4" y="1330.3" width="14.6" height="13.2" fill="#d6e03a" stroke="#333" stroke-width="1"/>
<rect x="2826.6" y="1330.3" width="24.9" height="13.2" fill="#cc4494" stroke="#333" stroke-width="1"/>
<rect x="2874.8" y="1330.3" width="20.7" height="13.2" fill="#e8601e" stroke="#333" stroke-width="1"/>
<rect x="2919.1" y="1330.3" width="24.9" height="13.2" fill="#5a449a" stroke="#333" stroke-width="1"/>
<rect x="2948.5" y="1330.3" width="24.9" height="13.2" fill="#2150a6" stroke="#333" stroke-width="1"/>
<rect x="2984.8" y="1330.3" width="14.8" height="13.2" fill="#64b42c" stroke="#333" stroke-width="1"/>
<rect x="2999.6" y="1330.3" width="15.9" height="13.2" fill="#6cc8d8" stroke="#333" stroke-width="1"/>
<rect x="3018.7" y="1330.3" width="24.9" height="13.2" fill="#f5b820" stroke="#333" stroke-width="1"/>
<rect x="3047.6" y="1330.3" width="24.6" height="13.2" fill="#6cc08c" stroke="#333" stroke-width="1"/>
<rect x="2701.2" y="1359.1" width="20.4" height="13.2" fill="#62b848" stroke="#333" stroke-width="1"/>
<rect x="2730.6" y="1359.1" width="24.6" height="13.2" fill="#92c42a" stroke="#333" stroke-width="1"/>
<rect x="2755.2" y="1359.1" width="20.7" height="13.2" fill="#e41e1e" stroke="#333" stroke-width="1"/>
<rect x="2775.9" y="1359.1" width="14.6" height="13.2" fill="#d6e03a" stroke="#333" stroke-width="1"/>
<rect x="2827.1" y="1359.1" width="24.9" height="13.2" fill="#cc4494" stroke="#333" stroke-width="1"/>
<rect x="2875.3" y="1359.1" width="20.7" height="13.2" fill="#e8601e" stroke="#333" stroke-width="1"/>
<rect x="2919.6" y="1359.1" width="24.9" height="13.2" fill="#5a449a" stroke="#333" stroke-width="1"/>
<rect x="2949.0" y="1359.1" width="24.9" height="13.2" fill="#2150a6" stroke="#333" stroke-width="1"/>
<rect x="2985.3" y="1359.1" width="14.8" height="13.2" fill="#64b42c" stroke="#333" stroke-width="1"/>
<rect x="3000.1" y="1359.1" width="15.9" height="13.2" fill="#6cc8d8" stroke="#333" stroke-width="1"/>
<rect x="3019.2" y="1359.1" width="24.9" height="13.2" fill="#f5b820" stroke="#333" stroke-width="1"/>
<rect x="3048.1" y="1359.1" width="24.6" height="13.2" fill="#6cc08c" stroke="#333" stroke-width="1"/>
<rect x="2701.2" y="1387.9" width="20.4" height="13.2" fill="#62b848" stroke="#333" stroke-width="1"/>
<rect x="2730.6" y="1387.9" width="24.6" height="13.2" fill="#92c42a" stroke="#333" stroke-width="1"/>
<rect x="2755.2" y="1387.9" width="20.7" height="13.2" fill="#e41e1e" stroke="#333" stroke-width="1"/>
<rect x="2775.9" y="1387.9" width="14.6" height="13.2" fill="#d6e03a" stroke="#333" stroke-width="1"/>
<rect x="2827.1" y="1387.9" width="24.9" height="13.2" fill="#cc4494" stroke="#333" stroke-width="1"/>
<rect x="2875.3" y="1387.9" width="20.7" height="13.2" fill="#e8601e" stroke="#333" stroke-width="1"/>
<rect x="2919.6" y="1387.9" width="24.9" height="13.2" fill="#5a449a" stroke="#333" stroke-width="1"/>
<rect x="2949.0" y="1387.9" width="24.9" height="13.2" fill="#2150a6" stroke="#333" stroke-width="1"/>
<rect x="2985.3" y="1387.9" width="14.8" height="13.2" fill="#64b42c" stroke="#333" stroke-width="1"/>
<rect x="3000.1" y="1387.9" width="15.9" height="13.2" fill="#6cc8d8" stroke="#333" stroke-width="1"/>
<rect x="3019.2" y="1387.9" width="24.9" height="13.2" fill="#f5b820" stroke="#333" stroke-width="1"/>
<rect x="3048.1" y="1387.9" width="24.6" height="13.2" fill="#6cc08c" stroke="#333" stroke-width="1"/>
<rect x="2700.7" y="1416.7" width="20.4" height="13.2" fill="#62b848" stroke="#333" stroke-width="1"/>
<rect x="2730.1" y="1416.7" width="24.6" height="13.2" fill="#92c42a" stroke="#333" stroke-width="1"/>
<rect x="2754.7" y="1416.7" width="20.7" height="13.2" fill="#e41e1e" stroke="#333" stroke-width="1"/>
<rect x="2775.4" y="1416.7" width="14.6" height="13.2" fill="#d6e03a" stroke="#333" stroke-width="1"/>
<rect x="2826.6" y="1416.7" width="24.9" height="13.2" fill="#cc4494" stroke="#333" stroke-width="1"/>
<rect x="2874.8" y="1416.7" width="20.7" height="13.2" fill="#e8601e" stroke="#333" stroke-width="1"/>
<rect x="2919.1" y="1416.7" width="24.9" height="13.2" fill="#5a449a" stroke="#333" stroke-width="1"/>
<rect x="2948.5" y="1416.7" width="24.9" height="13.2" fill="#2150a6" stroke="#333" stroke-width="1"/>
<rect x="2984.8" y="1416.7" width="14.8" height="13.2" fill="#64b42c" stroke="#333" stroke-width="1"/>
<rect x="2999.6" y="1416.7" width="15.9" height="13.2" fill="#6cc8d8" stroke="#333" stroke-width="1"/>
<rect x="3018.7" y="1416.7" width="24.9" height="13.2" fill="#f5b820" stroke="#333" stroke-width="1"/>
<rect x="3047.6" y="1416.7" width="24.6" height="13.2" fill="#6cc08c" stroke="#333" stroke-width="1"/>
<rect x="2700.7" y="1445.5" width="20.4" height="13.2" fill="#62b848" stroke="#333" stroke-width="1"/>
<rect x="2730.1" y="1445.5" width="24.6" height="13.2" fill="#92c42a" stroke="#333" stroke-width="1"/>
<rect x="2754.7" y="1445.5" width="20.7" height="13.2" fill="#e41e1e" stroke="#333" stroke-width="1"/>
<rect x="2775.4" y="1445.5" width="14.6" height="13.2" fill="#d6e03a" stroke="#333" stroke-width="1"/>
<rect x="2826.6" y="1445.5" width="24.9" height="13.2" fill="#cc4494" stroke="#333" stroke-width="1"/>
<rect x="2874.8" y="1445.5" width="20.7" height="13.2" fill="#e8601e" stroke="#333" stroke-width="1"/>
<rect x="2919.1" y="1445.5" width="24.9" height="13.2" fill="#5a449a" stroke="#333" stroke-width="1"/>
<rect x="2948.5" y="1445.5" width="24.9" height="13.2" fill="#2150a6" stroke="#333" stroke-width="1"/>
<rect x="2984.8" y="1445.5" width="14.8" height="13.2" fill="#64b42c" stroke="#333" stroke-width="1"/>
<rect x="2999.6" y="1445.5" width="15.9" height="13.2" fill="#6cc8d8" stroke="#333" stroke-width="1"/>
<rect x="3018.7" y="1445.5" width="24.9" height="13.2" fill="#f5b820" stroke="#333" stroke-width="1"/>
<rect x="3047.6" y="1445.5" width="24.6" height="13.2" fill="#6cc08c" stroke="#333" stroke-width="1"/>
<rect x="2700.7" y="1474.3" width="20.4" height="13.2" fill="#62b848" stroke="#333" stroke-width="1"/>
<rect x="2730.1" y="1474.3" width="24.6" height="13.2" fill="#92c42a" stroke="#333" stroke-width="1"/>
<rect x="2754.7" y="1474.3" width="20.7" height="13.2" fill="#e41e1e" stroke="#333" stroke-width="1"/>
<rect x="2775.4" y="1474.3" width="14.6" height="13.2" fill="#d6e03a" stroke="#333" stroke-width="1"/>
<rect x="2826.6" y="1474.3" width="24.9" height="13.2" fill="#cc4494" stroke="#333" stroke-width="1"/>
<rect x="2874.8" y="1474.3" width="20.7" height="13.2" fill="#e8601e" stroke="#333" stroke-width="1"/>
<rect x="2919.1" y="1474.3" width="24.9" height="13.2" fill="#5a449a" stroke="#333" stroke-width="1"/>
<rect x="2948.5" y="1474.3" width="24.9" height="13.2" fill="#2150a6" stroke="#333" stroke-width="1"/>
<rect x="2984.8" y="1474.3" width="14.8" height="13.2" fill="#64b42c" stroke="#333" stroke-width="1"/>
<rect x="2999.6" y="1474.3" width="15.9" height="13.2" fill="#6cc8d8" stroke="#333" stroke-width="1"/>
<rect x="3018.7" y="1474.3" width="24.9" height="13.2" fill="#f5b820" stroke="#333" stroke-width="1"/>
<rect x="3047.6" y="1474.3" width="24.6" height="13.2" fill="#6cc08c" stroke="#333" stroke-width="1"/>
<rect x="2701.2" y="1503.1" width="20.4" height="13.2" fill="#62b848" stroke="#333" stroke-width="1"/>
<rect x="2730.6" y="1503.1" width="24.6" height="13.2" fill="#92c42a" stroke="#333" stroke-width="1"/>
<rect x="2755.2" y="1503.1" width="20.7" height="13.2" fill="#e41e1e" stroke="#333" stroke-width="1"/>
<rect x="2775.9" y="1503.1" width="14.6" height="13.2" fill="#d6e03a" stroke="#333" stroke-width="1"/>
<rect x="2827.1" y="1503.1" width="24.9" height="13.2" fill="#cc4494" stroke="#333" stroke-width="1"/>
<rect x="2875.3" y="1503.1" width="20.7" height="13.2" fill="#e8601e" stroke="#333" stroke-width="1"/>
<rect x="2919.6" y="1503.1" width="24.9" height="13.2" fill="#5a449a" stroke="#333" stroke-width="1"/>
<rect x="2949.0" y="1503.1" width="24.9" height="13.2" fill="#2150a6" stroke="#333" stroke-width="1"/>
<rect x="2985.3" y="1503.1" width="14.8" height="13.2" fill="#64b42c" stroke="#333" stroke-width="1"/>
<rect x="3000.1" y="1503.1" width="15.9" height="13.2" fill="#6cc8d8" stroke="#333" stroke-width="1"/>
<rect x="3019.2" y="1503.1" width="24.9" height="13.2" fill="#f5b820" stroke="#333" stroke-width="1"/>
<rect x="3048.1" y="1503.1" width="24.6" height="13.2" fill="#6cc08c" stroke="#333" stroke-width="1"/>
<rect x="2701.0" y="1531.9" width="20.4" height="13.2" fill="#62b848" stroke="#333" stroke-width="1"/>
<rect x="2730.4" y="1531.9" width="24.6" height="13.2" fill="#92c42a" stroke="#333" stroke-width="1"/>
<rect x="2755.0" y="1531.9" width="20.7" height="13.2" fill="#e41e1e" stroke="#333" stroke-width="1"/>
<rect x="2775.7" y="1531.9" width="14.6" height="13.2" fill="#d6e03a" stroke="#333" stroke-width="1"/>
<rect x="2826.9" y="1531.9" width="24.9" height="13.2" fill="#cc4494" stroke="#333" stroke-width="1"/>
<rect x="2875.1" y="1531.9" width="20.7" height="13.2" fill="#e8601e" stroke="#333" stroke-width="1"/>
<rect x="2919.4" y="1531.9" width="24.9" height="13.2" fill="#5a449a" stroke="#333" stroke-width="1"/>
<rect x="2948.8" y="1531.9" width="24.9" height="13.2" fill="#2150a6" stroke="#333" stroke-width="1"/>
<rect x="2985.1" y="1531.9" width="14.8" height="13.2" fill="#64b42c" stroke="#333" stroke-width="1"/>
<rect x="2999.9" y="1531.9" width="15.9" height="13.2" fill="#6cc8d8" stroke="#333" stroke-width="1"/>
<rect x="3019.0" y="1531.9" width="24.9" height="13.2" fill="#f5b820" stroke="#333" stroke-width="1"/>
<rect x="3047.9" y="1531.9" width="24.6" height="13.2" fill="#6cc08c" stroke="#333" stroke-width="1"/>
<rect x="2701.0" y="1560.7" width="20.4" height="13.2" fill="#62b848" stroke="#333" stroke-width="1"/>
<rect x="2730.4" y="1560.7" width="24.6" height="13.2" fill="#92c42a" stroke="#333" stroke-width="1"/>
<rect x="2755.0" y="1560.7" width="20.7" height="13.2" fill="#e41e1e" stroke="#333" stroke-width="1"/>
<rect x="2775.7" y="1560.7" width="14.6" height="13.2" fill="#d6e03a" stroke="#333" stroke-width="1"/>
<rect x="2822.3" y="1560.7" width="14.8" height="13.2" fill="#64b42c" stroke="#333" stroke-width="1"/>
<rect x="2837.1" y="1560.7" width="15.9" height="13.2" fill="#6cc8d8" stroke="#333" stroke-width="1"/>
<rect x="2856.2" y="1560.7" width="24.9" height="13.2" fill="#f5b820" stroke="#333" stroke-width="1"/>
<rect x="2885.1" y="1560.7" width="24.6" height="13.2" fill="#6cc08c" stroke="#333" stroke-width="1"/>
<rect x="2701.0" y="1589.5" width="20.4" height="13.2" fill="#62b848" stroke="#333" stroke-width="1"/>
<rect x="2730.4" y="1589.5" width="24.6" height="13.2" fill="#92c42a" stroke="#333" stroke-width="1"/>
<rect x="2755.0" y="1589.5" width="20.7" height="13.2" fill="#e41e1e" stroke="#333" stroke-width="1"/>
<rect x="2775.7" y="1589.5" width="14.6" height="13.2" fill="#d6e03a" stroke="#333" stroke-width="1"/>
<rect x="2826.9" y="1589.5" width="24.9" height="13.2" fill="#cc4494" stroke="#333" stroke-width="1"/>
<rect x="2875.1" y="1589.5" width="20.7" height="13.2" fill="#e8601e" stroke="#333" stroke-width="1"/>
<rect x="2919.4" y="1589.5" width="24.9" height="13.2" fill="#5a449a" stroke="#333" stroke-width="1"/>
<rect x="2662.6" y="1618.3" width="20.7" height="13.2" fill="#e8601e" stroke="#333" stroke-width="1"/>
<rect x="2706.9" y="1618.3" width="24.9" height="13.2" fill="#5a449a" stroke="#333" stroke-width="1"/>
<rect x="2736.3" y="1618.3" width="24.9" height="13.2" fill="#2150a6" stroke="#333" stroke-width="1"/>
<rect x="2772.6" y="1618.3" width="14.8" height="13.2" fill="#64b42c" stroke="#333" stroke-width="1"/>
<rect x="2787.4" y="1618.3" width="15.9" height="13.2" fill="#6cc8d8" stroke="#333" stroke-width="1"/>
<rect x="2806.5" y="1618.3" width="24.9" height="13.2" fill="#f5b820" stroke="#333" stroke-width="1"/>
<rect x="2835.4" y="1618.3" width="24.6" height="13.2" fill="#6cc08c" stroke="#333" stroke-width="1"/>
<rect x="2689.3" y="1647.1" width="20.4" height="13.2" fill="#62b848" stroke="#333" stroke-width="1"/>
<rect x="2718.7" y="1647.1" width="24.6" height="13.2" fill="#92c42a" stroke="#333" stroke-width="1"/>
<rect x="2743.3" y="1647.1" width="20.7" height="13.2" fill="#e41e1e" stroke="#333" stroke-width="1"/>
<rect x="2764.0" y="1647.1" width="14.6" height="13.2" fill="#d6e03a" stroke="#333" stroke-width="1"/>
<rect x="2689.3" y="1675.9" width="20.4" height="13.2" fill="#62b848" stroke="#333" stroke-width="1"/>
<rect x="2718.7" y="1675.9" width="24.6" height="13.2" fill="#92c42a" stroke="#333" stroke-width="1"/>
<rect x="2743.3" y="1675.9" width="20.7" height="13.2" fill="#e41e1e" stroke="#333" stroke-width="1"/>
<rect x="2764.0" y="1675.9" width="14.6" height="13.2" fill="#d6e03a" stroke="#333" stroke-width="1"/>
<rect x="2815.2" y="1675.9" width="24.9" height="13.2" fill="#cc4494" stroke="#333" stroke-width="1"/>
<rect x="2863.4" y="1675.9" width="20.7" height="13.2" fill="#e8601e" stroke="#333" stroke-width="1"/>
<rect x="2907.7" y="1675.9" width="24.9" height="13.2" fill="#5a449a" stroke="#333" stroke-width="1"/>
<rect x="2937.1" y="1675.9" width="24.9" height="13.2" fill="#2150a6" stroke="#333" stroke-width="1"/>
<rect x="2973.4" y="1675.9" width="14.8" height="13.2" fill="#64b42c" stroke="#333" stroke-width="1"/>
<rect x="2988.2" y="1675.9" width="15.9" height="13.2" fill="#6cc8d8" stroke="#333" stroke-width="1"/>
<rect x="3007.3" y="1675.9" width="24.9" height="13.2" fill="#f5b820" stroke="#333" stroke-width="1"/>
<rect x="2689.3" y="1704.7" width="20.4" height="13.2" fill="#62b848" stroke="#333" stroke-width="1"/>
<rect x="2718.7" y="1704.7" width="24.6" height="13.2" fill="#92c42a" stroke="#333" stroke-width="1"/>
<rect x="2743.3" y="1704.7" width="20.7" height="13.2" fill="#e41e1e" stroke="#333" stroke-width="1"/>
<rect x="2764.0" y="1704.7" width="14.6" height="13.2" fill="#d6e03a" stroke="#333" stroke-width="1"/>
<rect x="2810.6" y="1704.7" width="14.8" height="13.2" fill="#64b42c" stroke="#333" stroke-width="1"/>
<rect x="2825.4" y="1704.7" width="15.9" height="13.2" fill="#6cc8d8" stroke="#333" stroke-width="1"/>
<rect x="2844.5" y="1704.7" width="24.9" height="13.2" fill="#f5b820" stroke="#333" stroke-width="1"/>
<rect x="2873.4" y="1704.7" width="24.6" height="13.2" fill="#6cc08c" stroke="#333" stroke-width="1"/>
<rect x="2689.3" y="1733.5" width="20.4" height="13.2" fill="#62b848" stroke="#333" stroke-width="1"/>
<rect x="2718.7" y="1733.5" width="24.6" height="13.2" fill="#92c42a" stroke="#333" stroke-width="1"/>
<rect x="2743.3" y="1733.5" width="20.7" height="13.2" fill="#e41e1e" stroke="#333" stroke-width="1"/>
<rect x="2764.0" y="1733.5" width="14.6" height="13.2" fill="#d6e03a" stroke="#333" stroke-width="1"/>
<rect x="2810.6" y="1733.5" width="14.8" height="13.2" fill="#64b42c" stroke="#333" stroke-width="1"/>
<rect x="2825.4" y="1733.5" width="15.9" height="13.2" fill="#6cc8d8" stroke="#333" stroke-width="1"/>
<rect x="2844.5" y="1733.5" width="24.9" height="13.2" fill="#f5b820" stroke="#333" stroke-width="1"/>
<rect x="2873.4" y="1733.5" width="24.6" height="13.2" fill="#6cc08c" stroke="#333" stroke-width="1"/>
<rect x="2676.2" y="1762.3" width="24.9" height="13.2" fill="#cc4494" stroke="#333" stroke-width="1"/>
<rect x="2724.4" y="1762.3" width="20.7" height="13.2" fill="#e8601e" stroke="#333" stroke-width="1"/>
<rect x="2768.7" y="1762.3" width="24.9" height="13.2" fill="#5a449a" stroke="#333" stroke-width="1"/>
<rect x="2798.1" y="1762.3" width="24.9" height="13.2" fill="#2150a6" stroke="#333" stroke-width="1"/>
<rect x="2834.4" y="1762.3" width="14.8" height="13.2" fill="#64b42c" stroke="#333" stroke-width="1"/>
<rect x="2849.2" y="1762.3" width="15.9" height="13.2" fill="#6cc8d8" stroke="#333" stroke-width="1"/>
<rect x="2868.3" y="1762.3" width="24.9" height="13.2" fill="#f5b820" stroke="#333" stroke-width="1"/>
<rect x="2897.2" y="1762.3" width="24.6" height="13.2" fill="#6cc08c" stroke="#333" stroke-width="1"/>
<rect x="2694.3" y="1791.1" width="20.4" height="13.2" fill="#62b848" stroke="#333" stroke-width="1"/>
<rect x="2723.7" y="1791.1" width="24.6" height="13.2" fill="#92c42a" stroke="#333" stroke-width="1"/>
<rect x="2689.8" y="1819.9" width="20.4" height="13.2" fill="#62b848" stroke="#333" stroke-width="1"/>
<rect x="2719.2" y="1819.9" width="24.6" height="13.2" fill="#92c42a" stroke="#333" stroke-width="1"/>
<rect x="2743.8" y="1819.9" width="20.7" height="13.2" fill="#e41e1e" stroke="#333" stroke-width="1"/>
<rect x="2764.5" y="1819.9" width="14.6" height="13.2" fill="#d6e03a" stroke="#333" stroke-width="1"/>
<rect x="2815.7" y="1819.9" width="24.9" height="13.2" fill="#cc4494" stroke="#333" stroke-width="1"/>
<rect x="2863.9" y="1819.9" width="20.7" height="13.2" fill="#e8601e" stroke="#333" stroke-width="1"/>
<rect x="2908.2" y="1819.9" width="24.9" height="13.2" fill="#5a449a" stroke="#333" stroke-width="1"/>
<rect x="2937.6" y="1819.9" width="24.9" height="13.2" fill="#2150a6" stroke="#333" stroke-width="1"/>
<rect x="2973.9" y="1819.9" width="14.8" height="13.2" fill="#64b42c" stroke="#333" stroke-width="1"/>
<rect x="2988.7" y="1819.9" width="15.9" height="13.2" fill="#6cc8d8" stroke="#333" stroke-width="1"/>
<rect x="3007.8" y="1819.9" width="24.9" height="13.2" fill="#f5b820" stroke="#333" stroke-width="1"/>
<rect x="3036.7" y="1819.9" width="24.6" height="13.2" fill="#6cc08c" stroke="#333" stroke-width="1"/>
<rect x="2689.8" y="1848.7" width="20.4" height="13.2" fill="#62b848" stroke="#333" stroke-width="1"/>
<rect x="2719.2" y="1848.7" width="24.6" height="13.2" fill="#92c42a" stroke="#333" stroke-width="1"/>
<rect x="2743.8" y="1848.7" width="20.7" height="13.2" fill="#e41e1e" stroke="#333" stroke-width="1"/>
<rect x="2764.5" y="1848.7" width="14.6" height="13.2" fill="#d6e03a" stroke="#333" stroke-width="1"/>
<rect x="2785.2" y="1848.7" width="14.8" height="13.2" fill="#64b42c" stroke="#333" stroke-width="1"/>
<rect x="2800.0" y="1848.7" width="15.9" height="13.2" fill="#6cc8d8" stroke="#333" stroke-width="1"/>
<rect x="2819.1" y="1848.7" width="24.9" height="13.2" fill="#f5b820" stroke="#333" stroke-width="1"/>
<rect x="2848.0" y="1848.7" width="24.6" height="13.2" fill="#6cc08c" stroke="#333" stroke-width="1"/>
<rect x="2689.8" y="1877.5" width="20.4" height="13.2" fill="#62b848" stroke="#333" stroke-width="1"/>
<rect x="2719.2" y="1877.5" width="24.6" height="13.2" fill="#92c42a" stroke="#333" stroke-width="1"/>
<rect x="2743.8" y="1877.5" width="20.7" height="13.2" fill="#e41e1e" stroke="#333" stroke-width="1"/>
<rect x="2764.5" y="1877.5" width="14.6" height="13.2" fill="#d6e03a" stroke="#333" stroke-width="1"/>
<rect x="2810.6" y="1877.5" width="14.8" height="13.2" fill="#64b42c" stroke="#333" stroke-width="1"/>
<rect x="2825.4" y="1877.5" width="15.9" height="13.2" fill="#6cc8d8" stroke="#333" stroke-width="1"/>
<rect x="2844.5" y="1877.5" width="24.9" height="13.2" fill="#f5b820" stroke="#333" stroke-width="1"/>
<rect x="2873.4" y="1877.5" width="24.6" height="13.2" fill="#6cc08c" stroke="#333" stroke-width="1"/>
<rect x="2689.8" y="1906.3" width="20.4" height="13.2" fill="#62b848" stroke="#333" stroke-width="1"/>
<rect x="2719.2" y="1906.3" width="24.6" height="13.2" fill="#92c42a" stroke="#333" stroke-width="1"/>
<rect x="2743.8" y="1906.3" width="20.7" height="13.2" fill="#e41e1e" stroke="#333" stroke-width="1"/>
<rect x="2764.5" y="1906.3" width="14.6" height="13.2" fill="#d6e03a" stroke="#333" stroke-width="1"/>
<rect x="2793.9" y="1906.3" width="14.8" height="13.2" fill="#64b42c" stroke="#333" stroke-width="1"/>
<rect x="2808.7" y="1906.3" width="15.9" height="13.2" fill="#6cc8d8" stroke="#333" stroke-width="1"/>
<rect x="2827.8" y="1906.3" width="24.9" height="13.2" fill="#f5b820" stroke="#333" stroke-width="1"/>
<rect x="2856.7" y="1906.3" width="24.6" height="13.2" fill="#6cc08c" stroke="#333" stroke-width="1"/>
<rect x="2700.4" y="1935.1" width="20.4" height="13.2" fill="#62b848" stroke="#333" stroke-width="1"/>
<rect x="2729.8" y="1935.1" width="24.6" height="13.2" fill="#92c42a" stroke="#333" stroke-width="1"/>
<rect x="2754.4" y="1935.1" width="20.7" height="13.2" fill="#e41e1e" stroke="#333" stroke-width="1"/>
<rect x="2775.1" y="1935.1" width="14.6" height="13.2" fill="#d6e03a" stroke="#333" stroke-width="1"/>
<rect x="2826.3" y="1935.1" width="24.9" height="13.2" fill="#cc4494" stroke="#333" stroke-width="1"/>
<rect x="2874.5" y="1935.1" width="20.7" height="13.2" fill="#e8601e" stroke="#333" stroke-width="1"/>
<rect x="2918.8" y="1935.1" width="24.9" height="13.2" fill="#5a449a" stroke="#333" stroke-width="1"/>
<rect x="2948.2" y="1935.1" width="24.9" height="13.2" fill="#2150a6" stroke="#333" stroke-width="1"/>
<rect x="2984.5" y="1935.1" width="14.8" height="13.2" fill="#64b42c" stroke="#333" stroke-width="1"/>
<rect x="2999.3" y="1935.1" width="15.9" height="13.2" fill="#6cc8d8" stroke="#333" stroke-width="1"/>
<rect x="3018.4" y="1935.1" width="24.9" height="13.2" fill="#f5b820" stroke="#333" stroke-width="1"/>
<rect x="3047.3" y="1935.1" width="24.6" height="13.2" fill="#6cc08c" stroke="#333" stroke-width="1"/>
<rect x="2698.4" y="1963.9" width="20.4" height="13.2" fill="#62b848" stroke="#333" stroke-width="1"/>
<rect x="2727.8" y="1963.9" width="24.6" height="13.2" fill="#92c42a" stroke="#333" stroke-width="1"/>
<rect x="2752.4" y="1963.9" width="20.7" height="13.2" fill="#e41e1e" stroke="#333" stroke-width="1"/>
<rect x="2773.1" y="1963.9" width="14.6" height="13.2" fill="#d6e03a" stroke="#333" stroke-width="1"/>
<rect x="2824.3" y="1963.9" width="24.9" height="13.2" fill="#cc4494" stroke="#333" stroke-width="1"/>
<rect x="2872.5" y="1963.9" width="20.7" height="13.2" fill="#e8601e" stroke="#333" stroke-width="1"/>
<rect x="2916.8" y="1963.9" width="24.9" height="13.2" fill="#5a449a" stroke="#333" stroke-width="1"/>
<rect x="2946.2" y="1963.9" width="24.9" height="13.2" fill="#2150a6" stroke="#333" stroke-width="1"/>
<rect x="2982.5" y="1963.9" width="14.8" height="13.2" fill="#64b42c" stroke="#333" stroke-width="1"/>
<rect x="2997.3" y="1963.9" width="15.9" height="13.2" fill="#6cc8d8" stroke="#333" stroke-width="1"/>
<rect x="3016.4" y="1963.9" width="24.9" height="13.2" fill="#f5b820" stroke="#333" stroke-width="1"/>
<rect x="3045.3" y="1963.9" width="24.6" height="13.2" fill="#6cc08c" stroke="#333" stroke-width="1"/>
<rect x="2702.5" y="1992.7" width="20.4" height="13.2" fill="#62b848" stroke="#333" stroke-width="1"/>
<rect x="2731.9" y="1992.7" width="24.6" height="13.2" fill="#92c42a" stroke="#333" stroke-width="1"/>
<rect x="2756.5" y="1992.7" width="20.7" height="13.2" fill="#e41e1e" stroke="#333" stroke-width="1"/>
<rect x="2777.2" y="1992.7" width="14.6" height="13.2" fill="#d6e03a" stroke="#333" stroke-width="1"/>
<rect x="2828.4" y="1992.7" width="24.9" height="13.2" fill="#cc4494" stroke="#333" stroke-width="1"/>
<rect x="2876.6" y="1992.7" width="20.7" height="13.2" fill="#e8601e" stroke="#333" stroke-width="1"/>
<rect x="2920.9" y="1992.7" width="24.9" height="13.2" fill="#5a449a" stroke="#333" stroke-width="1"/>
<rect x="2950.3" y="1992.7" width="24.9" height="13.2" fill="#2150a6" stroke="#333" stroke-width="1"/>
<rect x="2986.6" y="1992.7" width="14.8" height="13.2" fill="#64b42c" stroke="#333" stroke-width="1"/>
<rect x="3001.4" y="1992.7" width="15.9" height="13.2" fill="#6cc8d8" stroke="#333" stroke-width="1"/>
<rect x="3020.5" y="1992.7" width="24.9" height="13.2" fill="#f5b820" stroke="#333" stroke-width="1"/>
<rect x="3049.4" y="1992.7" width="24.6" height="13.2" fill="#6cc08c" stroke="#333" stroke-width="1"/>
<rect x="2723.0" y="2021.5" width="20.4" height="13.2" fill="#62b848" stroke="#333" stroke-width="1"/>
<rect x="2752.4" y="2021.5" width="24.6" height="13.2" fill="#92c42a" stroke="#333" stroke-width="1"/>
<rect x="2777.0" y="2021.5" width="20.7" height="13.2" fill="#e41e1e" stroke="#333" stroke-width="1"/>
<rect x="2797.7" y="2021.5" width="14.6" height="13.2" fill="#d6e03a" stroke="#333" stroke-width="1"/>
<rect x="2848.9" y="2021.5" width="24.9" height="13.2" fill="#cc4494" stroke="#333" stroke-width="1"/>
<rect x="2897.1" y="2021.5" width="20.7" height="13.2" fill="#e8601e" stroke="#333" stroke-width="1"/>
<rect x="2941.4" y="2021.5" width="24.9" height="13.2" fill="#5a449a" stroke="#333" stroke-width="1"/>
<rect x="2970.8" y="2021.5" width="24.9" height="13.2" fill="#2150a6" stroke="#333" stroke-width="1"/>
<rect x="3007.1" y="2021.5" width="14.8" height="13.2" fill="#64b42c" stroke="#333" stroke-width="1"/>
<rect x="3021.9" y="2021.5" width="15.9" height="13.2" fill="#6cc8d8" stroke="#333" stroke-width="1"/>
<rect x="3041.0" y="2021.5" width="24.9" height="13.2" fill="#f5b820" stroke="#333" stroke-width="1"/>
<rect x="3069.9" y="2021.5" width="24.6" height="13.2" fill="#6cc08c" stroke="#333" stroke-width="1"/>
<rect x="2730.9" y="2050.3" width="20.4" height="13.2" fill="#62b848" stroke="#333" stroke-width="1"/>
<rect x="2760.3" y="2050.3" width="24.6" height="13.2" fill="#92c42a" stroke="#333" stroke-width="1"/>
<rect x="2784.9" y="2050.3" width="20.7" height="13.2" fill="#e41e1e" stroke="#333" stroke-width="1"/>
<rect x="2805.6" y="2050.3" width="14.6" height="13.2" fill="#d6e03a" stroke="#333" stroke-width="1"/>
<rect x="2856.8" y="2050.3" width="24.9" height="13.2" fill="#cc4494" stroke="#333" stroke-width="1"/>
<rect x="2905.0" y="2050.3" width="20.7" height="13.2" fill="#e8601e" stroke="#333" stroke-width="1"/>
<rect x="2949.3" y="2050.3" width="24.9" height="13.2" fill="#5a449a" stroke="#333" stroke-width="1"/>
<rect x="2978.7" y="2050.3" width="24.9" height="13.2" fill="#2150a6" stroke="#333" stroke-width="1"/>
<rect x="3015.0" y="2050.3" width="14.8" height="13.2" fill="#64b42c" stroke="#333" stroke-width="1"/>
<rect x="3029.8" y="2050.3" width="15.9" height="13.2" fill="#6cc8d8" stroke="#333" stroke-width="1"/>
<rect x="3048.9" y="2050.3" width="24.9" height="13.2" fill="#f5b820" stroke="#333" stroke-width="1"/>
<rect x="3077.8" y="2050.3" width="24.6" height="13.2" fill="#6cc08c" stroke="#333" stroke-width="1"/>
<rect x="2691.4" y="2079.1" width="20.4" height="13.2" fill="#62b848" stroke="#333" stroke-width="1"/>
<rect x="2720.8" y="2079.1" width="24.6" height="13.2" fill="#92c42a" stroke="#333" stroke-width="1"/>
<rect x="2745.4" y="2079.1" width="20.7" height="13.2" fill="#e41e1e" stroke="#333" stroke-width="1"/>
<rect x="2766.1" y="2079.1" width="14.6" height="13.2" fill="#d6e03a" stroke="#333" stroke-width="1"/>
<rect x="2872.3" y="2079.1" width="24.9" height="13.2" fill="#cc4494" stroke="#333" stroke-width="1"/>
<rect x="2920.5" y="2079.1" width="20.7" height="13.2" fill="#e8601e" stroke="#333" stroke-width="1"/>
<rect x="2971.8" y="2079.1" width="24.9" height="13.2" fill="#5a449a" stroke="#333" stroke-width="1"/>
<rect x="3001.2" y="2079.1" width="24.9" height="13.2" fill="#2150a6" stroke="#333" stroke-width="1"/>
<rect x="3037.5" y="2079.1" width="14.8" height="13.2" fill="#64b42c" stroke="#333" stroke-width="1"/>
<rect x="3052.3" y="2079.1" width="15.9" height="13.2" fill="#6cc8d8" stroke="#333" stroke-width="1"/>
<rect x="3071.4" y="2079.1" width="24.9" height="13.2" fill="#f5b820" stroke="#333" stroke-width="1"/>
<rect x="3100.3" y="2079.1" width="24.6" height="13.2" fill="#6cc08c" stroke="#333" stroke-width="1"/>
<rect x="2691.4" y="2107.9" width="20.4" height="13.2" fill="#62b848" stroke="#333" stroke-width="1"/>
<rect x="2720.8" y="2107.9" width="24.6" height="13.2" fill="#92c42a" stroke="#333" stroke-width="1"/>
<rect x="2745.4" y="2107.9" width="20.7" height="13.2" fill="#e41e1e" stroke="#333" stroke-width="1"/>
<rect x="2766.1" y="2107.9" width="14.6" height="13.2" fill="#d6e03a" stroke="#333" stroke-width="1"/>
<rect x="2881.7" y="2107.9" width="24.9" height="13.2" fill="#cc4494" stroke="#333" stroke-width="1"/>
<rect x="2929.9" y="2107.9" width="20.7" height="13.2" fill="#e8601e" stroke="#333" stroke-width="1"/>
<rect x="2981.6" y="2107.9" width="24.9" height="13.2" fill="#5a449a" stroke="#333" stroke-width="1"/>
<rect x="3011.0" y="2107.9" width="24.9" height="13.2" fill="#2150a6" stroke="#333" stroke-width="1"/>
<rect x="3047.3" y="2107.9" width="14.8" height="13.2" fill="#64b42c" stroke="#333" stroke-width="1"/>
<rect x="3062.1" y="2107.9" width="15.9" height="13.2" fill="#6cc8d8" stroke="#333" stroke-width="1"/>
<rect x="3081.2" y="2107.9" width="24.9" height="13.2" fill="#f5b820" stroke="#333" stroke-width="1"/>
<rect x="3110.1" y="2107.9" width="24.6" height="13.2" fill="#6cc08c" stroke="#333" stroke-width="1"/>
<rect x="2691.4" y="2136.7" width="20.4" height="13.2" fill="#62b848" stroke="#333" stroke-width="1"/>
<rect x="2720.8" y="2136.7" width="24.6" height="13.2" fill="#92c42a" stroke="#333" stroke-width="1"/>
<rect x="2745.4" y="2136.7" width="20.7" height="13.2" fill="#e41e1e" stroke="#333" stroke-width="1"/>
<rect x="2766.1" y="2136.7" width="14.6" height="13.2" fill="#d6e03a" stroke="#333" stroke-width="1"/>
<rect x="2864.4" y="2136.7" width="24.9" height="13.2" fill="#cc4494" stroke="#333" stroke-width="1"/>
<rect x="2912.6" y="2136.7" width="20.7" height="13.2" fill="#e8601e" stroke="#333" stroke-width="1"/>
<rect x="2964.6" y="2136.7" width="24.9" height="13.2" fill="#5a449a" stroke="#333" stroke-width="1"/>
<rect x="2994.0" y="2136.7" width="24.9" height="13.2" fill="#2150a6" stroke="#333" stroke-width="1"/>
<rect x="3030.3" y="2136.7" width="14.8" height="13.2" fill="#64b42c" stroke="#333" stroke-width="1"/>
<rect x="3045.1" y="2136.7" width="15.9" height="13.2" fill="#6cc8d8" stroke="#333" stroke-width="1"/>
<rect x="3064.2" y="2136.7" width="24.9" height="13.2" fill="#f5b820" stroke="#333" stroke-width="1"/>
<rect x="3093.1" y="2136.7" width="24.6" height="13.2" fill="#6cc08c" stroke="#333" stroke-width="1"/>
<rect x="2691.4" y="2165.5" width="20.4" height="13.2" fill="#62b848" stroke="#333" stroke-width="1"/>
<rect x="2720.8" y="2165.5" width="24.6" height="13.2" fill="#92c42a" stroke="#333" stroke-width="1"/>
<rect x="2745.4" y="2165.5" width="20.7" height="13.2" fill="#e41e1e" stroke="#333" stroke-width="1"/>
<rect x="2766.1" y="2165.5" width="14.6" height="13.2" fill="#d6e03a" stroke="#333" stroke-width="1"/>
<rect x="2867.4" y="2165.5" width="24.9" height="13.2" fill="#cc4494" stroke="#333" stroke-width="1"/>
<rect x="2915.6" y="2165.5" width="20.7" height="13.2" fill="#e8601e" stroke="#333" stroke-width="1"/>
<rect x="2967.5" y="2165.5" width="24.9" height="13.2" fill="#5a449a" stroke="#333" stroke-width="1"/>
<rect x="2996.9" y="2165.5" width="24.9" height="13.2" fill="#2150a6" stroke="#333" stroke-width="1"/>
<rect x="3033.2" y="2165.5" width="14.8" height="13.2" fill="#64b42c" stroke="#333" stroke-width="1"/>
<rect x="3048.0" y="2165.5" width="15.9" height="13.2" fill="#6cc8d8" stroke="#333" stroke-width="1"/>
<rect x="3067.1" y="2165.5" width="24.9" height="13.2" fill="#f5b820" stroke="#333" stroke-width="1"/>
<rect x="3096.0" y="2165.5" width="24.6" height="13.2" fill="#6cc08c" stroke="#333" stroke-width="1"/>
<rect x="2691.4" y="2194.3" width="20.4" height="13.2" fill="#62b848" stroke="#333" stroke-width="1"/>
<rect x="2720.8" y="2194.3" width="24.6" height="13.2" fill="#92c42a" stroke="#333" stroke-width="1"/>
<rect x="2745.4" y="2194.3" width="20.7" height="13.2" fill="#e41e1e" stroke="#333" stroke-width="1"/>
<rect x="2766.1" y="2194.3" width="14.6" height="13.2" fill="#d6e03a" stroke="#333" stroke-width="1"/>
<rect x="2881.7" y="2194.3" width="24.9" height="13.2" fill="#cc4494" stroke="#333" stroke-width="1"/>
<rect x="2929.9" y="2194.3" width="20.7" height="13.2" fill="#e8601e" stroke="#333" stroke-width="1"/>
<rect x="2981.6" y="2194.3" width="24.9" height="13.2" fill="#5a449a" stroke="#333" stroke-width="1"/>
<rect x="3011.0" y="2194.3" width="24.9" height="13.2" fill="#2150a6" stroke="#333" stroke-width="1"/>
<rect x="3047.3" y="2194.3" width="14.8" height="13.2" fill="#64b42c" stroke="#333" stroke-width="1"/>
<rect x="3062.1" y="2194.3" width="15.9" height="13.2" fill="#6cc8d8" stroke="#333" stroke-width="1"/>
<rect x="3081.2" y="2194.3" width="24.9" height="13.2" fill="#f5b820" stroke="#333" stroke-width="1"/>
<rect x="3110.1" y="2194.3" width="24.6" height="13.2" fill="#6cc08c" stroke="#333" stroke-width="1"/>
<rect x="2708.3" y="2223.1" width="24.6" height="13.2" fill="#92c42a" stroke="#333" stroke-width="1"/>
<rect x="2732.9" y="2223.1" width="20.7" height="13.2" fill="#e41e1e" stroke="#333" stroke-width="1"/>
<rect x="2753.6" y="2223.1" width="14.6" height="13.2" fill="#d6e03a" stroke="#333" stroke-width="1"/>
<rect x="2860.6" y="2223.1" width="24.9" height="13.2" fill="#cc4494" stroke="#333" stroke-width="1"/>
<rect x="2908.8" y="2223.1" width="20.7" height="13.2" fill="#e8601e" stroke="#333" stroke-width="1"/>
<rect x="2960.2" y="2223.1" width="24.9" height="13.2" fill="#5a449a" stroke="#333" stroke-width="1"/>
<rect x="2989.6" y="2223.1" width="24.9" height="13.2" fill="#2150a6" stroke="#333" stroke-width="1"/>
<rect x="3025.9" y="2223.1" width="14.8" height="13.2" fill="#64b42c" stroke="#333" stroke-width="1"/>
<rect x="3040.7" y="2223.1" width="15.9" height="13.2" fill="#6cc8d8" stroke="#333" stroke-width="1"/>
<rect x="3059.8" y="2223.1" width="24.9" height="13.2" fill="#f5b820" stroke="#333" stroke-width="1"/>
<rect x="3088.7" y="2223.1" width="24.6" height="13.2" fill="#6cc08c" stroke="#333" stroke-width="1"/>
<rect x="2691.4" y="2251.9" width="20.4" height="13.2" fill="#62b848" stroke="#333" stroke-width="1"/>
<rect x="2720.8" y="2251.9" width="24.6" height="13.2" fill="#92c42a" stroke="#333" stroke-width="1"/>
<rect x="2745.4" y="2251.9" width="20.7" height="13.2" fill="#e41e1e" stroke="#333" stroke-width="1"/>
<rect x="2766.1" y="2251.9" width="14.6" height="13.2" fill="#d6e03a" stroke="#333" stroke-width="1"/>
<rect x="2868.5" y="2251.9" width="24.9" height="13.2" fill="#cc4494" stroke="#333" stroke-width="1"/>
<rect x="2916.7" y="2251.9" width="20.7" height="13.2" fill="#e8601e" stroke="#333" stroke-width="1"/>
<rect x="2968.4" y="2251.9" width="24.9" height="13.2" fill="#5a449a" stroke="#333" stroke-width="1"/>
<rect x="2997.8" y="2251.9" width="24.9" height="13.2" fill="#2150a6" stroke="#333" stroke-width="1"/>
<rect x="3034.1" y="2251.9" width="14.8" height="13.2" fill="#64b42c" stroke="#333" stroke-width="1"/>
<rect x="3048.9" y="2251.9" width="15.9" height="13.2" fill="#6cc8d8" stroke="#333" stroke-width="1"/>
<rect x="3068.0" y="2251.9" width="24.9" height="13.2" fill="#f5b820" stroke="#333" stroke-width="1"/>
<rect x="3096.9" y="2251.9" width="24.6" height="13.2" fill="#6cc08c" stroke="#333" stroke-width="1"/>
<rect x="2691.4" y="2280.7" width="20.4" height="13.2" fill="#62b848" stroke="#333" stroke-width="1"/>
<rect x="2720.8" y="2280.7" width="24.6" height="13.2" fill="#92c42a" stroke="#333" stroke-width="1"/>
<rect x="2745.4" y="2280.7" width="20.7" height="13.2" fill="#e41e1e" stroke="#333" stroke-width="1"/>
<rect x="2766.1" y="2280.7" width="14.6" height="13.2" fill="#d6e03a" stroke="#333" stroke-width="1"/>
<rect x="2870.0" y="2280.7" width="24.9" height="13.2" fill="#cc4494" stroke="#333" stroke-width="1"/>
<rect x="2918.2" y="2280.7" width="20.7" height="13.2" fill="#e8601e" stroke="#333" stroke-width="1"/>
<rect x="2970.4" y="2280.7" width="24.9" height="13.2" fill="#5a449a" stroke="#333" stroke-width="1"/>
<rect x="2999.8" y="2280.7" width="24.9" height="13.2" fill="#2150a6" stroke="#333" stroke-width="1"/>
<rect x="3036.1" y="2280.7" width="14.8" height="13.2" fill="#64b42c" stroke="#333" stroke-width="1"/>
<rect x="3050.9" y="2280.7" width="15.9" height="13.2" fill="#6cc8d8" stroke="#333" stroke-width="1"/>
<rect x="3070.0" y="2280.7" width="24.9" height="13.2" fill="#f5b820" stroke="#333" stroke-width="1"/>
<rect x="3098.9" y="2280.7" width="24.6" height="13.2" fill="#6cc08c" stroke="#333" stroke-width="1"/>
<rect x="2691.4" y="2309.5" width="20.4" height="13.2" fill="#62b848" stroke="#333" stroke-width="1"/>
<rect x="2720.8" y="2309.5" width="24.6" height="13.2" fill="#92c42a" stroke="#333" stroke-width="1"/>
<rect x="2745.4" y="2309.5" width="20.7" height="13.2" fill="#e41e1e" stroke="#333" stroke-width="1"/>
<rect x="2766.1" y="2309.5" width="14.6" height="13.2" fill="#d6e03a" stroke="#333" stroke-width="1"/>
<rect x="2868.5" y="2309.5" width="24.9" height="13.2" fill="#cc4494" stroke="#333" stroke-width="1"/>
<rect x="2916.7" y="2309.5" width="20.7" height="13.2" fill="#e8601e" stroke="#333" stroke-width="1"/>
<rect x="2968.4" y="2309.5" width="24.9" height="13.2" fill="#5a449a" stroke="#333" stroke-width="1"/>
<rect x="2997.8" y="2309.5" width="24.9" height="13.2" fill="#2150a6" stroke="#333" stroke-width="1"/>
<rect x="3034.1" y="2309.5" width="14.8" height="13.2" fill="#64b42c" stroke="#333" stroke-width="1"/>
<rect x="3048.9" y="2309.5" width="15.9" height="13.2" fill="#6cc8d8" stroke="#333" stroke-width="1"/>
<rect x="3068.0" y="2309.5" width="24.9" height="13.2" fill="#f5b820" stroke="#333" stroke-width="1"/>
<rect x="3096.9" y="2309.5" width="24.6" height="13.2" fill="#6cc08c" stroke="#333" stroke-width="1"/>
<text x="3237" y="898.8" font-family="'Liberation Serif', serif" font-size="57">motif</text>
<path d="M3227.8,909 H3434.7" stroke="#555" stroke-width="2"/>
<rect x="3257.2" y="929.8" width="42.5" height="35.4" fill="#e41e1e" stroke="#333" stroke-width="1"/>
<text x="3323" y="956.8" font-family="'Liberation Serif', serif" font-size="27.5">motif1</text>
<rect x="3257.2" y="984.3" width="42.5" height="35.4" fill="#6cc8d8" stroke="#333" stroke-width="1"/>
<text x="3323" y="1011.3" font-family="'Liberation Serif', serif" font-size="27.5">motif2</text>
<rect x="3257.2" y="1039.8" width="42.5" height="35.4" fill="#92c42a" stroke="#333" stroke-width="1"/>
<text x="3323" y="1066.8" font-family="'Liberation Serif', serif" font-size="27.5">motif3</text>
<rect x="3257.2" y="1094.7" width="42.5" height="35.4" fill="#5a449a" stroke="#333" stroke-width="1"/>
<text x="3323" y="1121.7" font-family="'Liberation Serif', serif" font-size="27.5">motif4</text>
<rect x="3257.2" y="1149.7" width="42.5" height="35.4" fill="#f5b820" stroke="#333" stroke-width="1"/>
<text x="3323" y="1176.7" font-family="'Liberation Serif', serif" font-size="27.5">motif5</text>
<rect x="3257.2" y="1204.7" width="42.5" height="35.4" fill="#62b848" stroke="#333" stroke-width="1"/>
<text x="3323" y="1231.7" font-family="'Liberation Serif', serif" font-size="27.5">motif6</text>
<rect x="3257.2" y="1259.7" width="42.5" height="35.4" fill="#2150a6" stroke="#333" stroke-width="1"/>
<text x="3323" y="1286.7" font-family="'Liberation Serif', serif" font-size="27.5">motif7</text>
<rect x="3257.2" y="1315.2" width="42.5" height="35.4" fill="#cc4494" stroke="#333" stroke-width="1"/>
<text x="3323" y="1342.2" font-family="'Liberation Serif', serif" font-size="27.5">motif8</text>
<rect x="3257.2" y="1370.7" width="42.5" height="35.4" fill="#e8601e" stroke="#333" stroke-width="1"/>
<text x="3323" y="1397.7" font-family="'Liberation Serif', serif" font-size="27.5">motif9</text>
<rect x="3257.2" y="1427.9" width="42.5" height="35.4" fill="#faee00" stroke="#333" stroke-width="1"/>
<text x="3323" y="1454.9" font-family="'Liberation Serif', serif" font-size="27.5">motif10</text>
<rect x="3257.2" y="1493.2" width="42.5" height="35.4" fill="#64b42c" stroke="#333" stroke-width="1"/>
<text x="3323" y="1520.2" font-family="'Liberation Serif', serif" font-size="27.5">motif11</text>
<rect x="3257.2" y="1548.2" width="42.5" height="35.4" fill="#6cc08c" stroke="#333" stroke-width="1"/>
<text x="3323" y="1575.2" font-family="'Liberation Serif', serif" font-size="27.5">motif12</text>
<defs><linearGradient id="cdsb" x1="0" x2="0" y1="0" y2="1"><stop offset="0" stop-color="#fff"/><stop offset="1" stop-color="#f0c21c"/></linearGradient><linearGradient id="cdst" x1="0" x2="0" y1="0" y2="1"><stop offset="0" stop-color="#f0c21c"/><stop offset="1" stop-color="#fff"/></linearGradient><linearGradient id="utrb" x1="0" x2="0" y1="0" y2="1"><stop offset="0" stop-color="#fff"/><stop offset="1" stop-color="#62a84a"/></linearGradient><linearGradient id="utrt" x1="0" x2="0" y1="0" y2="1"><stop offset="0" stop-color="#62a84a"/><stop offset="1" stop-color="#fff"/></linearGradient></defs>
<path d="M3513.5,910 H3725.6 M3514.5,935.3 H3863.8 M3514.5,962.2 H3751.6 M3514.5,988.8 H3733.6 M3514.5,1015.4 H3678.7 M3514.5,1040 H3947.1 M3515.2,1070 H3764.3 M3515.2,1098.4 H3846.2 M3513.5,1127 H3752.6 M3513.5,1155.7 H3748.4 M3513.5,1184 H3770.6 M3513.5,1212.4 H3749.8 M3514.5,1237 H3810.6 M3514.5,1265.2 H3524.9 M3514.5,1291.4 H3795.4 M3514.5,1320.1 H3719.4 M3514.5,1348.4 H3705.3 M3516.3,1377.8 H3873.5 M3516.3,1407.2 H3855.6 M3516.3,1433.4 H4291.6 M3516.3,1461.7 H3792.7 M3516.3,1492.8 H3858.7 M3516.3,1523.2 H3815.1 M3516.6,1550.5 H3767.5 M3516.6,1580 H3631.3 M3516.3,1609.3 H3633.7 M3516.3,1638.6 H3789.2 M3516.3,1668 H3731.5 M3516.3,1697 H3733.6 M3516.3,1725.6 H3600.6 M3516.3,1753.3 H3753.6 M3516.3,1780.6 H3753.6 M3516.3,1807.9 H3750.5 M3516.3,1835.2 H3754.7 M3515.9,1865.6 H3684.5 M3515.6,1895.6 H3795.4 M3516.3,1930.5 H3815.1 M3515.2,1961.3 H4029.7 M3516.3,1993.7 H3955.7 M3516.3,2029 H3914.6 M3515.2,2062.3 H4082.9 M3515.2,2093.6 H4031.1 M3516.3,2127.4 H3883.5 M3517.0,2163.3 H3754.0 M3515.2,2204.1 H3972.7 M3516.3,2239.4 H3925.7 M3517.0,2268 H3955.7 M3517.0,2294.6 H3916.0 M3516.3,2324 H3784.7" stroke="#858585" stroke-width="2" fill="none"/>
<rect x="3513.5" y="901.0" width="11.4" height="18" fill="url(#utrt)" stroke="#a8a8a8" stroke-width="1"/>
<rect x="3529.1" y="901.0" width="5.5" height="18" fill="url(#utrt)" stroke="#a8a8a8" stroke-width="1"/>
<rect x="3534.6" y="901.0" width="7.6" height="18" fill="url(#cdst)" stroke="#a8a8a8" stroke-width="1"/>
<rect x="3556.0" y="901.0" width="17.3" height="18" fill="url(#cdst)" stroke="#a8a8a8" stroke-width="1"/>
<rect x="3577.4" y="901.0" width="4.5" height="18" fill="url(#cdst)" stroke="#a8a8a8" stroke-width="1"/>
<rect x="3584.3" y="901.0" width="10.4" height="18" fill="url(#cdst)" stroke="#a8a8a8" stroke-width="1"/>
<rect x="3597.5" y="901.0" width="5.2" height="18" fill="url(#cdst)" stroke="#a8a8a8" stroke-width="1"/>
<rect x="3606.1" y="901.0" width="4.5" height="18" fill="url(#cdst)" stroke="#a8a8a8" stroke-width="1"/>
<rect x="3614.1" y="901.0" width="7.6" height="18" fill="url(#cdst)" stroke="#a8a8a8" stroke-width="1"/>
<rect x="3633.1" y="901.0" width="43.2" height="18" fill="url(#cdst)" stroke="#a8a8a8" stroke-width="1"/>
<rect x="3680.4" y="901.0" width="17.3" height="18" fill="url(#cdst)" stroke="#a8a8a8" stroke-width="1"/>
<rect x="3702.2" y="901.0" width="13.5" height="18" fill="url(#cdst)" stroke="#a8a8a8" stroke-width="1"/>
<rect x="3715.6" y="901.0" width="10.0" height="18" fill="url(#utrt)" stroke="#a8a8a8" stroke-width="1"/>
<rect x="3514.5" y="926.3" width="7.9" height="18" fill="url(#cdsb)" stroke="#a8a8a8" stroke-width="1"/>
<rect x="3531.1" y="926.3" width="17.3" height="18" fill="url(#cdsb)" stroke="#a8a8a8" stroke-width="1"/>
<rect x="3555.0" y="926.3" width="3.5" height="18" fill="url(#cdsb)" stroke="#a8a8a8" stroke-width="1"/>
<rect x="3578.5" y="926.3" width="10.0" height="18" fill="url(#cdsb)" stroke="#a8a8a8" stroke-width="1"/>
<rect x="3603.3" y="926.3" width="4.8" height="18" fill="url(#cdsb)" stroke="#a8a8a8" stroke-width="1"/>
<rect x="3652.1" y="926.3" width="4.1" height="18" fill="url(#cdsb)" stroke="#a8a8a8" stroke-width="1"/>
<rect x="3667.3" y="926.3" width="6.9" height="18" fill="url(#cdsb)" stroke="#a8a8a8" stroke-width="1"/>
<rect x="3688.3" y="926.3" width="44.2" height="18" fill="url(#cdsb)" stroke="#a8a8a8" stroke-width="1"/>
<rect x="3737.4" y="926.3" width="17.3" height="18" fill="url(#cdsb)" stroke="#a8a8a8" stroke-width="1"/>
<rect x="3758.5" y="926.3" width="12.1" height="18" fill="url(#cdsb)" stroke="#a8a8a8" stroke-width="1"/>
<rect x="3830.0" y="926.3" width="2.8" height="18" fill="url(#cdsb)" stroke="#a8a8a8" stroke-width="1"/>
<rect x="3838.3" y="926.3" width="6.2" height="18" fill="url(#cdsb)" stroke="#a8a8a8" stroke-width="1"/>
<rect x="3862.5" y="926.3" width="1.4" height="18" fill="url(#cdsb)" stroke="#a8a8a8" stroke-width="1"/>
<rect x="3514.5" y="953.2" width="7.9" height="18" fill="url(#cdsb)" stroke="#a8a8a8" stroke-width="1"/>
<rect x="3576.0" y="953.2" width="17.3" height="18" fill="url(#cdsb)" stroke="#a8a8a8" stroke-width="1"/>
<rect x="3598.2" y="953.2" width="3.5" height="18" fill="url(#cdsb)" stroke="#a8a8a8" stroke-width="1"/>
<rect x="3605.8" y="953.2" width="9.7" height="18" fill="url(#cdsb)" stroke="#a8a8a8" stroke-width="1"/>
<rect x="3632.4" y="953.2" width="4.8" height="18" fill="url(#cdsb)" stroke="#a8a8a8" stroke-width="1"/>
<rect x="3641.3" y="953.2" width="4.5" height="18" fill="url(#cdsb)" stroke="#a8a8a8" stroke-width="1"/>
<rect x="3650.3" y="953.2" width="7.3" height="18" fill="url(#cdsb)" stroke="#a8a8a8" stroke-width="1"/>
<rect x="3666.9" y="953.2" width="60.5" height="18" fill="url(#cdsb)" stroke="#a8a8a8" stroke-width="1"/>
<rect x="3738.4" y="953.2" width="13.1" height="18" fill="url(#cdsb)" stroke="#a8a8a8" stroke-width="1"/>
<rect x="3514.5" y="979.8" width="7.9" height="18" fill="url(#cdsb)" stroke="#a8a8a8" stroke-width="1"/>
<rect x="3544.3" y="979.8" width="18.3" height="18" fill="url(#cdsb)" stroke="#a8a8a8" stroke-width="1"/>
<rect x="3572.2" y="979.8" width="4.5" height="18" fill="url(#cdsb)" stroke="#a8a8a8" stroke-width="1"/>
<rect x="3581.9" y="979.8" width="9.7" height="18" fill="url(#cdsb)" stroke="#a8a8a8" stroke-width="1"/>
<rect x="3602.7" y="979.8" width="4.1" height="18" fill="url(#cdsb)" stroke="#a8a8a8" stroke-width="1"/>
<rect x="3616.5" y="979.8" width="4.1" height="18" fill="url(#cdsb)" stroke="#a8a8a8" stroke-width="1"/>
<rect x="3634.4" y="979.8" width="7.3" height="18" fill="url(#cdsb)" stroke="#a8a8a8" stroke-width="1"/>
<rect x="3645.5" y="979.8" width="43.9" height="18" fill="url(#cdsb)" stroke="#a8a8a8" stroke-width="1"/>
<rect x="3699.7" y="979.8" width="16.9" height="18" fill="url(#cdsb)" stroke="#a8a8a8" stroke-width="1"/>
<rect x="3720.5" y="979.8" width="13.1" height="18" fill="url(#cdsb)" stroke="#a8a8a8" stroke-width="1"/>
<rect x="3514.5" y="1006.4" width="7.9" height="18" fill="url(#cdsb)" stroke="#a8a8a8" stroke-width="1"/>
<rect x="3529.4" y="1006.4" width="17.3" height="18" fill="url(#cdsb)" stroke="#a8a8a8" stroke-width="1"/>
<rect x="3549.8" y="1006.4" width="3.8" height="18" fill="url(#cdsb)" stroke="#a8a8a8" stroke-width="1"/>
<rect x="3558.4" y="1006.4" width="9.3" height="18" fill="url(#cdsb)" stroke="#a8a8a8" stroke-width="1"/>
<rect x="3572.6" y="1006.4" width="4.8" height="18" fill="url(#cdsb)" stroke="#a8a8a8" stroke-width="1"/>
<rect x="3580.2" y="1006.4" width="4.1" height="18" fill="url(#cdsb)" stroke="#a8a8a8" stroke-width="1"/>
<rect x="3587.8" y="1006.4" width="6.9" height="18" fill="url(#cdsb)" stroke="#a8a8a8" stroke-width="1"/>
<rect x="3597.8" y="1006.4" width="43.5" height="18" fill="url(#cdsb)" stroke="#a8a8a8" stroke-width="1"/>
<rect x="3645.1" y="1006.4" width="16.9" height="18" fill="url(#cdsb)" stroke="#a8a8a8" stroke-width="1"/>
<rect x="3665.9" y="1006.4" width="12.8" height="18" fill="url(#cdsb)" stroke="#a8a8a8" stroke-width="1"/>
<rect x="3514.5" y="1031.0" width="12.8" height="18" fill="url(#utrt)" stroke="#a8a8a8" stroke-width="1"/>
<rect x="3527.3" y="1031.0" width="7.9" height="18" fill="url(#cdst)" stroke="#a8a8a8" stroke-width="1"/>
<rect x="3556.0" y="1031.0" width="17.3" height="18" fill="url(#cdst)" stroke="#a8a8a8" stroke-width="1"/>
<rect x="3597.5" y="1031.0" width="4.1" height="18" fill="url(#cdst)" stroke="#a8a8a8" stroke-width="1"/>
<rect x="3694.2" y="1031.0" width="10.4" height="18" fill="url(#cdst)" stroke="#a8a8a8" stroke-width="1"/>
<rect x="3777.1" y="1031.0" width="4.1" height="18" fill="url(#cdst)" stroke="#a8a8a8" stroke-width="1"/>
<rect x="3785.4" y="1031.0" width="4.1" height="18" fill="url(#cdst)" stroke="#a8a8a8" stroke-width="1"/>
<rect x="3805.5" y="1031.0" width="7.3" height="18" fill="url(#cdst)" stroke="#a8a8a8" stroke-width="1"/>
<rect x="3820.3" y="1031.0" width="43.2" height="18" fill="url(#cdst)" stroke="#a8a8a8" stroke-width="1"/>
<rect x="3885.3" y="1031.0" width="17.3" height="18" fill="url(#cdst)" stroke="#a8a8a8" stroke-width="1"/>
<rect x="3923.3" y="1031.0" width="13.5" height="18" fill="url(#cdst)" stroke="#a8a8a8" stroke-width="1"/>
<rect x="3936.7" y="1031.0" width="10.4" height="18" fill="url(#utrt)" stroke="#a8a8a8" stroke-width="1"/>
<rect x="3515.2" y="1061.0" width="2.8" height="18" fill="url(#utrb)" stroke="#a8a8a8" stroke-width="1"/>
<rect x="3520.4" y="1061.0" width="9.0" height="18" fill="url(#cdsb)" stroke="#a8a8a8" stroke-width="1"/>
<rect x="3565.3" y="1061.0" width="2.1" height="18" fill="url(#cdsb)" stroke="#a8a8a8" stroke-width="1"/>
<rect x="3573.3" y="1061.0" width="9.7" height="18" fill="url(#cdsb)" stroke="#a8a8a8" stroke-width="1"/>
<rect x="3593.0" y="1061.0" width="4.5" height="18" fill="url(#cdsb)" stroke="#a8a8a8" stroke-width="1"/>
<rect x="3603.3" y="1061.0" width="10.0" height="18" fill="url(#cdsb)" stroke="#a8a8a8" stroke-width="1"/>
<rect x="3616.1" y="1061.0" width="5.5" height="18" fill="url(#cdsb)" stroke="#a8a8a8" stroke-width="1"/>
<rect x="3624.4" y="1061.0" width="4.1" height="18" fill="url(#cdsb)" stroke="#a8a8a8" stroke-width="1"/>
<rect x="3648.3" y="1061.0" width="7.3" height="18" fill="url(#cdsb)" stroke="#a8a8a8" stroke-width="1"/>
<rect x="3658.6" y="1061.0" width="44.2" height="18" fill="url(#cdsb)" stroke="#a8a8a8" stroke-width="1"/>
<rect x="3711.1" y="1061.0" width="17.3" height="18" fill="url(#cdsb)" stroke="#a8a8a8" stroke-width="1"/>
<rect x="3741.5" y="1061.0" width="13.1" height="18" fill="url(#cdsb)" stroke="#a8a8a8" stroke-width="1"/>
<rect x="3754.7" y="1061.0" width="9.7" height="18" fill="url(#utrb)" stroke="#a8a8a8" stroke-width="1"/>
<rect x="3515.2" y="1089.4" width="6.6" height="18" fill="url(#utrb)" stroke="#a8a8a8" stroke-width="1"/>
<rect x="3536.3" y="1089.4" width="9.3" height="18" fill="url(#cdsb)" stroke="#a8a8a8" stroke-width="1"/>
<rect x="3579.2" y="1089.4" width="17.3" height="18" fill="url(#cdsb)" stroke="#a8a8a8" stroke-width="1"/>
<rect x="3612.0" y="1089.4" width="3.8" height="18" fill="url(#cdsb)" stroke="#a8a8a8" stroke-width="1"/>
<rect x="3622.3" y="1089.4" width="10.4" height="18" fill="url(#cdsb)" stroke="#a8a8a8" stroke-width="1"/>
<rect x="3637.2" y="1089.4" width="5.2" height="18" fill="url(#cdsb)" stroke="#a8a8a8" stroke-width="1"/>
<rect x="3645.1" y="1089.4" width="4.5" height="18" fill="url(#cdsb)" stroke="#a8a8a8" stroke-width="1"/>
<rect x="3697.3" y="1089.4" width="7.3" height="18" fill="url(#cdsb)" stroke="#a8a8a8" stroke-width="1"/>
<rect x="3712.2" y="1089.4" width="44.2" height="18" fill="url(#cdsb)" stroke="#a8a8a8" stroke-width="1"/>
<rect x="3771.9" y="1089.4" width="17.3" height="18" fill="url(#cdsb)" stroke="#a8a8a8" stroke-width="1"/>
<rect x="3814.1" y="1089.4" width="13.1" height="18" fill="url(#cdsb)" stroke="#a8a8a8" stroke-width="1"/>
<rect x="3827.2" y="1089.4" width="19.0" height="18" fill="url(#utrb)" stroke="#a8a8a8" stroke-width="1"/>
<rect x="3513.5" y="1118.0" width="8.6" height="18" fill="url(#utrb)" stroke="#a8a8a8" stroke-width="1"/>
<rect x="3522.2" y="1118.0" width="7.3" height="18" fill="url(#cdsb)" stroke="#a8a8a8" stroke-width="1"/>
<rect x="3580.2" y="1118.0" width="17.3" height="18" fill="url(#cdsb)" stroke="#a8a8a8" stroke-width="1"/>
<rect x="3600.9" y="1118.0" width="4.1" height="18" fill="url(#cdsb)" stroke="#a8a8a8" stroke-width="1"/>
<rect x="3608.9" y="1118.0" width="11.1" height="18" fill="url(#cdsb)" stroke="#a8a8a8" stroke-width="1"/>
<rect x="3627.2" y="1118.0" width="4.1" height="18" fill="url(#cdsb)" stroke="#a8a8a8" stroke-width="1"/>
<rect x="3634.8" y="1118.0" width="4.8" height="18" fill="url(#cdsb)" stroke="#a8a8a8" stroke-width="1"/>
<rect x="3643.4" y="1118.0" width="6.9" height="18" fill="url(#cdsb)" stroke="#a8a8a8" stroke-width="1"/>
<rect x="3654.5" y="1118.0" width="43.5" height="18" fill="url(#cdsb)" stroke="#a8a8a8" stroke-width="1"/>
<rect x="3707.0" y="1118.0" width="17.3" height="18" fill="url(#cdsb)" stroke="#a8a8a8" stroke-width="1"/>
<rect x="3728.4" y="1118.0" width="13.1" height="18" fill="url(#cdsb)" stroke="#a8a8a8" stroke-width="1"/>
<rect x="3741.5" y="1118.0" width="11.1" height="18" fill="url(#utrb)" stroke="#a8a8a8" stroke-width="1"/>
<rect x="3513.5" y="1146.7" width="9.7" height="18" fill="url(#utrb)" stroke="#a8a8a8" stroke-width="1"/>
<rect x="3523.2" y="1146.7" width="9.3" height="18" fill="url(#cdsb)" stroke="#a8a8a8" stroke-width="1"/>
<rect x="3570.2" y="1146.7" width="17.6" height="18" fill="url(#cdsb)" stroke="#a8a8a8" stroke-width="1"/>
<rect x="3590.6" y="1146.7" width="4.1" height="18" fill="url(#cdsb)" stroke="#a8a8a8" stroke-width="1"/>
<rect x="3599.2" y="1146.7" width="10.4" height="18" fill="url(#cdsb)" stroke="#a8a8a8" stroke-width="1"/>
<rect x="3615.8" y="1146.7" width="4.8" height="18" fill="url(#cdsb)" stroke="#a8a8a8" stroke-width="1"/>
<rect x="3624.1" y="1146.7" width="4.8" height="18" fill="url(#cdsb)" stroke="#a8a8a8" stroke-width="1"/>
<rect x="3633.1" y="1146.7" width="6.9" height="18" fill="url(#cdsb)" stroke="#a8a8a8" stroke-width="1"/>
<rect x="3643.4" y="1146.7" width="44.2" height="18" fill="url(#cdsb)" stroke="#a8a8a8" stroke-width="1"/>
<rect x="3700.1" y="1146.7" width="17.6" height="18" fill="url(#cdsb)" stroke="#a8a8a8" stroke-width="1"/>
<rect x="3722.2" y="1146.7" width="13.5" height="18" fill="url(#cdsb)" stroke="#a8a8a8" stroke-width="1"/>
<rect x="3735.7" y="1146.7" width="12.8" height="18" fill="url(#utrb)" stroke="#a8a8a8" stroke-width="1"/>
<rect x="3513.5" y="1175.0" width="14.2" height="18" fill="url(#utrb)" stroke="#a8a8a8" stroke-width="1"/>
<rect x="3527.7" y="1175.0" width="7.6" height="18" fill="url(#cdsb)" stroke="#a8a8a8" stroke-width="1"/>
<rect x="3598.2" y="1175.0" width="17.3" height="18" fill="url(#cdsb)" stroke="#a8a8a8" stroke-width="1"/>
<rect x="3618.5" y="1175.0" width="4.1" height="18" fill="url(#cdsb)" stroke="#a8a8a8" stroke-width="1"/>
<rect x="3630.6" y="1175.0" width="9.7" height="18" fill="url(#cdsb)" stroke="#a8a8a8" stroke-width="1"/>
<rect x="3643.8" y="1175.0" width="4.5" height="18" fill="url(#cdsb)" stroke="#a8a8a8" stroke-width="1"/>
<rect x="3650.7" y="1175.0" width="4.8" height="18" fill="url(#cdsb)" stroke="#a8a8a8" stroke-width="1"/>
<rect x="3659.7" y="1175.0" width="6.9" height="18" fill="url(#cdsb)" stroke="#a8a8a8" stroke-width="1"/>
<rect x="3670.0" y="1175.0" width="44.2" height="18" fill="url(#cdsb)" stroke="#a8a8a8" stroke-width="1"/>
<rect x="3719.8" y="1175.0" width="17.3" height="18" fill="url(#cdsb)" stroke="#a8a8a8" stroke-width="1"/>
<rect x="3742.2" y="1175.0" width="13.1" height="18" fill="url(#cdsb)" stroke="#a8a8a8" stroke-width="1"/>
<rect x="3755.4" y="1175.0" width="15.2" height="18" fill="url(#utrb)" stroke="#a8a8a8" stroke-width="1"/>
<rect x="3513.5" y="1203.4" width="14.9" height="18" fill="url(#utrb)" stroke="#a8a8a8" stroke-width="1"/>
<rect x="3528.4" y="1203.4" width="7.9" height="18" fill="url(#cdsb)" stroke="#a8a8a8" stroke-width="1"/>
<rect x="3575.0" y="1203.4" width="17.3" height="18" fill="url(#cdsb)" stroke="#a8a8a8" stroke-width="1"/>
<rect x="3596.1" y="1203.4" width="4.8" height="18" fill="url(#cdsb)" stroke="#a8a8a8" stroke-width="1"/>
<rect x="3610.3" y="1203.4" width="9.7" height="18" fill="url(#cdsb)" stroke="#a8a8a8" stroke-width="1"/>
<rect x="3623.4" y="1203.4" width="4.5" height="18" fill="url(#cdsb)" stroke="#a8a8a8" stroke-width="1"/>
<rect x="3631.3" y="1203.4" width="4.1" height="18" fill="url(#cdsb)" stroke="#a8a8a8" stroke-width="1"/>
<rect x="3640.0" y="1203.4" width="7.6" height="18" fill="url(#cdsb)" stroke="#a8a8a8" stroke-width="1"/>
<rect x="3651.0" y="1203.4" width="43.9" height="18" fill="url(#cdsb)" stroke="#a8a8a8" stroke-width="1"/>
<rect x="3705.3" y="1203.4" width="17.3" height="18" fill="url(#cdsb)" stroke="#a8a8a8" stroke-width="1"/>
<rect x="3728.8" y="1203.4" width="12.8" height="18" fill="url(#cdsb)" stroke="#a8a8a8" stroke-width="1"/>
<rect x="3741.5" y="1203.4" width="8.3" height="18" fill="url(#utrb)" stroke="#a8a8a8" stroke-width="1"/>
<rect x="3514.5" y="1228.0" width="6.9" height="18" fill="url(#cdsb)" stroke="#a8a8a8" stroke-width="1"/>
<rect x="3555.3" y="1228.0" width="17.3" height="18" fill="url(#cdsb)" stroke="#a8a8a8" stroke-width="1"/>
<rect x="3577.4" y="1228.0" width="3.5" height="18" fill="url(#cdsb)" stroke="#a8a8a8" stroke-width="1"/>
<rect x="3629.3" y="1228.0" width="10.7" height="18" fill="url(#cdsb)" stroke="#a8a8a8" stroke-width="1"/>
<rect x="3647.9" y="1228.0" width="5.9" height="18" fill="url(#cdsb)" stroke="#a8a8a8" stroke-width="1"/>
<rect x="3657.9" y="1228.0" width="4.5" height="18" fill="url(#cdsb)" stroke="#a8a8a8" stroke-width="1"/>
<rect x="3680.0" y="1228.0" width="7.6" height="18" fill="url(#cdsb)" stroke="#a8a8a8" stroke-width="1"/>
<rect x="3718.7" y="1228.0" width="43.5" height="18" fill="url(#cdsb)" stroke="#a8a8a8" stroke-width="1"/>
<rect x="3777.1" y="1228.0" width="17.3" height="18" fill="url(#cdsb)" stroke="#a8a8a8" stroke-width="1"/>
<rect x="3797.2" y="1228.0" width="13.5" height="18" fill="url(#cdsb)" stroke="#a8a8a8" stroke-width="1"/>
<rect x="3514.5" y="1256.2" width="10.4" height="18" fill="url(#cdsb)" stroke="#a8a8a8" stroke-width="1"/>
<rect x="3514.5" y="1282.4" width="7.6" height="18" fill="url(#cdsb)" stroke="#a8a8a8" stroke-width="1"/>
<rect x="3547.4" y="1282.4" width="17.3" height="18" fill="url(#cdsb)" stroke="#a8a8a8" stroke-width="1"/>
<rect x="3568.1" y="1282.4" width="3.5" height="18" fill="url(#cdsb)" stroke="#a8a8a8" stroke-width="1"/>
<rect x="3613.7" y="1282.4" width="9.7" height="18" fill="url(#cdsb)" stroke="#a8a8a8" stroke-width="1"/>
<rect x="3634.4" y="1282.4" width="5.2" height="18" fill="url(#cdsb)" stroke="#a8a8a8" stroke-width="1"/>
<rect x="3645.1" y="1282.4" width="4.5" height="18" fill="url(#cdsb)" stroke="#a8a8a8" stroke-width="1"/>
<rect x="3681.4" y="1282.4" width="6.9" height="18" fill="url(#cdsb)" stroke="#a8a8a8" stroke-width="1"/>
<rect x="3698.7" y="1282.4" width="43.9" height="18" fill="url(#cdsb)" stroke="#a8a8a8" stroke-width="1"/>
<rect x="3746.7" y="1282.4" width="16.6" height="18" fill="url(#cdsb)" stroke="#a8a8a8" stroke-width="1"/>
<rect x="3783.3" y="1282.4" width="12.1" height="18" fill="url(#cdsb)" stroke="#a8a8a8" stroke-width="1"/>
<rect x="3514.5" y="1311.1" width="7.9" height="18" fill="url(#utrb)" stroke="#a8a8a8" stroke-width="1"/>
<rect x="3530.8" y="1311.1" width="8.6" height="18" fill="url(#cdsb)" stroke="#a8a8a8" stroke-width="1"/>
<rect x="3547.4" y="1311.1" width="17.6" height="18" fill="url(#cdsb)" stroke="#a8a8a8" stroke-width="1"/>
<rect x="3568.4" y="1311.1" width="4.1" height="18" fill="url(#cdsb)" stroke="#a8a8a8" stroke-width="1"/>
<rect x="3576.7" y="1311.1" width="9.7" height="18" fill="url(#cdsb)" stroke="#a8a8a8" stroke-width="1"/>
<rect x="3590.6" y="1311.1" width="3.5" height="18" fill="url(#cdsb)" stroke="#a8a8a8" stroke-width="1"/>
<rect x="3598.2" y="1311.1" width="4.5" height="18" fill="url(#cdsb)" stroke="#a8a8a8" stroke-width="1"/>
<rect x="3607.1" y="1311.1" width="6.6" height="18" fill="url(#cdsb)" stroke="#a8a8a8" stroke-width="1"/>
<rect x="3621.7" y="1311.1" width="43.2" height="18" fill="url(#cdsb)" stroke="#a8a8a8" stroke-width="1"/>
<rect x="3668.6" y="1311.1" width="16.9" height="18" fill="url(#cdsb)" stroke="#a8a8a8" stroke-width="1"/>
<rect x="3689.4" y="1311.1" width="12.8" height="18" fill="url(#cdsb)" stroke="#a8a8a8" stroke-width="1"/>
<rect x="3702.2" y="1311.1" width="17.3" height="18" fill="url(#utrb)" stroke="#a8a8a8" stroke-width="1"/>
<rect x="3514.5" y="1339.4" width="7.9" height="18" fill="url(#utrb)" stroke="#a8a8a8" stroke-width="1"/>
<rect x="3529.1" y="1339.4" width="7.3" height="18" fill="url(#cdsb)" stroke="#a8a8a8" stroke-width="1"/>
<rect x="3546.0" y="1339.4" width="17.6" height="18" fill="url(#cdsb)" stroke="#a8a8a8" stroke-width="1"/>
<rect x="3566.7" y="1339.4" width="3.8" height="18" fill="url(#cdsb)" stroke="#a8a8a8" stroke-width="1"/>
<rect x="3574.0" y="1339.4" width="9.7" height="18" fill="url(#cdsb)" stroke="#a8a8a8" stroke-width="1"/>
<rect x="3587.8" y="1339.4" width="4.5" height="18" fill="url(#cdsb)" stroke="#a8a8a8" stroke-width="1"/>
<rect x="3596.4" y="1339.4" width="3.8" height="18" fill="url(#cdsb)" stroke="#a8a8a8" stroke-width="1"/>
<rect x="3604.4" y="1339.4" width="6.9" height="18" fill="url(#cdsb)" stroke="#a8a8a8" stroke-width="1"/>
<rect x="3614.7" y="1339.4" width="43.9" height="18" fill="url(#cdsb)" stroke="#a8a8a8" stroke-width="1"/>
<rect x="3662.1" y="1339.4" width="16.6" height="18" fill="url(#cdsb)" stroke="#a8a8a8" stroke-width="1"/>
<rect x="3682.5" y="1339.4" width="13.1" height="18" fill="url(#cdsb)" stroke="#a8a8a8" stroke-width="1"/>
<rect x="3695.6" y="1339.4" width="9.7" height="18" fill="url(#utrb)" stroke="#a8a8a8" stroke-width="1"/>
<rect x="3516.3" y="1368.8" width="4.1" height="18" fill="url(#utrb)" stroke="#a8a8a8" stroke-width="1"/>
<rect x="3532.5" y="1368.8" width="3.5" height="18" fill="url(#utrb)" stroke="#a8a8a8" stroke-width="1"/>
<rect x="3536.0" y="1368.8" width="7.9" height="18" fill="url(#cdsb)" stroke="#a8a8a8" stroke-width="1"/>
<rect x="3568.4" y="1368.8" width="17.6" height="18" fill="url(#cdsb)" stroke="#a8a8a8" stroke-width="1"/>
<rect x="3590.2" y="1368.8" width="4.1" height="18" fill="url(#cdsb)" stroke="#a8a8a8" stroke-width="1"/>
<rect x="3656.9" y="1368.8" width="10.7" height="18" fill="url(#cdsb)" stroke="#a8a8a8" stroke-width="1"/>
<rect x="3690.4" y="1368.8" width="4.1" height="18" fill="url(#cdsb)" stroke="#a8a8a8" stroke-width="1"/>
<rect x="3699.4" y="1368.8" width="3.8" height="18" fill="url(#cdsb)" stroke="#a8a8a8" stroke-width="1"/>
<rect x="3717.4" y="1368.8" width="7.3" height="18" fill="url(#cdsb)" stroke="#a8a8a8" stroke-width="1"/>
<rect x="3735.7" y="1368.8" width="43.9" height="18" fill="url(#cdsb)" stroke="#a8a8a8" stroke-width="1"/>
<rect x="3795.4" y="1368.8" width="16.9" height="18" fill="url(#cdsb)" stroke="#a8a8a8" stroke-width="1"/>
<rect x="3847.3" y="1368.8" width="13.8" height="18" fill="url(#cdsb)" stroke="#a8a8a8" stroke-width="1"/>
<rect x="3861.1" y="1368.8" width="12.4" height="18" fill="url(#utrb)" stroke="#a8a8a8" stroke-width="1"/>
<rect x="3516.3" y="1398.2" width="7.9" height="18" fill="url(#cdsb)" stroke="#a8a8a8" stroke-width="1"/>
<rect x="3571.2" y="1398.2" width="18.0" height="18" fill="url(#cdsb)" stroke="#a8a8a8" stroke-width="1"/>
<rect x="3612.3" y="1398.2" width="4.1" height="18" fill="url(#cdsb)" stroke="#a8a8a8" stroke-width="1"/>
<rect x="3709.4" y="1398.2" width="10.0" height="18" fill="url(#cdsb)" stroke="#a8a8a8" stroke-width="1"/>
<rect x="3726.3" y="1398.2" width="4.5" height="18" fill="url(#cdsb)" stroke="#a8a8a8" stroke-width="1"/>
<rect x="3736.4" y="1398.2" width="4.1" height="18" fill="url(#cdsb)" stroke="#a8a8a8" stroke-width="1"/>
<rect x="3752.2" y="1398.2" width="6.9" height="18" fill="url(#cdsb)" stroke="#a8a8a8" stroke-width="1"/>
<rect x="3762.6" y="1398.2" width="43.9" height="18" fill="url(#cdsb)" stroke="#a8a8a8" stroke-width="1"/>
<rect x="3810.3" y="1398.2" width="17.3" height="18" fill="url(#cdsb)" stroke="#a8a8a8" stroke-width="1"/>
<rect x="3842.1" y="1398.2" width="13.5" height="18" fill="url(#cdsb)" stroke="#a8a8a8" stroke-width="1"/>
<rect x="3516.3" y="1424.4" width="7.6" height="18" fill="url(#cdsb)" stroke="#a8a8a8" stroke-width="1"/>
<rect x="3595.4" y="1424.4" width="17.6" height="18" fill="url(#cdsb)" stroke="#a8a8a8" stroke-width="1"/>
<rect x="3642.4" y="1424.4" width="4.1" height="18" fill="url(#cdsb)" stroke="#a8a8a8" stroke-width="1"/>
<rect x="3654.1" y="1424.4" width="10.4" height="18" fill="url(#cdsb)" stroke="#a8a8a8" stroke-width="1"/>
<rect x="3669.3" y="1424.4" width="4.8" height="18" fill="url(#cdsb)" stroke="#a8a8a8" stroke-width="1"/>
<rect x="3676.9" y="1424.4" width="4.5" height="18" fill="url(#cdsb)" stroke="#a8a8a8" stroke-width="1"/>
<rect x="3688.3" y="1424.4" width="6.9" height="18" fill="url(#cdsb)" stroke="#a8a8a8" stroke-width="1"/>
<rect x="3699.0" y="1424.4" width="43.5" height="18" fill="url(#cdsb)" stroke="#a8a8a8" stroke-width="1"/>
<rect x="3756.4" y="1424.4" width="17.3" height="18" fill="url(#cdsb)" stroke="#a8a8a8" stroke-width="1"/>
<rect x="3798.5" y="1424.4" width="13.1" height="18" fill="url(#cdsb)" stroke="#a8a8a8" stroke-width="1"/>
<rect x="3932.3" y="1424.4" width="6.6" height="18" fill="url(#cdsb)" stroke="#a8a8a8" stroke-width="1"/>
<rect x="3968.2" y="1424.4" width="5.2" height="18" fill="url(#cdsb)" stroke="#a8a8a8" stroke-width="1"/>
<rect x="3976.1" y="1424.4" width="5.2" height="18" fill="url(#cdsb)" stroke="#a8a8a8" stroke-width="1"/>
<rect x="4054.9" y="1424.4" width="4.5" height="18" fill="url(#cdsb)" stroke="#a8a8a8" stroke-width="1"/>
<rect x="4069.1" y="1424.4" width="4.8" height="18" fill="url(#cdsb)" stroke="#a8a8a8" stroke-width="1"/>
<rect x="4077.0" y="1424.4" width="4.1" height="18" fill="url(#cdsb)" stroke="#a8a8a8" stroke-width="1"/>
<rect x="4085.0" y="1424.4" width="5.9" height="18" fill="url(#cdsb)" stroke="#a8a8a8" stroke-width="1"/>
<rect x="4107.8" y="1424.4" width="8.6" height="18" fill="url(#cdsb)" stroke="#a8a8a8" stroke-width="1"/>
<rect x="4127.8" y="1424.4" width="6.6" height="18" fill="url(#cdsb)" stroke="#a8a8a8" stroke-width="1"/>
<rect x="4144.0" y="1424.4" width="5.2" height="18" fill="url(#cdsb)" stroke="#a8a8a8" stroke-width="1"/>
<rect x="4264.3" y="1424.4" width="6.2" height="18" fill="url(#cdsb)" stroke="#a8a8a8" stroke-width="1"/>
<rect x="4273.3" y="1424.4" width="6.2" height="18" fill="url(#cdsb)" stroke="#a8a8a8" stroke-width="1"/>
<rect x="4282.2" y="1424.4" width="9.3" height="18" fill="url(#cdsb)" stroke="#a8a8a8" stroke-width="1"/>
<rect x="3516.3" y="1452.7" width="7.6" height="18" fill="url(#cdsb)" stroke="#a8a8a8" stroke-width="1"/>
<rect x="3582.3" y="1452.7" width="17.6" height="18" fill="url(#cdsb)" stroke="#a8a8a8" stroke-width="1"/>
<rect x="3609.9" y="1452.7" width="4.1" height="18" fill="url(#cdsb)" stroke="#a8a8a8" stroke-width="1"/>
<rect x="3618.2" y="1452.7" width="10.4" height="18" fill="url(#cdsb)" stroke="#a8a8a8" stroke-width="1"/>
<rect x="3646.9" y="1452.7" width="4.8" height="18" fill="url(#cdsb)" stroke="#a8a8a8" stroke-width="1"/>
<rect x="3655.2" y="1452.7" width="4.5" height="18" fill="url(#cdsb)" stroke="#a8a8a8" stroke-width="1"/>
<rect x="3669.3" y="1452.7" width="7.3" height="18" fill="url(#cdsb)" stroke="#a8a8a8" stroke-width="1"/>
<rect x="3697.3" y="1452.7" width="44.2" height="18" fill="url(#cdsb)" stroke="#a8a8a8" stroke-width="1"/>
<rect x="3746.4" y="1452.7" width="17.3" height="18" fill="url(#cdsb)" stroke="#a8a8a8" stroke-width="1"/>
<rect x="3779.5" y="1452.7" width="13.1" height="18" fill="url(#cdsb)" stroke="#a8a8a8" stroke-width="1"/>
<rect x="3516.3" y="1483.8" width="14.5" height="18" fill="url(#utrb)" stroke="#a8a8a8" stroke-width="1"/>
<rect x="3530.8" y="1483.8" width="6.9" height="18" fill="url(#cdsb)" stroke="#a8a8a8" stroke-width="1"/>
<rect x="3609.2" y="1483.8" width="17.3" height="18" fill="url(#cdsb)" stroke="#a8a8a8" stroke-width="1"/>
<rect x="3653.1" y="1483.8" width="3.8" height="18" fill="url(#cdsb)" stroke="#a8a8a8" stroke-width="1"/>
<rect x="3666.9" y="1483.8" width="10.7" height="18" fill="url(#cdsb)" stroke="#a8a8a8" stroke-width="1"/>
<rect x="3690.1" y="1483.8" width="4.8" height="18" fill="url(#cdsb)" stroke="#a8a8a8" stroke-width="1"/>
<rect x="3698.0" y="1483.8" width="4.8" height="18" fill="url(#cdsb)" stroke="#a8a8a8" stroke-width="1"/>
<rect x="3711.1" y="1483.8" width="7.3" height="18" fill="url(#cdsb)" stroke="#a8a8a8" stroke-width="1"/>
<rect x="3733.2" y="1483.8" width="44.2" height="18" fill="url(#cdsb)" stroke="#a8a8a8" stroke-width="1"/>
<rect x="3786.1" y="1483.8" width="17.6" height="18" fill="url(#cdsb)" stroke="#a8a8a8" stroke-width="1"/>
<rect x="3818.6" y="1483.8" width="13.5" height="18" fill="url(#cdsb)" stroke="#a8a8a8" stroke-width="1"/>
<rect x="3832.1" y="1483.8" width="26.6" height="18" fill="url(#utrb)" stroke="#a8a8a8" stroke-width="1"/>
<rect x="3516.3" y="1514.2" width="7.6" height="18" fill="url(#cdsb)" stroke="#a8a8a8" stroke-width="1"/>
<rect x="3580.2" y="1514.2" width="18.3" height="18" fill="url(#cdsb)" stroke="#a8a8a8" stroke-width="1"/>
<rect x="3615.8" y="1514.2" width="4.1" height="18" fill="url(#cdsb)" stroke="#a8a8a8" stroke-width="1"/>
<rect x="3630.3" y="1514.2" width="10.4" height="18" fill="url(#cdsb)" stroke="#a8a8a8" stroke-width="1"/>
<rect x="3652.4" y="1514.2" width="4.8" height="18" fill="url(#cdsb)" stroke="#a8a8a8" stroke-width="1"/>
<rect x="3660.7" y="1514.2" width="4.8" height="18" fill="url(#cdsb)" stroke="#a8a8a8" stroke-width="1"/>
<rect x="3675.9" y="1514.2" width="7.6" height="18" fill="url(#cdsb)" stroke="#a8a8a8" stroke-width="1"/>
<rect x="3762.3" y="1514.2" width="16.9" height="18" fill="url(#cdsb)" stroke="#a8a8a8" stroke-width="1"/>
<rect x="3802.0" y="1514.2" width="13.1" height="18" fill="url(#cdsb)" stroke="#a8a8a8" stroke-width="1"/>
<rect x="3516.6" y="1541.5" width="12.8" height="18" fill="url(#utrb)" stroke="#a8a8a8" stroke-width="1"/>
<rect x="3529.4" y="1541.5" width="7.6" height="18" fill="url(#cdsb)" stroke="#a8a8a8" stroke-width="1"/>
<rect x="3588.5" y="1541.5" width="17.3" height="18" fill="url(#cdsb)" stroke="#a8a8a8" stroke-width="1"/>
<rect x="3631.3" y="1541.5" width="4.1" height="18" fill="url(#cdsb)" stroke="#a8a8a8" stroke-width="1"/>
<rect x="3647.2" y="1541.5" width="10.4" height="18" fill="url(#cdsb)" stroke="#a8a8a8" stroke-width="1"/>
<rect x="3698.4" y="1541.5" width="4.5" height="18" fill="url(#cdsb)" stroke="#a8a8a8" stroke-width="1"/>
<rect x="3705.6" y="1541.5" width="4.1" height="18" fill="url(#cdsb)" stroke="#a8a8a8" stroke-width="1"/>
<rect x="3720.5" y="1541.5" width="7.3" height="18" fill="url(#cdsb)" stroke="#a8a8a8" stroke-width="1"/>
<rect x="3732.2" y="1541.5" width="35.2" height="18" fill="url(#cdsb)" stroke="#a8a8a8" stroke-width="1"/>
<rect x="3516.6" y="1571.0" width="40.1" height="18" fill="url(#cdsb)" stroke="#a8a8a8" stroke-width="1"/>
<rect x="3578.5" y="1571.0" width="17.3" height="18" fill="url(#cdsb)" stroke="#a8a8a8" stroke-width="1"/>
<rect x="3619.2" y="1571.0" width="12.1" height="18" fill="url(#cdsb)" stroke="#a8a8a8" stroke-width="1"/>
<rect x="3516.3" y="1600.3" width="5.5" height="18" fill="url(#cdsb)" stroke="#a8a8a8" stroke-width="1"/>
<rect x="3538.7" y="1600.3" width="18.0" height="18" fill="url(#cdsb)" stroke="#a8a8a8" stroke-width="1"/>
<rect x="3570.2" y="1600.3" width="4.1" height="18" fill="url(#cdsb)" stroke="#a8a8a8" stroke-width="1"/>
<rect x="3584.0" y="1600.3" width="10.4" height="18" fill="url(#cdsb)" stroke="#a8a8a8" stroke-width="1"/>
<rect x="3606.8" y="1600.3" width="4.8" height="18" fill="url(#cdsb)" stroke="#a8a8a8" stroke-width="1"/>
<rect x="3615.1" y="1600.3" width="4.8" height="18" fill="url(#cdsb)" stroke="#a8a8a8" stroke-width="1"/>
<rect x="3624.4" y="1600.3" width="9.3" height="18" fill="url(#cdsb)" stroke="#a8a8a8" stroke-width="1"/>
<rect x="3516.3" y="1629.6" width="5.5" height="18" fill="url(#cdsb)" stroke="#a8a8a8" stroke-width="1"/>
<rect x="3538.7" y="1629.6" width="18.0" height="18" fill="url(#cdsb)" stroke="#a8a8a8" stroke-width="1"/>
<rect x="3588.1" y="1629.6" width="4.5" height="18" fill="url(#cdsb)" stroke="#a8a8a8" stroke-width="1"/>
<rect x="3602.0" y="1629.6" width="10.4" height="18" fill="url(#cdsb)" stroke="#a8a8a8" stroke-width="1"/>
<rect x="3626.5" y="1629.6" width="4.8" height="18" fill="url(#cdsb)" stroke="#a8a8a8" stroke-width="1"/>
<rect x="3634.8" y="1629.6" width="4.1" height="18" fill="url(#cdsb)" stroke="#a8a8a8" stroke-width="1"/>
<rect x="3644.1" y="1629.6" width="6.9" height="18" fill="url(#cdsb)" stroke="#a8a8a8" stroke-width="1"/>
<rect x="3655.5" y="1629.6" width="43.9" height="18" fill="url(#cdsb)" stroke="#a8a8a8" stroke-width="1"/>
<rect x="3717.4" y="1629.6" width="16.9" height="18" fill="url(#cdsb)" stroke="#a8a8a8" stroke-width="1"/>
<rect x="3749.1" y="1629.6" width="40.1" height="18" fill="url(#utrb)" stroke="#a8a8a8" stroke-width="1"/>
<rect x="3516.3" y="1659.0" width="5.5" height="18" fill="url(#cdsb)" stroke="#a8a8a8" stroke-width="1"/>
<rect x="3536.3" y="1659.0" width="18.0" height="18" fill="url(#cdsb)" stroke="#a8a8a8" stroke-width="1"/>
<rect x="3572.6" y="1659.0" width="4.1" height="18" fill="url(#cdsb)" stroke="#a8a8a8" stroke-width="1"/>
<rect x="3585.4" y="1659.0" width="9.3" height="18" fill="url(#cdsb)" stroke="#a8a8a8" stroke-width="1"/>
<rect x="3609.9" y="1659.0" width="4.8" height="18" fill="url(#cdsb)" stroke="#a8a8a8" stroke-width="1"/>
<rect x="3617.9" y="1659.0" width="4.5" height="18" fill="url(#cdsb)" stroke="#a8a8a8" stroke-width="1"/>
<rect x="3627.2" y="1659.0" width="7.3" height="18" fill="url(#cdsb)" stroke="#a8a8a8" stroke-width="1"/>
<rect x="3696.3" y="1659.0" width="17.3" height="18" fill="url(#cdsb)" stroke="#a8a8a8" stroke-width="1"/>
<rect x="3718.4" y="1659.0" width="13.1" height="18" fill="url(#cdsb)" stroke="#a8a8a8" stroke-width="1"/>
<rect x="3516.3" y="1688.0" width="5.5" height="18" fill="url(#cdsb)" stroke="#a8a8a8" stroke-width="1"/>
<rect x="3536.3" y="1688.0" width="18.0" height="18" fill="url(#cdsb)" stroke="#a8a8a8" stroke-width="1"/>
<rect x="3573.3" y="1688.0" width="4.1" height="18" fill="url(#cdsb)" stroke="#a8a8a8" stroke-width="1"/>
<rect x="3585.4" y="1688.0" width="10.4" height="18" fill="url(#cdsb)" stroke="#a8a8a8" stroke-width="1"/>
<rect x="3611.3" y="1688.0" width="4.5" height="18" fill="url(#cdsb)" stroke="#a8a8a8" stroke-width="1"/>
<rect x="3618.9" y="1688.0" width="4.5" height="18" fill="url(#cdsb)" stroke="#a8a8a8" stroke-width="1"/>
<rect x="3627.9" y="1688.0" width="7.6" height="18" fill="url(#cdsb)" stroke="#a8a8a8" stroke-width="1"/>
<rect x="3698.4" y="1688.0" width="17.3" height="18" fill="url(#cdsb)" stroke="#a8a8a8" stroke-width="1"/>
<rect x="3720.1" y="1688.0" width="13.5" height="18" fill="url(#cdsb)" stroke="#a8a8a8" stroke-width="1"/>
<rect x="3516.3" y="1716.6" width="6.2" height="18" fill="url(#cdst)" stroke="#a8a8a8" stroke-width="1"/>
<rect x="3540.8" y="1716.6" width="17.6" height="18" fill="url(#cdst)" stroke="#a8a8a8" stroke-width="1"/>
<rect x="3581.2" y="1716.6" width="3.5" height="18" fill="url(#cdst)" stroke="#a8a8a8" stroke-width="1"/>
<rect x="3594.4" y="1716.6" width="6.2" height="18" fill="url(#cdst)" stroke="#a8a8a8" stroke-width="1"/>
<rect x="3516.3" y="1744.3" width="5.2" height="18" fill="url(#cdst)" stroke="#a8a8a8" stroke-width="1"/>
<rect x="3540.8" y="1744.3" width="17.6" height="18" fill="url(#cdst)" stroke="#a8a8a8" stroke-width="1"/>
<rect x="3581.2" y="1744.3" width="3.8" height="18" fill="url(#cdst)" stroke="#a8a8a8" stroke-width="1"/>
<rect x="3594.4" y="1744.3" width="10.4" height="18" fill="url(#cdst)" stroke="#a8a8a8" stroke-width="1"/>
<rect x="3617.9" y="1744.3" width="4.1" height="18" fill="url(#cdst)" stroke="#a8a8a8" stroke-width="1"/>
<rect x="3626.1" y="1744.3" width="4.1" height="18" fill="url(#cdst)" stroke="#a8a8a8" stroke-width="1"/>
<rect x="3635.1" y="1744.3" width="2.8" height="18" fill="url(#cdst)" stroke="#a8a8a8" stroke-width="1"/>
<rect x="3705.3" y="1744.3" width="17.3" height="18" fill="url(#cdst)" stroke="#a8a8a8" stroke-width="1"/>
<rect x="3740.2" y="1744.3" width="13.5" height="18" fill="url(#cdst)" stroke="#a8a8a8" stroke-width="1"/>
<rect x="3516.3" y="1771.6" width="5.2" height="18" fill="url(#cdst)" stroke="#a8a8a8" stroke-width="1"/>
<rect x="3540.8" y="1771.6" width="17.6" height="18" fill="url(#cdst)" stroke="#a8a8a8" stroke-width="1"/>
<rect x="3581.2" y="1771.6" width="3.8" height="18" fill="url(#cdst)" stroke="#a8a8a8" stroke-width="1"/>
<rect x="3594.4" y="1771.6" width="10.4" height="18" fill="url(#cdst)" stroke="#a8a8a8" stroke-width="1"/>
<rect x="3618.2" y="1771.6" width="4.1" height="18" fill="url(#cdst)" stroke="#a8a8a8" stroke-width="1"/>
<rect x="3626.1" y="1771.6" width="4.1" height="18" fill="url(#cdst)" stroke="#a8a8a8" stroke-width="1"/>
<rect x="3635.5" y="1771.6" width="6.9" height="18" fill="url(#cdst)" stroke="#a8a8a8" stroke-width="1"/>
<rect x="3706.0" y="1771.6" width="16.6" height="18" fill="url(#cdst)" stroke="#a8a8a8" stroke-width="1"/>
<rect x="3740.2" y="1771.6" width="13.5" height="18" fill="url(#cdst)" stroke="#a8a8a8" stroke-width="1"/>
<rect x="3516.3" y="1798.9" width="5.2" height="18" fill="url(#cdst)" stroke="#a8a8a8" stroke-width="1"/>
<rect x="3540.8" y="1798.9" width="17.6" height="18" fill="url(#cdst)" stroke="#a8a8a8" stroke-width="1"/>
<rect x="3581.9" y="1798.9" width="3.5" height="18" fill="url(#cdst)" stroke="#a8a8a8" stroke-width="1"/>
<rect x="3595.0" y="1798.9" width="9.7" height="18" fill="url(#cdst)" stroke="#a8a8a8" stroke-width="1"/>
<rect x="3618.2" y="1798.9" width="4.5" height="18" fill="url(#cdst)" stroke="#a8a8a8" stroke-width="1"/>
<rect x="3626.5" y="1798.9" width="4.1" height="18" fill="url(#cdst)" stroke="#a8a8a8" stroke-width="1"/>
<rect x="3706.0" y="1798.9" width="16.6" height="18" fill="url(#cdst)" stroke="#a8a8a8" stroke-width="1"/>
<rect x="3740.2" y="1798.9" width="10.4" height="18" fill="url(#cdst)" stroke="#a8a8a8" stroke-width="1"/>
<rect x="3516.3" y="1826.2" width="5.2" height="18" fill="url(#cdst)" stroke="#a8a8a8" stroke-width="1"/>
<rect x="3540.8" y="1826.2" width="17.6" height="18" fill="url(#cdst)" stroke="#a8a8a8" stroke-width="1"/>
<rect x="3581.9" y="1826.2" width="3.5" height="18" fill="url(#cdst)" stroke="#a8a8a8" stroke-width="1"/>
<rect x="3595.0" y="1826.2" width="10.4" height="18" fill="url(#cdst)" stroke="#a8a8a8" stroke-width="1"/>
<rect x="3618.2" y="1826.2" width="4.5" height="18" fill="url(#cdst)" stroke="#a8a8a8" stroke-width="1"/>
<rect x="3626.5" y="1826.2" width="4.5" height="18" fill="url(#cdst)" stroke="#a8a8a8" stroke-width="1"/>
<rect x="3636.2" y="1826.2" width="6.9" height="18" fill="url(#cdst)" stroke="#a8a8a8" stroke-width="1"/>
<rect x="3647.2" y="1826.2" width="43.2" height="18" fill="url(#cdst)" stroke="#a8a8a8" stroke-width="1"/>
<rect x="3706.0" y="1826.2" width="17.6" height="18" fill="url(#cdst)" stroke="#a8a8a8" stroke-width="1"/>
<rect x="3741.2" y="1826.2" width="13.5" height="18" fill="url(#cdst)" stroke="#a8a8a8" stroke-width="1"/>
<rect x="3515.9" y="1856.6" width="1.0" height="18" fill="url(#cdst)" stroke="#a8a8a8" stroke-width="1"/>
<rect x="3530.4" y="1856.6" width="4.8" height="18" fill="url(#cdst)" stroke="#a8a8a8" stroke-width="1"/>
<rect x="3538.0" y="1856.6" width="4.5" height="18" fill="url(#cdst)" stroke="#a8a8a8" stroke-width="1"/>
<rect x="3548.1" y="1856.6" width="6.2" height="18" fill="url(#cdst)" stroke="#a8a8a8" stroke-width="1"/>
<rect x="3558.8" y="1856.6" width="43.5" height="18" fill="url(#cdst)" stroke="#a8a8a8" stroke-width="1"/>
<rect x="3618.2" y="1856.6" width="17.3" height="18" fill="url(#cdst)" stroke="#a8a8a8" stroke-width="1"/>
<rect x="3653.4" y="1856.6" width="13.1" height="18" fill="url(#cdst)" stroke="#a8a8a8" stroke-width="1"/>
<rect x="3666.6" y="1856.6" width="18.0" height="18" fill="url(#utrt)" stroke="#a8a8a8" stroke-width="1"/>
<rect x="3515.6" y="1886.6" width="15.2" height="18" fill="url(#utrt)" stroke="#a8a8a8" stroke-width="1"/>
<rect x="3530.8" y="1886.6" width="7.6" height="18" fill="url(#cdst)" stroke="#a8a8a8" stroke-width="1"/>
<rect x="3548.4" y="1886.6" width="17.3" height="18" fill="url(#cdst)" stroke="#a8a8a8" stroke-width="1"/>
<rect x="3586.1" y="1886.6" width="4.5" height="18" fill="url(#cdst)" stroke="#a8a8a8" stroke-width="1"/>
<rect x="3595.7" y="1886.6" width="9.7" height="18" fill="url(#cdst)" stroke="#a8a8a8" stroke-width="1"/>
<rect x="3626.1" y="1886.6" width="4.5" height="18" fill="url(#cdst)" stroke="#a8a8a8" stroke-width="1"/>
<rect x="3636.2" y="1886.6" width="4.5" height="18" fill="url(#cdst)" stroke="#a8a8a8" stroke-width="1"/>
<rect x="3655.5" y="1886.6" width="6.9" height="18" fill="url(#cdst)" stroke="#a8a8a8" stroke-width="1"/>
<rect x="3680.4" y="1886.6" width="43.5" height="18" fill="url(#cdst)" stroke="#a8a8a8" stroke-width="1"/>
<rect x="3736.0" y="1886.6" width="16.9" height="18" fill="url(#cdst)" stroke="#a8a8a8" stroke-width="1"/>
<rect x="3772.6" y="1886.6" width="12.1" height="18" fill="url(#cdst)" stroke="#a8a8a8" stroke-width="1"/>
<rect x="3784.7" y="1886.6" width="10.7" height="18" fill="url(#utrt)" stroke="#a8a8a8" stroke-width="1"/>
<rect x="3516.3" y="1921.5" width="9.7" height="18" fill="url(#utrt)" stroke="#a8a8a8" stroke-width="1"/>
<rect x="3526.0" y="1921.5" width="7.6" height="18" fill="url(#cdst)" stroke="#a8a8a8" stroke-width="1"/>
<rect x="3537.7" y="1921.5" width="16.6" height="18" fill="url(#cdst)" stroke="#a8a8a8" stroke-width="1"/>
<rect x="3560.2" y="1921.5" width="4.5" height="18" fill="url(#cdst)" stroke="#a8a8a8" stroke-width="1"/>
<rect x="3612.3" y="1921.5" width="9.3" height="18" fill="url(#cdst)" stroke="#a8a8a8" stroke-width="1"/>
<rect x="3634.4" y="1921.5" width="4.5" height="18" fill="url(#cdst)" stroke="#a8a8a8" stroke-width="1"/>
<rect x="3642.0" y="1921.5" width="4.5" height="18" fill="url(#cdst)" stroke="#a8a8a8" stroke-width="1"/>
<rect x="3693.5" y="1921.5" width="6.9" height="18" fill="url(#cdst)" stroke="#a8a8a8" stroke-width="1"/>
<rect x="3703.9" y="1921.5" width="43.5" height="18" fill="url(#cdst)" stroke="#a8a8a8" stroke-width="1"/>
<rect x="3767.5" y="1921.5" width="17.3" height="18" fill="url(#cdst)" stroke="#a8a8a8" stroke-width="1"/>
<rect x="3792.7" y="1921.5" width="13.1" height="18" fill="url(#cdst)" stroke="#a8a8a8" stroke-width="1"/>
<rect x="3805.8" y="1921.5" width="9.3" height="18" fill="url(#utrt)" stroke="#a8a8a8" stroke-width="1"/>
<rect x="3515.2" y="1952.3" width="9.0" height="18" fill="url(#utrt)" stroke="#a8a8a8" stroke-width="1"/>
<rect x="3524.2" y="1952.3" width="8.3" height="18" fill="url(#cdst)" stroke="#a8a8a8" stroke-width="1"/>
<rect x="3536.3" y="1952.3" width="18.0" height="18" fill="url(#cdst)" stroke="#a8a8a8" stroke-width="1"/>
<rect x="3557.7" y="1952.3" width="4.1" height="18" fill="url(#cdst)" stroke="#a8a8a8" stroke-width="1"/>
<rect x="3592.6" y="1952.3" width="9.0" height="18" fill="url(#cdst)" stroke="#a8a8a8" stroke-width="1"/>
<rect x="3615.4" y="1952.3" width="5.2" height="18" fill="url(#cdst)" stroke="#a8a8a8" stroke-width="1"/>
<rect x="3623.7" y="1952.3" width="4.8" height="18" fill="url(#cdst)" stroke="#a8a8a8" stroke-width="1"/>
<rect x="3661.4" y="1952.3" width="7.6" height="18" fill="url(#cdst)" stroke="#a8a8a8" stroke-width="1"/>
<rect x="3672.1" y="1952.3" width="43.5" height="18" fill="url(#cdst)" stroke="#a8a8a8" stroke-width="1"/>
<rect x="3737.4" y="1952.3" width="17.3" height="18" fill="url(#cdst)" stroke="#a8a8a8" stroke-width="1"/>
<rect x="3770.2" y="1952.3" width="12.8" height="18" fill="url(#cdst)" stroke="#a8a8a8" stroke-width="1"/>
<rect x="3783.0" y="1952.3" width="4.5" height="18" fill="url(#utrt)" stroke="#a8a8a8" stroke-width="1"/>
<rect x="3792.7" y="1952.3" width="7.6" height="18" fill="url(#utrt)" stroke="#a8a8a8" stroke-width="1"/>
<rect x="3960.9" y="1952.3" width="4.5" height="18" fill="url(#utrt)" stroke="#a8a8a8" stroke-width="1"/>
<rect x="4013.8" y="1952.3" width="15.9" height="18" fill="url(#utrt)" stroke="#a8a8a8" stroke-width="1"/>
<rect x="3516.3" y="1984.7" width="6.2" height="18" fill="url(#utrt)" stroke="#a8a8a8" stroke-width="1"/>
<rect x="3522.5" y="1984.7" width="7.9" height="18" fill="url(#cdst)" stroke="#a8a8a8" stroke-width="1"/>
<rect x="3532.5" y="1984.7" width="6.9" height="18" fill="url(#cdst)" stroke="#a8a8a8" stroke-width="1"/>
<rect x="3578.5" y="1984.7" width="5.2" height="18" fill="url(#cdst)" stroke="#a8a8a8" stroke-width="1"/>
<rect x="3588.8" y="1984.7" width="4.5" height="18" fill="url(#cdst)" stroke="#a8a8a8" stroke-width="1"/>
<rect x="3595.7" y="1984.7" width="4.8" height="18" fill="url(#cdst)" stroke="#a8a8a8" stroke-width="1"/>
<rect x="3603.0" y="1984.7" width="3.8" height="18" fill="url(#cdst)" stroke="#a8a8a8" stroke-width="1"/>
<rect x="3608.9" y="1984.7" width="4.8" height="18" fill="url(#cdst)" stroke="#a8a8a8" stroke-width="1"/>
<rect x="3616.5" y="1984.7" width="5.2" height="18" fill="url(#cdst)" stroke="#a8a8a8" stroke-width="1"/>
<rect x="3627.9" y="1984.7" width="6.6" height="18" fill="url(#cdst)" stroke="#a8a8a8" stroke-width="1"/>
<rect x="3664.1" y="1984.7" width="5.2" height="18" fill="url(#cdst)" stroke="#a8a8a8" stroke-width="1"/>
<rect x="3726.0" y="1984.7" width="3.5" height="18" fill="url(#cdst)" stroke="#a8a8a8" stroke-width="1"/>
<rect x="3743.3" y="1984.7" width="9.0" height="18" fill="url(#cdst)" stroke="#a8a8a8" stroke-width="1"/>
<rect x="3771.3" y="1984.7" width="6.6" height="18" fill="url(#cdst)" stroke="#a8a8a8" stroke-width="1"/>
<rect x="3789.9" y="1984.7" width="4.5" height="18" fill="url(#cdst)" stroke="#a8a8a8" stroke-width="1"/>
<rect x="3800.3" y="1984.7" width="6.2" height="18" fill="url(#cdst)" stroke="#a8a8a8" stroke-width="1"/>
<rect x="3853.1" y="1984.7" width="4.5" height="18" fill="url(#cdst)" stroke="#a8a8a8" stroke-width="1"/>
<rect x="3867.0" y="1984.7" width="4.5" height="18" fill="url(#cdst)" stroke="#a8a8a8" stroke-width="1"/>
<rect x="3886.0" y="1984.7" width="6.2" height="18" fill="url(#cdst)" stroke="#a8a8a8" stroke-width="1"/>
<rect x="3895.6" y="1984.7" width="10.0" height="18" fill="url(#cdst)" stroke="#a8a8a8" stroke-width="1"/>
<rect x="3908.4" y="1984.7" width="37.0" height="18" fill="url(#cdst)" stroke="#a8a8a8" stroke-width="1"/>
<rect x="3945.4" y="1984.7" width="10.4" height="18" fill="url(#utrt)" stroke="#a8a8a8" stroke-width="1"/>
<rect x="3516.3" y="2020.0" width="5.9" height="18" fill="url(#utrt)" stroke="#a8a8a8" stroke-width="1"/>
<rect x="3522.2" y="2020.0" width="15.5" height="18" fill="url(#cdst)" stroke="#a8a8a8" stroke-width="1"/>
<rect x="3542.2" y="2020.0" width="17.3" height="18" fill="url(#cdst)" stroke="#a8a8a8" stroke-width="1"/>
<rect x="3563.3" y="2020.0" width="4.1" height="18" fill="url(#cdst)" stroke="#a8a8a8" stroke-width="1"/>
<rect x="3617.2" y="2020.0" width="10.4" height="18" fill="url(#cdst)" stroke="#a8a8a8" stroke-width="1"/>
<rect x="3661.4" y="2020.0" width="4.1" height="18" fill="url(#cdst)" stroke="#a8a8a8" stroke-width="1"/>
<rect x="3670.4" y="2020.0" width="3.8" height="18" fill="url(#cdst)" stroke="#a8a8a8" stroke-width="1"/>
<rect x="3694.2" y="2020.0" width="7.6" height="18" fill="url(#cdst)" stroke="#a8a8a8" stroke-width="1"/>
<rect x="3707.7" y="2020.0" width="43.9" height="18" fill="url(#cdst)" stroke="#a8a8a8" stroke-width="1"/>
<rect x="3755.4" y="2020.0" width="17.3" height="18" fill="url(#cdst)" stroke="#a8a8a8" stroke-width="1"/>
<rect x="3777.1" y="2020.0" width="13.1" height="18" fill="url(#cdst)" stroke="#a8a8a8" stroke-width="1"/>
<rect x="3790.3" y="2020.0" width="124.4" height="18" fill="url(#utrt)" stroke="#a8a8a8" stroke-width="1"/>
<rect x="3515.2" y="2053.3" width="13.1" height="18" fill="url(#utrb)" stroke="#a8a8a8" stroke-width="1"/>
<rect x="3528.4" y="2053.3" width="6.9" height="18" fill="url(#cdsb)" stroke="#a8a8a8" stroke-width="1"/>
<rect x="3568.1" y="2053.3" width="7.6" height="18" fill="url(#cdsb)" stroke="#a8a8a8" stroke-width="1"/>
<rect x="3589.9" y="2053.3" width="5.9" height="18" fill="url(#cdsb)" stroke="#a8a8a8" stroke-width="1"/>
<rect x="3599.5" y="2053.3" width="4.8" height="18" fill="url(#cdsb)" stroke="#a8a8a8" stroke-width="1"/>
<rect x="3607.8" y="2053.3" width="4.1" height="18" fill="url(#cdsb)" stroke="#a8a8a8" stroke-width="1"/>
<rect x="3615.1" y="2053.3" width="4.1" height="18" fill="url(#cdsb)" stroke="#a8a8a8" stroke-width="1"/>
<rect x="3621.3" y="2053.3" width="3.8" height="18" fill="url(#cdsb)" stroke="#a8a8a8" stroke-width="1"/>
<rect x="3628.6" y="2053.3" width="5.2" height="18" fill="url(#cdsb)" stroke="#a8a8a8" stroke-width="1"/>
<rect x="3676.9" y="2053.3" width="6.9" height="18" fill="url(#cdsb)" stroke="#a8a8a8" stroke-width="1"/>
<rect x="3701.1" y="2053.3" width="6.6" height="18" fill="url(#cdsb)" stroke="#a8a8a8" stroke-width="1"/>
<rect x="3784.7" y="2053.3" width="3.8" height="18" fill="url(#cdsb)" stroke="#a8a8a8" stroke-width="1"/>
<rect x="3794.1" y="2053.3" width="10.7" height="18" fill="url(#cdsb)" stroke="#a8a8a8" stroke-width="1"/>
<rect x="3880.1" y="2053.3" width="5.9" height="18" fill="url(#cdsb)" stroke="#a8a8a8" stroke-width="1"/>
<rect x="3891.1" y="2053.3" width="4.5" height="18" fill="url(#cdsb)" stroke="#a8a8a8" stroke-width="1"/>
<rect x="3899.1" y="2053.3" width="6.9" height="18" fill="url(#cdsb)" stroke="#a8a8a8" stroke-width="1"/>
<rect x="3921.5" y="2053.3" width="4.8" height="18" fill="url(#cdsb)" stroke="#a8a8a8" stroke-width="1"/>
<rect x="3932.6" y="2053.3" width="5.2" height="18" fill="url(#cdsb)" stroke="#a8a8a8" stroke-width="1"/>
<rect x="3993.8" y="2053.3" width="5.5" height="18" fill="url(#cdsb)" stroke="#a8a8a8" stroke-width="1"/>
<rect x="4002.7" y="2053.3" width="9.3" height="18" fill="url(#cdsb)" stroke="#a8a8a8" stroke-width="1"/>
<rect x="4028.3" y="2053.3" width="36.3" height="18" fill="url(#cdsb)" stroke="#a8a8a8" stroke-width="1"/>
<rect x="4064.6" y="2053.3" width="18.3" height="18" fill="url(#utrb)" stroke="#a8a8a8" stroke-width="1"/>
<rect x="3515.2" y="2084.6" width="7.3" height="18" fill="url(#cdsb)" stroke="#a8a8a8" stroke-width="1"/>
<rect x="3551.9" y="2084.6" width="7.6" height="18" fill="url(#cdsb)" stroke="#a8a8a8" stroke-width="1"/>
<rect x="3596.8" y="2084.6" width="5.2" height="18" fill="url(#cdsb)" stroke="#a8a8a8" stroke-width="1"/>
<rect x="3606.1" y="2084.6" width="4.5" height="18" fill="url(#cdsb)" stroke="#a8a8a8" stroke-width="1"/>
<rect x="3613.0" y="2084.6" width="4.1" height="18" fill="url(#cdsb)" stroke="#a8a8a8" stroke-width="1"/>
<rect x="3631.3" y="2084.6" width="4.1" height="18" fill="url(#cdsb)" stroke="#a8a8a8" stroke-width="1"/>
<rect x="3638.2" y="2084.6" width="4.1" height="18" fill="url(#cdsb)" stroke="#a8a8a8" stroke-width="1"/>
<rect x="3645.8" y="2084.6" width="4.5" height="18" fill="url(#cdsb)" stroke="#a8a8a8" stroke-width="1"/>
<rect x="3695.9" y="2084.6" width="6.9" height="18" fill="url(#cdsb)" stroke="#a8a8a8" stroke-width="1"/>
<rect x="3731.2" y="2084.6" width="5.2" height="18" fill="url(#cdsb)" stroke="#a8a8a8" stroke-width="1"/>
<rect x="3811.7" y="2084.6" width="4.1" height="18" fill="url(#cdsb)" stroke="#a8a8a8" stroke-width="1"/>
<rect x="3821.3" y="2084.6" width="14.5" height="18" fill="url(#cdsb)" stroke="#a8a8a8" stroke-width="1"/>
<rect x="3849.0" y="2084.6" width="5.2" height="18" fill="url(#cdsb)" stroke="#a8a8a8" stroke-width="1"/>
<rect x="3857.6" y="2084.6" width="5.2" height="18" fill="url(#cdsb)" stroke="#a8a8a8" stroke-width="1"/>
<rect x="3865.9" y="2084.6" width="6.9" height="18" fill="url(#cdsb)" stroke="#a8a8a8" stroke-width="1"/>
<rect x="3877.3" y="2084.6" width="5.2" height="18" fill="url(#cdsb)" stroke="#a8a8a8" stroke-width="1"/>
<rect x="3892.2" y="2084.6" width="3.5" height="18" fill="url(#cdsb)" stroke="#a8a8a8" stroke-width="1"/>
<rect x="3913.9" y="2084.6" width="6.6" height="18" fill="url(#cdsb)" stroke="#a8a8a8" stroke-width="1"/>
<rect x="3934.3" y="2084.6" width="9.7" height="18" fill="url(#cdsb)" stroke="#a8a8a8" stroke-width="1"/>
<rect x="3970.6" y="2084.6" width="36.3" height="18" fill="url(#cdsb)" stroke="#a8a8a8" stroke-width="1"/>
<rect x="4006.9" y="2084.6" width="24.2" height="18" fill="url(#utrb)" stroke="#a8a8a8" stroke-width="1"/>
<rect x="3516.3" y="2118.4" width="7.3" height="18" fill="url(#cdst)" stroke="#a8a8a8" stroke-width="1"/>
<rect x="3588.1" y="2118.4" width="7.6" height="18" fill="url(#cdst)" stroke="#a8a8a8" stroke-width="1"/>
<rect x="3607.1" y="2118.4" width="5.2" height="18" fill="url(#cdst)" stroke="#a8a8a8" stroke-width="1"/>
<rect x="3617.9" y="2118.4" width="4.1" height="18" fill="url(#cdst)" stroke="#a8a8a8" stroke-width="1"/>
<rect x="3625.1" y="2118.4" width="4.5" height="18" fill="url(#cdst)" stroke="#a8a8a8" stroke-width="1"/>
<rect x="3631.3" y="2118.4" width="4.1" height="18" fill="url(#cdst)" stroke="#a8a8a8" stroke-width="1"/>
<rect x="3637.9" y="2118.4" width="3.8" height="18" fill="url(#cdst)" stroke="#a8a8a8" stroke-width="1"/>
<rect x="3645.8" y="2118.4" width="5.9" height="18" fill="url(#cdst)" stroke="#a8a8a8" stroke-width="1"/>
<rect x="3670.0" y="2118.4" width="6.6" height="18" fill="url(#cdst)" stroke="#a8a8a8" stroke-width="1"/>
<rect x="3693.2" y="2118.4" width="5.5" height="18" fill="url(#cdst)" stroke="#a8a8a8" stroke-width="1"/>
<rect x="3717.7" y="2118.4" width="3.5" height="18" fill="url(#cdst)" stroke="#a8a8a8" stroke-width="1"/>
<rect x="3727.4" y="2118.4" width="9.3" height="18" fill="url(#cdst)" stroke="#a8a8a8" stroke-width="1"/>
<rect x="3740.5" y="2118.4" width="6.2" height="18" fill="url(#cdst)" stroke="#a8a8a8" stroke-width="1"/>
<rect x="3752.9" y="2118.4" width="5.2" height="18" fill="url(#cdst)" stroke="#a8a8a8" stroke-width="1"/>
<rect x="3760.9" y="2118.4" width="6.6" height="18" fill="url(#cdst)" stroke="#a8a8a8" stroke-width="1"/>
<rect x="3781.3" y="2118.4" width="4.5" height="18" fill="url(#cdst)" stroke="#a8a8a8" stroke-width="1"/>
<rect x="3790.3" y="2118.4" width="4.5" height="18" fill="url(#cdst)" stroke="#a8a8a8" stroke-width="1"/>
<rect x="3806.1" y="2118.4" width="6.2" height="18" fill="url(#cdst)" stroke="#a8a8a8" stroke-width="1"/>
<rect x="3828.3" y="2118.4" width="10.0" height="18" fill="url(#cdst)" stroke="#a8a8a8" stroke-width="1"/>
<rect x="3847.3" y="2118.4" width="36.3" height="18" fill="url(#cdst)" stroke="#a8a8a8" stroke-width="1"/>
<rect x="3517.0" y="2154.3" width="8.6" height="18" fill="url(#cdst)" stroke="#a8a8a8" stroke-width="1"/>
<rect x="3532.5" y="2154.3" width="7.3" height="18" fill="url(#cdst)" stroke="#a8a8a8" stroke-width="1"/>
<rect x="3544.3" y="2154.3" width="4.8" height="18" fill="url(#cdst)" stroke="#a8a8a8" stroke-width="1"/>
<rect x="3553.6" y="2154.3" width="4.8" height="18" fill="url(#cdst)" stroke="#a8a8a8" stroke-width="1"/>
<rect x="3561.2" y="2154.3" width="4.5" height="18" fill="url(#cdst)" stroke="#a8a8a8" stroke-width="1"/>
<rect x="3568.4" y="2154.3" width="4.1" height="18" fill="url(#cdst)" stroke="#a8a8a8" stroke-width="1"/>
<rect x="3575.0" y="2154.3" width="4.1" height="18" fill="url(#cdst)" stroke="#a8a8a8" stroke-width="1"/>
<rect x="3581.9" y="2154.3" width="4.5" height="18" fill="url(#cdst)" stroke="#a8a8a8" stroke-width="1"/>
<rect x="3596.4" y="2154.3" width="5.9" height="18" fill="url(#cdst)" stroke="#a8a8a8" stroke-width="1"/>
<rect x="3606.8" y="2154.3" width="5.2" height="18" fill="url(#cdst)" stroke="#a8a8a8" stroke-width="1"/>
<rect x="3614.7" y="2154.3" width="5.2" height="18" fill="url(#cdst)" stroke="#a8a8a8" stroke-width="1"/>
<rect x="3622.3" y="2154.3" width="9.7" height="18" fill="url(#cdst)" stroke="#a8a8a8" stroke-width="1"/>
<rect x="3637.2" y="2154.3" width="5.2" height="18" fill="url(#cdst)" stroke="#a8a8a8" stroke-width="1"/>
<rect x="3644.8" y="2154.3" width="5.5" height="18" fill="url(#cdst)" stroke="#a8a8a8" stroke-width="1"/>
<rect x="3652.7" y="2154.3" width="7.6" height="18" fill="url(#cdst)" stroke="#a8a8a8" stroke-width="1"/>
<rect x="3663.8" y="2154.3" width="5.2" height="18" fill="url(#cdst)" stroke="#a8a8a8" stroke-width="1"/>
<rect x="3671.7" y="2154.3" width="5.2" height="18" fill="url(#cdst)" stroke="#a8a8a8" stroke-width="1"/>
<rect x="3681.4" y="2154.3" width="5.9" height="18" fill="url(#cdst)" stroke="#a8a8a8" stroke-width="1"/>
<rect x="3689.7" y="2154.3" width="9.7" height="18" fill="url(#cdst)" stroke="#a8a8a8" stroke-width="1"/>
<rect x="3708.0" y="2154.3" width="36.3" height="18" fill="url(#cdst)" stroke="#a8a8a8" stroke-width="1"/>
<rect x="3744.3" y="2154.3" width="9.7" height="18" fill="url(#utrt)" stroke="#a8a8a8" stroke-width="1"/>
<rect x="3515.2" y="2195.1" width="7.3" height="18" fill="url(#cdst)" stroke="#a8a8a8" stroke-width="1"/>
<rect x="3543.2" y="2195.1" width="7.3" height="18" fill="url(#cdst)" stroke="#a8a8a8" stroke-width="1"/>
<rect x="3578.1" y="2195.1" width="5.5" height="18" fill="url(#cdst)" stroke="#a8a8a8" stroke-width="1"/>
<rect x="3598.2" y="2195.1" width="4.5" height="18" fill="url(#cdst)" stroke="#a8a8a8" stroke-width="1"/>
<rect x="3605.8" y="2195.1" width="4.1" height="18" fill="url(#cdst)" stroke="#a8a8a8" stroke-width="1"/>
<rect x="3612.7" y="2195.1" width="4.5" height="18" fill="url(#cdst)" stroke="#a8a8a8" stroke-width="1"/>
<rect x="3619.6" y="2195.1" width="4.8" height="18" fill="url(#cdst)" stroke="#a8a8a8" stroke-width="1"/>
<rect x="3627.9" y="2195.1" width="4.8" height="18" fill="url(#cdst)" stroke="#a8a8a8" stroke-width="1"/>
<rect x="3661.7" y="2195.1" width="6.9" height="18" fill="url(#cdst)" stroke="#a8a8a8" stroke-width="1"/>
<rect x="3702.8" y="2195.1" width="5.9" height="18" fill="url(#cdst)" stroke="#a8a8a8" stroke-width="1"/>
<rect x="3747.8" y="2195.1" width="3.5" height="18" fill="url(#cdst)" stroke="#a8a8a8" stroke-width="1"/>
<rect x="3756.4" y="2195.1" width="13.1" height="18" fill="url(#cdst)" stroke="#a8a8a8" stroke-width="1"/>
<rect x="3806.1" y="2195.1" width="4.8" height="18" fill="url(#cdst)" stroke="#a8a8a8" stroke-width="1"/>
<rect x="3814.4" y="2195.1" width="5.5" height="18" fill="url(#cdst)" stroke="#a8a8a8" stroke-width="1"/>
<rect x="3822.0" y="2195.1" width="7.3" height="18" fill="url(#cdst)" stroke="#a8a8a8" stroke-width="1"/>
<rect x="3858.3" y="2195.1" width="4.1" height="18" fill="url(#cdst)" stroke="#a8a8a8" stroke-width="1"/>
<rect x="3873.2" y="2195.1" width="3.8" height="18" fill="url(#cdst)" stroke="#a8a8a8" stroke-width="1"/>
<rect x="3895.6" y="2195.1" width="6.6" height="18" fill="url(#cdst)" stroke="#a8a8a8" stroke-width="1"/>
<rect x="3905.0" y="2195.1" width="9.3" height="18" fill="url(#cdst)" stroke="#a8a8a8" stroke-width="1"/>
<rect x="3936.1" y="2195.1" width="36.6" height="18" fill="url(#cdst)" stroke="#a8a8a8" stroke-width="1"/>
<rect x="3516.3" y="2230.4" width="9.7" height="18" fill="url(#cdst)" stroke="#a8a8a8" stroke-width="1"/>
<rect x="3575.0" y="2230.4" width="7.6" height="18" fill="url(#cdst)" stroke="#a8a8a8" stroke-width="1"/>
<rect x="3588.5" y="2230.4" width="6.2" height="18" fill="url(#cdst)" stroke="#a8a8a8" stroke-width="1"/>
<rect x="3624.4" y="2230.4" width="4.8" height="18" fill="url(#cdst)" stroke="#a8a8a8" stroke-width="1"/>
<rect x="3632.0" y="2230.4" width="4.5" height="18" fill="url(#cdst)" stroke="#a8a8a8" stroke-width="1"/>
<rect x="3640.7" y="2230.4" width="4.5" height="18" fill="url(#cdst)" stroke="#a8a8a8" stroke-width="1"/>
<rect x="3648.6" y="2230.4" width="5.2" height="18" fill="url(#cdst)" stroke="#a8a8a8" stroke-width="1"/>
<rect x="3658.6" y="2230.4" width="7.3" height="18" fill="url(#cdst)" stroke="#a8a8a8" stroke-width="1"/>
<rect x="3674.2" y="2230.4" width="6.2" height="18" fill="url(#cdst)" stroke="#a8a8a8" stroke-width="1"/>
<rect x="3701.1" y="2230.4" width="3.5" height="18" fill="url(#cdst)" stroke="#a8a8a8" stroke-width="1"/>
<rect x="3722.9" y="2230.4" width="11.4" height="18" fill="url(#cdst)" stroke="#a8a8a8" stroke-width="1"/>
<rect x="3750.9" y="2230.4" width="6.6" height="18" fill="url(#cdst)" stroke="#a8a8a8" stroke-width="1"/>
<rect x="3764.3" y="2230.4" width="5.2" height="18" fill="url(#cdst)" stroke="#a8a8a8" stroke-width="1"/>
<rect x="3774.7" y="2230.4" width="6.6" height="18" fill="url(#cdst)" stroke="#a8a8a8" stroke-width="1"/>
<rect x="3808.6" y="2230.4" width="5.5" height="18" fill="url(#cdst)" stroke="#a8a8a8" stroke-width="1"/>
<rect x="3819.6" y="2230.4" width="4.8" height="18" fill="url(#cdst)" stroke="#a8a8a8" stroke-width="1"/>
<rect x="3831.7" y="2230.4" width="5.9" height="18" fill="url(#cdst)" stroke="#a8a8a8" stroke-width="1"/>
<rect x="3841.0" y="2230.4" width="9.7" height="18" fill="url(#cdst)" stroke="#a8a8a8" stroke-width="1"/>
<rect x="3864.5" y="2230.4" width="36.3" height="18" fill="url(#cdst)" stroke="#a8a8a8" stroke-width="1"/>
<rect x="3900.8" y="2230.4" width="24.9" height="18" fill="url(#utrt)" stroke="#a8a8a8" stroke-width="1"/>
<rect x="3517.0" y="2259.0" width="7.3" height="18" fill="url(#utrb)" stroke="#a8a8a8" stroke-width="1"/>
<rect x="3524.2" y="2259.0" width="14.5" height="18" fill="url(#cdsb)" stroke="#a8a8a8" stroke-width="1"/>
<rect x="3542.2" y="2259.0" width="18.0" height="18" fill="url(#cdsb)" stroke="#a8a8a8" stroke-width="1"/>
<rect x="3564.0" y="2259.0" width="4.1" height="18" fill="url(#cdsb)" stroke="#a8a8a8" stroke-width="1"/>
<rect x="3572.2" y="2259.0" width="10.4" height="18" fill="url(#cdsb)" stroke="#a8a8a8" stroke-width="1"/>
<rect x="3586.1" y="2259.0" width="5.2" height="18" fill="url(#cdsb)" stroke="#a8a8a8" stroke-width="1"/>
<rect x="3603.3" y="2259.0" width="5.2" height="18" fill="url(#cdsb)" stroke="#a8a8a8" stroke-width="1"/>
<rect x="3838.3" y="2259.0" width="7.3" height="18" fill="url(#cdsb)" stroke="#a8a8a8" stroke-width="1"/>
<rect x="3852.1" y="2259.0" width="61.5" height="18" fill="url(#cdsb)" stroke="#a8a8a8" stroke-width="1"/>
<rect x="3928.1" y="2259.0" width="13.8" height="18" fill="url(#cdsb)" stroke="#a8a8a8" stroke-width="1"/>
<rect x="3941.9" y="2259.0" width="13.8" height="18" fill="url(#utrb)" stroke="#a8a8a8" stroke-width="1"/>
<rect x="3517.0" y="2285.6" width="5.9" height="18" fill="url(#utrb)" stroke="#a8a8a8" stroke-width="1"/>
<rect x="3522.8" y="2285.6" width="16.6" height="18" fill="url(#cdsb)" stroke="#a8a8a8" stroke-width="1"/>
<rect x="3543.2" y="2285.6" width="17.6" height="18" fill="url(#cdsb)" stroke="#a8a8a8" stroke-width="1"/>
<rect x="3564.3" y="2285.6" width="4.1" height="18" fill="url(#cdsb)" stroke="#a8a8a8" stroke-width="1"/>
<rect x="3618.2" y="2285.6" width="10.4" height="18" fill="url(#cdsb)" stroke="#a8a8a8" stroke-width="1"/>
<rect x="3662.1" y="2285.6" width="4.5" height="18" fill="url(#cdsb)" stroke="#a8a8a8" stroke-width="1"/>
<rect x="3671.1" y="2285.6" width="5.2" height="18" fill="url(#cdsb)" stroke="#a8a8a8" stroke-width="1"/>
<rect x="3694.9" y="2285.6" width="7.9" height="18" fill="url(#cdsb)" stroke="#a8a8a8" stroke-width="1"/>
<rect x="3708.0" y="2285.6" width="44.2" height="18" fill="url(#cdsb)" stroke="#a8a8a8" stroke-width="1"/>
<rect x="3756.7" y="2285.6" width="17.3" height="18" fill="url(#cdsb)" stroke="#a8a8a8" stroke-width="1"/>
<rect x="3778.5" y="2285.6" width="13.5" height="18" fill="url(#cdsb)" stroke="#a8a8a8" stroke-width="1"/>
<rect x="3792.0" y="2285.6" width="124.0" height="18" fill="url(#utrb)" stroke="#a8a8a8" stroke-width="1"/>
<rect x="3516.3" y="2315.0" width="7.3" height="18" fill="url(#cdst)" stroke="#a8a8a8" stroke-width="1"/>
<rect x="3527.0" y="2315.0" width="7.6" height="18" fill="url(#cdst)" stroke="#a8a8a8" stroke-width="1"/>
<rect x="3537.4" y="2315.0" width="5.9" height="18" fill="url(#cdst)" stroke="#a8a8a8" stroke-width="1"/>
<rect x="3545.6" y="2315.0" width="3.8" height="18" fill="url(#cdst)" stroke="#a8a8a8" stroke-width="1"/>
<rect x="3556.0" y="2315.0" width="4.1" height="18" fill="url(#cdst)" stroke="#a8a8a8" stroke-width="1"/>
<rect x="3562.9" y="2315.0" width="4.5" height="18" fill="url(#cdst)" stroke="#a8a8a8" stroke-width="1"/>
<rect x="3569.5" y="2315.0" width="4.5" height="18" fill="url(#cdst)" stroke="#a8a8a8" stroke-width="1"/>
<rect x="3578.5" y="2315.0" width="4.1" height="18" fill="url(#cdst)" stroke="#a8a8a8" stroke-width="1"/>
<rect x="3594.4" y="2315.0" width="6.6" height="18" fill="url(#cdst)" stroke="#a8a8a8" stroke-width="1"/>
<rect x="3605.4" y="2315.0" width="6.6" height="18" fill="url(#cdst)" stroke="#a8a8a8" stroke-width="1"/>
<rect x="3625.1" y="2315.0" width="3.5" height="18" fill="url(#cdst)" stroke="#a8a8a8" stroke-width="1"/>
<rect x="3633.1" y="2315.0" width="10.7" height="18" fill="url(#cdst)" stroke="#a8a8a8" stroke-width="1"/>
<rect x="3682.1" y="2315.0" width="6.2" height="18" fill="url(#cdst)" stroke="#a8a8a8" stroke-width="1"/>
<rect x="3691.8" y="2315.0" width="5.9" height="18" fill="url(#cdst)" stroke="#a8a8a8" stroke-width="1"/>
<rect x="3701.1" y="2315.0" width="6.9" height="18" fill="url(#cdst)" stroke="#a8a8a8" stroke-width="1"/>
<rect x="3710.8" y="2315.0" width="4.1" height="18" fill="url(#cdst)" stroke="#a8a8a8" stroke-width="1"/>
<rect x="3718.4" y="2315.0" width="4.5" height="18" fill="url(#cdst)" stroke="#a8a8a8" stroke-width="1"/>
<rect x="3726.3" y="2315.0" width="5.9" height="18" fill="url(#cdst)" stroke="#a8a8a8" stroke-width="1"/>
<rect x="3736.4" y="2315.0" width="9.7" height="18" fill="url(#cdst)" stroke="#a8a8a8" stroke-width="1"/>
<rect x="3748.4" y="2315.0" width="36.3" height="18" fill="url(#cdst)" stroke="#a8a8a8" stroke-width="1"/>
<rect x="4031.8" y="892.8" width="97.7" height="36.2" fill="url(#cdst)" stroke="#bbb" stroke-width="1"/>
<rect x="4031.8" y="944.6" width="97.7" height="36.3" fill="url(#utrt)" stroke="#bbb" stroke-width="1"/>
<text x="4139.2" y="916" font-family="'Liberation Serif', serif" font-size="28.5">CDS</text>
<text x="4139.2" y="969" font-family="'Liberation Serif', serif" font-size="28.5">UTR</text>
<path d="M3507.6,2355.4 H4302.3" stroke="#111" stroke-width="2.5"/>
<path d="M3507.6,2355.4 V2363.5" stroke="#111" stroke-width="2.2"/>
<path d="M3628.6,2355.4 V2363.5" stroke="#111" stroke-width="2.2"/>
<path d="M3763.3,2355.4 V2363.5" stroke="#111" stroke-width="2.2"/>
<path d="M3908.4,2355.4 V2363.5" stroke="#111" stroke-width="2.2"/>
<path d="M4036.2,2355.4 V2363.5" stroke="#111" stroke-width="2.2"/>
<path d="M4173.7,2355.4 V2363.5" stroke="#111" stroke-width="2.2"/>
<path d="M4301.6,2355.4 V2363.5" stroke="#111" stroke-width="2.2"/>
<text x="3507.6" y="2390.7" text-anchor="middle" font-family="'Liberation Serif', serif" font-size="33" textLength="13.4" lengthAdjust="spacingAndGlyphs">0</text>
<text x="3636" y="2394" text-anchor="middle" font-family="'Liberation Serif', serif" font-size="33" textLength="53.6" lengthAdjust="spacingAndGlyphs">3000</text>
<text x="3768.5" y="2389" text-anchor="middle" font-family="'Liberation Serif', serif" font-size="33" textLength="53.6" lengthAdjust="spacingAndGlyphs">6000</text>
<text x="3911.9" y="2389" text-anchor="middle" font-family="'Liberation Serif', serif" font-size="33" textLength="53.6" lengthAdjust="spacingAndGlyphs">9000</text>
<text x="4043" y="2389" text-anchor="middle" font-family="'Liberation Serif', serif" font-size="33" textLength="67.0" lengthAdjust="spacingAndGlyphs">12000</text>
<text x="4180" y="2390" text-anchor="middle" font-family="'Liberation Serif', serif" font-size="33" textLength="67.0" lengthAdjust="spacingAndGlyphs">15000</text>
<text x="4305" y="2389" text-anchor="middle" font-family="'Liberation Serif', serif" font-size="33" textLength="67.0" lengthAdjust="spacingAndGlyphs">18000</text>
<text x="3486" y="2361" font-family="'Liberation Serif', serif" font-size="33">5’</text>
<text x="4298" y="2347" font-family="'Liberation Serif', serif" font-size="33">3’</text>
</svg></body></html>
